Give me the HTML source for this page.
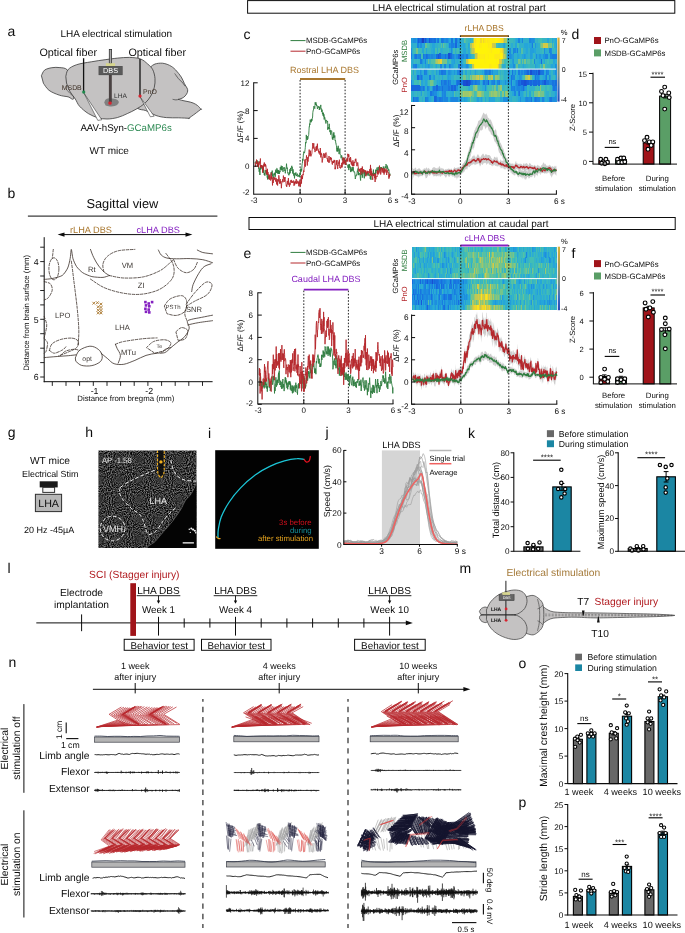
<!DOCTYPE html>
<html lang="en"><head><meta charset="utf-8"><title>LHA electrical stimulation figure</title>
<style>html,body{margin:0;padding:0;background:#fff}body{width:685px;height:933px;overflow:hidden;font-family:"Liberation Sans",sans-serif}svg{display:block;opacity:0.9999;will-change:transform}</style></head>
<body>
<svg width="685" height="933" viewBox="0 0 685 933" font-family="'Liberation Sans', sans-serif" fill="#0c0c0c" text-rendering="geometricPrecision"><defs><linearGradient id="cbar" x1="0" y1="0" x2="0" y2="1"><stop offset="0" stop-color="#d9b23a"/><stop offset="0.12" stop-color="#c9a640"/><stop offset="0.35" stop-color="#a59a5a"/><stop offset="0.6" stop-color="#6f8a90"/><stop offset="0.8" stop-color="#3a6cc0"/><stop offset="1" stop-color="#2748b8"/></linearGradient><clipPath id="hclip"><rect x="98.4" y="450.4" width="98.1" height="97.7"/></clipPath><filter id="speck" x="0" y="0" width="1" height="1" color-interpolation-filters="sRGB"><feTurbulence type="fractalNoise" baseFrequency="0.95" numOctaves="1" seed="3"/><feColorMatrix type="matrix" values="1.1 0 0 0 -0.33  1.1 0 0 0 -0.33  1.1 0 0 0 -0.33  0 0 0 0 1"/></filter></defs>
<rect x="247.6" y="0.6" width="427.2" height="12.6" fill="#fff" stroke="#0c0c0c" stroke-width="1"/>
<text x="459.2" y="10.6" font-size="10" text-anchor="middle">LHA electrical stimulation at rostral part</text>
<rect x="249" y="217.5" width="426.2" height="12" fill="#fff" stroke="#0c0c0c" stroke-width="1"/>
<text x="461" y="227.2" font-size="10" text-anchor="middle">LHA electrical stimulation at caudal part</text>
<text x="7.4" y="36" font-size="14">a</text>
<text x="116.3" y="37.2" font-size="10" text-anchor="middle">LHA electrical stimulation</text>
<text x="68.2" y="56.1" font-size="10.8" text-anchor="middle">Optical fiber</text>
<text x="157.2" y="56.1" font-size="10.8" text-anchor="middle">Optical fiber</text>
<path d="M148 70C148.4 69.5 149.5 67.9 150.7 66.9C151.9 65.9 153.1 64.6 155 64C156.9 63.4 159.9 63 162.3 63.2C164.7 63.4 167.4 64.3 169.6 65.4C171.8 66.5 173.6 67.8 175.5 69.8C177.4 71.8 179.8 74.8 181.3 77.1C182.8 79.4 183.5 81.8 184.4 83.6C185.3 85.4 186.4 86.8 187 88C187.6 89.2 187.8 90 187.7 91C187.6 92 187.2 93.1 186.5 94.2C185.8 95.3 184.8 96.5 183.5 97.4C182.2 98.3 179.4 99.1 178.6 99.4C177.8 99.7 177.9 99.2 178.6 99.4C179.3 99.6 181.4 100.2 183 100.6C184.6 101 186.3 101.2 188 101.6C189.7 102 191.5 102.3 193.1 103C194.7 103.7 196.2 104.5 197.5 105.5C198.8 106.5 200.4 108.6 201 109.2C201.6 109.8 202 108.4 201 109.2C200 110 197 112.3 195 113.8C193 115.3 189.8 117.5 188.8 118.3C187.8 119 190.5 118.4 188.8 118.3C187.1 118.2 182.2 117.9 178.5 117.8C174.8 117.7 170.1 118 166.3 117.6C162.6 117.2 159.4 116.7 156 115.5C152.6 114.3 148.9 111.8 145.8 110.6C142.8 109.4 140.3 110.2 137.7 108.4C135.1 106.6 130.4 104.7 130 100C129.6 95.3 134.2 83.3 135 80Z" fill="#c4c2c2" stroke="#3a3a3a" stroke-width="0.8"/>
<path d="M174.7 73.5C175.3 74.3 177.1 77 178.4 78.6C179.8 80.2 181.7 81.7 182.8 83C183.9 84.3 184.6 85.7 185 86.2" fill="none" stroke="#3a3a3a" stroke-width="0.7"/>
<path d="M172.6 99.3C173.2 99.4 175 99.9 176 99.9C177 99.9 178.2 99.5 178.6 99.4" fill="none" stroke="#3a3a3a" stroke-width="0.7"/>
<path d="M41.4 75.7C41.9 74.8 42.9 71.4 44.6 70.1C46.4 68.8 49.4 68.1 51.9 67.7C54.4 67.3 57.3 67.2 59.9 67.6C62.5 67.9 65.2 67.7 67.2 69.8C69.2 71.9 70.9 75.2 72 80C73.1 84.8 74.5 95.5 73.8 98.3C73.1 101.1 70.4 97.3 68 96.8C65.6 96.3 62.4 96.2 59.2 95.1C56 94 51.6 92.3 49 90.3C46.4 88.3 44.3 84.4 43.4 83.2Z" fill="#c4c2c2" stroke="#3a3a3a" stroke-width="0.8"/>
<path d="M65.8 76.4C66.2 75.2 66.4 71.5 68.2 69.5C70 67.5 72.9 66 76.7 64.7C80.5 63.4 86.4 62.6 91.3 61.8C96.2 60.9 101.5 60.2 105.9 59.6C110.3 59 113.7 58.5 117.6 58.1C121.5 57.7 125.5 57.3 129.3 57.4C133.1 57.5 137.3 57.8 140.4 58.9C143.5 60 145.6 62.2 147.7 64C149.8 65.8 151.6 67.4 152.8 69.8C154 72.2 154.8 75.7 155 78.6C155.2 81.5 155 84.4 154.3 87.3C153.6 90.2 152.3 93.4 150.7 96.1C149.1 98.8 147.2 101.2 144.8 103.4C142.4 105.6 139 107.5 136.1 109.2C133.2 110.9 130.4 112.2 127.3 113.6C124.2 115 121 116.6 117.6 117.5C114.2 118.4 110.3 119 107 119C103.7 119 101.1 118.7 98 117.8C94.9 116.9 91.5 115.5 88.4 113.6C85.3 111.7 81.8 108.7 79.6 106.3C77.4 103.9 76.9 101.4 75.3 99C73.7 96.6 71.6 94.4 70.1 91.7C68.6 89 67.1 84.5 66.5 83Z" fill="#c4c2c2" stroke="#3a3a3a" stroke-width="0.8"/>
<path d="M65.8 88.8C66.5 89.5 68.5 91.9 69.8 93.2C71.1 94.5 73.1 96.2 73.8 96.8" fill="none" stroke="#3a3a3a" stroke-width="0.6"/>
<path d="M84 93.2 97.8 120.4 101.8 119.8Z" fill="#fff" stroke="#3a3a3a" stroke-width="0.6"/>
<path d="M140.2 97 150.4 116.8 154.2 116.2Z" fill="#fff" stroke="#3a3a3a" stroke-width="0.6"/>
<line x1="83.6" y1="58.2" x2="83.6" y2="91.4" stroke="#111" stroke-width="1.3"/>
<circle cx="83.7" cy="92" r="1.5" fill="#1e8a4c" stroke="#1e8a4c" stroke-width="0.2"/>
<line x1="140" y1="59" x2="140" y2="95.4" stroke="#111" stroke-width="1.3"/>
<circle cx="140" cy="96.1" r="1.5" fill="#d9232e" stroke="#d9232e" stroke-width="0.2"/>
<path d="M104.2 102.6C104.5 102 104.9 99.9 106 99.2C107.1 98.5 109.2 98.2 111 98.3C112.8 98.4 115.3 98.9 116.6 99.6C117.9 100.3 118.9 101.4 118.8 102.4C118.7 103.4 117.5 104.7 116 105.4C114.5 106.1 111.7 106.4 110 106.4C108.3 106.4 106.3 105.6 105.6 105.4Z" fill="#808080" stroke="none" stroke-width="0"/>
<rect x="109.3" y="49.4" width="2.3" height="14" fill="#a8a8a8" stroke="#333" stroke-width="0.8"/>
<rect x="108.9" y="74.9" width="2.9" height="27.4" fill="#4a4242"/>
<rect x="105.9" y="63.2" width="9.2" height="3.1" fill="#d6d58e"/>
<rect x="98.9" y="66.2" width="23.4" height="8.7" fill="#5a5a5a" stroke="#333" stroke-width="0.4"/>
<text x="110.6" y="73.3" font-size="7.3" text-anchor="middle" fill="#fff">DBS</text>
<circle cx="110" cy="103.1" r="1.7" fill="#d9232e" stroke="#d9232e" stroke-width="0.2"/>
<text x="114" y="97.8" font-size="6.6" fill="#333">LHA</text>
<text x="61.8" y="89.8" font-size="6.9" fill="#3b2d22">MSDB</text>
<text x="143" y="93.5" font-size="6.9" fill="#3b2d22">PnO</text>
<text x="80.4" y="131" font-size="9.7">AAV-hSyn-<tspan fill="#2e8a54">GCaMP6s</tspan></text>
<text x="109.2" y="154.3" font-size="10" text-anchor="middle">WT mice</text>
<text x="7.4" y="198.4" font-size="14">b</text>
<text x="122.4" y="208.2" font-size="12.8" text-anchor="middle">Sagittal view</text>
<line x1="27.9" y1="216.1" x2="217.4" y2="216.1" stroke="#0c0c0c" stroke-width="1"/>
<text x="91" y="232.7" font-size="9.2" text-anchor="middle" fill="#a9772e">rLHA DBS</text>
<text x="158.2" y="232.7" font-size="9.2" text-anchor="middle" fill="#8420c0">cLHA DBS</text>
<line x1="62" y1="234.6" x2="188" y2="234.6" stroke="#0c0c0c" stroke-width="1"/>
<path d="M57.6 234.6 64.5 232.4 64.5 236.8Z" fill="#0c0c0c" stroke="none" stroke-width="0"/>
<path d="M192.4 234.6 185.5 232.4 185.5 236.8Z" fill="#0c0c0c" stroke="none" stroke-width="0"/>
<line x1="44.2" y1="237.2" x2="44.2" y2="382.2" stroke="#0c0c0c" stroke-width="1"/>
<line x1="43.7" y1="381.7" x2="212.6" y2="381.7" stroke="#0c0c0c" stroke-width="1"/>
<line x1="40.2" y1="247.2" x2="44.2" y2="247.2" stroke="#0c0c0c" stroke-width="0.9"/>
<line x1="40.2" y1="261.6" x2="44.2" y2="261.6" stroke="#0c0c0c" stroke-width="0.9"/>
<line x1="40.2" y1="276" x2="44.2" y2="276" stroke="#0c0c0c" stroke-width="0.9"/>
<line x1="40.2" y1="290.5" x2="44.2" y2="290.5" stroke="#0c0c0c" stroke-width="0.9"/>
<line x1="40.2" y1="304.9" x2="44.2" y2="304.9" stroke="#0c0c0c" stroke-width="0.9"/>
<line x1="40.2" y1="319.3" x2="44.2" y2="319.3" stroke="#0c0c0c" stroke-width="0.9"/>
<line x1="40.2" y1="333.7" x2="44.2" y2="333.7" stroke="#0c0c0c" stroke-width="0.9"/>
<line x1="40.2" y1="348.2" x2="44.2" y2="348.2" stroke="#0c0c0c" stroke-width="0.9"/>
<line x1="40.2" y1="362.6" x2="44.2" y2="362.6" stroke="#0c0c0c" stroke-width="0.9"/>
<line x1="40.2" y1="377" x2="44.2" y2="377" stroke="#0c0c0c" stroke-width="0.9"/>
<text x="36.2" y="264.8" font-size="8.8" text-anchor="middle">4</text>
<text x="36.2" y="322.5" font-size="8.8" text-anchor="middle">5</text>
<text x="36.2" y="380.2" font-size="8.8" text-anchor="middle">6</text>
<line x1="52.3" y1="381.7" x2="52.3" y2="385.9" stroke="#0c0c0c" stroke-width="0.9"/>
<line x1="66" y1="381.7" x2="66" y2="385.9" stroke="#0c0c0c" stroke-width="0.9"/>
<line x1="79.6" y1="381.7" x2="79.6" y2="385.9" stroke="#0c0c0c" stroke-width="0.9"/>
<line x1="93.3" y1="381.7" x2="93.3" y2="385.9" stroke="#0c0c0c" stroke-width="0.9"/>
<line x1="107" y1="381.7" x2="107" y2="385.9" stroke="#0c0c0c" stroke-width="0.9"/>
<line x1="120.6" y1="381.7" x2="120.6" y2="385.9" stroke="#0c0c0c" stroke-width="0.9"/>
<line x1="134.2" y1="381.7" x2="134.2" y2="385.9" stroke="#0c0c0c" stroke-width="0.9"/>
<line x1="147.9" y1="381.7" x2="147.9" y2="385.9" stroke="#0c0c0c" stroke-width="0.9"/>
<line x1="161.6" y1="381.7" x2="161.6" y2="385.9" stroke="#0c0c0c" stroke-width="0.9"/>
<line x1="175.2" y1="381.7" x2="175.2" y2="385.9" stroke="#0c0c0c" stroke-width="0.9"/>
<line x1="188.8" y1="381.7" x2="188.8" y2="385.9" stroke="#0c0c0c" stroke-width="0.9"/>
<line x1="202.5" y1="381.7" x2="202.5" y2="385.9" stroke="#0c0c0c" stroke-width="0.9"/>
<text x="94.6" y="393.8" font-size="8.8" text-anchor="middle">-1</text>
<text x="149.2" y="393.8" font-size="8.8" text-anchor="middle">-2</text>
<text x="125.8" y="401.2" font-size="7.8" text-anchor="middle">Distance from bregma (mm)</text>
<text x="29" y="312.8" font-size="7.8" text-anchor="middle" transform="rotate(-90 29 312.8)">Distance from brain surface (mm)</text>
<g stroke-linecap="round">
<path d="M44.2 357.6C46.3 357.4 53.2 356.8 57.2 356.5C61.2 356.2 65.1 355.9 68.3 355.7C71.4 355.4 74.8 355 76.1 354.8" fill="none" stroke="#3a2f28" stroke-width="0.8"/>
<path d="M75.5 357.6C76.1 356.4 77 352.3 79.4 350.4C81.8 348.5 86.8 346.4 89.9 346.2C93.1 346 96.2 347.7 98.2 349.3C100.3 350.8 101.8 353.3 102.1 355.4C102.5 357.4 102.2 359.8 100.5 361.5C98.8 363.2 95 365 91.9 365.6C88.7 366.3 84.2 366.1 81.6 365.4C79 364.7 77 362.1 76.1 361.5Z" fill="none" stroke="#3a2f28" stroke-width="0.8"/>
<path d="M101 353.2C102.1 354.1 105.5 356.9 107.7 358.7C109.8 360.5 111.4 362.8 114.1 363.7C116.7 364.6 120.3 364.8 123.8 364.3C127.2 363.7 131.2 361.8 134.9 360.4C138.6 358.9 142.3 356.6 146 355.4C149.7 354.2 153.9 353.6 157.1 353.2C160.2 352.7 162.5 353.5 164.8 352.6C167.1 351.7 168.9 349.3 170.9 347.6C173 345.9 174.7 344.5 177 342.6C179.3 340.8 182.8 338.9 184.8 336.5C186.8 334.1 188.8 330.7 189.2 328.2C189.6 325.7 186.9 323 187.3 321.5C187.7 320.1 189.4 320 191.7 319.3C194.1 318.6 198 318.1 201.4 317.4C204.9 316.7 210.7 315.5 212.5 315.2" fill="none" stroke="#3a2f28" stroke-width="0.8"/>
<path d="M187.8 324.9C189.6 324.5 194.5 323.3 198.7 322.6C202.8 321.9 210.2 321 212.5 320.7" fill="none" stroke="#3a2f28" stroke-width="0.8"/>
<path d="M118.2 363.1C118.6 361.8 120.6 357.8 120.4 355.4C120.3 352.9 117.9 350.3 117.1 348.4C116.3 346.6 115.7 345 115.4 344.3" fill="none" stroke="#3a2f28" stroke-width="0.8"/>
<path d="M161.2 353.2C161.9 352.5 163.8 350.2 165.4 349.3C167 348.3 170 347.9 170.9 347.6" fill="none" stroke="#3a2f28" stroke-width="0.8"/>
<path d="M44.2 279.4C45.1 279.3 50.1 279 52.2 278.5C54.3 278.1 60.4 276.7 62.2 275.5C64 274.3 66.8 270 67.7 268C68.7 266 69.8 260.5 70.2 258.3C70.6 256.1 71 249.3 71.3 249.4C71.7 249.5 72.4 256.8 73 258.8C73.6 260.8 75.5 265 76.6 266.6C77.7 268.2 80.9 271.5 82.7 272.7C84.5 273.9 89.5 276 91.9 276.6C94.2 277.1 100.9 277.6 103 277.4C105 277.3 108.6 275.7 109.3 275.5" fill="none" stroke="#3a2f28" stroke-width="0.8"/>
<path d="M90.5 249.4C91 250.8 92.4 255 93.8 257.7C95.2 260.5 97 263.7 98.8 266.1C100.6 268.5 102.6 270.6 104.3 272.2C106.1 273.7 108.5 274.9 109.3 275.5" fill="none" stroke="#3a2f28" stroke-width="0.8"/>
<path d="M197.3 250C198.2 250.4 200.3 251.8 202.8 252.5C205.4 253.1 210.9 253.6 212.5 253.8" fill="none" stroke="#3a2f28" stroke-width="0.8"/>
<path d="M158.4 250C158.9 250.8 159.8 253.6 161.2 255C162.6 256.3 164.2 257.4 166.8 258C169.3 258.7 172.5 258.7 176.5 258.8C180.4 258.9 185.9 258.4 190.3 258.6C194.7 258.7 199.1 259 202.8 259.7C206.5 260.4 210.9 262.2 212.5 262.7" fill="none" stroke="#3a2f28" stroke-width="0.8"/>
<path d="M211.1 263.8C210 264.3 206.3 265 204.2 266.6C202.1 268.2 200.5 270.5 198.7 273.5C196.8 276.5 194.3 281.6 193.1 284.6C192 287.6 192 290.4 191.7 291.6" fill="none" stroke="#3a2f28" stroke-width="0.8"/>
<path d="M103.8 271.6C103.7 270.3 102.3 266.4 103 263.8C103.6 261.2 105.1 258.2 107.7 256.1C110.2 253.9 113.7 251.9 118.2 250.8C122.7 249.7 132.1 249.6 134.9 249.4" fill="none" stroke="#3a2f28" stroke-width="0.8" stroke-dasharray="2.6 1.5"/>
<path d="M109.3 275.5C111.7 275.9 118.1 277.8 123.8 278C129.4 278.2 137.2 278.1 143.2 276.9C149.2 275.7 155.4 273 159.8 270.8C164.2 268.5 167.2 265.1 169.5 263.3C171.8 261.4 173 260.3 173.7 259.7" fill="none" stroke="#3a2f28" stroke-width="0.8" stroke-dasharray="2.6 1.5"/>
<path d="M90.5 279.1C92.8 280.5 99 285.4 104.3 287.7C109.7 290 116.4 291.9 122.4 293C128.4 294.1 134.6 294.8 140.4 294.3C146.2 293.9 152.4 292.3 157.1 290.5C161.7 288.6 165.4 285.8 168.1 283.3C170.9 280.7 172.9 278.2 173.7 274.9C174.5 271.7 174.3 267.5 172.9 263.8C171.5 260.1 166.6 254.6 165.4 252.7" fill="none" stroke="#3a2f28" stroke-width="0.8" stroke-dasharray="2.6 1.5"/>
<path d="M71.3 261.1C71.8 264.3 72.9 272.6 73.8 280.5C74.8 288.3 76.3 299.9 77.2 308.2C78 316.5 78.7 324.3 78.8 330.4C79 336.5 78.1 342.4 78 344.8" fill="none" stroke="#3a2f28" stroke-width="0.8" stroke-dasharray="2.6 1.5"/>
<ellipse cx="53.9" cy="268.8" rx="5" ry="11" fill="none" stroke="#3a2f28" stroke-width="0.8" stroke-dasharray="2.6 1.5"/>
<path d="M53.3 249.4C53.2 250.2 52.9 252.6 52.8 254.1C52.6 255.6 52.3 257.6 52.2 258.3" fill="none" stroke="#3a2f28" stroke-width="0.8" stroke-dasharray="2.6 1.5"/>
<path d="M44.2 281.6C45.2 282 48.9 282.4 50.3 283.8C51.6 285.2 52.5 287.9 52.2 290.2C51.9 292.5 49.7 296.1 48.3 297.7C47 299.3 44.8 299.5 44.2 299.9" fill="none" stroke="#3a2f28" stroke-width="0.8" stroke-dasharray="2.6 1.5"/>
<path d="M44.2 316.5C44.6 317.9 46.5 321.9 46.7 324.9C46.8 327.9 45.4 332.5 45 334.6C44.6 336.7 44.3 336.9 44.2 337.3" fill="none" stroke="#3a2f28" stroke-width="0.8" stroke-dasharray="2.6 1.5"/>
<path d="M44.2 338.7C44.7 339.4 47.2 340.8 47.5 342.9C47.8 345 46.7 349.5 46.1 351.2C45.5 352.9 44.5 352.8 44.2 353.2" fill="none" stroke="#3a2f28" stroke-width="0.8" stroke-dasharray="2.6 1.5"/>
<path d="M49.4 350.4C49.9 349.3 50.2 345.6 52.2 343.7C54.2 341.9 58 340.2 61.4 339.3C64.7 338.4 69.6 337.8 72.4 338.2C75.3 338.5 77.6 339.9 78.3 341.5C79 343.1 78.3 345.9 76.6 347.6C74.9 349.4 71.3 350.7 68.3 352C65.3 353.4 60.2 355.3 58.6 355.9" fill="none" stroke="#3a2f28" stroke-width="0.8" stroke-dasharray="2.6 1.5"/>
<path d="M49.4 350.4C50.3 350.8 52.2 353.2 54.4 353.2C56.6 353.1 60.8 350.9 62.7 349.8C64.7 348.7 65.5 347.1 66.1 346.5" fill="none" stroke="#3a2f28" stroke-width="0.8" stroke-dasharray="2.6 1.5"/>
<path d="M60.5 355.4C61.4 354.7 63.3 352.2 65.5 351.2C67.7 350.2 71.5 349.4 73.8 349.3C76.1 349.1 78.5 350.2 79.4 350.4" fill="none" stroke="#3a2f28" stroke-width="0.8" stroke-dasharray="2.6 1.5"/>
<path d="M115.4 344.3C116.8 343.8 119.1 342.4 123.8 341.5C128.4 340.6 137.6 339.3 143.2 338.7C148.7 338.1 154.7 338 157.1 337.9" fill="none" stroke="#3a2f28" stroke-width="0.8" stroke-dasharray="2.6 1.5"/>
<path d="M146.5 347.6C147.7 346.6 150.7 342.8 153.7 341.5C156.8 340.2 162 339.6 164.8 339.8C167.7 340.1 170.7 341.5 170.9 343.2C171.1 344.8 168.6 348.2 165.9 349.8C163.2 351.5 156.7 352.6 154.8 353.2Z" fill="none" stroke="#3a2f28" stroke-width="0.8" stroke-dasharray="2.6 1.5"/>
<path d="M164.3 306C165.3 304.8 167.4 300.5 170.4 298.8C173.3 297.1 179.3 295.3 182 295.7C184.7 296.2 186.2 298.7 186.7 301.3C187.2 303.8 186.8 308.6 185.1 311C183.4 313.3 179.5 315 176.5 315.4C173.5 315.9 168.6 314 167 313.8Z" fill="none" stroke="#3a2f28" stroke-width="0.8" stroke-dasharray="2.6 1.5"/>
<path d="M186.2 304.1C187.6 302.2 191.3 296.6 194.5 293C197.7 289.4 202.7 283.8 205.6 282.4C208.5 281 211.7 282.7 212 284.6C212.3 286.6 210.5 291.6 207.5 294.3C204.6 297.1 198 299.3 194.5 301.3C191 303.2 188 305.2 186.7 306" fill="none" stroke="#3a2f28" stroke-width="0.8" stroke-dasharray="2.6 1.5"/>
<path d="M173.7 259.7C174.4 261.1 175.8 265.8 177.9 268C179.9 270.2 183.5 272.5 186.2 272.7C188.8 272.9 191.8 271.1 193.7 269.4C195.5 267.7 196.7 263.6 197.3 262.4" fill="none" stroke="#3a2f28" stroke-width="0.8" stroke-dasharray="2.6 1.5"/>
<path d="M175.9 331.8C176.8 331.1 179.5 327.9 181.5 327.6C183.4 327.4 186.9 328.6 187.6 330.4C188.2 332.3 186.9 337.1 185.3 338.7C183.8 340.4 179.3 340.1 178.1 340.4Z" fill="none" stroke="#3a2f28" stroke-width="0.8" stroke-dasharray="2.6 1.5"/>
<path d="M186.7 306C186.4 307.3 184.7 311.3 184.8 313.8C184.8 316.2 186.6 319.5 187 320.7" fill="none" stroke="#3a2f28" stroke-width="0.8" stroke-dasharray="2.6 1.5"/>
</g>
<text x="91.9" y="271.6" font-size="7.6" text-anchor="middle" fill="#3b3531">Rt</text>
<text x="127.4" y="268.2" font-size="7.6" text-anchor="middle" fill="#3b3531">VM</text>
<text x="141.2" y="288.2" font-size="7.6" text-anchor="middle" fill="#3b3531">ZI</text>
<text x="62.7" y="317.6" font-size="7.6" text-anchor="middle" fill="#3b3531">LPO</text>
<text x="122.4" y="330.1" font-size="7.6" text-anchor="middle" fill="#3b3531">LHA</text>
<text x="173.1" y="309" font-size="6" text-anchor="middle" fill="#3b3531">PSTh</text>
<text x="193.9" y="311.5" font-size="7.6" text-anchor="middle" fill="#3b3531">SNR</text>
<text x="128.5" y="354.8" font-size="7.6" text-anchor="middle" fill="#3b3531">MTu</text>
<text x="87.1" y="360.6" font-size="6.8" text-anchor="middle" fill="#3b3531">opt</text>
<text x="159.3" y="347.8" font-size="5.2" text-anchor="middle" fill="#3b3531">Te</text>
<line x1="92.4" y1="301.8" x2="95.2" y2="304.6" stroke="#a9772e" stroke-width="0.9"/>
<line x1="92.4" y1="304.6" x2="95.2" y2="301.8" stroke="#a9772e" stroke-width="0.9"/>
<line x1="96" y1="301.3" x2="98.8" y2="304.1" stroke="#a9772e" stroke-width="0.9"/>
<line x1="96" y1="304.1" x2="98.8" y2="301.3" stroke="#a9772e" stroke-width="0.9"/>
<line x1="99.6" y1="302.7" x2="102.4" y2="305.5" stroke="#a9772e" stroke-width="0.9"/>
<line x1="99.6" y1="305.5" x2="102.4" y2="302.7" stroke="#a9772e" stroke-width="0.9"/>
<line x1="96.8" y1="305.4" x2="99.6" y2="308.2" stroke="#a9772e" stroke-width="0.9"/>
<line x1="96.8" y1="308.2" x2="99.6" y2="305.4" stroke="#a9772e" stroke-width="0.9"/>
<line x1="99.6" y1="306" x2="102.4" y2="308.8" stroke="#a9772e" stroke-width="0.9"/>
<line x1="99.6" y1="308.8" x2="102.4" y2="306" stroke="#a9772e" stroke-width="0.9"/>
<line x1="96.8" y1="308.8" x2="99.6" y2="311.6" stroke="#a9772e" stroke-width="0.9"/>
<line x1="96.8" y1="311.6" x2="99.6" y2="308.8" stroke="#a9772e" stroke-width="0.9"/>
<line x1="99.6" y1="309" x2="102.4" y2="311.8" stroke="#a9772e" stroke-width="0.9"/>
<line x1="99.6" y1="311.8" x2="102.4" y2="309" stroke="#a9772e" stroke-width="0.9"/>
<line x1="96.8" y1="311.5" x2="99.6" y2="314.3" stroke="#a9772e" stroke-width="0.9"/>
<line x1="96.8" y1="314.3" x2="99.6" y2="311.5" stroke="#a9772e" stroke-width="0.9"/>
<line x1="99.6" y1="311.5" x2="102.4" y2="314.3" stroke="#a9772e" stroke-width="0.9"/>
<line x1="99.6" y1="314.3" x2="102.4" y2="311.5" stroke="#a9772e" stroke-width="0.9"/>
<rect x="144.1" y="300.8" width="2.6" height="2.6" fill="#8420c0"/>
<rect x="147.4" y="302.2" width="2.6" height="2.6" fill="#8420c0"/>
<rect x="150.8" y="300.8" width="2.6" height="2.6" fill="#8420c0"/>
<rect x="144.7" y="304.1" width="2.6" height="2.6" fill="#8420c0"/>
<rect x="148" y="305" width="2.6" height="2.6" fill="#8420c0"/>
<rect x="144.1" y="307.5" width="2.6" height="2.6" fill="#8420c0"/>
<rect x="147.4" y="308.3" width="2.6" height="2.6" fill="#8420c0"/>
<rect x="144.7" y="310.5" width="2.6" height="2.6" fill="#8420c0"/>
<rect x="148" y="311.1" width="2.6" height="2.6" fill="#8420c0"/>
<text x="243.6" y="38.8" font-size="14">c</text>
<line x1="290.5" y1="40.6" x2="305.5" y2="40.6" stroke="#2f7d3f" stroke-width="1"/>
<text x="306" y="43.4" font-size="7.8">MSDB-GCaMP6s</text>
<line x1="290.5" y1="51.2" x2="305.5" y2="51.2" stroke="#b5282d" stroke-width="1"/>
<text x="306" y="54" font-size="7.8">PnO-GCaMP6s</text>
<text x="324.6" y="73" font-size="9" text-anchor="middle" fill="#a9772e">Rostral LHA DBS</text>
<line x1="300" y1="79" x2="345.2" y2="79" stroke="#a9772e" stroke-width="1.8"/>
<line x1="300.1" y1="80" x2="300.1" y2="194.2" stroke="#0c0c0c" stroke-width="0.9" stroke-dasharray="1.6 1.6"/>
<line x1="345.1" y1="80" x2="345.1" y2="194.2" stroke="#0c0c0c" stroke-width="0.9" stroke-dasharray="1.6 1.6"/>
<path d="M255.1 162.5 255.3 161.8 255.6 161.6 255.8 163.3 256.1 162.1 256.3 163.3 256.5 162 256.8 162.8 257 160.2 257.3 161.5 257.5 166 257.8 161.5 258 161 258.2 166.2 258.5 164.2 258.7 168.7 259 167.6 259.2 171.8 259.4 168.7 259.7 171.8 259.9 175 260.2 170.4 260.4 165.6 260.7 169.5 260.9 168.1 261.1 168.1 261.4 167.1 261.6 166.4 261.9 165.7 262.1 168.9 262.3 166.3 262.6 168.1 262.8 171.2 263.1 166.9 263.3 166.3 263.6 172.8 263.8 169.8 264 172.5 264.3 175 264.5 173.1 264.8 175.7 265 175.4 265.2 172.2 265.5 171.3 265.7 170.1 266 173.3 266.2 173.5 266.5 170.5 266.7 174.4 266.9 173.4 267.2 177.5 267.4 176.6 267.7 179.5 267.9 173.8 268.1 178.7 268.4 178.2 268.6 176.5 268.9 175.7 269.1 178.7 269.3 177.5 269.6 176.9 269.8 176.3 270.1 175.6 270.3 175.5 270.6 175.2 270.8 175.3 271 173.3 271.3 172 271.5 175.1 271.8 173.9 272 172.7 272.2 170.6 272.5 176.3 272.7 175.6 273 173.6 273.2 178.6 273.5 177.2 273.7 177.6 273.9 175.2 274.2 173.7 274.4 174.9 274.7 172.7 274.9 173.8 275.1 176.8 275.4 176.6 275.6 169.9 275.9 169.6 276.1 172.4 276.4 171.2 276.6 172.8 276.8 168.3 277.1 168.5 277.3 173.4 277.6 173.7 277.8 169.9 278 172.8 278.3 170.2 278.5 173.9 278.8 170.8 279 171 279.3 172.1 279.5 173.9 279.7 170.8 280 172.1 280.2 167.5 280.5 168.6 280.7 167.3 280.9 169.9 281.2 165.7 281.4 166.6 281.7 170.3 281.9 167.4 282.1 166 282.4 168 282.6 170.4 282.9 171.7 283.1 171.8 283.4 169.7 283.6 167.6 283.8 167.7 284.1 168.2 284.3 167.3 284.6 169.9 284.8 170.9 285 170.2 285.3 173.3 285.5 171.7 285.8 168.3 286 168.1 286.3 166.9 286.5 163.7 286.7 166.2 287 168.9 287.2 167.7 287.5 171.6 287.7 173 287.9 173.4 288.2 174.1 288.4 174.3 288.7 173.8 288.9 175.3 289.2 172.1 289.4 174.1 289.6 173 289.9 169.3 290.1 173.3 290.4 169.5 290.6 168 290.8 169.8 291.1 171 291.3 167.1 291.6 167.1 291.8 165.8 292 168.6 292.3 167.3 292.5 168.3 292.8 173.5 293 169.3 293.3 172.8 293.5 174.5 293.7 175.5 294 172.9 294.2 174.8 294.5 178.4 294.7 173.8 294.9 173.8 295.2 173 295.4 173.5 295.7 174.9 295.9 172.4 296.2 176.1 296.4 175.2 296.6 175.8 296.9 175.5 297.1 174.2 297.4 173.7 297.6 175.4 297.8 176.7 298.1 176.2 298.3 175.2 298.6 174.9 298.8 176 299.1 177 299.3 176.9 299.5 174.7 299.8 176.6 300 172.7 300.3 175 300.5 174.4 300.7 168.6 301 171.8 301.2 170.7 301.5 169 301.7 170.5 302 165.2 302.2 163.3 302.4 163.2 302.7 158.9 302.9 160.7 303.2 157.2 303.4 154 303.6 154.2 303.9 151.6 304.1 153.1 304.4 152.2 304.6 152.5 304.8 151.4 305.1 149.4 305.3 147.5 305.6 142.1 305.8 143.3 306.1 142.9 306.3 134.9 306.5 138.8 306.8 139.6 307 137.9 307.3 136.2 307.5 139.8 307.7 139.3 308 138.7 308.2 136 308.5 135.7 308.7 134.7 309 130.2 309.2 126.8 309.4 127.1 309.7 123.6 309.9 124.9 310.2 119.7 310.4 120.4 310.6 121 310.9 122.4 311.1 119.6 311.4 121.6 311.6 118.9 311.9 120.8 312.1 119.8 312.3 118.7 312.6 117 312.8 112.7 313.1 110.9 313.3 110 313.5 110.1 313.8 106.3 314 106.9 314.3 106.5 314.5 107.8 314.8 108.7 315 105.2 315.2 102.3 315.5 104.7 315.7 103.8 316 102.4 316.2 105 316.4 104.3 316.7 106.1 316.9 105.4 317.2 106.3 317.4 108.9 317.6 108 317.9 107.3 318.1 106.1 318.4 106.4 318.6 107 318.9 107.7 319.1 106.6 319.3 110 319.6 107.5 319.8 106.9 320.1 109.4 320.3 107.3 320.5 106.2 320.8 104.9 321 107.7 321.3 108 321.5 108.4 321.8 112 322 109.7 322.2 111.7 322.5 114 322.7 112.8 323 115.6 323.2 114.6 323.4 112.7 323.7 116.5 323.9 114.3 324.2 119.5 324.4 116.8 324.7 117 324.9 118 325.1 119 325.4 121.2 325.6 120.5 325.9 123.5 326.1 121.7 326.3 120.2 326.6 120.1 326.8 121 327.1 121.6 327.3 121.7 327.6 121 327.8 129.8 328 127.6 328.3 128.6 328.5 127 328.8 128.7 329 127.6 329.2 123.8 329.5 129 329.7 128.3 330 132.1 330.2 130 330.4 132 330.7 134.7 330.9 134 331.2 131.5 331.4 130.8 331.7 130.6 331.9 132.8 332.1 136.8 332.4 139.1 332.6 136.9 332.9 139.8 333.1 137.6 333.3 133.6 333.6 138 333.8 132.3 334.1 134.7 334.3 135.8 334.6 137.5 334.8 135.5 335 140.4 335.3 140.8 335.5 140.2 335.8 143.2 336 143.1 336.2 145.4 336.5 145.6 336.7 149.7 337 151.5 337.2 148.1 337.5 151.4 337.7 147.8 337.9 150.8 338.2 145.8 338.4 151.1 338.7 151.2 338.9 152 339.1 154.1 339.4 151.9 339.6 149.9 339.9 148.5 340.1 153.7 340.4 155.1 340.6 155.3 340.8 155.7 341.1 158.2 341.3 157.7 341.6 155.3 341.8 155.7 342 156.9 342.3 160.2 342.5 158.7 342.8 159.8 343 160.3 343.2 157.9 343.5 158.3 343.7 159.3 344 158 344.2 159.7 344.5 158.6 344.7 158.6 344.9 159.4 345.2 162.7 345.4 161.8 345.7 160.4 345.9 164.7 346.1 163.6 346.4 163.8 346.6 164.1 346.9 164.6 347.1 164.9 347.4 165.4 347.6 166.4 347.8 167.4 348.1 167.9 348.3 165.2 348.6 167 348.8 170.1 349 164 349.3 166.4 349.5 164.6 349.8 167.9 350 166.3 350.3 167.7 350.5 169.5 350.7 172.1 351 167.2 351.2 171.2 351.5 169.5 351.7 169.1 351.9 171.3 352.2 168.6 352.4 170.5 352.7 167.1 352.9 168.3 353.2 167.2 353.4 167.6 353.6 171.4 353.9 172.2 354.1 172.1 354.4 171.6 354.6 172.1 354.8 173 355.1 176.1 355.3 179 355.6 177.4 355.8 175.7 356 176.1 356.3 175.1 356.5 175.4 356.8 173.8 357 173.7 357.3 170.8 357.5 171.5 357.7 170.7 358 168.4 358.2 175.2 358.5 172.2 358.7 175 358.9 174.3 359.2 172.9 359.4 174.1 359.7 174.2 359.9 173.9 360.2 176.4 360.4 178.8 360.6 180.5 360.9 170.5 361.1 171.1 361.4 173.6 361.6 175.2 361.8 173.8 362.1 170.7 362.3 177.7 362.6 174.6 362.8 171.1 363.1 171.3 363.3 171.1 363.5 171.5 363.8 169.5 364 175.3 364.3 178.3 364.5 174.2 364.7 171.8 365 174.3 365.2 171.4 365.5 175.8 365.7 175.2 365.9 172.4 366.2 173.5 366.4 173.1 366.7 175.1 366.9 175.3 367.2 175.2 367.4 174.1 367.6 172.2 367.9 172.9 368.1 175.5 368.4 173.2 368.6 174.2 368.8 174.3 369.1 175.7 369.3 174.9 369.6 174.8 369.8 175.9 370.1 175.8 370.3 178.9 370.5 175.9 370.8 178.5 371 179.9 371.3 175 371.5 175.5 371.7 173.5 372 175.5 372.2 173.2 372.5 173.5 372.7 173.4 373 175.4 373.2 175.6 373.4 169.6 373.7 175.6 373.9 173.8 374.2 172.9 374.4 173 374.6 174.4 374.9 174.3 375.1 173 375.4 175 375.6 169.7 375.9 173.3 376.1 170.5 376.3 170.5 376.6 171 376.8 169.1 377.1 167.5 377.3 171 377.5 170.2 377.8 170 378 168.5 378.3 166.9 378.5 168.6 378.7 170.7 379 171.4 379.2 168.2 379.5 168.8 379.7 168.8 380 167.9 380.2 167.4 380.4 168.2 380.7 170.3 380.9 167.2 381.2 169 381.4 167.2 381.6 168.2 381.9 169.1 382.1 168.1 382.4 169.1 382.6 169.7 382.9 169.1 383.1 167.4 383.3 166.5 383.6 168.7 383.8 167.7 384.1 168.3 384.3 168.6 384.5 171.5 384.8 170.2 385 166.8 385.3 166.3 385.5 167.8 385.8 166.5 386 164.1 386.2 165 386.5 165.4 386.7 166.7 387 168.9 387.2 165.6 387.4 168.3 387.7 167.5 387.9 167.7 388.2 170.8 388.4 169.2 388.7 169.4 388.9 169.3 389.1 171.2 389.4 177.1 389.6 174.5 389.9 175.4 390.1 173.6" fill="none" stroke="#2f7d3f" stroke-width="0.9" stroke-linejoin="round"/>
<path d="M255.1 162.5 255.3 164.3 255.6 166.7 255.8 163.6 256.1 163.9 256.3 162.3 256.5 159.6 256.8 163.6 257 161.3 257.3 163.2 257.5 162.8 257.8 165.5 258 166.8 258.2 164.7 258.5 167.3 258.7 162.5 259 165.2 259.2 162.7 259.4 161.4 259.7 163.4 259.9 162 260.2 161.6 260.4 158.5 260.7 167.9 260.9 165.1 261.1 166.8 261.4 166.4 261.6 165 261.9 167.6 262.1 165.9 262.3 165.6 262.6 172.7 262.8 168.3 263.1 166.9 263.3 170.2 263.6 164.5 263.8 165.4 264 164.5 264.3 162.5 264.5 166.3 264.8 163.7 265 164.3 265.2 166.6 265.5 164.2 265.7 165.5 266 165.4 266.2 173.2 266.5 172.6 266.7 174.3 266.9 170.3 267.2 174.5 267.4 168.8 267.7 174.7 267.9 172 268.1 173.3 268.4 174.3 268.6 175.8 268.9 179.2 269.1 178.7 269.3 174.6 269.6 175.8 269.8 179.7 270.1 176.4 270.3 179.8 270.6 180.5 270.8 179.1 271 174.3 271.3 172.6 271.5 178.6 271.8 176.4 272 179.6 272.2 177.5 272.5 185.4 272.7 181.6 273 179.9 273.2 183 273.5 179.5 273.7 180.1 273.9 177.5 274.2 179.8 274.4 177.7 274.7 179 274.9 177.6 275.1 178.8 275.4 179.7 275.6 181.5 275.9 177.8 276.1 178 276.4 179.9 276.6 184.3 276.8 184.5 277.1 179 277.3 181.5 277.6 185.5 277.8 182.5 278 179.7 278.3 179.5 278.5 181.4 278.8 175.3 279 176.8 279.3 179.4 279.5 183.6 279.7 182.3 280 180.7 280.2 179.1 280.5 183.4 280.7 181.1 280.9 181.8 281.2 184.2 281.4 188.2 281.7 183.3 281.9 183.2 282.1 181 282.4 181.3 282.6 179.3 282.9 181.4 283.1 182.2 283.4 175.6 283.6 178.2 283.8 178.5 284.1 178.5 284.3 181.9 284.6 177.5 284.8 178.6 285 177 285.3 179.9 285.5 180.7 285.8 180.7 286 183.3 286.3 185.9 286.5 185.1 286.7 186.9 287 184.8 287.2 185 287.5 181 287.7 180.9 287.9 184 288.2 181 288.4 178.1 288.7 184.8 288.9 184.2 289.2 184.8 289.4 186.7 289.6 186.1 289.9 182.8 290.1 184.7 290.4 180.6 290.6 180.7 290.8 181.5 291.1 181.8 291.3 179.9 291.6 182.7 291.8 181.4 292 182.7 292.3 182.6 292.5 181.4 292.8 181.9 293 183 293.3 180.6 293.5 181.1 293.7 180.8 294 185.8 294.2 185.2 294.5 182.1 294.7 184.6 294.9 183.6 295.2 181 295.4 183.4 295.7 182.3 295.9 182.9 296.2 179.1 296.4 181.2 296.6 183.7 296.9 182.7 297.1 183.5 297.4 181.5 297.6 180.8 297.8 182.6 298.1 182.8 298.3 181.9 298.6 184.4 298.8 186.3 299.1 181.2 299.3 184.8 299.5 185.6 299.8 182 300 180.1 300.3 182.4 300.5 186.4 300.7 182.4 301 181.4 301.2 177.3 301.5 183.6 301.7 175.2 302 178.3 302.2 176.2 302.4 179.1 302.7 176.1 302.9 174.2 303.2 175.1 303.4 171.8 303.6 170.6 303.9 172 304.1 168.2 304.4 166.8 304.6 164.1 304.8 159.6 305.1 162.8 305.3 166.7 305.6 163.3 305.8 159.1 306.1 159.8 306.3 158.5 306.5 155.4 306.8 158.6 307 159.2 307.3 165.5 307.5 161.3 307.7 157.2 308 161.7 308.2 159.4 308.5 157 308.7 154.8 309 152.2 309.2 149.6 309.4 152.3 309.7 156.1 309.9 156.3 310.2 154.4 310.4 150.7 310.6 155.9 310.9 156.2 311.1 156.2 311.4 154.3 311.6 154.5 311.9 153.1 312.1 150.1 312.3 149.3 312.6 146.2 312.8 143 313.1 146.9 313.3 148.5 313.5 145.5 313.8 143.3 314 147.4 314.3 147.3 314.5 149.5 314.8 149 315 152.1 315.2 150.4 315.5 150.7 315.7 150 316 146.7 316.2 147.8 316.4 150.3 316.7 145.9 316.9 150.8 317.2 146.1 317.4 143.7 317.6 147.8 317.9 149.1 318.1 149.8 318.4 149.6 318.6 152.3 318.9 151 319.1 153.6 319.3 153.4 319.6 151.5 319.8 152.3 320.1 154.9 320.3 148 320.5 152.5 320.8 157.4 321 152.8 321.3 154.8 321.5 153.8 321.8 154.6 322 159.2 322.2 162.5 322.5 159.3 322.7 159.6 323 156.8 323.2 157.4 323.4 156.5 323.7 153.2 323.9 153.4 324.2 154.4 324.4 156.3 324.7 157.8 324.9 153.8 325.1 157.7 325.4 154.4 325.6 153.2 325.9 153.3 326.1 152.6 326.3 153.8 326.6 154.6 326.8 155.6 327.1 158.7 327.3 158.1 327.6 161.6 327.8 159.5 328 159.7 328.3 160.7 328.5 161.2 328.8 162.7 329 156 329.2 161.7 329.5 162.4 329.7 161.7 330 160 330.2 157.6 330.4 159.6 330.7 157 330.9 159.1 331.2 158.5 331.4 158 331.7 161 331.9 162.5 332.1 163.9 332.4 164.6 332.6 161.4 332.9 163.1 333.1 161.5 333.3 163 333.6 161.4 333.8 162.7 334.1 159.9 334.3 162 334.6 161.6 334.8 160.2 335 169.2 335.3 167.7 335.5 169.1 335.8 165.8 336 163.5 336.2 162.3 336.5 160.7 336.7 164.7 337 160 337.2 164.5 337.5 166.6 337.7 168.9 337.9 164.9 338.2 165.5 338.4 164.1 338.7 162.8 338.9 161.6 339.1 163.6 339.4 159.7 339.6 166 339.9 167.9 340.1 167.2 340.4 168.4 340.6 168.4 340.8 166.7 341.1 165 341.3 165.9 341.6 167.3 341.8 162.8 342 167.4 342.3 165.1 342.5 162.5 342.8 163 343 157.3 343.2 164.4 343.5 163.3 343.7 160.4 344 158.2 344.2 161 344.5 163 344.7 158.5 344.9 164.1 345.2 163.2 345.4 161.7 345.7 165 345.9 164.4 346.1 161 346.4 161.5 346.6 159.4 346.9 160.7 347.1 157.9 347.4 161.1 347.6 161.5 347.8 153.8 348.1 155.6 348.3 154.4 348.6 157 348.8 154.5 349 158 349.3 161.6 349.5 158.4 349.8 160.2 350 160.4 350.3 162.1 350.5 157 350.7 158.1 351 160.7 351.2 164.2 351.5 163.6 351.7 161.6 351.9 165.3 352.2 163.9 352.4 164 352.7 166.2 352.9 160.3 353.2 166.3 353.4 162.6 353.6 163.1 353.9 165.9 354.1 161.8 354.4 162 354.6 162 354.8 163.1 355.1 161.3 355.3 159.3 355.6 161.2 355.8 158.7 356 160.4 356.3 161.2 356.5 162.8 356.8 166 357 166.2 357.3 164.9 357.5 164.9 357.7 162.4 358 164.7 358.2 166.8 358.5 168.7 358.7 170 358.9 171.7 359.2 171.7 359.4 169.1 359.7 170.6 359.9 171.1 360.2 168.6 360.4 170 360.6 170.6 360.9 174.6 361.1 168.2 361.4 169.5 361.6 168 361.8 168.5 362.1 171.9 362.3 166.5 362.6 171 362.8 172.5 363.1 173.5 363.3 171.1 363.5 169.5 363.8 170.8 364 170.3 364.3 170.4 364.5 170.8 364.7 172.1 365 170.2 365.2 171.2 365.5 173 365.7 170.6 365.9 176.3 366.2 174 366.4 172.7 366.7 173.3 366.9 171.7 367.2 170.8 367.4 173.4 367.6 173.7 367.9 171.3 368.1 172 368.4 172.5 368.6 172.5 368.8 171.3 369.1 172.5 369.3 173.1 369.6 171.6 369.8 169.2 370.1 175.4 370.3 170 370.5 164.9 370.8 175 371 168.5 371.3 175.8 371.5 171.4 371.7 171.1 372 172.9 372.2 177 372.5 177.5 372.7 179.8 373 173.8 373.2 174.3 373.4 175.4 373.7 174.8 373.9 174.1 374.2 174.4 374.4 176.3 374.6 178.1 374.9 173.9 375.1 182 375.4 173.7 375.6 178 375.9 179.3 376.1 178.2 376.3 177.3 376.6 177 376.8 176 377.1 176.7 377.3 170.7 377.5 174 377.8 170.3 378 174.2 378.3 174.4 378.5 173.2 378.7 171.1 379 173.3 379.2 171 379.5 165.6 379.7 171 380 171.5 380.2 169.1 380.4 171.4 380.7 174.5 380.9 172.9 381.2 167.6 381.4 167.5 381.6 167.9 381.9 170.1 382.1 172.4 382.4 169.2 382.6 168.1 382.9 171.2 383.1 168.6 383.3 173 383.6 170.6 383.8 171.2 384.1 174.6 384.3 168.6 384.5 172.3 384.8 172.5 385 172.8 385.3 170.8 385.5 170.3 385.8 171.3 386 168.6 386.2 170.5 386.5 172.1 386.7 175 387 169.8 387.2 170 387.4 172.3 387.7 171.6 387.9 171.6 388.2 172.6 388.4 172.4 388.7 173 388.9 178.7 389.1 175.2 389.4 177.2 389.6 174 389.9 175.6 390.1 175.1" fill="none" stroke="#b5282d" stroke-width="0.9" stroke-linejoin="round"/>
<line x1="253.7" y1="82.3" x2="253.7" y2="194.7" stroke="#0c0c0c" stroke-width="1"/>
<line x1="253.7" y1="194.2" x2="390.6" y2="194.2" stroke="#0c0c0c" stroke-width="1"/>
<line x1="253.7" y1="82.8" x2="257.7" y2="82.8" stroke="#0c0c0c" stroke-width="1"/>
<text x="249.5" y="85.7" font-size="8" text-anchor="end">12</text>
<line x1="253.7" y1="110.6" x2="257.7" y2="110.6" stroke="#0c0c0c" stroke-width="1"/>
<text x="249.5" y="113.5" font-size="8" text-anchor="end">8</text>
<line x1="253.7" y1="138.4" x2="257.7" y2="138.4" stroke="#0c0c0c" stroke-width="1"/>
<text x="249.5" y="141.3" font-size="8" text-anchor="end">4</text>
<line x1="253.7" y1="166.2" x2="257.7" y2="166.2" stroke="#0c0c0c" stroke-width="1"/>
<text x="249.5" y="169.1" font-size="8" text-anchor="end">0</text>
<text x="254" y="203.3" font-size="8" text-anchor="middle">-3</text>
<line x1="300.1" y1="194.2" x2="300.1" y2="189.7" stroke="#0c0c0c" stroke-width="1"/>
<text x="300.1" y="203.3" font-size="8" text-anchor="middle">0</text>
<line x1="345.1" y1="194.2" x2="345.1" y2="189.7" stroke="#0c0c0c" stroke-width="1"/>
<text x="345.1" y="203.3" font-size="8" text-anchor="middle">3</text>
<line x1="390.1" y1="194.2" x2="390.1" y2="189.7" stroke="#0c0c0c" stroke-width="1"/>
<text x="387.8" y="203.3" font-size="8">6 s</text>
<text x="242.6" y="126.8" font-size="8" text-anchor="middle" transform="rotate(-90 242.6 126.8)">ΔF/F (%)</text>
<text x="249.5" y="195.4" font-size="8" text-anchor="end">-2</text>
<g shape-rendering="crispEdges">
<path fill="#2096dd" d="M411.2 37.6h1.3v5.5h-1.3zM415.2 37.6h1.3v5.5h-1.3zM435.2 37.6h1.3v5.5h-1.3zM447.2 37.6h2.3v5.5h-2.3zM457.2 37.6h1.3v5.5h-1.3zM533.2 37.6h2.3v5.5h-2.3zM552.2 37.6h1.3v5.5h-1.3zM554.2 37.6h1.3v5.5h-1.3zM418.2 42.9h1.3v5.5h-1.3zM423.2 42.9h1.3v5.5h-1.3zM433.2 42.9h1.3v5.5h-1.3zM449.2 42.9h1.3v5.5h-1.3zM454.2 42.9h1.3v5.5h-1.3zM457.2 42.9h2.3v5.5h-2.3zM461.2 42.9h1.3v5.5h-1.3zM498.2 42.9h1.3v5.5h-1.3zM531.2 42.9h1.3v5.5h-1.3zM534.2 42.9h2.3v5.5h-2.3zM440.2 48.1h1.3v5.5h-1.3zM467.2 48.1h1.3v5.5h-1.3zM508.2 48.1h1.3v5.5h-1.3zM510.2 48.1h1.3v5.5h-1.3zM516.2 48.1h1.3v5.5h-1.3zM530.2 48.1h1.3v5.5h-1.3zM543.2 48.1h1.3v5.5h-1.3zM546.2 48.1h1.3v5.5h-1.3zM416.2 53.3h1.3v5.5h-1.3zM420.2 53.3h1.3v5.5h-1.3zM425.2 53.3h1.3v5.5h-1.3zM429.2 53.3h1.3v5.5h-1.3zM434.2 53.3h2.3v5.5h-2.3zM453.2 53.3h2.3v5.5h-2.3zM463.2 53.3h3.3v5.5h-3.3zM468.2 53.3h1.3v5.5h-1.3zM508.2 53.3h1.3v5.5h-1.3zM510.2 53.3h2.3v5.5h-2.3zM523.2 53.3h2.3v5.5h-2.3zM530.2 53.3h1.3v5.5h-1.3zM538.2 53.3h3.3v5.5h-3.3zM542.2 53.3h3.3v5.5h-3.3zM421.2 58.6h2.3v5.5h-2.3zM451.2 58.6h1.3v5.5h-1.3zM454.2 58.6h1.3v5.5h-1.3zM456.2 58.6h1.3v5.5h-1.3zM460.2 58.6h2.3v5.5h-2.3zM512.2 58.6h2.3v5.5h-2.3zM536.2 58.6h1.3v5.5h-1.3zM538.2 58.6h1.3v5.5h-1.3zM412.2 63.8h1.3v5.5h-1.3zM416.2 63.8h1.3v5.5h-1.3zM427.2 63.8h2.3v5.5h-2.3zM445.2 63.8h1.3v5.5h-1.3zM452.2 63.8h1.3v5.5h-1.3zM455.2 63.8h1.3v5.5h-1.3zM461.2 63.8h2.3v5.5h-2.3zM464.2 63.8h1.3v5.5h-1.3zM509.2 63.8h1.3v5.5h-1.3zM552.2 63.8h1.3v5.5h-1.3zM555.2 63.8h1.3v5.5h-1.3zM415.2 69.1h1.3v5.7h-1.3zM421.2 69.1h1.3v5.7h-1.3zM433.2 69.1h1.3v5.7h-1.3zM436.2 69.1h1.3v5.7h-1.3zM440.2 69.1h1.3v5.7h-1.3zM449.2 69.1h2.3v5.7h-2.3zM453.2 69.1h2.3v5.7h-2.3zM460.2 69.1h2.3v5.7h-2.3zM474.2 69.1h1.3v5.7h-1.3zM483.2 69.1h1.3v5.7h-1.3zM486.2 69.1h1.3v5.7h-1.3zM490.2 69.1h1.3v5.7h-1.3zM494.2 69.1h1.3v5.7h-1.3zM496.2 69.1h1.3v5.7h-1.3zM505.2 69.1h1.3v5.7h-1.3zM512.2 69.1h1.3v5.7h-1.3zM514.2 69.1h1.3v5.7h-1.3zM519.2 69.1h2.3v5.7h-2.3zM522.2 69.1h2.3v5.7h-2.3zM555.2 69.1h1.3v5.7h-1.3zM430.2 74.5h1.3v5.7h-1.3zM433.2 74.5h2.3v5.7h-2.3zM437.2 74.5h1.3v5.7h-1.3zM510.2 74.5h1.3v5.7h-1.3zM518.2 74.5h3.3v5.7h-3.3zM536.2 74.5h1.3v5.7h-1.3zM538.2 74.5h2.3v5.7h-2.3zM544.2 74.5h1.3v5.7h-1.3zM555.2 74.5h1.3v5.7h-1.3zM438.2 79.9h1.3v5.7h-1.3zM453.2 79.9h1.3v5.7h-1.3zM455.2 79.9h1.3v5.7h-1.3zM481.2 79.9h1.3v5.7h-1.3zM493.2 79.9h1.3v5.7h-1.3zM496.2 79.9h1.3v5.7h-1.3zM510.2 79.9h1.3v5.7h-1.3zM514.2 79.9h2.3v5.7h-2.3zM428.2 85.3h1.3v5.7h-1.3zM431.2 85.3h2.3v5.7h-2.3zM442.2 85.3h1.3v5.7h-1.3zM456.2 85.3h1.3v5.7h-1.3zM510.2 85.3h1.3v5.7h-1.3zM514.2 85.3h2.3v5.7h-2.3zM519.2 85.3h1.3v5.7h-1.3zM525.2 85.3h1.3v5.7h-1.3zM551.2 85.3h2.3v5.7h-2.3zM554.2 85.3h1.3v5.7h-1.3zM420.2 90.8h1.3v5.7h-1.3zM429.2 90.8h1.3v5.7h-1.3zM433.2 90.8h1.3v5.7h-1.3zM435.2 90.8h1.3v5.7h-1.3zM445.2 90.8h1.3v5.7h-1.3zM513.2 90.8h1.3v5.7h-1.3zM412.2 96.2h1.3v5.7h-1.3zM427.2 96.2h2.3v5.7h-2.3zM431.2 96.2h1.3v5.7h-1.3zM442.2 96.2h1.3v5.7h-1.3zM458.2 96.2h1.3v5.7h-1.3zM461.2 96.2h1.3v5.7h-1.3zM464.2 96.2h1.3v5.7h-1.3zM476.2 96.2h1.3v5.7h-1.3zM478.2 96.2h1.3v5.7h-1.3zM480.2 96.2h1.3v5.7h-1.3zM488.2 96.2h1.3v5.7h-1.3zM502.2 96.2h1.3v5.7h-1.3zM507.2 96.2h1.3v5.7h-1.3zM520.2 96.2h1.3v5.7h-1.3zM522.2 96.2h1.3v5.7h-1.3zM525.2 96.2h1.3v5.7h-1.3zM530.2 96.2h1.3v5.7h-1.3zM539.2 96.2h1.3v5.7h-1.3zM541.2 96.2h1.3v5.7h-1.3zM543.2 96.2h1.3v5.7h-1.3zM546.2 96.2h1.3v5.7h-1.3zM551.2 96.2h1.3v5.7h-1.3zM555.2 96.2h1.3v5.7h-1.3z"/>
<path fill="#239edc" d="M412.2 37.6h1.3v5.5h-1.3zM416.2 37.6h1.3v5.5h-1.3zM436.2 37.6h1.3v5.5h-1.3zM444.2 37.6h1.3v5.5h-1.3zM458.2 37.6h1.3v5.5h-1.3zM515.2 37.6h1.3v5.5h-1.3zM517.2 37.6h1.3v5.5h-1.3zM519.2 37.6h1.3v5.5h-1.3zM528.2 37.6h1.3v5.5h-1.3zM539.2 37.6h1.3v5.5h-1.3zM414.2 42.9h1.3v5.5h-1.3zM419.2 42.9h1.3v5.5h-1.3zM421.2 42.9h1.3v5.5h-1.3zM424.2 42.9h1.3v5.5h-1.3zM431.2 42.9h1.3v5.5h-1.3zM456.2 42.9h1.3v5.5h-1.3zM459.2 42.9h1.3v5.5h-1.3zM464.2 42.9h1.3v5.5h-1.3zM468.2 42.9h1.3v5.5h-1.3zM503.2 42.9h2.3v5.5h-2.3zM514.2 42.9h1.3v5.5h-1.3zM530.2 42.9h1.3v5.5h-1.3zM537.2 42.9h1.3v5.5h-1.3zM555.2 42.9h1.3v5.5h-1.3zM430.2 48.1h1.3v5.5h-1.3zM437.2 48.1h1.3v5.5h-1.3zM448.2 48.1h1.3v5.5h-1.3zM450.2 48.1h1.3v5.5h-1.3zM454.2 48.1h1.3v5.5h-1.3zM458.2 48.1h1.3v5.5h-1.3zM507.2 48.1h1.3v5.5h-1.3zM512.2 48.1h1.3v5.5h-1.3zM515.2 48.1h1.3v5.5h-1.3zM529.2 48.1h1.3v5.5h-1.3zM531.2 48.1h3.3v5.5h-3.3zM537.2 48.1h1.3v5.5h-1.3zM541.2 48.1h1.3v5.5h-1.3zM548.2 48.1h1.3v5.5h-1.3zM550.2 48.1h1.3v5.5h-1.3zM422.2 53.3h1.3v5.5h-1.3zM455.2 53.3h1.3v5.5h-1.3zM467.2 53.3h1.3v5.5h-1.3zM506.2 53.3h2.3v5.5h-2.3zM512.2 53.3h2.3v5.5h-2.3zM525.2 53.3h1.3v5.5h-1.3zM527.2 53.3h1.3v5.5h-1.3zM529.2 53.3h1.3v5.5h-1.3zM531.2 53.3h1.3v5.5h-1.3zM536.2 53.3h1.3v5.5h-1.3zM547.2 53.3h1.3v5.5h-1.3zM453.2 58.6h1.3v5.5h-1.3zM511.2 58.6h1.3v5.5h-1.3zM533.2 58.6h1.3v5.5h-1.3zM540.2 58.6h1.3v5.5h-1.3zM554.2 58.6h1.3v5.5h-1.3zM418.2 63.8h1.3v5.5h-1.3zM424.2 63.8h2.3v5.5h-2.3zM429.2 63.8h1.3v5.5h-1.3zM431.2 63.8h1.3v5.5h-1.3zM435.2 63.8h1.3v5.5h-1.3zM439.2 63.8h1.3v5.5h-1.3zM441.2 63.8h1.3v5.5h-1.3zM450.2 63.8h2.3v5.5h-2.3zM459.2 63.8h1.3v5.5h-1.3zM465.2 63.8h1.3v5.5h-1.3zM467.2 63.8h2.3v5.5h-2.3zM503.2 63.8h1.3v5.5h-1.3zM534.2 63.8h2.3v5.5h-2.3zM550.2 63.8h1.3v5.5h-1.3zM412.2 69.1h1.3v5.7h-1.3zM420.2 69.1h1.3v5.7h-1.3zM435.2 69.1h1.3v5.7h-1.3zM451.2 69.1h1.3v5.7h-1.3zM475.2 69.1h1.3v5.7h-1.3zM491.2 69.1h1.3v5.7h-1.3zM497.2 69.1h1.3v5.7h-1.3zM513.2 69.1h1.3v5.7h-1.3zM552.2 69.1h1.3v5.7h-1.3zM418.2 74.5h1.3v5.7h-1.3zM422.2 74.5h1.3v5.7h-1.3zM432.2 74.5h1.3v5.7h-1.3zM447.2 74.5h2.3v5.7h-2.3zM450.2 74.5h1.3v5.7h-1.3zM521.2 74.5h1.3v5.7h-1.3zM541.2 74.5h1.3v5.7h-1.3zM549.2 74.5h2.3v5.7h-2.3zM452.2 79.9h1.3v5.7h-1.3zM475.2 79.9h1.3v5.7h-1.3zM482.2 79.9h1.3v5.7h-1.3zM485.2 79.9h1.3v5.7h-1.3zM498.2 79.9h1.3v5.7h-1.3zM508.2 79.9h2.3v5.7h-2.3zM429.2 85.3h1.3v5.7h-1.3zM485.2 85.3h1.3v5.7h-1.3zM524.2 85.3h1.3v5.7h-1.3zM526.2 85.3h1.3v5.7h-1.3zM530.2 85.3h1.3v5.7h-1.3zM546.2 85.3h1.3v5.7h-1.3zM421.2 90.8h1.3v5.7h-1.3zM426.2 90.8h1.3v5.7h-1.3zM438.2 90.8h1.3v5.7h-1.3zM442.2 90.8h1.3v5.7h-1.3zM554.2 90.8h2.3v5.7h-2.3zM417.2 96.2h1.3v5.7h-1.3zM422.2 96.2h1.3v5.7h-1.3zM433.2 96.2h1.3v5.7h-1.3zM446.2 96.2h1.3v5.7h-1.3zM450.2 96.2h1.3v5.7h-1.3zM457.2 96.2h1.3v5.7h-1.3zM459.2 96.2h1.3v5.7h-1.3zM463.2 96.2h1.3v5.7h-1.3zM477.2 96.2h1.3v5.7h-1.3zM481.2 96.2h1.3v5.7h-1.3zM489.2 96.2h1.3v5.7h-1.3zM499.2 96.2h1.3v5.7h-1.3zM504.2 96.2h1.3v5.7h-1.3zM511.2 96.2h1.3v5.7h-1.3zM527.2 96.2h1.3v5.7h-1.3zM544.2 96.2h1.3v5.7h-1.3zM549.2 96.2h1.3v5.7h-1.3z"/>
<path fill="#1d8edf" d="M413.2 37.6h2.3v5.5h-2.3zM443.2 37.6h1.3v5.5h-1.3zM445.2 37.6h1.3v5.5h-1.3zM456.2 37.6h1.3v5.5h-1.3zM526.2 37.6h1.3v5.5h-1.3zM530.2 37.6h3.3v5.5h-3.3zM416.2 42.9h1.3v5.5h-1.3zM420.2 42.9h1.3v5.5h-1.3zM450.2 42.9h1.3v5.5h-1.3zM453.2 42.9h1.3v5.5h-1.3zM511.2 42.9h1.3v5.5h-1.3zM411.2 48.1h1.3v5.5h-1.3zM451.2 48.1h1.3v5.5h-1.3zM509.2 48.1h1.3v5.5h-1.3zM544.2 48.1h1.3v5.5h-1.3zM551.2 48.1h1.3v5.5h-1.3zM414.2 53.3h1.3v5.5h-1.3zM417.2 53.3h1.3v5.5h-1.3zM430.2 53.3h1.3v5.5h-1.3zM432.2 53.3h2.3v5.5h-2.3zM456.2 53.3h2.3v5.5h-2.3zM509.2 53.3h1.3v5.5h-1.3zM535.2 53.3h1.3v5.5h-1.3zM551.2 53.3h1.3v5.5h-1.3zM554.2 53.3h1.3v5.5h-1.3zM412.2 58.6h1.3v5.5h-1.3zM419.2 58.6h1.3v5.5h-1.3zM425.2 58.6h1.3v5.5h-1.3zM414.2 63.8h1.3v5.5h-1.3zM443.2 63.8h1.3v5.5h-1.3zM449.2 63.8h1.3v5.5h-1.3zM460.2 63.8h1.3v5.5h-1.3zM466.2 63.8h1.3v5.5h-1.3zM512.2 63.8h3.3v5.5h-3.3zM554.2 63.8h1.3v5.5h-1.3zM419.2 69.1h1.3v5.7h-1.3zM439.2 69.1h1.3v5.7h-1.3zM442.2 69.1h1.3v5.7h-1.3zM445.2 69.1h1.3v5.7h-1.3zM447.2 69.1h2.3v5.7h-2.3zM458.2 69.1h1.3v5.7h-1.3zM462.2 69.1h1.3v5.7h-1.3zM484.2 69.1h1.3v5.7h-1.3zM492.2 69.1h1.3v5.7h-1.3zM503.2 69.1h1.3v5.7h-1.3zM509.2 69.1h1.3v5.7h-1.3zM515.2 69.1h1.3v5.7h-1.3zM517.2 69.1h1.3v5.7h-1.3zM546.2 69.1h1.3v5.7h-1.3zM550.2 69.1h1.3v5.7h-1.3zM554.2 69.1h1.3v5.7h-1.3zM416.2 74.5h1.3v5.7h-1.3zM421.2 74.5h1.3v5.7h-1.3zM428.2 74.5h1.3v5.7h-1.3zM453.2 74.5h1.3v5.7h-1.3zM508.2 74.5h1.3v5.7h-1.3zM514.2 74.5h1.3v5.7h-1.3zM516.2 74.5h1.3v5.7h-1.3zM535.2 74.5h1.3v5.7h-1.3zM545.2 74.5h1.3v5.7h-1.3zM548.2 74.5h1.3v5.7h-1.3zM443.2 79.9h1.3v5.7h-1.3zM446.2 79.9h2.3v5.7h-2.3zM458.2 79.9h1.3v5.7h-1.3zM478.2 79.9h1.3v5.7h-1.3zM484.2 79.9h1.3v5.7h-1.3zM490.2 79.9h2.3v5.7h-2.3zM504.2 79.9h2.3v5.7h-2.3zM427.2 85.3h1.3v5.7h-1.3zM434.2 85.3h1.3v5.7h-1.3zM438.2 85.3h1.3v5.7h-1.3zM455.2 85.3h1.3v5.7h-1.3zM457.2 85.3h1.3v5.7h-1.3zM484.2 85.3h1.3v5.7h-1.3zM516.2 85.3h1.3v5.7h-1.3zM520.2 85.3h1.3v5.7h-1.3zM523.2 85.3h1.3v5.7h-1.3zM412.2 90.8h1.3v5.7h-1.3zM434.2 90.8h1.3v5.7h-1.3zM436.2 90.8h1.3v5.7h-1.3zM443.2 90.8h1.3v5.7h-1.3zM450.2 90.8h1.3v5.7h-1.3zM518.2 90.8h1.3v5.7h-1.3zM526.2 90.8h1.3v5.7h-1.3zM418.2 96.2h1.3v5.7h-1.3zM424.2 96.2h1.3v5.7h-1.3zM435.2 96.2h1.3v5.7h-1.3zM440.2 96.2h1.3v5.7h-1.3zM443.2 96.2h1.3v5.7h-1.3zM449.2 96.2h1.3v5.7h-1.3zM454.2 96.2h1.3v5.7h-1.3zM460.2 96.2h1.3v5.7h-1.3zM467.2 96.2h1.3v5.7h-1.3zM494.2 96.2h1.3v5.7h-1.3zM503.2 96.2h1.3v5.7h-1.3zM505.2 96.2h2.3v5.7h-2.3zM519.2 96.2h1.3v5.7h-1.3zM524.2 96.2h1.3v5.7h-1.3zM528.2 96.2h2.3v5.7h-2.3zM535.2 96.2h1.3v5.7h-1.3zM552.2 96.2h3.3v5.7h-3.3z"/>
<path fill="#187de2" d="M417.2 37.6h1.3v5.5h-1.3zM431.2 37.6h1.3v5.5h-1.3zM437.2 37.6h1.3v5.5h-1.3zM442.2 37.6h1.3v5.5h-1.3zM450.2 37.6h1.3v5.5h-1.3zM454.2 37.6h1.3v5.5h-1.3zM522.2 37.6h1.3v5.5h-1.3zM451.2 42.9h2.3v5.5h-2.3zM532.2 42.9h1.3v5.5h-1.3zM517.2 48.1h1.3v5.5h-1.3zM411.2 53.3h1.3v5.5h-1.3zM419.2 53.3h1.3v5.5h-1.3zM444.2 53.3h1.3v5.5h-1.3zM451.2 53.3h1.3v5.5h-1.3zM466.2 53.3h1.3v5.5h-1.3zM552.2 53.3h2.3v5.5h-2.3zM555.2 53.3h1.3v5.5h-1.3zM420.2 58.6h1.3v5.5h-1.3zM415.2 63.8h1.3v5.5h-1.3zM448.2 63.8h1.3v5.5h-1.3zM457.2 63.8h2.3v5.5h-2.3zM423.2 69.1h2.3v5.7h-2.3zM443.2 69.1h2.3v5.7h-2.3zM485.2 69.1h1.3v5.7h-1.3zM489.2 69.1h1.3v5.7h-1.3zM518.2 69.1h1.3v5.7h-1.3zM524.2 69.1h2.3v5.7h-2.3zM535.2 69.1h1.3v5.7h-1.3zM539.2 69.1h1.3v5.7h-1.3zM543.2 69.1h1.3v5.7h-1.3zM545.2 69.1h1.3v5.7h-1.3zM548.2 69.1h1.3v5.7h-1.3zM429.2 74.5h1.3v5.7h-1.3zM507.2 74.5h1.3v5.7h-1.3zM546.2 74.5h1.3v5.7h-1.3zM441.2 79.9h1.3v5.7h-1.3zM445.2 79.9h1.3v5.7h-1.3zM456.2 79.9h1.3v5.7h-1.3zM470.2 79.9h1.3v5.7h-1.3zM476.2 79.9h1.3v5.7h-1.3zM487.2 79.9h1.3v5.7h-1.3zM494.2 79.9h1.3v5.7h-1.3zM499.2 79.9h1.3v5.7h-1.3zM517.2 79.9h1.3v5.7h-1.3zM526.2 79.9h1.3v5.7h-1.3zM539.2 79.9h3.3v5.7h-3.3zM551.2 79.9h1.3v5.7h-1.3zM553.2 79.9h2.3v5.7h-2.3zM417.2 85.3h1.3v5.7h-1.3zM422.2 85.3h1.3v5.7h-1.3zM435.2 85.3h1.3v5.7h-1.3zM437.2 85.3h1.3v5.7h-1.3zM439.2 85.3h1.3v5.7h-1.3zM445.2 85.3h1.3v5.7h-1.3zM511.2 85.3h1.3v5.7h-1.3zM513.2 85.3h1.3v5.7h-1.3zM555.2 85.3h1.3v5.7h-1.3zM515.2 90.8h1.3v5.7h-1.3zM415.2 96.2h2.3v5.7h-2.3zM425.2 96.2h1.3v5.7h-1.3zM441.2 96.2h1.3v5.7h-1.3zM452.2 96.2h1.3v5.7h-1.3zM536.2 96.2h1.3v5.7h-1.3z"/>
<path fill="#165edc" d="M418.2 37.6h1.3v5.5h-1.3zM420.2 37.6h2.3v5.5h-2.3zM459.2 53.3h1.3v5.5h-1.3zM536.2 69.1h1.3v5.7h-1.3zM462.2 79.9h1.3v5.7h-1.3zM465.2 79.9h1.3v5.7h-1.3zM469.2 79.9h1.3v5.7h-1.3zM488.2 79.9h1.3v5.7h-1.3zM527.2 79.9h2.3v5.7h-2.3zM534.2 79.9h1.3v5.7h-1.3zM536.2 79.9h1.3v5.7h-1.3zM543.2 79.9h1.3v5.7h-1.3zM412.2 85.3h1.3v5.7h-1.3zM438.2 96.2h1.3v5.7h-1.3z"/>
<path fill="#176edf" d="M419.2 37.6h1.3v5.5h-1.3zM423.2 37.6h2.3v5.5h-2.3zM429.2 37.6h2.3v5.5h-2.3zM433.2 37.6h2.3v5.5h-2.3zM440.2 37.6h1.3v5.5h-1.3zM455.2 37.6h1.3v5.5h-1.3zM426.2 53.3h1.3v5.5h-1.3zM436.2 53.3h2.3v5.5h-2.3zM445.2 53.3h1.3v5.5h-1.3zM450.2 53.3h1.3v5.5h-1.3zM458.2 53.3h1.3v5.5h-1.3zM541.2 58.6h1.3v5.5h-1.3zM426.2 69.1h1.3v5.7h-1.3zM459.2 69.1h1.3v5.7h-1.3zM529.2 69.1h1.3v5.7h-1.3zM534.2 69.1h1.3v5.7h-1.3zM540.2 69.1h1.3v5.7h-1.3zM457.2 79.9h1.3v5.7h-1.3zM459.2 79.9h2.3v5.7h-2.3zM519.2 79.9h2.3v5.7h-2.3zM529.2 79.9h1.3v5.7h-1.3zM532.2 79.9h1.3v5.7h-1.3zM537.2 79.9h1.3v5.7h-1.3zM542.2 79.9h1.3v5.7h-1.3zM545.2 79.9h1.3v5.7h-1.3zM555.2 79.9h1.3v5.7h-1.3zM419.2 85.3h1.3v5.7h-1.3zM441.2 85.3h1.3v5.7h-1.3zM447.2 85.3h1.3v5.7h-1.3zM453.2 85.3h1.3v5.7h-1.3zM522.2 85.3h1.3v5.7h-1.3zM413.2 96.2h1.3v5.7h-1.3zM436.2 96.2h1.3v5.7h-1.3z"/>
<path fill="#1c3fc1" d="M422.2 37.6h1.3v5.5h-1.3zM447.2 53.3h1.3v5.5h-1.3z"/>
<path fill="#1657da" d="M425.2 37.6h1.3v5.5h-1.3zM428.2 37.6h1.3v5.5h-1.3zM438.2 53.3h1.3v5.5h-1.3zM521.2 79.9h3.3v5.7h-3.3zM525.2 79.9h1.3v5.7h-1.3zM544.2 79.9h1.3v5.7h-1.3z"/>
<path fill="#1875e0" d="M426.2 37.6h1.3v5.5h-1.3zM432.2 37.6h1.3v5.5h-1.3zM438.2 37.6h1.3v5.5h-1.3zM441.2 37.6h1.3v5.5h-1.3zM451.2 37.6h2.3v5.5h-2.3zM415.2 53.3h1.3v5.5h-1.3zM423.2 53.3h1.3v5.5h-1.3zM427.2 53.3h1.3v5.5h-1.3zM460.2 53.3h1.3v5.5h-1.3zM549.2 53.3h1.3v5.5h-1.3zM441.2 69.1h1.3v5.7h-1.3zM488.2 69.1h1.3v5.7h-1.3zM511.2 69.1h1.3v5.7h-1.3zM526.2 69.1h1.3v5.7h-1.3zM532.2 69.1h1.3v5.7h-1.3zM537.2 69.1h1.3v5.7h-1.3zM541.2 69.1h2.3v5.7h-2.3zM420.2 74.5h1.3v5.7h-1.3zM511.2 74.5h1.3v5.7h-1.3zM534.2 74.5h1.3v5.7h-1.3zM440.2 79.9h1.3v5.7h-1.3zM444.2 79.9h1.3v5.7h-1.3zM448.2 79.9h1.3v5.7h-1.3zM461.2 79.9h1.3v5.7h-1.3zM471.2 79.9h2.3v5.7h-2.3zM474.2 79.9h1.3v5.7h-1.3zM483.2 79.9h1.3v5.7h-1.3zM507.2 79.9h1.3v5.7h-1.3zM511.2 79.9h1.3v5.7h-1.3zM531.2 79.9h1.3v5.7h-1.3zM546.2 79.9h3.3v5.7h-3.3zM552.2 79.9h1.3v5.7h-1.3zM420.2 85.3h1.3v5.7h-1.3zM423.2 85.3h1.3v5.7h-1.3zM433.2 85.3h1.3v5.7h-1.3zM448.2 85.3h2.3v5.7h-2.3zM452.2 85.3h1.3v5.7h-1.3zM553.2 85.3h1.3v5.7h-1.3zM430.2 90.8h2.3v5.7h-2.3zM519.2 90.8h1.3v5.7h-1.3zM439.2 96.2h1.3v5.7h-1.3zM531.2 96.2h1.3v5.7h-1.3zM534.2 96.2h1.3v5.7h-1.3zM550.2 96.2h1.3v5.7h-1.3z"/>
<path fill="#1b85e0" d="M427.2 37.6h1.3v5.5h-1.3zM446.2 37.6h1.3v5.5h-1.3zM459.2 37.6h1.3v5.5h-1.3zM518.2 37.6h1.3v5.5h-1.3zM521.2 37.6h1.3v5.5h-1.3zM529.2 37.6h1.3v5.5h-1.3zM417.2 42.9h1.3v5.5h-1.3zM448.2 42.9h1.3v5.5h-1.3zM516.2 42.9h1.3v5.5h-1.3zM528.2 42.9h1.3v5.5h-1.3zM513.2 48.1h2.3v5.5h-2.3zM549.2 48.1h1.3v5.5h-1.3zM413.2 53.3h1.3v5.5h-1.3zM418.2 53.3h1.3v5.5h-1.3zM424.2 53.3h1.3v5.5h-1.3zM428.2 53.3h1.3v5.5h-1.3zM431.2 53.3h1.3v5.5h-1.3zM440.2 53.3h4.3v5.5h-4.3zM446.2 53.3h1.3v5.5h-1.3zM452.2 53.3h1.3v5.5h-1.3zM461.2 53.3h2.3v5.5h-2.3zM545.2 53.3h2.3v5.5h-2.3zM550.2 53.3h1.3v5.5h-1.3zM424.2 58.6h1.3v5.5h-1.3zM534.2 58.6h1.3v5.5h-1.3zM413.2 63.8h1.3v5.5h-1.3zM440.2 63.8h1.3v5.5h-1.3zM444.2 63.8h1.3v5.5h-1.3zM522.2 63.8h1.3v5.5h-1.3zM425.2 69.1h1.3v5.7h-1.3zM438.2 69.1h1.3v5.7h-1.3zM456.2 69.1h2.3v5.7h-2.3zM487.2 69.1h1.3v5.7h-1.3zM507.2 69.1h2.3v5.7h-2.3zM521.2 69.1h1.3v5.7h-1.3zM528.2 69.1h1.3v5.7h-1.3zM547.2 69.1h1.3v5.7h-1.3zM419.2 74.5h1.3v5.7h-1.3zM425.2 74.5h1.3v5.7h-1.3zM512.2 74.5h2.3v5.7h-2.3zM537.2 74.5h1.3v5.7h-1.3zM411.2 79.9h1.3v5.7h-1.3zM442.2 79.9h1.3v5.7h-1.3zM449.2 79.9h2.3v5.7h-2.3zM473.2 79.9h1.3v5.7h-1.3zM477.2 79.9h1.3v5.7h-1.3zM479.2 79.9h1.3v5.7h-1.3zM486.2 79.9h1.3v5.7h-1.3zM492.2 79.9h1.3v5.7h-1.3zM497.2 79.9h1.3v5.7h-1.3zM501.2 79.9h1.3v5.7h-1.3zM516.2 79.9h1.3v5.7h-1.3zM549.2 79.9h2.3v5.7h-2.3zM421.2 85.3h1.3v5.7h-1.3zM424.2 85.3h1.3v5.7h-1.3zM426.2 85.3h1.3v5.7h-1.3zM440.2 85.3h1.3v5.7h-1.3zM443.2 85.3h2.3v5.7h-2.3zM446.2 85.3h1.3v5.7h-1.3zM450.2 85.3h1.3v5.7h-1.3zM512.2 85.3h1.3v5.7h-1.3zM517.2 85.3h2.3v5.7h-2.3zM521.2 85.3h1.3v5.7h-1.3zM432.2 90.8h1.3v5.7h-1.3zM441.2 90.8h1.3v5.7h-1.3zM444.2 90.8h1.3v5.7h-1.3zM514.2 90.8h1.3v5.7h-1.3zM517.2 90.8h1.3v5.7h-1.3zM521.2 90.8h1.3v5.7h-1.3zM414.2 96.2h1.3v5.7h-1.3zM426.2 96.2h1.3v5.7h-1.3zM437.2 96.2h1.3v5.7h-1.3zM444.2 96.2h2.3v5.7h-2.3zM447.2 96.2h1.3v5.7h-1.3zM451.2 96.2h1.3v5.7h-1.3zM453.2 96.2h1.3v5.7h-1.3zM455.2 96.2h2.3v5.7h-2.3zM526.2 96.2h1.3v5.7h-1.3zM533.2 96.2h1.3v5.7h-1.3zM537.2 96.2h2.3v5.7h-2.3zM542.2 96.2h1.3v5.7h-1.3zM548.2 96.2h1.3v5.7h-1.3z"/>
<path fill="#2bacd4" d="M439.2 37.6h1.3v5.5h-1.3zM462.2 37.6h1.3v5.5h-1.3zM469.2 37.6h2.3v5.5h-2.3zM514.2 37.6h1.3v5.5h-1.3zM536.2 37.6h1.3v5.5h-1.3zM546.2 37.6h1.3v5.5h-1.3zM411.2 42.9h2.3v5.5h-2.3zM429.2 42.9h1.3v5.5h-1.3zM441.2 42.9h1.3v5.5h-1.3zM447.2 42.9h1.3v5.5h-1.3zM462.2 42.9h1.3v5.5h-1.3zM469.2 42.9h1.3v5.5h-1.3zM510.2 42.9h1.3v5.5h-1.3zM512.2 42.9h1.3v5.5h-1.3zM519.2 42.9h1.3v5.5h-1.3zM527.2 42.9h1.3v5.5h-1.3zM536.2 42.9h1.3v5.5h-1.3zM553.2 42.9h2.3v5.5h-2.3zM421.2 48.1h1.3v5.5h-1.3zM423.2 48.1h1.3v5.5h-1.3zM425.2 48.1h1.3v5.5h-1.3zM431.2 48.1h2.3v5.5h-2.3zM436.2 48.1h1.3v5.5h-1.3zM441.2 48.1h1.3v5.5h-1.3zM449.2 48.1h1.3v5.5h-1.3zM464.2 48.1h1.3v5.5h-1.3zM468.2 48.1h2.3v5.5h-2.3zM520.2 48.1h1.3v5.5h-1.3zM524.2 48.1h2.3v5.5h-2.3zM535.2 48.1h1.3v5.5h-1.3zM545.2 48.1h1.3v5.5h-1.3zM518.2 53.3h2.3v5.5h-2.3zM526.2 53.3h1.3v5.5h-1.3zM534.2 53.3h1.3v5.5h-1.3zM548.2 53.3h1.3v5.5h-1.3zM411.2 58.6h1.3v5.5h-1.3zM417.2 58.6h1.3v5.5h-1.3zM450.2 58.6h1.3v5.5h-1.3zM457.2 58.6h1.3v5.5h-1.3zM462.2 58.6h1.3v5.5h-1.3zM509.2 58.6h1.3v5.5h-1.3zM526.2 58.6h1.3v5.5h-1.3zM537.2 58.6h1.3v5.5h-1.3zM555.2 58.6h1.3v5.5h-1.3zM411.2 63.8h1.3v5.5h-1.3zM419.2 63.8h1.3v5.5h-1.3zM446.2 63.8h2.3v5.5h-2.3zM502.2 63.8h1.3v5.5h-1.3zM504.2 63.8h1.3v5.5h-1.3zM508.2 63.8h1.3v5.5h-1.3zM525.2 63.8h1.3v5.5h-1.3zM536.2 63.8h2.3v5.5h-2.3zM546.2 63.8h1.3v5.5h-1.3zM553.2 63.8h1.3v5.5h-1.3zM416.2 69.1h1.3v5.7h-1.3zM418.2 69.1h1.3v5.7h-1.3zM422.2 69.1h1.3v5.7h-1.3zM431.2 69.1h2.3v5.7h-2.3zM437.2 69.1h1.3v5.7h-1.3zM464.2 69.1h1.3v5.7h-1.3zM470.2 69.1h1.3v5.7h-1.3zM477.2 69.1h1.3v5.7h-1.3zM482.2 69.1h1.3v5.7h-1.3zM504.2 69.1h1.3v5.7h-1.3zM510.2 69.1h1.3v5.7h-1.3zM516.2 69.1h1.3v5.7h-1.3zM549.2 69.1h1.3v5.7h-1.3zM411.2 74.5h1.3v5.7h-1.3zM415.2 74.5h1.3v5.7h-1.3zM423.2 74.5h1.3v5.7h-1.3zM427.2 74.5h1.3v5.7h-1.3zM431.2 74.5h1.3v5.7h-1.3zM442.2 74.5h1.3v5.7h-1.3zM460.2 74.5h1.3v5.7h-1.3zM462.2 74.5h1.3v5.7h-1.3zM542.2 74.5h1.3v5.7h-1.3zM554.2 74.5h1.3v5.7h-1.3zM412.2 79.9h2.3v5.7h-2.3zM420.2 79.9h1.3v5.7h-1.3zM422.2 79.9h1.3v5.7h-1.3zM437.2 79.9h1.3v5.7h-1.3zM480.2 79.9h1.3v5.7h-1.3zM502.2 79.9h1.3v5.7h-1.3zM512.2 79.9h1.3v5.7h-1.3zM425.2 85.3h1.3v5.7h-1.3zM458.2 85.3h2.3v5.7h-2.3zM468.2 85.3h2.3v5.7h-2.3zM481.2 85.3h3.3v5.7h-3.3zM486.2 85.3h1.3v5.7h-1.3zM492.2 85.3h1.3v5.7h-1.3zM503.2 85.3h1.3v5.7h-1.3zM509.2 85.3h1.3v5.7h-1.3zM528.2 85.3h1.3v5.7h-1.3zM533.2 85.3h1.3v5.7h-1.3zM549.2 85.3h1.3v5.7h-1.3zM413.2 90.8h1.3v5.7h-1.3zM417.2 90.8h1.3v5.7h-1.3zM424.2 90.8h1.3v5.7h-1.3zM446.2 90.8h2.3v5.7h-2.3zM449.2 90.8h1.3v5.7h-1.3zM451.2 90.8h1.3v5.7h-1.3zM456.2 90.8h1.3v5.7h-1.3zM499.2 90.8h1.3v5.7h-1.3zM516.2 90.8h1.3v5.7h-1.3zM530.2 90.8h1.3v5.7h-1.3zM551.2 90.8h1.3v5.7h-1.3zM553.2 90.8h1.3v5.7h-1.3zM411.2 96.2h1.3v5.7h-1.3zM421.2 96.2h1.3v5.7h-1.3zM430.2 96.2h1.3v5.7h-1.3zM462.2 96.2h1.3v5.7h-1.3zM466.2 96.2h1.3v5.7h-1.3zM475.2 96.2h1.3v5.7h-1.3zM479.2 96.2h1.3v5.7h-1.3zM485.2 96.2h1.3v5.7h-1.3zM492.2 96.2h1.3v5.7h-1.3zM501.2 96.2h1.3v5.7h-1.3zM510.2 96.2h1.3v5.7h-1.3zM517.2 96.2h1.3v5.7h-1.3zM545.2 96.2h1.3v5.7h-1.3z"/>
<path fill="#25a6da" d="M449.2 37.6h1.3v5.5h-1.3zM453.2 37.6h1.3v5.5h-1.3zM460.2 37.6h1.3v5.5h-1.3zM516.2 37.6h1.3v5.5h-1.3zM520.2 37.6h1.3v5.5h-1.3zM524.2 37.6h1.3v5.5h-1.3zM544.2 37.6h1.3v5.5h-1.3zM547.2 37.6h2.3v5.5h-2.3zM551.2 37.6h1.3v5.5h-1.3zM555.2 37.6h1.3v5.5h-1.3zM422.2 42.9h1.3v5.5h-1.3zM432.2 42.9h1.3v5.5h-1.3zM434.2 42.9h1.3v5.5h-1.3zM436.2 42.9h1.3v5.5h-1.3zM460.2 42.9h1.3v5.5h-1.3zM463.2 42.9h1.3v5.5h-1.3zM467.2 42.9h1.3v5.5h-1.3zM502.2 42.9h1.3v5.5h-1.3zM507.2 42.9h1.3v5.5h-1.3zM515.2 42.9h1.3v5.5h-1.3zM523.2 42.9h4.3v5.5h-4.3zM529.2 42.9h1.3v5.5h-1.3zM422.2 48.1h1.3v5.5h-1.3zM426.2 48.1h1.3v5.5h-1.3zM433.2 48.1h2.3v5.5h-2.3zM452.2 48.1h1.3v5.5h-1.3zM462.2 48.1h2.3v5.5h-2.3zM465.2 48.1h1.3v5.5h-1.3zM519.2 48.1h1.3v5.5h-1.3zM526.2 48.1h2.3v5.5h-2.3zM534.2 48.1h1.3v5.5h-1.3zM555.2 48.1h1.3v5.5h-1.3zM412.2 53.3h1.3v5.5h-1.3zM469.2 53.3h2.3v5.5h-2.3zM516.2 53.3h2.3v5.5h-2.3zM521.2 53.3h2.3v5.5h-2.3zM532.2 53.3h1.3v5.5h-1.3zM537.2 53.3h1.3v5.5h-1.3zM541.2 53.3h1.3v5.5h-1.3zM423.2 58.6h1.3v5.5h-1.3zM452.2 58.6h1.3v5.5h-1.3zM517.2 58.6h1.3v5.5h-1.3zM539.2 58.6h1.3v5.5h-1.3zM543.2 58.6h2.3v5.5h-2.3zM552.2 58.6h2.3v5.5h-2.3zM417.2 63.8h1.3v5.5h-1.3zM421.2 63.8h2.3v5.5h-2.3zM426.2 63.8h1.3v5.5h-1.3zM436.2 63.8h1.3v5.5h-1.3zM453.2 63.8h1.3v5.5h-1.3zM463.2 63.8h1.3v5.5h-1.3zM510.2 63.8h2.3v5.5h-2.3zM523.2 63.8h1.3v5.5h-1.3zM527.2 63.8h1.3v5.5h-1.3zM551.2 63.8h1.3v5.5h-1.3zM413.2 69.1h1.3v5.7h-1.3zM417.2 69.1h1.3v5.7h-1.3zM427.2 69.1h1.3v5.7h-1.3zM446.2 69.1h1.3v5.7h-1.3zM452.2 69.1h1.3v5.7h-1.3zM455.2 69.1h1.3v5.7h-1.3zM465.2 69.1h2.3v5.7h-2.3zM469.2 69.1h1.3v5.7h-1.3zM479.2 69.1h1.3v5.7h-1.3zM481.2 69.1h1.3v5.7h-1.3zM493.2 69.1h1.3v5.7h-1.3zM495.2 69.1h1.3v5.7h-1.3zM544.2 69.1h1.3v5.7h-1.3zM553.2 69.1h1.3v5.7h-1.3zM413.2 74.5h1.3v5.7h-1.3zM424.2 74.5h1.3v5.7h-1.3zM426.2 74.5h1.3v5.7h-1.3zM439.2 74.5h1.3v5.7h-1.3zM441.2 74.5h1.3v5.7h-1.3zM446.2 74.5h1.3v5.7h-1.3zM449.2 74.5h1.3v5.7h-1.3zM505.2 74.5h1.3v5.7h-1.3zM509.2 74.5h1.3v5.7h-1.3zM517.2 74.5h1.3v5.7h-1.3zM533.2 74.5h1.3v5.7h-1.3zM543.2 74.5h1.3v5.7h-1.3zM416.2 79.9h1.3v5.7h-1.3zM421.2 79.9h1.3v5.7h-1.3zM424.2 79.9h3.3v5.7h-3.3zM436.2 79.9h1.3v5.7h-1.3zM439.2 79.9h1.3v5.7h-1.3zM451.2 79.9h1.3v5.7h-1.3zM454.2 79.9h1.3v5.7h-1.3zM489.2 79.9h1.3v5.7h-1.3zM495.2 79.9h1.3v5.7h-1.3zM500.2 79.9h1.3v5.7h-1.3zM503.2 79.9h1.3v5.7h-1.3zM506.2 79.9h1.3v5.7h-1.3zM513.2 79.9h1.3v5.7h-1.3zM465.2 85.3h1.3v5.7h-1.3zM427.2 90.8h2.3v5.7h-2.3zM437.2 90.8h1.3v5.7h-1.3zM440.2 90.8h1.3v5.7h-1.3zM452.2 90.8h2.3v5.7h-2.3zM511.2 90.8h2.3v5.7h-2.3zM520.2 90.8h1.3v5.7h-1.3zM522.2 90.8h1.3v5.7h-1.3zM525.2 90.8h1.3v5.7h-1.3zM528.2 90.8h2.3v5.7h-2.3zM547.2 90.8h1.3v5.7h-1.3zM429.2 96.2h1.3v5.7h-1.3zM448.2 96.2h1.3v5.7h-1.3zM465.2 96.2h1.3v5.7h-1.3zM484.2 96.2h1.3v5.7h-1.3zM490.2 96.2h2.3v5.7h-2.3zM493.2 96.2h1.3v5.7h-1.3zM500.2 96.2h1.3v5.7h-1.3zM508.2 96.2h1.3v5.7h-1.3zM513.2 96.2h1.3v5.7h-1.3zM515.2 96.2h1.3v5.7h-1.3zM518.2 96.2h1.3v5.7h-1.3zM521.2 96.2h1.3v5.7h-1.3zM523.2 96.2h1.3v5.7h-1.3zM532.2 96.2h1.3v5.7h-1.3zM540.2 96.2h1.3v5.7h-1.3zM547.2 96.2h1.3v5.7h-1.3z"/>
<path fill="#30b0cc" d="M461.2 37.6h1.3v5.5h-1.3zM463.2 37.6h1.3v5.5h-1.3zM467.2 37.6h1.3v5.5h-1.3zM510.2 37.6h1.3v5.5h-1.3zM523.2 37.6h1.3v5.5h-1.3zM525.2 37.6h1.3v5.5h-1.3zM527.2 37.6h1.3v5.5h-1.3zM537.2 37.6h1.3v5.5h-1.3zM553.2 37.6h1.3v5.5h-1.3zM413.2 42.9h1.3v5.5h-1.3zM415.2 42.9h1.3v5.5h-1.3zM430.2 42.9h1.3v5.5h-1.3zM435.2 42.9h1.3v5.5h-1.3zM437.2 42.9h1.3v5.5h-1.3zM442.2 42.9h1.3v5.5h-1.3zM465.2 42.9h1.3v5.5h-1.3zM500.2 42.9h1.3v5.5h-1.3zM508.2 42.9h1.3v5.5h-1.3zM518.2 42.9h1.3v5.5h-1.3zM520.2 42.9h3.3v5.5h-3.3zM538.2 42.9h2.3v5.5h-2.3zM412.2 48.1h1.3v5.5h-1.3zM418.2 48.1h1.3v5.5h-1.3zM428.2 48.1h1.3v5.5h-1.3zM439.2 48.1h1.3v5.5h-1.3zM442.2 48.1h1.3v5.5h-1.3zM444.2 48.1h1.3v5.5h-1.3zM455.2 48.1h1.3v5.5h-1.3zM459.2 48.1h1.3v5.5h-1.3zM461.2 48.1h1.3v5.5h-1.3zM506.2 48.1h1.3v5.5h-1.3zM511.2 48.1h1.3v5.5h-1.3zM518.2 48.1h1.3v5.5h-1.3zM522.2 48.1h2.3v5.5h-2.3zM528.2 48.1h1.3v5.5h-1.3zM536.2 48.1h1.3v5.5h-1.3zM538.2 48.1h2.3v5.5h-2.3zM547.2 48.1h1.3v5.5h-1.3zM554.2 48.1h1.3v5.5h-1.3zM471.2 53.3h1.3v5.5h-1.3zM514.2 53.3h2.3v5.5h-2.3zM520.2 53.3h1.3v5.5h-1.3zM528.2 53.3h1.3v5.5h-1.3zM413.2 58.6h1.3v5.5h-1.3zM426.2 58.6h2.3v5.5h-2.3zM430.2 58.6h1.3v5.5h-1.3zM455.2 58.6h1.3v5.5h-1.3zM458.2 58.6h1.3v5.5h-1.3zM504.2 58.6h1.3v5.5h-1.3zM510.2 58.6h1.3v5.5h-1.3zM515.2 58.6h1.3v5.5h-1.3zM520.2 58.6h2.3v5.5h-2.3zM531.2 58.6h1.3v5.5h-1.3zM535.2 58.6h1.3v5.5h-1.3zM542.2 58.6h1.3v5.5h-1.3zM550.2 58.6h1.3v5.5h-1.3zM420.2 63.8h1.3v5.5h-1.3zM423.2 63.8h1.3v5.5h-1.3zM430.2 63.8h1.3v5.5h-1.3zM432.2 63.8h1.3v5.5h-1.3zM434.2 63.8h1.3v5.5h-1.3zM442.2 63.8h1.3v5.5h-1.3zM454.2 63.8h1.3v5.5h-1.3zM501.2 63.8h1.3v5.5h-1.3zM505.2 63.8h1.3v5.5h-1.3zM515.2 63.8h1.3v5.5h-1.3zM517.2 63.8h3.3v5.5h-3.3zM521.2 63.8h1.3v5.5h-1.3zM524.2 63.8h1.3v5.5h-1.3zM538.2 63.8h2.3v5.5h-2.3zM542.2 63.8h1.3v5.5h-1.3zM549.2 63.8h1.3v5.5h-1.3zM428.2 69.1h1.3v5.7h-1.3zM430.2 69.1h1.3v5.7h-1.3zM473.2 69.1h1.3v5.7h-1.3zM476.2 69.1h1.3v5.7h-1.3zM480.2 69.1h1.3v5.7h-1.3zM499.2 69.1h2.3v5.7h-2.3zM506.2 69.1h1.3v5.7h-1.3zM414.2 74.5h1.3v5.7h-1.3zM438.2 74.5h1.3v5.7h-1.3zM451.2 74.5h2.3v5.7h-2.3zM455.2 74.5h1.3v5.7h-1.3zM457.2 74.5h1.3v5.7h-1.3zM503.2 74.5h2.3v5.7h-2.3zM515.2 74.5h1.3v5.7h-1.3zM540.2 74.5h1.3v5.7h-1.3zM547.2 74.5h1.3v5.7h-1.3zM552.2 74.5h1.3v5.7h-1.3zM423.2 79.9h1.3v5.7h-1.3zM427.2 79.9h1.3v5.7h-1.3zM435.2 79.9h1.3v5.7h-1.3zM430.2 85.3h1.3v5.7h-1.3zM467.2 85.3h1.3v5.7h-1.3zM529.2 85.3h1.3v5.7h-1.3zM531.2 85.3h2.3v5.7h-2.3zM534.2 85.3h1.3v5.7h-1.3zM542.2 85.3h1.3v5.7h-1.3zM411.2 90.8h1.3v5.7h-1.3zM416.2 90.8h1.3v5.7h-1.3zM419.2 90.8h1.3v5.7h-1.3zM423.2 90.8h1.3v5.7h-1.3zM425.2 90.8h1.3v5.7h-1.3zM439.2 90.8h1.3v5.7h-1.3zM448.2 90.8h1.3v5.7h-1.3zM473.2 90.8h1.3v5.7h-1.3zM509.2 90.8h2.3v5.7h-2.3zM523.2 90.8h1.3v5.7h-1.3zM545.2 90.8h2.3v5.7h-2.3zM548.2 90.8h1.3v5.7h-1.3zM550.2 90.8h1.3v5.7h-1.3zM552.2 90.8h1.3v5.7h-1.3zM432.2 96.2h1.3v5.7h-1.3zM470.2 96.2h1.3v5.7h-1.3zM482.2 96.2h1.3v5.7h-1.3zM487.2 96.2h1.3v5.7h-1.3zM509.2 96.2h1.3v5.7h-1.3zM516.2 96.2h1.3v5.7h-1.3z"/>
<path fill="#65c298" d="M464.2 37.6h1.3v5.5h-1.3zM472.2 37.6h1.3v5.5h-1.3zM506.2 37.6h1.3v5.5h-1.3zM425.2 42.9h2.3v5.5h-2.3zM443.2 42.9h1.3v5.5h-1.3zM540.2 42.9h1.3v5.5h-1.3zM542.2 42.9h1.3v5.5h-1.3zM470.2 48.1h1.3v5.5h-1.3zM505.2 48.1h1.3v5.5h-1.3zM474.2 53.3h1.3v5.5h-1.3zM505.2 53.3h1.3v5.5h-1.3zM428.2 58.6h1.3v5.5h-1.3zM432.2 58.6h1.3v5.5h-1.3zM434.2 58.6h1.3v5.5h-1.3zM443.2 58.6h1.3v5.5h-1.3zM465.2 58.6h1.3v5.5h-1.3zM522.2 58.6h1.3v5.5h-1.3zM528.2 58.6h1.3v5.5h-1.3zM500.2 63.8h1.3v5.5h-1.3zM516.2 63.8h1.3v5.5h-1.3zM529.2 63.8h1.3v5.5h-1.3zM544.2 63.8h1.3v5.5h-1.3zM470.2 74.5h2.3v5.7h-2.3zM485.2 74.5h2.3v5.7h-2.3zM498.2 74.5h2.3v5.7h-2.3zM524.2 74.5h1.3v5.7h-1.3zM418.2 79.9h1.3v5.7h-1.3zM432.2 79.9h1.3v5.7h-1.3zM474.2 85.3h1.3v5.7h-1.3zM476.2 85.3h2.3v5.7h-2.3zM491.2 85.3h1.3v5.7h-1.3zM538.2 85.3h1.3v5.7h-1.3zM481.2 90.8h1.3v5.7h-1.3zM492.2 90.8h1.3v5.7h-1.3zM501.2 90.8h1.3v5.7h-1.3zM504.2 90.8h1.3v5.7h-1.3zM507.2 90.8h1.3v5.7h-1.3zM539.2 90.8h1.3v5.7h-1.3zM469.2 96.2h1.3v5.7h-1.3zM472.2 96.2h1.3v5.7h-1.3z"/>
<path fill="#54c0a6" d="M465.2 37.6h1.3v5.5h-1.3zM440.2 42.9h1.3v5.5h-1.3zM445.2 42.9h1.3v5.5h-1.3zM552.2 42.9h1.3v5.5h-1.3zM521.2 48.1h1.3v5.5h-1.3zM473.2 53.3h1.3v5.5h-1.3zM431.2 58.6h1.3v5.5h-1.3zM433.2 58.6h1.3v5.5h-1.3zM519.2 58.6h1.3v5.5h-1.3zM527.2 58.6h1.3v5.5h-1.3zM529.2 58.6h1.3v5.5h-1.3zM506.2 63.8h1.3v5.5h-1.3zM540.2 63.8h1.3v5.5h-1.3zM466.2 74.5h2.3v5.7h-2.3zM475.2 74.5h1.3v5.7h-1.3zM487.2 74.5h1.3v5.7h-1.3zM492.2 74.5h1.3v5.7h-1.3zM419.2 79.9h1.3v5.7h-1.3zM433.2 79.9h1.3v5.7h-1.3zM479.2 85.3h1.3v5.7h-1.3zM499.2 85.3h1.3v5.7h-1.3zM454.2 90.8h1.3v5.7h-1.3zM475.2 90.8h2.3v5.7h-2.3zM484.2 90.8h1.3v5.7h-1.3z"/>
<path fill="#3cb9bc" d="M466.2 37.6h1.3v5.5h-1.3zM507.2 37.6h3.3v5.5h-3.3zM511.2 37.6h2.3v5.5h-2.3zM538.2 37.6h1.3v5.5h-1.3zM550.2 37.6h1.3v5.5h-1.3zM428.2 42.9h1.3v5.5h-1.3zM466.2 42.9h1.3v5.5h-1.3zM413.2 48.1h1.3v5.5h-1.3zM415.2 48.1h1.3v5.5h-1.3zM417.2 48.1h1.3v5.5h-1.3zM419.2 48.1h2.3v5.5h-2.3zM424.2 48.1h1.3v5.5h-1.3zM447.2 48.1h1.3v5.5h-1.3zM456.2 48.1h1.3v5.5h-1.3zM542.2 48.1h1.3v5.5h-1.3zM553.2 48.1h1.3v5.5h-1.3zM414.2 58.6h1.3v5.5h-1.3zM416.2 58.6h1.3v5.5h-1.3zM429.2 58.6h1.3v5.5h-1.3zM446.2 58.6h1.3v5.5h-1.3zM448.2 58.6h1.3v5.5h-1.3zM505.2 58.6h1.3v5.5h-1.3zM523.2 58.6h1.3v5.5h-1.3zM525.2 58.6h1.3v5.5h-1.3zM545.2 58.6h1.3v5.5h-1.3zM549.2 58.6h1.3v5.5h-1.3zM551.2 58.6h1.3v5.5h-1.3zM433.2 63.8h1.3v5.5h-1.3zM438.2 63.8h1.3v5.5h-1.3zM469.2 63.8h1.3v5.5h-1.3zM507.2 63.8h1.3v5.5h-1.3zM528.2 63.8h1.3v5.5h-1.3zM533.2 63.8h1.3v5.5h-1.3zM545.2 63.8h1.3v5.5h-1.3zM411.2 69.1h1.3v5.7h-1.3zM414.2 69.1h1.3v5.7h-1.3zM463.2 69.1h1.3v5.7h-1.3zM467.2 69.1h1.3v5.7h-1.3zM498.2 69.1h1.3v5.7h-1.3zM501.2 69.1h1.3v5.7h-1.3zM444.2 74.5h1.3v5.7h-1.3zM454.2 74.5h1.3v5.7h-1.3zM484.2 74.5h1.3v5.7h-1.3zM493.2 74.5h2.3v5.7h-2.3zM500.2 74.5h1.3v5.7h-1.3zM553.2 74.5h1.3v5.7h-1.3zM417.2 79.9h1.3v5.7h-1.3zM466.2 85.3h1.3v5.7h-1.3zM471.2 85.3h1.3v5.7h-1.3zM478.2 85.3h1.3v5.7h-1.3zM487.2 85.3h1.3v5.7h-1.3zM489.2 85.3h1.3v5.7h-1.3zM495.2 85.3h1.3v5.7h-1.3zM497.2 85.3h1.3v5.7h-1.3zM501.2 85.3h1.3v5.7h-1.3zM504.2 85.3h1.3v5.7h-1.3zM507.2 85.3h1.3v5.7h-1.3zM536.2 85.3h1.3v5.7h-1.3zM548.2 85.3h1.3v5.7h-1.3zM415.2 90.8h1.3v5.7h-1.3zM422.2 90.8h1.3v5.7h-1.3zM457.2 90.8h1.3v5.7h-1.3zM471.2 90.8h1.3v5.7h-1.3zM496.2 90.8h1.3v5.7h-1.3zM503.2 90.8h1.3v5.7h-1.3zM508.2 90.8h1.3v5.7h-1.3zM524.2 90.8h1.3v5.7h-1.3zM527.2 90.8h1.3v5.7h-1.3zM549.2 90.8h1.3v5.7h-1.3zM473.2 96.2h1.3v5.7h-1.3zM483.2 96.2h1.3v5.7h-1.3zM496.2 96.2h2.3v5.7h-2.3z"/>
<path fill="#36b5c4" d="M468.2 37.6h1.3v5.5h-1.3zM471.2 37.6h1.3v5.5h-1.3zM513.2 37.6h1.3v5.5h-1.3zM535.2 37.6h1.3v5.5h-1.3zM541.2 37.6h3.3v5.5h-3.3zM545.2 37.6h1.3v5.5h-1.3zM549.2 37.6h1.3v5.5h-1.3zM438.2 42.9h2.3v5.5h-2.3zM446.2 42.9h1.3v5.5h-1.3zM497.2 42.9h1.3v5.5h-1.3zM499.2 42.9h1.3v5.5h-1.3zM501.2 42.9h1.3v5.5h-1.3zM505.2 42.9h1.3v5.5h-1.3zM509.2 42.9h1.3v5.5h-1.3zM513.2 42.9h1.3v5.5h-1.3zM533.2 42.9h1.3v5.5h-1.3zM551.2 42.9h1.3v5.5h-1.3zM427.2 48.1h1.3v5.5h-1.3zM429.2 48.1h1.3v5.5h-1.3zM443.2 48.1h1.3v5.5h-1.3zM445.2 48.1h2.3v5.5h-2.3zM460.2 48.1h1.3v5.5h-1.3zM466.2 48.1h1.3v5.5h-1.3zM540.2 48.1h1.3v5.5h-1.3zM552.2 48.1h1.3v5.5h-1.3zM472.2 53.3h1.3v5.5h-1.3zM533.2 53.3h1.3v5.5h-1.3zM415.2 58.6h1.3v5.5h-1.3zM418.2 58.6h1.3v5.5h-1.3zM447.2 58.6h1.3v5.5h-1.3zM459.2 58.6h1.3v5.5h-1.3zM463.2 58.6h1.3v5.5h-1.3zM514.2 58.6h1.3v5.5h-1.3zM516.2 58.6h1.3v5.5h-1.3zM530.2 58.6h1.3v5.5h-1.3zM546.2 58.6h1.3v5.5h-1.3zM548.2 58.6h1.3v5.5h-1.3zM437.2 63.8h1.3v5.5h-1.3zM456.2 63.8h1.3v5.5h-1.3zM520.2 63.8h1.3v5.5h-1.3zM526.2 63.8h1.3v5.5h-1.3zM530.2 63.8h3.3v5.5h-3.3zM541.2 63.8h1.3v5.5h-1.3zM547.2 63.8h2.3v5.5h-2.3zM429.2 69.1h1.3v5.7h-1.3zM434.2 69.1h1.3v5.7h-1.3zM468.2 69.1h1.3v5.7h-1.3zM471.2 69.1h2.3v5.7h-2.3zM478.2 69.1h1.3v5.7h-1.3zM502.2 69.1h1.3v5.7h-1.3zM551.2 69.1h1.3v5.7h-1.3zM412.2 74.5h1.3v5.7h-1.3zM435.2 74.5h2.3v5.7h-2.3zM440.2 74.5h1.3v5.7h-1.3zM443.2 74.5h1.3v5.7h-1.3zM445.2 74.5h1.3v5.7h-1.3zM456.2 74.5h1.3v5.7h-1.3zM458.2 74.5h2.3v5.7h-2.3zM502.2 74.5h1.3v5.7h-1.3zM506.2 74.5h1.3v5.7h-1.3zM522.2 74.5h1.3v5.7h-1.3zM531.2 74.5h2.3v5.7h-2.3zM551.2 74.5h1.3v5.7h-1.3zM434.2 79.9h1.3v5.7h-1.3zM460.2 85.3h1.3v5.7h-1.3zM470.2 85.3h1.3v5.7h-1.3zM472.2 85.3h1.3v5.7h-1.3zM480.2 85.3h1.3v5.7h-1.3zM496.2 85.3h1.3v5.7h-1.3zM502.2 85.3h1.3v5.7h-1.3zM506.2 85.3h1.3v5.7h-1.3zM508.2 85.3h1.3v5.7h-1.3zM527.2 85.3h1.3v5.7h-1.3zM539.2 85.3h1.3v5.7h-1.3zM544.2 85.3h2.3v5.7h-2.3zM550.2 85.3h1.3v5.7h-1.3zM414.2 90.8h1.3v5.7h-1.3zM418.2 90.8h1.3v5.7h-1.3zM455.2 90.8h1.3v5.7h-1.3zM458.2 90.8h2.3v5.7h-2.3zM532.2 90.8h2.3v5.7h-2.3zM544.2 90.8h1.3v5.7h-1.3zM419.2 96.2h2.3v5.7h-2.3zM423.2 96.2h1.3v5.7h-1.3zM468.2 96.2h1.3v5.7h-1.3zM474.2 96.2h1.3v5.7h-1.3zM486.2 96.2h1.3v5.7h-1.3zM495.2 96.2h1.3v5.7h-1.3zM498.2 96.2h1.3v5.7h-1.3zM512.2 96.2h1.3v5.7h-1.3zM514.2 96.2h1.3v5.7h-1.3z"/>
<path fill="#88c67b" d="M473.2 37.6h1.3v5.5h-1.3zM493.2 42.9h1.3v5.5h-1.3zM495.2 42.9h1.3v5.5h-1.3zM541.2 42.9h1.3v5.5h-1.3zM435.2 58.6h1.3v5.5h-1.3zM471.2 63.8h1.3v5.5h-1.3zM543.2 63.8h1.3v5.5h-1.3zM469.2 74.5h1.3v5.7h-1.3zM473.2 74.5h1.3v5.7h-1.3zM482.2 74.5h1.3v5.7h-1.3zM489.2 74.5h1.3v5.7h-1.3zM496.2 74.5h2.3v5.7h-2.3zM529.2 74.5h1.3v5.7h-1.3zM429.2 79.9h1.3v5.7h-1.3zM540.2 85.3h1.3v5.7h-1.3zM480.2 90.8h1.3v5.7h-1.3zM488.2 90.8h1.3v5.7h-1.3zM491.2 90.8h1.3v5.7h-1.3zM493.2 90.8h1.3v5.7h-1.3zM498.2 90.8h1.3v5.7h-1.3zM502.2 90.8h1.3v5.7h-1.3zM505.2 90.8h1.3v5.7h-1.3zM537.2 90.8h1.3v5.7h-1.3z"/>
<path fill="#fce619" d="M474.2 37.6h1.3v5.5h-1.3zM489.2 37.6h1.3v5.5h-1.3zM501.2 37.6h1.3v5.5h-1.3zM488.2 42.9h1.3v5.5h-1.3zM491.2 42.9h1.3v5.5h-1.3zM488.2 48.1h1.3v5.5h-1.3zM501.2 48.1h1.3v5.5h-1.3zM481.2 53.3h1.3v5.5h-1.3zM483.2 53.3h1.3v5.5h-1.3zM494.2 53.3h1.3v5.5h-1.3zM468.2 58.6h1.3v5.5h-1.3z"/>
<path fill="#f7df22" d="M475.2 37.6h1.3v5.5h-1.3zM500.2 37.6h1.3v5.5h-1.3zM502.2 37.6h1.3v5.5h-1.3zM473.2 42.9h1.3v5.5h-1.3zM478.2 53.3h1.3v5.5h-1.3zM496.2 53.3h1.3v5.5h-1.3zM502.2 53.3h1.3v5.5h-1.3zM463.2 90.8h1.3v5.7h-1.3z"/>
<path fill="#fdeb13" d="M476.2 37.6h1.3v5.5h-1.3zM478.2 37.6h1.3v5.5h-1.3zM481.2 37.6h1.3v5.5h-1.3zM486.2 37.6h1.3v5.5h-1.3zM492.2 37.6h2.3v5.5h-2.3zM475.2 42.9h1.3v5.5h-1.3zM479.2 42.9h1.3v5.5h-1.3zM499.2 48.1h1.3v5.5h-1.3zM488.2 53.3h1.3v5.5h-1.3zM493.2 53.3h1.3v5.5h-1.3zM486.2 58.6h1.3v5.5h-1.3zM490.2 63.8h1.3v5.5h-1.3z"/>
<path fill="#feef0e" d="M477.2 37.6h1.3v5.5h-1.3zM479.2 37.6h1.3v5.5h-1.3zM482.2 37.6h1.3v5.5h-1.3zM485.2 37.6h1.3v5.5h-1.3zM494.2 37.6h1.3v5.5h-1.3zM496.2 37.6h1.3v5.5h-1.3zM481.2 42.9h1.3v5.5h-1.3zM489.2 48.1h2.3v5.5h-2.3zM498.2 48.1h1.3v5.5h-1.3zM483.2 58.6h2.3v5.5h-2.3zM495.2 58.6h1.3v5.5h-1.3zM498.2 58.6h1.3v5.5h-1.3zM483.2 63.8h1.3v5.5h-1.3zM496.2 63.8h1.3v5.5h-1.3z"/>
<path fill="#f0d82a" d="M480.2 37.6h1.3v5.5h-1.3zM483.2 37.6h1.3v5.5h-1.3zM502.2 48.1h1.3v5.5h-1.3zM467.2 58.6h1.3v5.5h-1.3zM478.2 74.5h1.3v5.7h-1.3z"/>
<path fill="#fce41b" d="M484.2 37.6h1.3v5.5h-1.3zM487.2 37.6h1.3v5.5h-1.3zM499.2 37.6h1.3v5.5h-1.3zM500.2 48.1h1.3v5.5h-1.3zM479.2 53.3h1.3v5.5h-1.3zM498.2 53.3h1.3v5.5h-1.3zM474.2 63.8h1.3v5.5h-1.3z"/>
<path fill="#fde916" d="M488.2 37.6h1.3v5.5h-1.3zM498.2 37.6h1.3v5.5h-1.3zM474.2 42.9h1.3v5.5h-1.3zM478.2 42.9h1.3v5.5h-1.3zM487.2 42.9h1.3v5.5h-1.3zM490.2 42.9h1.3v5.5h-1.3zM474.2 48.1h1.3v5.5h-1.3zM491.2 48.1h1.3v5.5h-1.3zM477.2 53.3h1.3v5.5h-1.3zM484.2 53.3h1.3v5.5h-1.3zM495.2 53.3h1.3v5.5h-1.3zM497.2 53.3h1.3v5.5h-1.3zM499.2 53.3h1.3v5.5h-1.3zM501.2 53.3h1.3v5.5h-1.3zM469.2 58.6h1.3v5.5h-1.3zM473.2 63.8h1.3v5.5h-1.3zM488.2 63.8h2.3v5.5h-2.3zM497.2 63.8h1.3v5.5h-1.3z"/>
<path fill="#feed10" d="M490.2 37.6h2.3v5.5h-2.3zM497.2 37.6h1.3v5.5h-1.3zM480.2 42.9h1.3v5.5h-1.3zM489.2 42.9h1.3v5.5h-1.3zM486.2 48.1h1.3v5.5h-1.3zM480.2 53.3h1.3v5.5h-1.3zM482.2 53.3h1.3v5.5h-1.3zM487.2 53.3h1.3v5.5h-1.3zM496.2 58.6h1.3v5.5h-1.3zM491.2 63.8h1.3v5.5h-1.3z"/>
<path fill="#fff308" d="M495.2 37.6h1.3v5.5h-1.3zM477.2 42.9h1.3v5.5h-1.3zM482.2 42.9h3.3v5.5h-3.3zM475.2 48.1h11.3v5.5h-11.3zM493.2 48.1h3.3v5.5h-3.3zM497.2 48.1h1.3v5.5h-1.3zM489.2 53.3h1.3v5.5h-1.3zM492.2 53.3h1.3v5.5h-1.3zM470.2 58.6h1.3v5.5h-1.3zM472.2 58.6h11.3v5.5h-11.3zM487.2 58.6h8.3v5.5h-8.3zM497.2 58.6h1.3v5.5h-1.3zM476.2 63.8h2.3v5.5h-2.3zM479.2 63.8h1.3v5.5h-1.3zM482.2 63.8h1.3v5.5h-1.3zM484.2 63.8h4.3v5.5h-4.3zM493.2 63.8h1.3v5.5h-1.3zM495.2 63.8h1.3v5.5h-1.3z"/>
<path fill="#e3cb3a" d="M503.2 37.6h1.3v5.5h-1.3zM473.2 48.1h1.3v5.5h-1.3zM441.2 58.6h1.3v5.5h-1.3zM499.2 58.6h2.3v5.5h-2.3zM498.2 63.8h1.3v5.5h-1.3zM465.2 90.8h1.3v5.7h-1.3z"/>
<path fill="#9ac86d" d="M504.2 37.6h1.3v5.5h-1.3zM471.2 48.1h1.3v5.5h-1.3zM504.2 53.3h1.3v5.5h-1.3zM499.2 63.8h1.3v5.5h-1.3zM472.2 74.5h1.3v5.7h-1.3zM474.2 74.5h1.3v5.7h-1.3zM479.2 74.5h1.3v5.7h-1.3zM490.2 74.5h1.3v5.7h-1.3zM495.2 74.5h1.3v5.7h-1.3zM525.2 74.5h1.3v5.7h-1.3zM527.2 74.5h1.3v5.7h-1.3zM463.2 85.3h1.3v5.7h-1.3zM475.2 85.3h1.3v5.7h-1.3zM500.2 85.3h1.3v5.7h-1.3zM460.2 90.8h1.3v5.7h-1.3zM464.2 90.8h1.3v5.7h-1.3zM466.2 90.8h3.3v5.7h-3.3zM470.2 90.8h1.3v5.7h-1.3zM477.2 90.8h1.3v5.7h-1.3zM486.2 90.8h1.3v5.7h-1.3zM490.2 90.8h1.3v5.7h-1.3zM494.2 90.8h2.3v5.7h-2.3zM506.2 90.8h1.3v5.7h-1.3zM538.2 90.8h1.3v5.7h-1.3z"/>
<path fill="#adc960" d="M505.2 37.6h1.3v5.5h-1.3zM470.2 42.9h2.3v5.5h-2.3zM436.2 58.6h2.3v5.5h-2.3zM488.2 74.5h1.3v5.7h-1.3zM526.2 74.5h1.3v5.7h-1.3zM462.2 90.8h1.3v5.7h-1.3zM469.2 90.8h1.3v5.7h-1.3zM478.2 90.8h2.3v5.7h-2.3z"/>
<path fill="#42beb4" d="M540.2 37.6h1.3v5.5h-1.3zM427.2 42.9h1.3v5.5h-1.3zM444.2 42.9h1.3v5.5h-1.3zM496.2 42.9h1.3v5.5h-1.3zM506.2 42.9h1.3v5.5h-1.3zM517.2 42.9h1.3v5.5h-1.3zM414.2 48.1h1.3v5.5h-1.3zM435.2 48.1h1.3v5.5h-1.3zM438.2 48.1h1.3v5.5h-1.3zM453.2 48.1h1.3v5.5h-1.3zM457.2 48.1h1.3v5.5h-1.3zM421.2 53.3h1.3v5.5h-1.3zM449.2 58.6h1.3v5.5h-1.3zM464.2 58.6h1.3v5.5h-1.3zM503.2 58.6h1.3v5.5h-1.3zM506.2 58.6h3.3v5.5h-3.3zM532.2 58.6h1.3v5.5h-1.3zM547.2 58.6h1.3v5.5h-1.3zM470.2 63.8h1.3v5.5h-1.3zM461.2 74.5h1.3v5.7h-1.3zM465.2 74.5h1.3v5.7h-1.3zM468.2 74.5h1.3v5.7h-1.3zM501.2 74.5h1.3v5.7h-1.3zM523.2 74.5h1.3v5.7h-1.3zM414.2 79.9h2.3v5.7h-2.3zM428.2 79.9h1.3v5.7h-1.3zM461.2 85.3h2.3v5.7h-2.3zM464.2 85.3h1.3v5.7h-1.3zM488.2 85.3h1.3v5.7h-1.3zM490.2 85.3h1.3v5.7h-1.3zM493.2 85.3h1.3v5.7h-1.3zM505.2 85.3h1.3v5.7h-1.3zM535.2 85.3h1.3v5.7h-1.3zM537.2 85.3h1.3v5.7h-1.3zM541.2 85.3h1.3v5.7h-1.3zM543.2 85.3h1.3v5.7h-1.3zM547.2 85.3h1.3v5.7h-1.3zM474.2 90.8h1.3v5.7h-1.3zM483.2 90.8h1.3v5.7h-1.3zM485.2 90.8h1.3v5.7h-1.3zM487.2 90.8h1.3v5.7h-1.3zM500.2 90.8h1.3v5.7h-1.3zM531.2 90.8h1.3v5.7h-1.3zM543.2 90.8h1.3v5.7h-1.3zM471.2 96.2h1.3v5.7h-1.3z"/>
<path fill="#1766dd" d="M455.2 42.9h1.3v5.5h-1.3zM439.2 53.3h1.3v5.5h-1.3zM449.2 53.3h1.3v5.5h-1.3zM527.2 69.1h1.3v5.7h-1.3zM531.2 69.1h1.3v5.7h-1.3zM533.2 69.1h1.3v5.7h-1.3zM417.2 74.5h1.3v5.7h-1.3zM518.2 79.9h1.3v5.7h-1.3zM530.2 79.9h1.3v5.7h-1.3zM533.2 79.9h1.3v5.7h-1.3zM535.2 79.9h1.3v5.7h-1.3zM538.2 79.9h1.3v5.7h-1.3zM411.2 85.3h1.3v5.7h-1.3zM413.2 85.3h4.3v5.7h-4.3zM418.2 85.3h1.3v5.7h-1.3zM436.2 85.3h1.3v5.7h-1.3zM451.2 85.3h1.3v5.7h-1.3zM454.2 85.3h1.3v5.7h-1.3zM434.2 96.2h1.3v5.7h-1.3z"/>
<path fill="#ead232" d="M472.2 42.9h1.3v5.5h-1.3zM545.2 42.9h1.3v5.5h-1.3zM476.2 53.3h1.3v5.5h-1.3zM439.2 58.6h2.3v5.5h-2.3z"/>
<path fill="#fff10b" d="M476.2 42.9h1.3v5.5h-1.3zM485.2 42.9h2.3v5.5h-2.3zM487.2 48.1h1.3v5.5h-1.3zM492.2 48.1h1.3v5.5h-1.3zM496.2 48.1h1.3v5.5h-1.3zM485.2 53.3h2.3v5.5h-2.3zM490.2 53.3h2.3v5.5h-2.3zM500.2 53.3h1.3v5.5h-1.3zM471.2 58.6h1.3v5.5h-1.3zM485.2 58.6h1.3v5.5h-1.3zM475.2 63.8h1.3v5.5h-1.3zM478.2 63.8h1.3v5.5h-1.3zM480.2 63.8h2.3v5.5h-2.3zM492.2 63.8h1.3v5.5h-1.3zM494.2 63.8h1.3v5.5h-1.3z"/>
<path fill="#d3ca46" d="M492.2 42.9h1.3v5.5h-1.3zM543.2 42.9h2.3v5.5h-2.3zM546.2 42.9h2.3v5.5h-2.3zM438.2 58.6h1.3v5.5h-1.3zM501.2 58.6h1.3v5.5h-1.3zM477.2 74.5h1.3v5.7h-1.3zM480.2 74.5h2.3v5.7h-2.3zM528.2 74.5h1.3v5.7h-1.3z"/>
<path fill="#c0c953" d="M494.2 42.9h1.3v5.5h-1.3zM472.2 48.1h1.3v5.5h-1.3zM503.2 48.1h1.3v5.5h-1.3zM475.2 53.3h1.3v5.5h-1.3zM503.2 53.3h1.3v5.5h-1.3zM466.2 58.6h1.3v5.5h-1.3zM472.2 63.8h1.3v5.5h-1.3zM476.2 74.5h1.3v5.7h-1.3zM491.2 74.5h1.3v5.7h-1.3z"/>
<path fill="#76c48a" d="M548.2 42.9h3.3v5.5h-3.3zM416.2 48.1h1.3v5.5h-1.3zM504.2 48.1h1.3v5.5h-1.3zM442.2 58.6h1.3v5.5h-1.3zM444.2 58.6h2.3v5.5h-2.3zM502.2 58.6h1.3v5.5h-1.3zM518.2 58.6h1.3v5.5h-1.3zM524.2 58.6h1.3v5.5h-1.3zM463.2 74.5h2.3v5.7h-2.3zM483.2 74.5h1.3v5.7h-1.3zM530.2 74.5h1.3v5.7h-1.3zM430.2 79.9h2.3v5.7h-2.3zM473.2 85.3h1.3v5.7h-1.3zM494.2 85.3h1.3v5.7h-1.3zM498.2 85.3h1.3v5.7h-1.3zM461.2 90.8h1.3v5.7h-1.3zM472.2 90.8h1.3v5.7h-1.3zM482.2 90.8h1.3v5.7h-1.3zM489.2 90.8h1.3v5.7h-1.3zM497.2 90.8h1.3v5.7h-1.3zM534.2 90.8h3.3v5.7h-3.3zM540.2 90.8h3.3v5.7h-3.3z"/>
<path fill="#184fd3" d="M448.2 53.3h1.3v5.5h-1.3zM530.2 69.1h1.3v5.7h-1.3zM538.2 69.1h1.3v5.7h-1.3zM463.2 79.9h2.3v5.7h-2.3zM467.2 79.9h2.3v5.7h-2.3zM524.2 79.9h1.3v5.7h-1.3z"/>
<path fill="#1a47ca" d="M466.2 79.9h1.3v5.7h-1.3z"/>
</g>
<line x1="411.2" y1="69.1" x2="556.2" y2="69.1" stroke="#fff" stroke-width="1"/>
<rect x="557.4" y="37.6" width="2.2" height="64" fill="url(#cbar)"/>
<text x="560.7" y="34.9" font-size="7.6">%</text>
<text x="561.7" y="43.1" font-size="7">7</text>
<text x="561.7" y="71.6" font-size="7">0</text>
<text x="560.7" y="102.1" font-size="7">-4</text>
<text x="484.2" y="30.9" font-size="8.6" text-anchor="middle" fill="#a9772e">rLHA DBS</text>
<line x1="460.4" y1="36" x2="508.4" y2="36" stroke="#a9772e" stroke-width="2"/>
<text x="398.1" y="67.3" font-size="7.6" text-anchor="middle" transform="rotate(-90 398.1 67.3)">GCaMP6s</text>
<text x="406.9" y="51" font-size="7.6" text-anchor="middle" transform="rotate(-90 406.9 51)" fill="#2f7d3f">MSDB</text>
<text x="406.9" y="84.8" font-size="7.6" text-anchor="middle" transform="rotate(-90 406.9 84.8)" fill="#b5282d">PnO</text>
<path d="M412.4 171.1 412.8 171.3 413.2 170.6 413.5 169 413.9 169.1 414.3 170.3 414.7 171.3 415.1 171.1 415.4 171.4 415.8 170.6 416.2 170.8 416.6 170.8 417 169.3 417.3 169.6 417.7 169 418.1 170.1 418.5 170.4 418.9 170.9 419.2 169.2 419.6 170.2 420 168.7 420.4 169.8 420.8 169.8 421.1 170.5 421.5 170 421.9 170.6 422.3 171 422.7 170.3 423 170.6 423.4 170.4 423.8 169.8 424.2 170.8 424.6 169.1 424.9 169.9 425.3 171.1 425.7 169.9 426.1 170.9 426.5 171.3 426.8 170.6 427.2 170.4 427.6 169.5 428 169.1 428.4 168.8 428.7 170.1 429.1 169.7 429.5 171.5 429.9 171.1 430.3 169.9 430.6 170.5 431 170.7 431.4 169.9 431.8 169.4 432.2 169.5 432.5 170.3 432.9 170 433.3 169.8 433.7 170.3 434.1 169.3 434.4 169 434.8 170.6 435.2 169.6 435.6 169.5 436 169.7 436.3 169.9 436.7 169.9 437.1 169.9 437.5 170.1 437.9 169.3 438.2 169 438.6 169.2 439 168.6 439.4 168.6 439.8 168.6 440.1 169.3 440.5 168.8 440.9 170.2 441.3 171 441.7 171.1 442 171.1 442.4 171.5 442.8 170.4 443.2 169.8 443.6 169 443.9 168.9 444.3 170 444.7 170.3 445.1 169.9 445.5 170.3 445.8 170 446.2 170 446.6 169.5 447 168.6 447.4 169.3 447.7 169.1 448.1 168.7 448.5 168.6 448.9 168.4 449.3 169.8 449.6 168.2 450 169.3 450.4 169.3 450.8 168.7 451.2 169.1 451.5 168.1 451.9 169.7 452.3 170.3 452.7 169.8 453.1 169.3 453.4 168.9 453.8 168.3 454.2 167 454.6 167.4 455 167.7 455.3 168.1 455.7 168.1 456.1 168.8 456.5 168.3 456.9 168.6 457.2 167.6 457.6 167.5 458 167.4 458.4 167 458.8 167.7 459.1 167.2 459.5 167.5 459.9 168.2 460.3 167.6 460.7 167.7 461 167.2 461.4 166.6 461.8 165.7 462.2 163.8 462.6 165.3 462.9 163.5 463.3 163.5 463.7 163.7 464.1 162.6 464.5 162.4 464.8 162.3 465.2 162.9 465.6 161.5 466 161.4 466.4 160.4 466.7 159.7 467.1 160.4 467.5 160.6 467.9 159.1 468.3 158.8 468.6 158.6 469 158.9 469.4 158.6 469.8 158.4 470.2 158 470.5 159.4 470.9 159.2 471.3 157.9 471.7 158.2 472.1 156.1 472.4 156.8 472.8 156.2 473.2 156.2 473.6 155.7 474 154.6 474.3 155.3 474.7 156.5 475.1 156.3 475.5 156.9 475.9 158.4 476.2 156.8 476.6 157 477 155.2 477.4 153.9 477.8 154.9 478.1 156 478.5 154.3 478.9 155 479.3 156.5 479.7 157.1 480 158.2 480.4 156.6 480.8 157.1 481.2 155.2 481.6 155.8 481.9 154.8 482.3 154.4 482.7 153.8 483.1 153.7 483.5 153.7 483.8 154.6 484.2 155.6 484.6 155.8 485 155.7 485.3 154.5 485.7 154 486.1 154 486.5 154.6 486.9 155.1 487.2 154.8 487.6 155.5 488 154.9 488.4 155 488.8 155 489.1 155.3 489.5 155.1 489.9 155.6 490.3 156 490.7 156.5 491 157.2 491.4 158.6 491.8 158.1 492.2 158.7 492.6 160.2 492.9 159 493.3 158.9 493.7 158.5 494.1 156.9 494.5 156.7 494.8 156.8 495.2 157.2 495.6 157.8 496 157.4 496.4 157.9 496.7 156.6 497.1 156.7 497.5 157.5 497.9 159.1 498.3 160.2 498.6 161.3 499 161.8 499.4 161.6 499.8 161.2 500.2 160.7 500.5 159 500.9 160.3 501.3 160.2 501.7 161.6 502.1 160.7 502.4 160.4 502.8 161.2 503.2 160.9 503.6 160.4 504 162.4 504.3 162.6 504.7 162.4 505.1 162.6 505.5 162.7 505.9 162 506.2 161.4 506.6 161.8 507 163.9 507.4 162.5 507.8 162.8 508.1 162.6 508.5 163.1 508.9 163.5 509.3 163.7 509.7 164.3 510 163.8 510.4 164.1 510.8 164.4 511.2 164.1 511.6 163.8 511.9 163 512.3 164 512.7 163.2 513.1 163.8 513.5 163.5 513.8 165.6 514.2 164.9 514.6 164.3 515 163 515.4 162.2 515.7 161.2 516.1 161.1 516.5 162.9 516.9 163.1 517.3 162.8 517.6 164.3 518 163.7 518.4 163.9 518.8 163.7 519.2 164.5 519.5 163.2 519.9 163.9 520.3 164.2 520.7 163.3 521.1 163.8 521.4 164.3 521.8 163.8 522.2 165.4 522.6 164.8 523 164.8 523.3 163.5 523.7 163 524.1 164.5 524.5 164.6 524.9 163.1 525.2 163.8 525.6 163.5 526 164 526.4 162.9 526.8 163.1 527.1 163.6 527.5 164.1 527.9 164.8 528.3 165.3 528.7 165.2 529 163.6 529.4 163.2 529.8 163.2 530.2 163.2 530.6 164.1 530.9 163.9 531.3 165 531.7 165 532.1 165 532.5 165.4 532.8 164.8 533.2 165.4 533.6 166.1 534 165.4 534.4 165.2 534.7 164.5 535.1 165.8 535.5 165.6 535.9 166.3 536.3 166.8 536.6 166.1 537 165.4 537.4 164.6 537.8 165.2 538.2 166.7 538.5 167.4 538.9 167.9 539.3 168.3 539.7 167.9 540.1 167.1 540.4 167.1 540.8 166.5 541.2 167 541.6 168.7 542 169.3 542.3 169.8 542.7 168.8 543.1 167.6 543.5 167.5 543.9 167.1 544.2 167.5 544.6 167.1 545 167.9 545.4 166.7 545.8 166.3 546.1 166.3 546.5 165.6 546.9 165.4 547.3 165.5 547.7 166.1 548 166.6 548.4 166.2 548.8 165.1 549.2 164.7 549.6 165 549.9 165.7 550.3 165.4 550.7 165.7 551.1 166.9 551.5 166.9 551.8 168.9 552.2 168.5 552.6 168.5 553 168.2 553.4 167 553.7 167.9 554.1 167.2 554.5 167.4 554.9 168.3 555.3 167.7 555.6 167.9 556 168.6 556.4 167.7 556.4 171.2 556 172.4 555.6 173.1 555.3 172 554.9 173 554.5 172.3 554.1 172 553.7 172.8 553.4 172.6 553 173.5 552.6 174.4 552.2 174.5 551.8 174.4 551.5 172.5 551.1 171.9 550.7 170.4 550.3 171.9 549.9 171.8 549.6 170.6 549.2 170.7 548.8 170.8 548.4 170.7 548 171.9 547.7 171.9 547.3 171.5 546.9 172.4 546.5 172 546.1 172.8 545.8 172.9 545.4 173.3 545 173.8 544.6 173.2 544.2 173.1 543.9 172.1 543.5 172.2 543.1 172.2 542.7 172.7 542.3 173.3 542 172.8 541.6 172.6 541.2 170.7 540.8 170.1 540.4 171.2 540.1 170.7 539.7 170.4 539.3 171.1 538.9 171.5 538.5 172.4 538.2 172.4 537.8 172.4 537.4 172.2 537 173.2 536.6 172.9 536.3 173.3 535.9 172.7 535.5 171.9 535.1 171.6 534.7 169.6 534.4 171 534 170.2 533.6 171.4 533.2 171 532.8 170.6 532.5 171.3 532.1 170.6 531.7 170.6 531.3 171 530.9 170.5 530.6 171.2 530.2 171.2 529.8 171.3 529.4 171.4 529 171.2 528.7 171.9 528.3 171.9 527.9 171.6 527.5 170.3 527.1 170 526.8 169.9 526.4 170.1 526 170.8 525.6 170.8 525.2 171.2 524.9 171 524.5 171.4 524.1 171.3 523.7 169.7 523.3 169.9 523 169.8 522.6 170.2 522.2 170.3 521.8 168.7 521.4 169 521.1 169.8 520.7 169.3 520.3 170.9 519.9 171.4 519.5 171.6 519.2 171.5 518.8 171.6 518.4 171 518 169.8 517.6 169.9 517.3 168.8 516.9 169 516.5 169.5 516.1 168.9 515.7 168.8 515.4 169.6 515 170 514.6 170.8 514.2 171.1 513.8 171.4 513.5 170.1 513.1 170.1 512.7 170.4 512.3 171.2 511.9 170.2 511.6 169.7 511.2 170.1 510.8 169.1 510.4 168.9 510 170.1 509.7 171.4 509.3 170.8 508.9 171.3 508.5 170.6 508.1 169.5 507.8 169.6 507.4 169.2 507 169.7 506.6 168.3 506.2 167.7 505.9 168.6 505.5 169 505.1 169.9 504.7 168.9 504.3 169.2 504 169.4 503.6 168.1 503.2 168.5 502.8 168.6 502.4 167.7 502.1 167.1 501.7 168.5 501.3 167.7 500.9 169.1 500.5 166.6 500.2 167.7 499.8 167.1 499.4 165.8 499 164.8 498.6 166.3 498.3 166.6 497.9 165.8 497.5 167 497.1 166.1 496.7 165.5 496.4 166.5 496 166.3 495.6 165.7 495.2 165.8 494.8 165.4 494.5 165 494.1 164.6 493.7 165.5 493.3 165.5 492.9 165.4 492.6 166.7 492.2 165.6 491.8 165.2 491.4 166.3 491 164.7 490.7 164.7 490.3 165 489.9 164.8 489.5 164.4 489.1 164.5 488.8 164 488.4 162.4 488 163.3 487.6 163.4 487.2 163.7 486.9 164.5 486.5 165.1 486.1 163.2 485.7 163.2 485.3 162.6 485 162.9 484.6 162.7 484.2 163.2 483.8 163 483.5 163.4 483.1 164 482.7 164.7 482.3 165 481.9 164.5 481.6 164.3 481.2 162.9 480.8 165.7 480.4 165.4 480 166.9 479.7 165.6 479.3 164.8 478.9 162.8 478.5 163.2 478.1 164.3 477.8 163.7 477.4 163.5 477 164.4 476.6 164 476.2 164.3 475.9 165 475.5 164.5 475.1 164.8 474.7 165.2 474.3 164 474 163.9 473.6 164.4 473.2 163.4 472.8 164.7 472.4 165.1 472.1 164.1 471.7 164.9 471.3 165.1 470.9 165.9 470.5 166.1 470.2 165.5 469.8 167.2 469.4 167.1 469 166.7 468.6 166.5 468.3 166.8 467.9 166.6 467.5 168.5 467.1 169.9 466.7 168.6 466.4 169 466 170 465.6 169.2 465.2 169.1 464.8 169 464.5 169 464.1 168.7 463.7 170.2 463.3 171.1 462.9 171.2 462.6 173 462.2 171.6 461.8 173.5 461.4 173.4 461 173 460.7 173.4 460.3 173.4 459.9 174.2 459.5 173.2 459.1 172.7 458.8 173.2 458.4 172.7 458 172.4 457.6 172.9 457.2 173.9 456.9 174.8 456.5 174.3 456.1 175 455.7 174.6 455.3 173.9 455 172.7 454.6 173 454.2 173.3 453.8 173.8 453.4 174.4 453.1 175.1 452.7 173.9 452.3 173.2 451.9 172.8 451.5 172.5 451.2 173.4 450.8 173.3 450.4 174.4 450 173.6 449.6 172.4 449.3 174.1 448.9 173.1 448.5 173.8 448.1 175.3 447.7 174.9 447.4 175 447 173.6 446.6 174.4 446.2 173.3 445.8 172.6 445.5 172.7 445.1 173.5 444.7 173.6 444.3 174.5 443.9 174.3 443.6 174.7 443.2 174.8 442.8 175.4 442.4 175 442 174.1 441.7 174.4 441.3 174.8 440.9 173.6 440.5 174.3 440.1 176 439.8 175.2 439.4 175 439 175.1 438.6 175.5 438.2 174.7 437.9 175.1 437.5 175.7 437.1 175.7 436.7 176.2 436.3 176.3 436 175.2 435.6 175.1 435.2 176.4 434.8 175.7 434.4 173.4 434.1 174.7 433.7 175.8 433.3 174.7 432.9 174.9 432.5 175.4 432.2 173.2 431.8 173.5 431.4 172.9 431 173.9 430.6 173.5 430.3 173 429.9 174 429.5 174.8 429.1 173.9 428.7 174.7 428.4 174.1 428 174.4 427.6 174.8 427.2 175.5 426.8 174.3 426.5 174.7 426.1 174.9 425.7 173.1 425.3 173.3 424.9 173.2 424.6 172.8 424.2 173.6 423.8 173.6 423.4 174.4 423 175 422.7 174.7 422.3 176.4 421.9 175.5 421.5 176.2 421.1 176.1 420.8 176.2 420.4 176.2 420 175.3 419.6 175.9 419.2 175.1 418.9 176.2 418.5 176.1 418.1 176.3 417.7 175.9 417.3 176.9 417 176.3 416.6 176 416.2 176.3 415.8 175.5 415.4 175.6 415.1 175.4 414.7 176.5 414.3 174.8 413.9 174.2 413.5 174 413.2 175 412.8 174.7 412.4 174.3Z" fill="#c4c4c4" stroke="none" stroke-width="0" fill-opacity="0.85"/>
<path d="M412.4 168.2 412.8 168 413.2 169 413.5 168.5 413.9 169.2 414.3 168.8 414.7 168.3 415.1 167.2 415.4 167.7 415.8 167.9 416.2 168.6 416.6 170.1 417 170.7 417.3 169.4 417.7 170 418.1 168.1 418.5 169.1 418.9 168.3 419.2 168 419.6 168.4 420 168.9 420.4 170 420.8 170.2 421.1 171.5 421.5 170.2 421.9 172 422.3 171.5 422.7 169.2 423 169.5 423.4 169.6 423.8 168.4 424.2 168.5 424.6 168 424.9 168.8 425.3 168.6 425.7 168.7 426.1 167.7 426.5 167.7 426.8 167.3 427.2 168.1 427.6 170.1 428 168.1 428.4 167.7 428.7 168.6 429.1 168.2 429.5 169.2 429.9 169.5 430.3 169.6 430.6 170.1 431 170.6 431.4 169.9 431.8 170 432.2 168.1 432.5 168.4 432.9 167.4 433.3 167.1 433.7 167.6 434.1 167.6 434.4 166.7 434.8 167.4 435.2 167.8 435.6 168.2 436 167.6 436.3 168.8 436.7 168.1 437.1 168.3 437.5 167.3 437.9 168.9 438.2 168.1 438.6 167.6 439 166.6 439.4 166.3 439.8 166.3 440.1 167 440.5 168.5 440.9 168.6 441.3 167.7 441.7 168.4 442 168.3 442.4 168.1 442.8 169 443.2 168.6 443.6 168.8 443.9 169.5 444.3 169.7 444.7 170.3 445.1 169.8 445.5 169.1 445.8 169 446.2 169.4 446.6 169.7 447 169.9 447.4 170.6 447.7 170.4 448.1 170.5 448.5 169.5 448.9 170.5 449.3 170.6 449.6 170.6 450 170.8 450.4 171.3 450.8 171.3 451.2 171 451.5 170.3 451.9 171.1 452.3 170.4 452.7 171.2 453.1 170.6 453.4 171.6 453.8 171.3 454.2 171.1 454.6 171.7 455 171 455.3 168.6 455.7 168.6 456.1 167.4 456.5 168.1 456.9 168.4 457.2 168.6 457.6 168.1 458 168.8 458.4 167.9 458.8 168.2 459.1 168.6 459.5 169.8 459.9 169.3 460.3 170.5 460.7 169.6 461 169.4 461.4 168.9 461.8 167.4 462.2 166.9 462.6 166.4 462.9 163.7 463.3 163.6 463.7 163.1 464.1 161.8 464.5 161.8 464.8 161.1 465.2 160.5 465.6 159.7 466 160.4 466.4 158.1 466.7 157.6 467.1 156.7 467.5 154 467.9 152.7 468.3 151.2 468.6 151.3 469 149.1 469.4 147.2 469.8 146.4 470.2 145.7 470.5 143.1 470.9 143.2 471.3 141.2 471.7 140.7 472.1 139.1 472.4 137.2 472.8 136.4 473.2 136.1 473.6 132.8 474 132.6 474.3 130.4 474.7 130 475.1 129.6 475.5 128 475.9 127.3 476.2 126.7 476.6 126.5 477 125.3 477.4 124.2 477.8 123.2 478.1 121.5 478.5 120.5 478.9 121.1 479.3 120.6 479.7 119.7 480 120.2 480.4 119.5 480.8 118.3 481.2 117.8 481.6 117.3 481.9 115.7 482.3 115.5 482.7 114.3 483.1 113.2 483.5 113 483.8 112.4 484.2 113.3 484.6 114.1 485 114.4 485.3 114.4 485.7 114.3 486.1 114 486.5 112.9 486.9 115.6 487.2 115.1 487.6 116.6 488 118 488.4 117.8 488.8 117.9 489.1 119.7 489.5 120.2 489.9 117.9 490.3 119.9 490.7 119.6 491 119.7 491.4 121.5 491.8 121.8 492.2 122.9 492.6 124.6 492.9 125.4 493.3 125.8 493.7 127.8 494.1 130.5 494.5 130.8 494.8 130.3 495.2 129.9 495.6 128.4 496 129.7 496.4 131 496.7 133.9 497.1 134.7 497.5 136.3 497.9 135.2 498.3 137.2 498.6 136.4 499 139 499.4 139.9 499.8 140.8 500.2 142.4 500.5 143.1 500.9 143.2 501.3 144.4 501.7 145.3 502.1 146.3 502.4 147.6 502.8 149.1 503.2 148.3 503.6 149.6 504 151.5 504.3 152 504.7 152.9 505.1 153.5 505.5 154.5 505.9 156.9 506.2 157.7 506.6 158.1 507 158.4 507.4 158.1 507.8 159.9 508.1 161.3 508.5 162.6 508.9 163 509.3 162.6 509.7 163.1 510 162.8 510.4 163 510.8 164.8 511.2 166.3 511.6 165.4 511.9 165.6 512.3 165.7 512.7 166.4 513.1 166.7 513.5 166.7 513.8 167.5 514.2 168.9 514.6 168.8 515 168.9 515.4 169.4 515.7 169.3 516.1 169.2 516.5 170.9 516.9 170.2 517.3 171.4 517.6 170.9 518 171.5 518.4 171.3 518.8 171.3 519.2 169.8 519.5 169.5 519.9 169.9 520.3 170.8 520.7 169.1 521.1 169.3 521.4 170.3 521.8 170.4 522.2 170.5 522.6 170.6 523 170.4 523.3 170.8 523.7 171 524.1 169.8 524.5 170.1 524.9 168.1 525.2 168 525.6 170.9 526 170.2 526.4 170.2 526.8 171 527.1 170.8 527.5 171 527.9 171.9 528.3 171.4 528.7 171.6 529 172 529.4 170.4 529.8 171 530.2 171.1 530.6 171.4 530.9 171.3 531.3 170.7 531.7 171.9 532.1 171.5 532.5 171 532.8 169 533.2 168.6 533.6 167.7 534 165.5 534.4 167.9 534.7 168.2 535.1 168.4 535.5 167.3 535.9 166.3 536.3 166.4 536.6 167.8 537 168.1 537.4 167.5 537.8 167.1 538.2 166 538.5 165.4 538.9 165.1 539.3 166 539.7 166.2 540.1 167.2 540.4 167.2 540.8 166.5 541.2 165 541.6 165.2 542 165.5 542.3 164.4 542.7 164 543.1 162.6 543.5 162.8 543.9 162.5 544.2 163.7 544.6 163.5 545 165.1 545.4 163.6 545.8 163.9 546.1 165.2 546.5 166.5 546.9 165.5 547.3 167 547.7 167.4 548 166.5 548.4 166.5 548.8 165.9 549.2 167 549.6 167.2 549.9 166.1 550.3 165.8 550.7 166.4 551.1 166.2 551.5 167.1 551.8 166.7 552.2 166.2 552.6 165.9 553 166.6 553.4 166.8 553.7 166.8 554.1 167.8 554.5 165.4 554.9 166.3 555.3 166.8 555.6 166.2 556 165.6 556.4 166.4 556.4 175.4 556 175.5 555.6 174 555.3 174.8 554.9 174.7 554.5 172.8 554.1 173.8 553.7 173.9 553.4 174.8 553 174.2 552.6 175.2 552.2 176.4 551.8 176.4 551.5 178 551.1 176.2 550.7 175.7 550.3 174.5 549.9 174.2 549.6 172.7 549.2 172.3 548.8 172.6 548.4 172.7 548 171.7 547.7 172.9 547.3 173.8 546.9 171.8 546.5 173.4 546.1 173.9 545.8 172.8 545.4 172.7 545 172.5 544.6 172.6 544.2 174 543.9 173.3 543.5 172.9 543.1 172.9 542.7 172 542.3 172.4 542 173.6 541.6 173.1 541.2 172.9 540.8 175.3 540.4 174.6 540.1 173.1 539.7 173.5 539.3 173.3 538.9 173.4 538.5 173 538.2 173.6 537.8 175.1 537.4 176.5 537 175.3 536.6 174.9 536.3 175.2 535.9 174 535.5 175.5 535.1 177.2 534.7 178.1 534.4 177.8 534 175.9 533.6 175.8 533.2 174.7 532.8 175.7 532.5 176.3 532.1 177.2 531.7 176.8 531.3 177.4 530.9 177 530.6 177.3 530.2 176.7 529.8 178.6 529.4 177.6 529 178.7 528.7 178.6 528.3 177.5 527.9 176.9 527.5 177 527.1 177.3 526.8 178.2 526.4 178.4 526 180.1 525.6 179.8 525.2 178.6 524.9 179.4 524.5 178.9 524.1 177.1 523.7 178.7 523.3 177.1 523 175.9 522.6 177.5 522.2 178.9 521.8 177.3 521.4 177.8 521.1 176.4 520.7 177.3 520.3 176.4 519.9 177.3 519.5 175.4 519.2 175.9 518.8 176.5 518.4 177.5 518 177.1 517.6 176.3 517.3 176.2 516.9 173.8 516.5 175 516.1 173.5 515.7 174 515.4 174.9 515 175.4 514.6 175.2 514.2 175.5 513.8 174.6 513.5 174.2 513.1 175.5 512.7 174 512.3 173.7 511.9 174.3 511.6 172.6 511.2 172.4 510.8 172.9 510.4 171.2 510 169.7 509.7 170.3 509.3 169.3 508.9 169.5 508.5 168.3 508.1 168.1 507.8 167.9 507.4 167 507 166.7 506.6 167.2 506.2 166.7 505.9 165.7 505.5 163.6 505.1 163.5 504.7 162.8 504.3 162 504 162.8 503.6 161.5 503.2 159.1 502.8 159.1 502.4 158.1 502.1 156.5 501.7 155.4 501.3 156.3 500.9 155.4 500.5 155.3 500.2 154.2 499.8 153.2 499.4 152.8 499 152.4 498.6 150.8 498.3 149.9 497.9 146.7 497.5 146.3 497.1 146 496.7 144.1 496.4 143.7 496 143.5 495.6 142.1 495.2 142.4 494.8 142.1 494.5 140.9 494.1 140.2 493.7 138.4 493.3 137.2 492.9 135.7 492.6 135.5 492.2 135.3 491.8 134.1 491.4 135.1 491 134.7 490.7 133.3 490.3 132.1 489.9 131.5 489.5 131.8 489.1 130.5 488.8 130.8 488.4 129.4 488 127.9 487.6 126.8 487.2 126.6 486.9 127.9 486.5 126.6 486.1 128.1 485.7 128.4 485.3 129.4 485 127.8 484.6 126.5 484.2 126.1 483.8 125.4 483.5 126 483.1 127.3 482.7 129.9 482.3 129.6 481.9 130.2 481.6 130.5 481.2 130.5 480.8 130.1 480.4 130.3 480 130.9 479.7 131.6 479.3 132.8 478.9 133.4 478.5 135.7 478.1 136.4 477.8 137.8 477.4 138.3 477 138.1 476.6 138.4 476.2 138.1 475.9 139.6 475.5 139.8 475.1 142.8 474.7 144.5 474.3 146.7 474 148.2 473.6 147.5 473.2 150 472.8 149.2 472.4 147.7 472.1 149.6 471.7 151.6 471.3 153.2 470.9 154.8 470.5 156.2 470.2 157.1 469.8 158.4 469.4 157.6 469 158.8 468.6 159.5 468.3 160 467.9 162 467.5 163.6 467.1 165.3 466.7 166.4 466.4 167.4 466 168.1 465.6 168.2 465.2 169.8 464.8 170.6 464.5 171.5 464.1 172.1 463.7 171.5 463.3 173 462.9 172.2 462.6 172.8 462.2 173.6 461.8 174.3 461.4 174.9 461 173.8 460.7 175 460.3 175.3 459.9 175.7 459.5 175.8 459.1 177.2 458.8 176.7 458.4 177.8 458 177.6 457.6 177.5 457.2 178.4 456.9 179.9 456.5 177.8 456.1 177.6 455.7 178 455.3 177 455 177.3 454.6 178.3 454.2 176.5 453.8 176.1 453.4 176.7 453.1 176.7 452.7 177.2 452.3 175.4 451.9 176.4 451.5 175.2 451.2 175.5 450.8 175 450.4 175.6 450 176 449.6 176.8 449.3 176.7 448.9 177.2 448.5 176.2 448.1 176 447.7 174.6 447.4 175.3 447 175.7 446.6 176.6 446.2 177.5 445.8 177.7 445.5 177.2 445.1 176.8 444.7 176.1 444.3 175.8 443.9 175.3 443.6 174.7 443.2 174 442.8 175.2 442.4 175 442 175.2 441.7 174.9 441.3 176.3 440.9 175.8 440.5 177.2 440.1 176.6 439.8 176.6 439.4 174.1 439 177.1 438.6 176 438.2 175.2 437.9 175.3 437.5 176.4 437.1 175.2 436.7 175.2 436.3 176.6 436 176.2 435.6 174.9 435.2 175.9 434.8 176.3 434.4 176.1 434.1 176.2 433.7 176.7 433.3 175.6 432.9 174.8 432.5 173.4 432.2 173.1 431.8 174.3 431.4 174 431 173.4 430.6 175.5 430.3 174.9 429.9 175.4 429.5 175.9 429.1 175.3 428.7 174.1 428.4 175 428 175.8 427.6 176.6 427.2 177.3 426.8 178 426.5 178 426.1 178.3 425.7 178.4 425.3 176.4 424.9 176.1 424.6 174.6 424.2 173.2 423.8 174.6 423.4 174.9 423 175.6 422.7 175 422.3 176.5 421.9 174.9 421.5 174 421.1 173.6 420.8 172.8 420.4 174.9 420 175.8 419.6 176.6 419.2 176.8 418.9 177 418.5 177.9 418.1 176.1 417.7 174.6 417.3 174.1 417 174.5 416.6 174.1 416.2 174 415.8 176.2 415.4 174.5 415.1 175.4 414.7 174.8 414.3 174.6 413.9 174.5 413.5 177.2 413.2 177.4 412.8 179.6 412.4 179.7Z" fill="#c4c4c4" stroke="none" stroke-width="0" fill-opacity="0.85"/>
<path d="M412.4 172.7 412.8 173 413.2 172.8 413.5 171.5 413.9 171.6 414.3 172.6 414.7 173.9 415.1 173.2 415.4 173.5 415.8 173 416.2 173.6 416.6 173.4 417 172.8 417.3 173.2 417.7 172.5 418.1 173.2 418.5 173.3 418.9 173.5 419.2 172.1 419.6 173 420 172 420.4 173 420.8 173 421.1 173.3 421.5 173.1 421.9 173 422.3 173.7 422.7 172.5 423 172.8 423.4 172.4 423.8 171.7 424.2 172.2 424.6 171 424.9 171.5 425.3 172.2 425.7 171.5 426.1 172.9 426.5 173 426.8 172.5 427.2 172.9 427.6 172.2 428 171.8 428.4 171.4 428.7 172.4 429.1 171.8 429.5 173.2 429.9 172.6 430.3 171.4 430.6 172 431 172.3 431.4 171.4 431.8 171.5 432.2 171.3 432.5 172.9 432.9 172.4 433.3 172.2 433.7 173.1 434.1 172 434.4 171.2 434.8 173.1 435.2 173 435.6 172.3 436 172.5 436.3 173.1 436.7 173.1 437.1 172.8 437.5 172.9 437.9 172.2 438.2 171.9 438.6 172.4 439 171.8 439.4 171.8 439.8 171.9 440.1 172.7 440.5 171.5 440.9 171.9 441.3 172.9 441.7 172.8 442 172.6 442.4 173.3 442.8 172.9 443.2 172.3 443.6 171.9 443.9 171.6 444.3 172.2 444.7 172 445.1 171.7 445.5 171.5 445.8 171.3 446.2 171.7 446.6 172 447 171.1 447.4 172.2 447.7 172 448.1 172 448.5 171.2 448.9 170.8 449.3 171.9 449.6 170.3 450 171.4 450.4 171.8 450.8 171 451.2 171.3 451.5 170.3 451.9 171.3 452.3 171.7 452.7 171.8 453.1 172.2 453.4 171.6 453.8 171.1 454.2 170.2 454.6 170.2 455 170.2 455.3 171 455.7 171.3 456.1 171.9 456.5 171.3 456.9 171.7 457.2 170.7 457.6 170.2 458 169.9 458.4 169.8 458.8 170.4 459.1 169.9 459.5 170.3 459.9 171.2 460.3 170.5 460.7 170.5 461 170.1 461.4 170 461.8 169.6 462.2 167.7 462.6 169.1 462.9 167.4 463.3 167.3 463.7 167 464.1 165.7 464.5 165.7 464.8 165.6 465.2 166 465.6 165.4 466 165.7 466.4 164.7 466.7 164.2 467.1 165.1 467.5 164.5 467.9 162.8 468.3 162.8 468.6 162.5 469 162.8 469.4 162.9 469.8 162.8 470.2 161.7 470.5 162.7 470.9 162.6 471.3 161.5 471.7 161.6 472.1 160.1 472.4 160.9 472.8 160.5 473.2 159.8 473.6 160.1 474 159.3 474.3 159.6 474.7 160.9 475.1 160.6 475.5 160.7 475.9 161.7 476.2 160.5 476.6 160.5 477 159.8 477.4 158.7 477.8 159.3 478.1 160.1 478.5 158.7 478.9 158.9 479.3 160.7 479.7 161.4 480 162.6 480.4 161 480.8 161.4 481.2 159.1 481.6 160 481.9 159.6 482.3 159.7 482.7 159.3 483.1 158.9 483.5 158.5 483.8 158.8 484.2 159.4 484.6 159.2 485 159.3 485.3 158.5 485.7 158.6 486.1 158.6 486.5 159.9 486.9 159.8 487.2 159.3 487.6 159.5 488 159.1 488.4 158.7 488.8 159.5 489.1 159.9 489.5 159.8 489.9 160.2 490.3 160.5 490.7 160.6 491 160.9 491.4 162.5 491.8 161.6 492.2 162.1 492.6 163.4 492.9 162.2 493.3 162.2 493.7 162 494.1 160.7 494.5 160.8 494.8 161.1 495.2 161.5 495.6 161.7 496 161.8 496.4 162.2 496.7 161 497.1 161.4 497.5 162.3 497.9 162.4 498.3 163.4 498.6 163.8 499 163.3 499.4 163.7 499.8 164.2 500.2 164.2 500.5 162.8 500.9 164.7 501.3 164 501.7 165.1 502.1 163.9 502.4 164 502.8 164.9 503.2 164.7 503.6 164.3 504 165.9 504.3 165.9 504.7 165.6 505.1 166.3 505.5 165.9 505.9 165.3 506.2 164.6 506.6 165 507 166.8 507.4 165.9 507.8 166.2 508.1 166.1 508.5 166.8 508.9 167.4 509.3 167.2 509.7 167.8 510 167 510.4 166.5 510.8 166.7 511.2 167.1 511.6 166.8 511.9 166.6 512.3 167.6 512.7 166.8 513.1 167 513.5 166.8 513.8 168.5 514.2 168 514.6 167.6 515 166.5 515.4 165.9 515.7 165 516.1 165 516.5 166.2 516.9 166.1 517.3 165.8 517.6 167.1 518 166.8 518.4 167.5 518.8 167.7 519.2 168 519.5 167.4 519.9 167.7 520.3 167.6 520.7 166.3 521.1 166.8 521.4 166.7 521.8 166.3 522.2 167.9 522.6 167.5 523 167.3 523.3 166.7 523.7 166.4 524.1 167.9 524.5 168 524.9 167.1 525.2 167.5 525.6 167.2 526 167.4 526.4 166.5 526.8 166.5 527.1 166.8 527.5 167.2 527.9 168.2 528.3 168.6 528.7 168.5 529 167.4 529.4 167.3 529.8 167.2 530.2 167.2 530.6 167.7 530.9 167.2 531.3 168 531.7 167.8 532.1 167.8 532.5 168.4 532.8 167.7 533.2 168.2 533.6 168.7 534 167.8 534.4 168.1 534.7 167.1 535.1 168.7 535.5 168.7 535.9 169.5 536.3 170.1 536.6 169.5 537 169.3 537.4 168.4 537.8 168.8 538.2 169.5 538.5 169.9 538.9 169.7 539.3 169.7 539.7 169.2 540.1 168.9 540.4 169.2 540.8 168.3 541.2 168.9 541.6 170.7 542 171.1 542.3 171.6 542.7 170.7 543.1 169.9 543.5 169.9 543.9 169.6 544.2 170.3 544.6 170.2 545 170.9 545.4 170 545.8 169.6 546.1 169.5 546.5 168.8 546.9 168.9 547.3 168.5 547.7 169 548 169.2 548.4 168.4 548.8 167.9 549.2 167.7 549.6 167.8 549.9 168.7 550.3 168.7 550.7 168.1 551.1 169.4 551.5 169.7 551.8 171.7 552.2 171.5 552.6 171.5 553 170.8 553.4 169.8 553.7 170.3 554.1 169.6 554.5 169.8 554.9 170.7 555.3 169.9 555.6 170.5 556 170.5 556.4 169.5" fill="none" stroke="#b5282d" stroke-width="1.2" stroke-linejoin="round"/>
<path d="M412.4 173.9 412.8 173.8 413.2 173.2 413.5 172.8 413.9 171.9 414.3 171.7 414.7 171.5 415.1 171.3 415.4 171.1 415.8 172.1 416.2 171.3 416.6 172.1 417 172.6 417.3 171.8 417.7 172.3 418.1 172.1 418.5 173.5 418.9 172.6 419.2 172.4 419.6 172.5 420 172.4 420.4 172.4 420.8 171.5 421.1 172.6 421.5 172.1 421.9 173.5 422.3 174 422.7 172.1 423 172.5 423.4 172.2 423.8 171.5 424.2 170.9 424.6 171.3 424.9 172.5 425.3 172.5 425.7 173.6 426.1 173 426.5 172.9 426.8 172.7 427.2 172.7 427.6 173.3 428 172 428.4 171.4 428.7 171.4 429.1 171.8 429.5 172.6 429.9 172.5 430.3 172.2 430.6 172.8 431 172 431.4 171.9 431.8 172.2 432.2 170.6 432.5 170.9 432.9 171.1 433.3 171.3 433.7 172.1 434.1 171.9 434.4 171.4 434.8 171.9 435.2 171.8 435.6 171.6 436 171.9 436.3 172.7 436.7 171.6 437.1 171.8 437.5 171.9 437.9 172.1 438.2 171.7 438.6 171.8 439 171.9 439.4 170.2 439.8 171.4 440.1 171.8 440.5 172.8 440.9 172.2 441.3 172 441.7 171.7 442 171.7 442.4 171.6 442.8 172.1 443.2 171.3 443.6 171.8 443.9 172.4 444.3 172.7 444.7 173.2 445.1 173.3 445.5 173.1 445.8 173.4 446.2 173.5 446.6 173.1 447 172.8 447.4 172.9 447.7 172.5 448.1 173.3 448.5 172.8 448.9 173.8 449.3 173.7 449.6 173.7 450 173.4 450.4 173.4 450.8 173.1 451.2 173.3 451.5 172.7 451.9 173.8 452.3 172.9 452.7 174.2 453.1 173.7 453.4 174.1 453.8 173.7 454.2 173.8 454.6 175 455 174.2 455.3 172.8 455.7 173.3 456.1 172.5 456.5 173 456.9 174.2 457.2 173.5 457.6 172.8 458 173.2 458.4 172.8 458.8 172.5 459.1 172.9 459.5 172.8 459.9 172.5 460.3 172.9 460.7 172.3 461 171.6 461.4 171.9 461.8 170.8 462.2 170.2 462.6 169.6 462.9 168 463.3 168.3 463.7 167.3 464.1 167 464.5 166.6 464.8 165.8 465.2 165.2 465.6 163.9 466 164.3 466.4 162.8 466.7 162 467.1 161 467.5 158.8 467.9 157.4 468.3 155.6 468.6 155.4 469 153.9 469.4 152.4 469.8 152.4 470.2 151.4 470.5 149.7 470.9 149 471.3 147.2 471.7 146.1 472.1 144.3 472.4 142.5 472.8 142.8 473.2 143 473.6 140.2 474 140.4 474.3 138.5 474.7 137.3 475.1 136.2 475.5 133.9 475.9 133.5 476.2 132.4 476.6 132.5 477 131.7 477.4 131.2 477.8 130.5 478.1 129 478.5 128.1 478.9 127.3 479.3 126.7 479.7 125.6 480 125.5 480.4 124.9 480.8 124.2 481.2 124.1 481.6 123.9 481.9 122.9 482.3 122.5 482.7 122.1 483.1 120.2 483.5 119.5 483.8 118.9 484.2 119.7 484.6 120.3 485 121.1 485.3 121.9 485.7 121.3 486.1 121.1 486.5 119.8 486.9 121.7 487.2 120.9 487.6 121.7 488 122.9 488.4 123.6 488.8 124.3 489.1 125.1 489.5 126 489.9 124.7 490.3 126 490.7 126.5 491 127.2 491.4 128.3 491.8 127.9 492.2 129.1 492.6 130 492.9 130.5 493.3 131.5 493.7 133.1 494.1 135.3 494.5 135.8 494.8 136.2 495.2 136.2 495.6 135.3 496 136.6 496.4 137.3 496.7 139 497.1 140.4 497.5 141.3 497.9 140.9 498.3 143.6 498.6 143.6 499 145.7 499.4 146.3 499.8 147 500.2 148.3 500.5 149.2 500.9 149.3 501.3 150.4 501.7 150.3 502.1 151.4 502.4 152.8 502.8 154.1 503.2 153.7 503.6 155.6 504 157.2 504.3 157 504.7 157.8 505.1 158.5 505.5 159 505.9 161.3 506.2 162.2 506.6 162.6 507 162.6 507.4 162.6 507.8 163.9 508.1 164.7 508.5 165.4 508.9 166.2 509.3 166 509.7 166.7 510 166.2 510.4 167.1 510.8 168.8 511.2 169.4 511.6 169 511.9 169.9 512.3 169.7 512.7 170.2 513.1 171.1 513.5 170.4 513.8 171 514.2 172.2 514.6 172 515 172.1 515.4 172.2 515.7 171.6 516.1 171.3 516.5 172.9 516.9 172 517.3 173.8 517.6 173.6 518 174.3 518.4 174.4 518.8 173.9 519.2 172.9 519.5 172.5 519.9 173.6 520.3 173.6 520.7 173.2 521.1 172.8 521.4 174 521.8 173.9 522.2 174.7 522.6 174 523 173.1 523.3 173.9 523.7 174.8 524.1 173.5 524.5 174.5 524.9 173.8 525.2 173.3 525.6 175.3 526 175.1 526.4 174.3 526.8 174.6 527.1 174.1 527.5 174 527.9 174.4 528.3 174.5 528.7 175.1 529 175.3 529.4 174 529.8 174.8 530.2 173.9 530.6 174.3 530.9 174.1 531.3 174.1 531.7 174.3 532.1 174.4 532.5 173.6 532.8 172.3 533.2 171.7 533.6 171.7 534 170.7 534.4 172.8 534.7 173.1 535.1 172.8 535.5 171.4 535.9 170.2 536.3 170.8 536.6 171.3 537 171.7 537.4 172 537.8 171.1 538.2 169.8 538.5 169.2 538.9 169.3 539.3 169.7 539.7 169.9 540.1 170.1 540.4 170.9 540.8 170.9 541.2 169 541.6 169.2 542 169.5 542.3 168.4 542.7 168 543.1 167.8 543.5 167.9 543.9 167.9 544.2 168.8 544.6 168.1 545 168.8 545.4 168.1 545.8 168.3 546.1 169.5 546.5 170 546.9 168.6 547.3 170.4 547.7 170.1 548 169.1 548.4 169.6 548.8 169.3 549.2 169.6 549.6 169.9 549.9 170.2 550.3 170.1 550.7 171.1 551.1 171.2 551.5 172.5 551.8 171.6 552.2 171.3 552.6 170.5 553 170.4 553.4 170.8 553.7 170.4 554.1 170.8 554.5 169.1 554.9 170.5 555.3 170.8 555.6 170.1 556 170.6 556.4 170.9" fill="none" stroke="#2f7d3f" stroke-width="1.2" stroke-linejoin="round"/>
<line x1="460.4" y1="35.4" x2="460.4" y2="194.2" stroke="#0c0c0c" stroke-width="0.9" stroke-dasharray="1.6 1.6"/>
<line x1="508.4" y1="35.4" x2="508.4" y2="194.2" stroke="#0c0c0c" stroke-width="0.9" stroke-dasharray="1.6 1.6"/>
<line x1="411.6" y1="104.9" x2="411.6" y2="194.7" stroke="#0c0c0c" stroke-width="1"/>
<line x1="411.6" y1="194.2" x2="556.9" y2="194.2" stroke="#0c0c0c" stroke-width="1"/>
<line x1="411.6" y1="105.5" x2="415.1" y2="105.5" stroke="#0c0c0c" stroke-width="1"/>
<text x="408.6" y="114.8" font-size="8.2" text-anchor="end">12</text>
<line x1="411.6" y1="127.7" x2="415.1" y2="127.7" stroke="#0c0c0c" stroke-width="1"/>
<text x="408.6" y="134" font-size="8.2" text-anchor="end">8</text>
<line x1="411.6" y1="149.8" x2="415.1" y2="149.8" stroke="#0c0c0c" stroke-width="1"/>
<text x="408.6" y="156" font-size="8.2" text-anchor="end">4</text>
<line x1="411.6" y1="172" x2="415.1" y2="172" stroke="#0c0c0c" stroke-width="1"/>
<text x="408.6" y="177.8" font-size="8.2" text-anchor="end">0</text>
<line x1="411.6" y1="194.2" x2="415.1" y2="194.2" stroke="#0c0c0c" stroke-width="1"/>
<text x="408.6" y="199.4" font-size="8.2" text-anchor="end">-4</text>
<text x="411.8" y="203.9" font-size="8.2" text-anchor="middle">-3</text>
<line x1="460.4" y1="194.2" x2="460.4" y2="190.2" stroke="#0c0c0c" stroke-width="1"/>
<text x="460.4" y="203.9" font-size="8.2" text-anchor="middle">0</text>
<line x1="508.4" y1="194.2" x2="508.4" y2="190.2" stroke="#0c0c0c" stroke-width="1"/>
<text x="508.4" y="203.9" font-size="8.2" text-anchor="middle">3</text>
<line x1="556.4" y1="194.2" x2="556.4" y2="190.2" stroke="#0c0c0c" stroke-width="1"/>
<text x="554" y="203.9" font-size="8.2">6 s</text>
<text x="399.5" y="130.7" font-size="8.1" text-anchor="middle" transform="rotate(-90 399.5 130.7)">ΔF/F (%)</text>
<text x="571.6" y="39.4" font-size="14">d</text>
<rect x="594" y="37" width="7" height="7" fill="#a0141a"/>
<text x="604.4" y="43.4" font-size="7.8">PnO-GCaMP6s</text>
<rect x="594" y="49.4" width="7" height="7" fill="#5a9e66"/>
<text x="604.4" y="55.8" font-size="7.8">MSDB-GCaMP6s</text>
<rect x="598.8" y="160.7" width="10.2" height="3.4" fill="#a0141a" stroke="#000" stroke-width="1"/>
<rect x="615.6" y="159.6" width="10.8" height="4.5" fill="#5a9e66" stroke="#000" stroke-width="1"/>
<rect x="643.2" y="142.9" width="10.8" height="21.2" fill="#a0141a" stroke="#000" stroke-width="1"/>
<rect x="659.6" y="96.1" width="11" height="68" fill="#5a9e66" stroke="#000" stroke-width="1"/>
<line x1="648.6" y1="141.7" x2="648.6" y2="144.1" stroke="#000" stroke-width="1"/>
<line x1="646.4" y1="141.7" x2="650.8" y2="141.7" stroke="#000" stroke-width="1"/>
<line x1="646.4" y1="144.1" x2="650.8" y2="144.1" stroke="#000" stroke-width="1"/>
<line x1="665.1" y1="94.3" x2="665.1" y2="97.9" stroke="#000" stroke-width="1"/>
<line x1="662.9" y1="94.3" x2="667.3" y2="94.3" stroke="#000" stroke-width="1"/>
<line x1="662.9" y1="97.9" x2="667.3" y2="97.9" stroke="#000" stroke-width="1"/>
<circle cx="600.7" cy="159.3" r="1.9" fill="#fff" stroke="#000" stroke-width="1.15"/>
<circle cx="603.2" cy="161.8" r="1.9" fill="#fff" stroke="#000" stroke-width="1.15"/>
<circle cx="605.9" cy="159.3" r="1.9" fill="#fff" stroke="#000" stroke-width="1.15"/>
<circle cx="607.4" cy="162.4" r="1.9" fill="#fff" stroke="#000" stroke-width="1.15"/>
<circle cx="601.7" cy="163.2" r="1.9" fill="#fff" stroke="#000" stroke-width="1.15"/>
<circle cx="604.9" cy="163.7" r="1.9" fill="#fff" stroke="#000" stroke-width="1.15"/>
<circle cx="617.5" cy="159.3" r="1.9" fill="#fff" stroke="#000" stroke-width="1.15"/>
<circle cx="621" cy="158" r="1.9" fill="#fff" stroke="#000" stroke-width="1.15"/>
<circle cx="623.8" cy="158" r="1.9" fill="#fff" stroke="#000" stroke-width="1.15"/>
<circle cx="618.6" cy="162.4" r="1.9" fill="#fff" stroke="#000" stroke-width="1.15"/>
<circle cx="621.9" cy="162.4" r="1.9" fill="#fff" stroke="#000" stroke-width="1.15"/>
<circle cx="624.8" cy="161.8" r="1.9" fill="#fff" stroke="#000" stroke-width="1.15"/>
<circle cx="647" cy="137.3" r="1.9" fill="#fff" stroke="#000" stroke-width="1.15"/>
<circle cx="644.5" cy="140.6" r="1.9" fill="#fff" stroke="#000" stroke-width="1.15"/>
<circle cx="649.3" cy="141.9" r="1.9" fill="#fff" stroke="#000" stroke-width="1.15"/>
<circle cx="652.8" cy="141.9" r="1.9" fill="#fff" stroke="#000" stroke-width="1.15"/>
<circle cx="651.2" cy="145.4" r="1.9" fill="#fff" stroke="#000" stroke-width="1.15"/>
<circle cx="648" cy="149.3" r="1.9" fill="#fff" stroke="#000" stroke-width="1.15"/>
<circle cx="664.7" cy="87.1" r="1.9" fill="#fff" stroke="#000" stroke-width="1.15"/>
<circle cx="661.5" cy="91.4" r="1.9" fill="#fff" stroke="#000" stroke-width="1.15"/>
<circle cx="668.8" cy="92.9" r="1.9" fill="#fff" stroke="#000" stroke-width="1.15"/>
<circle cx="663" cy="95.6" r="1.9" fill="#fff" stroke="#000" stroke-width="1.15"/>
<circle cx="669.2" cy="97.6" r="1.9" fill="#fff" stroke="#000" stroke-width="1.15"/>
<circle cx="664.7" cy="109.1" r="1.9" fill="#fff" stroke="#000" stroke-width="1.15"/>
<line x1="593" y1="72.7" x2="593" y2="164.1" stroke="#0c0c0c" stroke-width="1"/>
<line x1="592.5" y1="164.1" x2="677" y2="164.1" stroke="#0c0c0c" stroke-width="1"/>
<line x1="589" y1="73.5" x2="593" y2="73.5" stroke="#0c0c0c" stroke-width="1"/>
<text x="587" y="76.7" font-size="7.6" text-anchor="end">15</text>
<line x1="589" y1="102.8" x2="593" y2="102.8" stroke="#0c0c0c" stroke-width="1"/>
<text x="587" y="106" font-size="7.6" text-anchor="end">10</text>
<line x1="589" y1="132.1" x2="593" y2="132.1" stroke="#0c0c0c" stroke-width="1"/>
<text x="587" y="135.3" font-size="7.6" text-anchor="end">5</text>
<line x1="589" y1="161.4" x2="593" y2="161.4" stroke="#0c0c0c" stroke-width="1"/>
<text x="587" y="164.6" font-size="7.6" text-anchor="end">0</text>
<text x="612.4" y="144.1" font-size="7.6" text-anchor="middle">ns</text>
<line x1="604.7" y1="147.4" x2="619.3" y2="147.4" stroke="#000" stroke-width="1.1"/>
<text x="657.5" y="77.2" font-size="7.6" text-anchor="middle">****</text>
<line x1="650.5" y1="77.2" x2="665" y2="77.2" stroke="#000" stroke-width="1.1"/>
<text x="575" y="117.5" font-size="7.6" text-anchor="middle" transform="rotate(-90 575 117.5)">Z-Score</text>
<text x="613.6" y="181.4" font-size="7.8" text-anchor="middle">Before</text>
<text x="613.6" y="190.6" font-size="7.8" text-anchor="middle">stimulation</text>
<text x="657.3" y="181.4" font-size="7.8" text-anchor="middle">During</text>
<text x="657.3" y="190.6" font-size="7.8" text-anchor="middle">stimulation</text>
<text x="243.6" y="257.6" font-size="14">e</text>
<line x1="290.5" y1="252.4" x2="305.5" y2="252.4" stroke="#2f7d3f" stroke-width="1"/>
<text x="306" y="255.2" font-size="7.8">MSDB-GCaMP6s</text>
<line x1="290.5" y1="263" x2="305.5" y2="263" stroke="#b5282d" stroke-width="1"/>
<text x="306" y="265.8" font-size="7.8">PnO-GCaMP6s</text>
<text x="325.9" y="282.2" font-size="9" text-anchor="middle" fill="#8420c0">Caudal LHA DBS</text>
<line x1="303.8" y1="289.6" x2="348.4" y2="289.6" stroke="#8420c0" stroke-width="1.8"/>
<line x1="303.8" y1="290.6" x2="303.8" y2="403.9" stroke="#0c0c0c" stroke-width="0.9" stroke-dasharray="1.6 1.6"/>
<line x1="348.4" y1="290.6" x2="348.4" y2="403.9" stroke="#0c0c0c" stroke-width="0.9" stroke-dasharray="1.6 1.6"/>
<path d="M259.2 383.4 259.4 386 259.7 379.6 259.9 379.3 260.1 377.4 260.4 381 260.6 376.6 260.9 383.1 261.1 386.3 261.3 382.2 261.6 381.7 261.8 387.5 262.1 388.2 262.3 383 262.5 382 262.8 383.1 263 384.6 263.3 386.8 263.5 382.2 263.7 382.7 264 387.6 264.2 388.4 264.5 379.3 264.7 380.3 264.9 387.3 265.2 387.4 265.4 380.7 265.7 385 265.9 382.1 266.1 384.7 266.4 383.9 266.6 388.4 266.9 388.4 267.1 386.7 267.3 391.7 267.6 386.4 267.8 387.3 268 382.1 268.3 377.5 268.5 378.9 268.8 380.7 269 381.7 269.2 387.6 269.5 387.9 269.7 385.4 270 382.5 270.2 390.9 270.4 390.2 270.7 387.9 270.9 387.6 271.2 382.7 271.4 380.4 271.6 381.7 271.9 376.4 272.1 378.1 272.4 383.1 272.6 384.7 272.8 382.4 273.1 380.6 273.3 375.9 273.6 380.1 273.8 378.9 274 382.5 274.3 384.9 274.5 393.4 274.8 387.2 275 391 275.2 390.7 275.5 383.7 275.7 383.1 275.9 377.3 276.2 386.5 276.4 386.8 276.7 384.8 276.9 380.3 277.1 385.2 277.4 379.7 277.6 381.6 277.9 380.8 278.1 383.1 278.3 375.4 278.6 372.7 278.8 380.5 279.1 372.5 279.3 370.5 279.5 380 279.8 384.8 280 383.7 280.3 385 280.5 382.9 280.7 380.7 281 387 281.2 385.7 281.5 388.7 281.7 387.4 281.9 382 282.2 388.6 282.4 381.9 282.7 380.8 282.9 379 283.1 384.4 283.4 387.4 283.6 384.1 283.8 387.7 284.1 391.1 284.3 389.8 284.6 389 284.8 380.1 285 379.7 285.3 377.1 285.5 381.7 285.8 378.2 286 383.3 286.2 380.4 286.5 384.8 286.7 381.9 287 388.1 287.2 382.8 287.4 385.8 287.7 389.3 287.9 386.1 288.2 386.7 288.4 386.2 288.6 381.9 288.9 381.4 289.1 384.4 289.4 381.4 289.6 384.1 289.8 384.6 290.1 381.5 290.3 389.6 290.6 383.6 290.8 386.9 291 390.1 291.3 390.9 291.5 390 291.7 387.5 292 385.4 292.2 392.3 292.5 393.3 292.7 386 292.9 385.7 293.2 392.6 293.4 386.8 293.7 386.8 293.9 389.2 294.1 390.7 294.4 386.8 294.6 386.6 294.9 385.4 295.1 387.4 295.3 392.1 295.6 385.1 295.8 382.7 296.1 385.9 296.3 388.1 296.5 385.3 296.8 386 297 392.5 297.3 392 297.5 394.6 297.7 389.6 298 389 298.2 384.3 298.5 388.3 298.7 383.4 298.9 386.2 299.2 383.2 299.4 385.7 299.7 381.8 299.9 382.6 300.1 381.7 300.4 381.2 300.6 380.8 300.8 381.1 301.1 381.3 301.3 382.7 301.6 379 301.8 382.3 302 383.5 302.3 378.8 302.5 380.5 302.8 381.6 303 388.5 303.2 384.5 303.5 375.9 303.7 379.4 304 375.9 304.2 379.8 304.4 380.5 304.7 378.1 304.9 382.6 305.2 383.6 305.4 388.3 305.6 385.4 305.9 386.3 306.1 380.5 306.4 380.1 306.6 377.3 306.8 377.5 307.1 377.2 307.3 376 307.6 380.7 307.8 379.1 308 377.5 308.3 376.6 308.5 371.2 308.7 374 309 371.7 309.2 372.7 309.5 377.2 309.7 377.1 309.9 378.4 310.2 368.4 310.4 373.2 310.7 373 310.9 363.8 311.1 370.7 311.4 371.2 311.6 370.4 311.9 372 312.1 373.6 312.3 369.2 312.6 367.3 312.8 365.6 313.1 365.9 313.3 367.1 313.5 366.6 313.8 363.1 314 365.2 314.3 369.7 314.5 369.5 314.7 373.1 315 368.4 315.2 372.9 315.5 369.3 315.7 368.8 315.9 374.2 316.2 362.5 316.4 361.1 316.6 363.2 316.9 360.6 317.1 358.7 317.4 357.5 317.6 355.6 317.8 354.8 318.1 354.6 318.3 355.8 318.6 362 318.8 363.6 319 359.9 319.3 358.8 319.5 360.7 319.8 366.7 320 365.9 320.2 366.9 320.5 363.6 320.7 366.8 321 365.9 321.2 365.2 321.4 359 321.7 354.8 321.9 360 322.2 354.9 322.4 355 322.6 355.4 322.9 356.8 323.1 350.5 323.4 353 323.6 351.7 323.8 357.7 324.1 352.3 324.3 355.6 324.5 355.1 324.8 356.6 325 346.4 325.3 346.9 325.5 348.5 325.7 350.9 326 352.9 326.2 354.4 326.5 351.5 326.7 353.4 326.9 352.2 327.2 346.5 327.4 352 327.7 353.9 327.9 352.9 328.1 355.8 328.4 346.6 328.6 350.5 328.9 353.8 329.1 348.6 329.3 351.4 329.6 350.2 329.8 355.4 330.1 350.4 330.3 356.7 330.5 352.6 330.8 348.8 331 347.7 331.3 350.3 331.5 349.8 331.7 349.3 332 352.5 332.2 353.4 332.4 354.2 332.7 360.8 332.9 369.3 333.2 367.9 333.4 365.2 333.6 361 333.9 361.1 334.1 360.4 334.4 358.4 334.6 359.9 334.8 365.1 335.1 360.4 335.3 365.4 335.6 365.8 335.8 363.8 336 368.3 336.3 356.5 336.5 355.6 336.8 360.2 337 362 337.2 367.6 337.5 360 337.7 363.9 338 369.4 338.2 369.3 338.4 368.2 338.7 370.3 338.9 370.3 339.2 370.8 339.4 375.6 339.6 363.5 339.9 365.7 340.1 369.9 340.3 372.2 340.6 371.6 340.8 369.1 341.1 371.9 341.3 374.1 341.5 372 341.8 375.7 342 369.7 342.3 372.2 342.5 373.7 342.7 371.7 343 372.2 343.2 375.1 343.5 366.6 343.7 375.2 343.9 370.4 344.2 370.3 344.4 375.5 344.7 377 344.9 374.3 345.1 380 345.4 379.5 345.6 375.5 345.9 372.7 346.1 372.5 346.3 374.2 346.6 379.7 346.8 374.4 347.1 375.7 347.3 374.3 347.5 380.9 347.8 379.1 348 378.5 348.3 374.8 348.5 373.9 348.7 379.3 349 380.1 349.2 376.1 349.4 386.2 349.7 382.8 349.9 376.9 350.2 376.6 350.4 377.7 350.6 374.7 350.9 379 351.1 382 351.4 383.7 351.6 383.9 351.8 385.3 352.1 381.4 352.3 378.3 352.6 379.9 352.8 376.7 353 382.8 353.3 386.2 353.5 381.3 353.8 384 354 379.5 354.2 385.9 354.5 384.7 354.7 384.1 355 382.7 355.2 383.5 355.4 381.9 355.7 387.1 355.9 386.5 356.2 384.7 356.4 387.7 356.6 384 356.9 381.2 357.1 383.1 357.3 382.1 357.6 381 357.8 379 358.1 379.8 358.3 379.2 358.5 379 358.8 380.4 359 385.8 359.3 383.7 359.5 385.3 359.7 381.2 360 382.3 360.2 383.1 360.5 385.3 360.7 382.6 360.9 379.7 361.2 391 361.4 385.6 361.7 386.3 361.9 383.4 362.1 382.1 362.4 380.6 362.6 379.4 362.9 377.7 363.1 377.5 363.3 381.1 363.6 383.9 363.8 387.7 364.1 387.4 364.3 388.7 364.5 390.6 364.8 384.4 365 380.4 365.2 387.4 365.5 385.7 365.7 385.3 366 389.5 366.2 380.3 366.4 381.2 366.7 381.7 366.9 383.9 367.2 390.3 367.4 395.2 367.6 388.4 367.9 389.6 368.1 391.7 368.4 390.7 368.6 383.8 368.8 383 369.1 383.6 369.3 384.4 369.6 377.7 369.8 381.8 370 385.6 370.3 390.1 370.5 392 370.8 397.9 371 390.9 371.2 391.2 371.5 392.7 371.7 390.6 372 387.6 372.2 389.4 372.4 393.9 372.7 391 372.9 384.9 373.1 387.4 373.4 385.6 373.6 392.4 373.9 385.6 374.1 389.9 374.3 391.5 374.6 392.8 374.8 387.1 375.1 387.4 375.3 386.7 375.5 379.1 375.8 380.7 376 384.1 376.3 385.6 376.5 387.4 376.7 385.3 377 393.2 377.2 384.9 377.5 386.1 377.7 379 377.9 383.6 378.2 383.6 378.4 383 378.7 388.3 378.9 385.9 379.1 385.2 379.4 392 379.6 387.4 379.9 389.7 380.1 389 380.3 388 380.6 384.6 380.8 381.3 381 381 381.3 385.8 381.5 386.1 381.8 383.7 382 382.4 382.2 379.1 382.5 378.9 382.7 378.5 383 375.2 383.2 378.1 383.4 375.9 383.7 382 383.9 380.8 384.2 380 384.4 381.9 384.6 383.3 384.9 378.3 385.1 383.4 385.4 374.9 385.6 371.7 385.8 376.4 386.1 380 386.3 383.2 386.6 383.1 386.8 387.4 387 386.7 387.3 386.7 387.5 381.8 387.8 389 388 384.2 388.2 381.6 388.5 382.3 388.7 382.5 389 377 389.2 379.6 389.4 376.8 389.7 374.1 389.9 375.3 390.1 383.6 390.4 379.2 390.6 379.1 390.9 376.3 391.1 378.3 391.3 380.8 391.6 383.1 391.8 384.1 392.1 385.5 392.3 386.1 392.5 387.9 392.8 393.4 393 387.4" fill="none" stroke="#2f7d3f" stroke-width="0.9" stroke-linejoin="round"/>
<path d="M259.2 375 259.4 368.1 259.7 375.6 259.9 369.2 260.1 393.5 260.4 373.2 260.6 382.9 260.9 381.6 261.1 391.3 261.3 391.3 261.6 386.7 261.8 386.5 262.1 399.4 262.3 389.4 262.5 385.9 262.8 385.5 263 379 263.3 378.5 263.5 380.6 263.7 385.1 264 384.4 264.2 374.8 264.5 364.1 264.7 372 264.9 366.7 265.2 381.4 265.4 370.8 265.7 381.3 265.9 382 266.1 380.9 266.4 378.6 266.6 381.3 266.9 374.3 267.1 370.7 267.3 369.3 267.6 365.1 267.8 362.7 268 361.2 268.3 378 268.5 379.2 268.8 373.4 269 375.4 269.2 381 269.5 386.8 269.7 380.7 270 378.6 270.2 379.4 270.4 383.2 270.7 381.4 270.9 386.8 271.2 391.6 271.4 377.3 271.6 377.9 271.9 378.4 272.1 378 272.4 364.3 272.6 374 272.8 367.9 273.1 363 273.3 354.7 273.6 369.1 273.8 366.4 274 362 274.3 378.8 274.5 380.2 274.8 359.4 275 365 275.2 370.4 275.5 360 275.7 359.2 275.9 362.4 276.2 346.5 276.4 368 276.7 353.9 276.9 360.2 277.1 361.8 277.4 362 277.6 365.5 277.9 361 278.1 361.9 278.3 364.5 278.6 353.4 278.8 367.1 279.1 368.2 279.3 353.1 279.5 369.6 279.8 357.9 280 356.7 280.3 359.5 280.5 349.2 280.7 361.1 281 361.7 281.2 359.8 281.5 359.8 281.7 354 281.9 345.1 282.2 360 282.4 354 282.7 353.4 282.9 356.3 283.1 359.6 283.4 353.6 283.6 364.3 283.8 367.9 284.1 351 284.3 349.3 284.6 354.4 284.8 361.2 285 359.6 285.3 358.4 285.5 358.8 285.8 360.5 286 374.2 286.2 367.9 286.5 366.4 286.7 364.6 287 370.2 287.2 367.3 287.4 367.9 287.7 367 287.9 377.2 288.2 368 288.4 364.5 288.6 365.5 288.9 370.3 289.1 371.9 289.4 370.2 289.6 364.9 289.8 370.5 290.1 373.3 290.3 360 290.6 367 290.8 377.2 291 361.8 291.3 363.6 291.5 372.3 291.7 360.2 292 363.3 292.2 359.2 292.5 362.4 292.7 353.4 292.9 369.9 293.2 370.8 293.4 369.2 293.7 366.4 293.9 363.4 294.1 351.1 294.4 365 294.6 349 294.9 371.3 295.1 361.5 295.3 352 295.6 348.7 295.8 361.5 296.1 368.7 296.3 366.7 296.5 369.4 296.8 364.8 297 372.8 297.3 364.4 297.5 375.3 297.7 365.9 298 354.5 298.2 366.8 298.5 364.5 298.7 370.8 298.9 376.3 299.2 374 299.4 375.1 299.7 388.3 299.9 381.2 300.1 366 300.4 371.6 300.6 373.1 300.8 384 301.1 378.9 301.3 371.7 301.6 391.3 301.8 362.2 302 369.8 302.3 378.9 302.5 371.1 302.8 379.1 303 373.8 303.2 383.7 303.5 375.8 303.7 391.5 304 378.8 304.2 391.6 304.4 381 304.7 380 304.9 388.4 305.2 373.9 305.4 375.3 305.6 373.5 305.9 367.4 306.1 374.3 306.4 372.5 306.6 383.5 306.8 383.1 307.1 368.9 307.3 378.1 307.6 366 307.8 369.9 308 363 308.3 356.1 308.5 360.3 308.7 361.9 309 367.3 309.2 354.6 309.5 368.6 309.7 369.2 309.9 361.8 310.2 361.6 310.4 365.3 310.7 360.5 310.9 363.5 311.1 372.2 311.4 378.3 311.6 369.9 311.9 375.2 312.1 378.6 312.3 369.8 312.6 362.5 312.8 354.5 313.1 365.8 313.3 357.5 313.5 362.7 313.8 354.8 314 360.9 314.3 362.5 314.5 359 314.7 357.1 315 350.8 315.2 334.7 315.5 349.2 315.7 341.5 315.9 337.8 316.2 325.5 316.4 322.4 316.6 321.2 316.9 332.5 317.1 332.6 317.4 337.1 317.6 329.9 317.8 329.8 318.1 323.1 318.3 321.7 318.6 322.7 318.8 312.6 319 312.2 319.3 309.8 319.5 317.9 319.8 316.7 320 308.2 320.2 315.7 320.5 325.1 320.7 325.6 321 330.2 321.2 324.1 321.4 334 321.7 318.9 321.9 319.7 322.2 324.3 322.4 327.9 322.6 329.8 322.9 333.6 323.1 320.9 323.4 331.6 323.6 311.9 323.8 326.1 324.1 317.2 324.3 330.3 324.5 329.7 324.8 330.3 325 344.2 325.3 337.4 325.5 337.8 325.7 334.7 326 330.7 326.2 337 326.5 332.6 326.7 327.5 326.9 320.8 327.2 325.2 327.4 328 327.7 319.1 327.9 326.7 328.1 320.5 328.4 317.2 328.6 320.2 328.9 335.5 329.1 329 329.3 339.8 329.6 338.7 329.8 333.4 330.1 331.9 330.3 320 330.5 325.6 330.8 332.7 331 324.9 331.3 332.7 331.5 329.3 331.7 346.1 332 330 332.2 333.5 332.4 330.7 332.7 329.5 332.9 322.4 333.2 332 333.4 339.9 333.6 335.2 333.9 355.5 334.1 332.4 334.4 353.4 334.6 343.2 334.8 335.4 335.1 356.5 335.3 354 335.6 359.6 335.8 358.5 336 349.2 336.3 349.1 336.5 353.6 336.8 352 337 358.1 337.2 358.7 337.5 358.4 337.7 365.6 338 373.9 338.2 362.3 338.4 359 338.7 355.3 338.9 355.8 339.2 361.6 339.4 366.9 339.6 362.7 339.9 358.6 340.1 363.9 340.3 367.4 340.6 360.3 340.8 376 341.1 362.2 341.3 355.8 341.5 374 341.8 363.8 342 373.3 342.3 374.7 342.5 367.4 342.7 367.7 343 372.4 343.2 363.1 343.5 370.6 343.7 384.9 343.9 363.7 344.2 372 344.4 358 344.7 368.3 344.9 366.9 345.1 363.6 345.4 355.6 345.6 353.3 345.9 362.7 346.1 339.7 346.3 364.7 346.6 366.5 346.8 352.8 347.1 354.6 347.3 355.2 347.5 365.5 347.8 362.9 348 349.7 348.3 367.3 348.5 363.3 348.7 353.6 349 354.5 349.2 353.6 349.4 361.4 349.7 362.4 349.9 360.6 350.2 369.4 350.4 364.6 350.6 373.8 350.9 372 351.1 368.7 351.4 366.1 351.6 359 351.8 360.8 352.1 358.6 352.3 355.9 352.6 368.4 352.8 368.2 353 364.1 353.3 353.1 353.5 366.6 353.8 358.9 354 362.7 354.2 366.3 354.5 361 354.7 358.4 355 362.9 355.2 349.1 355.4 358.9 355.7 363.2 355.9 369.7 356.2 362.4 356.4 367.6 356.6 365.8 356.9 359.8 357.1 363.4 357.3 369.5 357.6 365.6 357.8 366.7 358.1 364 358.3 370.5 358.5 359.7 358.8 379.4 359 356.7 359.3 367.3 359.5 371 359.7 367 360 363.4 360.2 363.2 360.5 366.1 360.7 355.3 360.9 366.3 361.2 361.2 361.4 350 361.7 362.6 361.9 358.4 362.1 352.4 362.4 350.8 362.6 353.7 362.9 353.7 363.1 357.8 363.3 355.3 363.6 357.6 363.8 357.2 364.1 345.8 364.3 350.4 364.5 343.6 364.8 344.5 365 338.2 365.2 359.2 365.5 335.1 365.7 355.1 366 358.7 366.2 365.3 366.4 352 366.7 370 366.9 363.9 367.2 361.3 367.4 348.5 367.6 354.5 367.9 370.1 368.1 369.9 368.4 367 368.6 367 368.8 354.7 369.1 361.2 369.3 368.6 369.6 361.7 369.8 361.1 370 365.9 370.3 359.4 370.5 356.4 370.8 360.6 371 362.8 371.2 357.9 371.5 371 371.7 356.5 372 369 372.2 362.7 372.4 361.7 372.7 359 372.9 366.1 373.1 360.6 373.4 373.2 373.6 359.4 373.9 362.6 374.1 362.6 374.3 370.4 374.6 365.9 374.8 367.4 375.1 364.8 375.3 366.9 375.5 361 375.8 371.7 376 352.1 376.3 368.1 376.5 357.1 376.7 352.8 377 355.5 377.2 360.7 377.5 349.4 377.7 344.4 377.9 342.2 378.2 348.3 378.4 351.2 378.7 353.2 378.9 355.3 379.1 354.8 379.4 354.1 379.6 362 379.9 363 380.1 360.2 380.3 366.1 380.6 358.7 380.8 360.6 381 356.2 381.3 367.4 381.5 370.9 381.8 368.6 382 364.6 382.2 362 382.5 355.4 382.7 369.6 383 358.6 383.2 373.4 383.4 373.4 383.7 371.8 383.9 368.1 384.2 360.1 384.4 363 384.6 350.4 384.9 354.3 385.1 361.7 385.4 357.6 385.6 370.4 385.8 365.9 386.1 355.4 386.3 362.6 386.6 362.9 386.8 362 387 361.4 387.3 364 387.5 350.7 387.8 357.9 388 362.4 388.2 363.2 388.5 352.7 388.7 366.3 389 366.7 389.2 358.2 389.4 357.8 389.7 372 389.9 360.8 390.1 358.9 390.4 356.3 390.6 357.4 390.9 358 391.1 353.3 391.3 358.9 391.6 373.8 391.8 367.4 392.1 375.9 392.3 370.7 392.5 359.7 392.8 362.4 393 367.1" fill="none" stroke="#b5282d" stroke-width="0.9" stroke-linejoin="round"/>
<line x1="257.8" y1="292.4" x2="257.8" y2="404.4" stroke="#0c0c0c" stroke-width="1"/>
<line x1="257.8" y1="403.9" x2="393.5" y2="403.9" stroke="#0c0c0c" stroke-width="1"/>
<line x1="257.8" y1="292.8" x2="261.8" y2="292.8" stroke="#0c0c0c" stroke-width="1"/>
<text x="253" y="295.7" font-size="8" text-anchor="end">8</text>
<line x1="257.8" y1="315.1" x2="261.8" y2="315.1" stroke="#0c0c0c" stroke-width="1"/>
<text x="253" y="318" font-size="8" text-anchor="end">6</text>
<line x1="257.8" y1="337.4" x2="261.8" y2="337.4" stroke="#0c0c0c" stroke-width="1"/>
<text x="253" y="340.3" font-size="8" text-anchor="end">4</text>
<line x1="257.8" y1="359.7" x2="261.8" y2="359.7" stroke="#0c0c0c" stroke-width="1"/>
<text x="253" y="362.6" font-size="8" text-anchor="end">2</text>
<line x1="257.8" y1="382" x2="261.8" y2="382" stroke="#0c0c0c" stroke-width="1"/>
<text x="253" y="384.9" font-size="8" text-anchor="end">0</text>
<line x1="257.8" y1="404.3" x2="261.8" y2="404.3" stroke="#0c0c0c" stroke-width="1"/>
<text x="253" y="405.5" font-size="8" text-anchor="end">-2</text>
<text x="258.1" y="413.1" font-size="8" text-anchor="middle">-3</text>
<line x1="303.8" y1="403.9" x2="303.8" y2="399.4" stroke="#0c0c0c" stroke-width="1"/>
<text x="303.8" y="413.1" font-size="8" text-anchor="middle">0</text>
<line x1="348.4" y1="403.9" x2="348.4" y2="399.4" stroke="#0c0c0c" stroke-width="1"/>
<text x="348.4" y="413.1" font-size="8" text-anchor="middle">3</text>
<line x1="393" y1="403.9" x2="393" y2="399.4" stroke="#0c0c0c" stroke-width="1"/>
<text x="390.7" y="413.1" font-size="8">6 s</text>
<text x="243.4" y="335.6" font-size="8" text-anchor="middle" transform="rotate(-90 243.4 335.6)">ΔF/F (%)</text>
<g shape-rendering="crispEdges">
<path fill="#2bacd4" d="M411.6 246.7h2.2v5.6h-2.2zM430.6 246.7h2.2v5.6h-2.2zM443.6 246.7h1.2v5.6h-1.2zM451.6 246.7h1.2v5.6h-1.2zM456.6 246.7h1.2v5.6h-1.2zM474.6 246.7h1.2v5.6h-1.2zM481.6 246.7h1.2v5.6h-1.2zM499.6 246.7h1.2v5.6h-1.2zM509.6 246.7h1.2v5.6h-1.2zM511.6 246.7h1.2v5.6h-1.2zM526.6 246.7h1.2v5.6h-1.2zM528.6 246.7h1.2v5.6h-1.2zM538.6 246.7h1.2v5.6h-1.2zM544.6 246.7h2.2v5.6h-2.2zM431.6 252h1.2v5.6h-1.2zM447.6 252h1.2v5.6h-1.2zM450.6 252h1.2v5.6h-1.2zM452.6 252h1.2v5.6h-1.2zM456.6 252h1.2v5.6h-1.2zM458.6 252h1.2v5.6h-1.2zM526.6 252h1.2v5.6h-1.2zM528.6 252h1.2v5.6h-1.2zM531.6 252h1.2v5.6h-1.2zM537.6 252h1.2v5.6h-1.2zM540.6 252h1.2v5.6h-1.2zM550.6 252h1.2v5.6h-1.2zM424.6 257.3h2.2v5.6h-2.2zM428.6 257.3h1.2v5.6h-1.2zM441.6 257.3h1.2v5.6h-1.2zM444.6 257.3h1.2v5.6h-1.2zM448.6 257.3h1.2v5.6h-1.2zM454.6 257.3h1.2v5.6h-1.2zM507.6 257.3h2.2v5.6h-2.2zM516.6 257.3h1.2v5.6h-1.2zM520.6 257.3h1.2v5.6h-1.2zM522.6 257.3h1.2v5.6h-1.2zM535.6 257.3h1.2v5.6h-1.2zM538.6 257.3h1.2v5.6h-1.2zM545.6 257.3h1.2v5.6h-1.2zM550.6 257.3h1.2v5.6h-1.2zM424.6 262.6h1.2v5.6h-1.2zM427.6 262.6h3.2v5.6h-3.2zM444.6 262.6h1.2v5.6h-1.2zM446.6 262.6h1.2v5.6h-1.2zM449.6 262.6h1.2v5.6h-1.2zM454.6 262.6h1.2v5.6h-1.2zM470.6 262.6h1.2v5.6h-1.2zM518.6 262.6h1.2v5.6h-1.2zM544.6 262.6h1.2v5.6h-1.2zM548.6 262.6h1.2v5.6h-1.2zM412.6 268h2.2v5.6h-2.2zM416.6 268h1.2v5.6h-1.2zM431.6 268h1.2v5.6h-1.2zM434.6 268h1.2v5.6h-1.2zM437.6 268h2.2v5.6h-2.2zM442.6 268h1.2v5.6h-1.2zM530.6 268h1.2v5.6h-1.2zM411.6 273.3h1.2v5.6h-1.2zM428.6 273.3h1.2v5.6h-1.2zM433.6 273.3h1.2v5.6h-1.2zM440.6 273.3h1.2v5.6h-1.2zM447.6 273.3h2.2v5.6h-2.2zM510.6 273.3h1.2v5.6h-1.2zM520.6 273.3h1.2v5.6h-1.2zM522.6 273.3h2.2v5.6h-2.2zM525.6 273.3h1.2v5.6h-1.2zM528.6 273.3h1.2v5.6h-1.2zM491.6 278.6h1.2v5.5h-1.2zM503.6 278.6h1.2v5.5h-1.2zM515.6 278.6h2.2v5.5h-2.2zM520.6 278.6h1.2v5.5h-1.2zM527.6 278.6h1.2v5.5h-1.2zM537.6 278.6h1.2v5.5h-1.2zM544.6 278.6h1.2v5.5h-1.2zM551.6 278.6h1.2v5.5h-1.2zM420.6 283.9h2.2v5.5h-2.2zM425.6 283.9h1.2v5.5h-1.2zM447.6 283.9h1.2v5.5h-1.2zM506.6 283.9h1.2v5.5h-1.2zM517.6 283.9h1.2v5.5h-1.2zM526.6 283.9h1.2v5.5h-1.2zM537.6 283.9h1.2v5.5h-1.2zM543.6 283.9h1.2v5.5h-1.2zM546.6 283.9h1.2v5.5h-1.2zM548.6 283.9h2.2v5.5h-2.2zM554.6 283.9h2.2v5.5h-2.2zM429.6 289.1h1.2v5.5h-1.2zM431.6 289.1h1.2v5.5h-1.2zM433.6 289.1h1.2v5.5h-1.2zM449.6 289.1h1.2v5.5h-1.2zM513.6 289.1h1.2v5.5h-1.2zM516.6 289.1h1.2v5.5h-1.2zM526.6 289.1h1.2v5.5h-1.2zM529.6 289.1h1.2v5.5h-1.2zM531.6 289.1h1.2v5.5h-1.2zM534.6 289.1h2.2v5.5h-2.2zM541.6 289.1h1.2v5.5h-1.2zM544.6 289.1h1.2v5.5h-1.2zM552.6 289.1h1.2v5.5h-1.2zM436.6 294.4h1.2v5.5h-1.2zM439.6 294.4h1.2v5.5h-1.2zM467.6 294.4h1.2v5.5h-1.2zM502.6 294.4h1.2v5.5h-1.2zM510.6 294.4h1.2v5.5h-1.2zM533.6 294.4h1.2v5.5h-1.2zM535.6 294.4h1.2v5.5h-1.2zM539.6 294.4h2.2v5.5h-2.2zM542.6 294.4h1.2v5.5h-1.2zM545.6 294.4h2.2v5.5h-2.2zM466.6 299.7h1.2v5.5h-1.2zM468.6 299.7h1.2v5.5h-1.2zM499.6 299.7h1.2v5.5h-1.2zM504.6 299.7h1.2v5.5h-1.2zM510.6 299.7h1.2v5.5h-1.2zM513.6 299.7h1.2v5.5h-1.2zM529.6 299.7h1.2v5.5h-1.2zM533.6 299.7h1.2v5.5h-1.2zM537.6 299.7h1.2v5.5h-1.2zM551.6 299.7h2.2v5.5h-2.2zM415.6 304.9h3.2v5.5h-3.2zM423.6 304.9h1.2v5.5h-1.2zM432.6 304.9h1.2v5.5h-1.2zM435.6 304.9h1.2v5.5h-1.2zM440.6 304.9h1.2v5.5h-1.2zM448.6 304.9h1.2v5.5h-1.2zM450.6 304.9h1.2v5.5h-1.2zM457.6 304.9h1.2v5.5h-1.2zM460.6 304.9h1.2v5.5h-1.2zM505.6 304.9h1.2v5.5h-1.2zM508.6 304.9h2.2v5.5h-2.2zM537.6 304.9h1.2v5.5h-1.2zM547.6 304.9h1.2v5.5h-1.2zM549.6 304.9h1.2v5.5h-1.2zM553.6 304.9h1.2v5.5h-1.2z"/>
<path fill="#3cb9bc" d="M413.6 246.7h2.2v5.6h-2.2zM422.6 246.7h1.2v5.6h-1.2zM434.6 246.7h1.2v5.6h-1.2zM441.6 246.7h1.2v5.6h-1.2zM445.6 246.7h1.2v5.6h-1.2zM448.6 246.7h1.2v5.6h-1.2zM450.6 246.7h1.2v5.6h-1.2zM455.6 246.7h1.2v5.6h-1.2zM461.6 246.7h2.2v5.6h-2.2zM470.6 246.7h1.2v5.6h-1.2zM473.6 246.7h1.2v5.6h-1.2zM476.6 246.7h1.2v5.6h-1.2zM478.6 246.7h1.2v5.6h-1.2zM484.6 246.7h1.2v5.6h-1.2zM486.6 246.7h2.2v5.6h-2.2zM492.6 246.7h4.2v5.6h-4.2zM521.6 246.7h1.2v5.6h-1.2zM530.6 246.7h1.2v5.6h-1.2zM537.6 246.7h1.2v5.6h-1.2zM546.6 246.7h1.2v5.6h-1.2zM414.6 252h1.2v5.6h-1.2zM425.6 252h1.2v5.6h-1.2zM428.6 252h1.2v5.6h-1.2zM434.6 252h1.2v5.6h-1.2zM446.6 252h1.2v5.6h-1.2zM449.6 252h1.2v5.6h-1.2zM454.6 252h1.2v5.6h-1.2zM463.6 252h1.2v5.6h-1.2zM480.6 252h1.2v5.6h-1.2zM485.6 252h1.2v5.6h-1.2zM489.6 252h1.2v5.6h-1.2zM514.6 252h2.2v5.6h-2.2zM518.6 252h1.2v5.6h-1.2zM520.6 252h2.2v5.6h-2.2zM530.6 252h1.2v5.6h-1.2zM533.6 252h1.2v5.6h-1.2zM535.6 252h1.2v5.6h-1.2zM541.6 252h1.2v5.6h-1.2zM554.6 252h1.2v5.6h-1.2zM423.6 257.3h1.2v5.6h-1.2zM450.6 257.3h1.2v5.6h-1.2zM455.6 257.3h1.2v5.6h-1.2zM471.6 257.3h1.2v5.6h-1.2zM475.6 257.3h2.2v5.6h-2.2zM519.6 257.3h1.2v5.6h-1.2zM521.6 257.3h1.2v5.6h-1.2zM528.6 257.3h1.2v5.6h-1.2zM554.6 257.3h2.2v5.6h-2.2zM413.6 262.6h1.2v5.6h-1.2zM415.6 262.6h1.2v5.6h-1.2zM420.6 262.6h2.2v5.6h-2.2zM431.6 262.6h1.2v5.6h-1.2zM438.6 262.6h1.2v5.6h-1.2zM447.6 262.6h1.2v5.6h-1.2zM457.6 262.6h2.2v5.6h-2.2zM461.6 262.6h2.2v5.6h-2.2zM517.6 262.6h1.2v5.6h-1.2zM520.6 262.6h2.2v5.6h-2.2zM526.6 262.6h2.2v5.6h-2.2zM531.6 262.6h1.2v5.6h-1.2zM534.6 262.6h1.2v5.6h-1.2zM415.6 268h1.2v5.6h-1.2zM418.6 268h2.2v5.6h-2.2zM422.6 268h1.2v5.6h-1.2zM424.6 268h1.2v5.6h-1.2zM427.6 268h2.2v5.6h-2.2zM436.6 268h1.2v5.6h-1.2zM452.6 268h1.2v5.6h-1.2zM454.6 268h2.2v5.6h-2.2zM458.6 268h1.2v5.6h-1.2zM464.6 268h1.2v5.6h-1.2zM466.6 268h1.2v5.6h-1.2zM495.6 268h1.2v5.6h-1.2zM518.6 268h1.2v5.6h-1.2zM520.6 268h2.2v5.6h-2.2zM528.6 268h1.2v5.6h-1.2zM536.6 268h1.2v5.6h-1.2zM540.6 268h1.2v5.6h-1.2zM546.6 268h1.2v5.6h-1.2zM550.6 268h1.2v5.6h-1.2zM553.6 268h1.2v5.6h-1.2zM414.6 273.3h1.2v5.6h-1.2zM418.6 273.3h1.2v5.6h-1.2zM420.6 273.3h1.2v5.6h-1.2zM429.6 273.3h1.2v5.6h-1.2zM431.6 273.3h1.2v5.6h-1.2zM436.6 273.3h1.2v5.6h-1.2zM449.6 273.3h1.2v5.6h-1.2zM458.6 273.3h1.2v5.6h-1.2zM475.6 273.3h1.2v5.6h-1.2zM479.6 273.3h1.2v5.6h-1.2zM495.6 273.3h1.2v5.6h-1.2zM511.6 273.3h1.2v5.6h-1.2zM517.6 273.3h1.2v5.6h-1.2zM521.6 273.3h1.2v5.6h-1.2zM529.6 273.3h2.2v5.6h-2.2zM540.6 273.3h1.2v5.6h-1.2zM543.6 273.3h3.2v5.6h-3.2zM550.6 273.3h1.2v5.6h-1.2zM554.6 273.3h1.2v5.6h-1.2zM472.6 278.6h1.2v5.5h-1.2zM475.6 278.6h2.2v5.5h-2.2zM480.6 278.6h1.2v5.5h-1.2zM483.6 278.6h1.2v5.5h-1.2zM492.6 278.6h2.2v5.5h-2.2zM495.6 278.6h1.2v5.5h-1.2zM499.6 278.6h1.2v5.5h-1.2zM522.6 278.6h1.2v5.5h-1.2zM524.6 278.6h1.2v5.5h-1.2zM533.6 278.6h2.2v5.5h-2.2zM541.6 278.6h1.2v5.5h-1.2zM546.6 278.6h1.2v5.5h-1.2zM554.6 278.6h1.2v5.5h-1.2zM469.6 283.9h1.2v5.5h-1.2zM498.6 283.9h1.2v5.5h-1.2zM505.6 283.9h1.2v5.5h-1.2zM521.6 283.9h1.2v5.5h-1.2zM525.6 283.9h1.2v5.5h-1.2zM544.6 283.9h1.2v5.5h-1.2zM550.6 283.9h1.2v5.5h-1.2zM467.6 289.1h1.2v5.5h-1.2zM470.6 289.1h1.2v5.5h-1.2zM473.6 289.1h1.2v5.5h-1.2zM494.6 289.1h1.2v5.5h-1.2zM508.6 289.1h1.2v5.5h-1.2zM512.6 289.1h1.2v5.5h-1.2zM514.6 289.1h1.2v5.5h-1.2zM519.6 289.1h1.2v5.5h-1.2zM540.6 289.1h1.2v5.5h-1.2zM547.6 289.1h1.2v5.5h-1.2zM504.6 294.4h1.2v5.5h-1.2zM519.6 294.4h2.2v5.5h-2.2zM523.6 294.4h2.2v5.5h-2.2zM526.6 294.4h2.2v5.5h-2.2zM529.6 294.4h1.2v5.5h-1.2zM531.6 294.4h1.2v5.5h-1.2zM547.6 294.4h1.2v5.5h-1.2zM553.6 294.4h1.2v5.5h-1.2zM429.6 299.7h1.2v5.5h-1.2zM470.6 299.7h1.2v5.5h-1.2zM490.6 299.7h1.2v5.5h-1.2zM514.6 299.7h1.2v5.5h-1.2zM518.6 299.7h1.2v5.5h-1.2zM520.6 299.7h1.2v5.5h-1.2zM535.6 299.7h1.2v5.5h-1.2zM412.6 304.9h1.2v5.5h-1.2zM464.6 304.9h1.2v5.5h-1.2zM506.6 304.9h1.2v5.5h-1.2zM511.6 304.9h1.2v5.5h-1.2zM514.6 304.9h1.2v5.5h-1.2zM518.6 304.9h1.2v5.5h-1.2zM525.6 304.9h3.2v5.5h-3.2zM529.6 304.9h1.2v5.5h-1.2zM531.6 304.9h2.2v5.5h-2.2zM538.6 304.9h1.2v5.5h-1.2zM543.6 304.9h1.2v5.5h-1.2zM545.6 304.9h2.2v5.5h-2.2zM550.6 304.9h1.2v5.5h-1.2zM552.6 304.9h1.2v5.5h-1.2zM555.6 304.9h1.2v5.5h-1.2z"/>
<path fill="#2096dd" d="M415.6 246.7h1.2v5.6h-1.2zM512.6 246.7h1.2v5.6h-1.2zM531.6 246.7h1.2v5.6h-1.2zM543.6 252h1.2v5.6h-1.2zM436.6 257.3h2.2v5.6h-2.2zM447.6 257.3h1.2v5.6h-1.2zM549.6 257.3h1.2v5.6h-1.2zM442.6 262.6h1.2v5.6h-1.2zM445.6 262.6h1.2v5.6h-1.2zM537.6 268h1.2v5.6h-1.2zM427.6 273.3h1.2v5.6h-1.2zM414.6 278.6h2.2v5.5h-2.2zM420.6 278.6h1.2v5.5h-1.2zM446.6 278.6h2.2v5.5h-2.2zM461.6 278.6h1.2v5.5h-1.2zM464.6 278.6h2.2v5.5h-2.2zM502.6 278.6h1.2v5.5h-1.2zM518.6 278.6h1.2v5.5h-1.2zM523.6 278.6h1.2v5.5h-1.2zM412.6 283.9h3.2v5.5h-3.2zM422.6 283.9h1.2v5.5h-1.2zM427.6 283.9h1.2v5.5h-1.2zM429.6 283.9h1.2v5.5h-1.2zM446.6 283.9h1.2v5.5h-1.2zM460.6 283.9h1.2v5.5h-1.2zM462.6 283.9h1.2v5.5h-1.2zM532.6 283.9h1.2v5.5h-1.2zM542.6 283.9h1.2v5.5h-1.2zM552.6 283.9h1.2v5.5h-1.2zM421.6 289.1h1.2v5.5h-1.2zM432.6 289.1h1.2v5.5h-1.2zM443.6 289.1h1.2v5.5h-1.2zM446.6 289.1h1.2v5.5h-1.2zM452.6 289.1h1.2v5.5h-1.2zM455.6 289.1h2.2v5.5h-2.2zM460.6 289.1h1.2v5.5h-1.2zM415.6 294.4h1.2v5.5h-1.2zM420.6 294.4h1.2v5.5h-1.2zM427.6 294.4h1.2v5.5h-1.2zM433.6 294.4h1.2v5.5h-1.2zM440.6 294.4h1.2v5.5h-1.2zM446.6 294.4h1.2v5.5h-1.2zM451.6 294.4h3.2v5.5h-3.2zM456.6 294.4h2.2v5.5h-2.2zM461.6 294.4h1.2v5.5h-1.2zM464.6 294.4h1.2v5.5h-1.2zM532.6 294.4h1.2v5.5h-1.2zM548.6 294.4h1.2v5.5h-1.2zM412.6 299.7h1.2v5.5h-1.2zM416.6 299.7h1.2v5.5h-1.2zM419.6 299.7h1.2v5.5h-1.2zM428.6 299.7h1.2v5.5h-1.2zM430.6 299.7h1.2v5.5h-1.2zM433.6 299.7h1.2v5.5h-1.2zM439.6 299.7h2.2v5.5h-2.2zM444.6 299.7h1.2v5.5h-1.2zM456.6 299.7h1.2v5.5h-1.2zM494.6 299.7h1.2v5.5h-1.2zM530.6 299.7h1.2v5.5h-1.2zM543.6 299.7h1.2v5.5h-1.2zM546.6 299.7h1.2v5.5h-1.2zM420.6 304.9h1.2v5.5h-1.2zM427.6 304.9h1.2v5.5h-1.2zM434.6 304.9h1.2v5.5h-1.2zM439.6 304.9h1.2v5.5h-1.2zM441.6 304.9h1.2v5.5h-1.2zM444.6 304.9h1.2v5.5h-1.2zM446.6 304.9h1.2v5.5h-1.2zM449.6 304.9h1.2v5.5h-1.2z"/>
<path fill="#30b0cc" d="M416.6 246.7h1.2v5.6h-1.2zM419.6 246.7h2.2v5.6h-2.2zM426.6 246.7h2.2v5.6h-2.2zM429.6 246.7h1.2v5.6h-1.2zM433.6 246.7h1.2v5.6h-1.2zM444.6 246.7h1.2v5.6h-1.2zM467.6 246.7h1.2v5.6h-1.2zM471.6 246.7h1.2v5.6h-1.2zM477.6 246.7h1.2v5.6h-1.2zM505.6 246.7h1.2v5.6h-1.2zM516.6 246.7h1.2v5.6h-1.2zM519.6 246.7h2.2v5.6h-2.2zM529.6 246.7h1.2v5.6h-1.2zM536.6 246.7h1.2v5.6h-1.2zM547.6 246.7h1.2v5.6h-1.2zM549.6 246.7h4.2v5.6h-4.2zM412.6 252h1.2v5.6h-1.2zM415.6 252h2.2v5.6h-2.2zM418.6 252h1.2v5.6h-1.2zM426.6 252h1.2v5.6h-1.2zM435.6 252h2.2v5.6h-2.2zM442.6 252h1.2v5.6h-1.2zM445.6 252h1.2v5.6h-1.2zM459.6 252h1.2v5.6h-1.2zM517.6 252h1.2v5.6h-1.2zM532.6 252h1.2v5.6h-1.2zM534.6 252h1.2v5.6h-1.2zM538.6 252h2.2v5.6h-2.2zM546.6 252h1.2v5.6h-1.2zM548.6 252h1.2v5.6h-1.2zM416.6 257.3h1.2v5.6h-1.2zM419.6 257.3h3.2v5.6h-3.2zM427.6 257.3h1.2v5.6h-1.2zM430.6 257.3h1.2v5.6h-1.2zM435.6 257.3h1.2v5.6h-1.2zM442.6 257.3h1.2v5.6h-1.2zM446.6 257.3h1.2v5.6h-1.2zM526.6 257.3h1.2v5.6h-1.2zM539.6 257.3h1.2v5.6h-1.2zM543.6 257.3h1.2v5.6h-1.2zM546.6 257.3h2.2v5.6h-2.2zM551.6 257.3h1.2v5.6h-1.2zM416.6 262.6h3.2v5.6h-3.2zM422.6 262.6h1.2v5.6h-1.2zM430.6 262.6h1.2v5.6h-1.2zM434.6 262.6h1.2v5.6h-1.2zM440.6 262.6h1.2v5.6h-1.2zM452.6 262.6h1.2v5.6h-1.2zM455.6 262.6h2.2v5.6h-2.2zM460.6 262.6h1.2v5.6h-1.2zM463.6 262.6h1.2v5.6h-1.2zM522.6 262.6h1.2v5.6h-1.2zM529.6 262.6h1.2v5.6h-1.2zM549.6 262.6h1.2v5.6h-1.2zM551.6 262.6h1.2v5.6h-1.2zM554.6 262.6h1.2v5.6h-1.2zM420.6 268h1.2v5.6h-1.2zM425.6 268h2.2v5.6h-2.2zM430.6 268h1.2v5.6h-1.2zM443.6 268h2.2v5.6h-2.2zM451.6 268h1.2v5.6h-1.2zM459.6 268h1.2v5.6h-1.2zM467.6 268h1.2v5.6h-1.2zM509.6 268h1.2v5.6h-1.2zM515.6 268h1.2v5.6h-1.2zM543.6 268h1.2v5.6h-1.2zM554.6 268h2.2v5.6h-2.2zM412.6 273.3h1.2v5.6h-1.2zM422.6 273.3h1.2v5.6h-1.2zM439.6 273.3h1.2v5.6h-1.2zM441.6 273.3h3.2v5.6h-3.2zM450.6 273.3h1.2v5.6h-1.2zM481.6 273.3h1.2v5.6h-1.2zM513.6 273.3h1.2v5.6h-1.2zM526.6 273.3h1.2v5.6h-1.2zM534.6 273.3h1.2v5.6h-1.2zM541.6 273.3h2.2v5.6h-2.2zM547.6 273.3h1.2v5.6h-1.2zM551.6 273.3h1.2v5.6h-1.2zM553.6 273.3h1.2v5.6h-1.2zM555.6 273.3h1.2v5.6h-1.2zM467.6 278.6h3.2v5.5h-3.2zM471.6 278.6h1.2v5.5h-1.2zM477.6 278.6h1.2v5.5h-1.2zM488.6 278.6h1.2v5.5h-1.2zM498.6 278.6h1.2v5.5h-1.2zM525.6 278.6h1.2v5.5h-1.2zM531.6 278.6h1.2v5.5h-1.2zM538.6 278.6h1.2v5.5h-1.2zM543.6 278.6h1.2v5.5h-1.2zM547.6 278.6h1.2v5.5h-1.2zM418.6 283.9h1.2v5.5h-1.2zM465.6 283.9h1.2v5.5h-1.2zM509.6 283.9h1.2v5.5h-1.2zM516.6 283.9h1.2v5.5h-1.2zM518.6 283.9h1.2v5.5h-1.2zM529.6 283.9h1.2v5.5h-1.2zM535.6 283.9h2.2v5.5h-2.2zM539.6 283.9h1.2v5.5h-1.2zM541.6 283.9h1.2v5.5h-1.2zM547.6 283.9h1.2v5.5h-1.2zM437.6 289.1h1.2v5.5h-1.2zM468.6 289.1h1.2v5.5h-1.2zM511.6 289.1h1.2v5.5h-1.2zM518.6 289.1h1.2v5.5h-1.2zM520.6 289.1h1.2v5.5h-1.2zM522.6 289.1h1.2v5.5h-1.2zM550.6 289.1h1.2v5.5h-1.2zM499.6 294.4h1.2v5.5h-1.2zM509.6 294.4h1.2v5.5h-1.2zM512.6 294.4h1.2v5.5h-1.2zM530.6 294.4h1.2v5.5h-1.2zM534.6 294.4h1.2v5.5h-1.2zM536.6 294.4h3.2v5.5h-3.2zM543.6 294.4h1.2v5.5h-1.2zM549.6 294.4h1.2v5.5h-1.2zM551.6 294.4h1.2v5.5h-1.2zM555.6 294.4h1.2v5.5h-1.2zM463.6 299.7h1.2v5.5h-1.2zM465.6 299.7h1.2v5.5h-1.2zM467.6 299.7h1.2v5.5h-1.2zM491.6 299.7h1.2v5.5h-1.2zM497.6 299.7h1.2v5.5h-1.2zM501.6 299.7h1.2v5.5h-1.2zM505.6 299.7h1.2v5.5h-1.2zM511.6 299.7h1.2v5.5h-1.2zM516.6 299.7h1.2v5.5h-1.2zM532.6 299.7h1.2v5.5h-1.2zM545.6 299.7h1.2v5.5h-1.2zM413.6 304.9h1.2v5.5h-1.2zM454.6 304.9h2.2v5.5h-2.2zM458.6 304.9h2.2v5.5h-2.2zM461.6 304.9h1.2v5.5h-1.2zM504.6 304.9h1.2v5.5h-1.2zM516.6 304.9h1.2v5.5h-1.2zM528.6 304.9h1.2v5.5h-1.2zM530.6 304.9h1.2v5.5h-1.2zM535.6 304.9h2.2v5.5h-2.2z"/>
<path fill="#25a6da" d="M417.6 246.7h1.2v5.6h-1.2zM428.6 246.7h1.2v5.6h-1.2zM432.6 246.7h1.2v5.6h-1.2zM440.6 246.7h1.2v5.6h-1.2zM454.6 246.7h1.2v5.6h-1.2zM459.6 246.7h1.2v5.6h-1.2zM480.6 246.7h1.2v5.6h-1.2zM504.6 246.7h1.2v5.6h-1.2zM510.6 246.7h1.2v5.6h-1.2zM515.6 246.7h1.2v5.6h-1.2zM518.6 246.7h1.2v5.6h-1.2zM522.6 246.7h1.2v5.6h-1.2zM533.6 246.7h2.2v5.6h-2.2zM543.6 246.7h1.2v5.6h-1.2zM554.6 246.7h1.2v5.6h-1.2zM430.6 252h1.2v5.6h-1.2zM433.6 252h1.2v5.6h-1.2zM516.6 252h1.2v5.6h-1.2zM529.6 252h1.2v5.6h-1.2zM542.6 252h1.2v5.6h-1.2zM551.6 252h1.2v5.6h-1.2zM553.6 252h1.2v5.6h-1.2zM555.6 252h1.2v5.6h-1.2zM433.6 257.3h2.2v5.6h-2.2zM523.6 257.3h1.2v5.6h-1.2zM541.6 257.3h2.2v5.6h-2.2zM553.6 257.3h1.2v5.6h-1.2zM414.6 262.6h1.2v5.6h-1.2zM425.6 262.6h1.2v5.6h-1.2zM439.6 262.6h1.2v5.6h-1.2zM443.6 262.6h1.2v5.6h-1.2zM448.6 262.6h1.2v5.6h-1.2zM450.6 262.6h1.2v5.6h-1.2zM552.6 262.6h2.2v5.6h-2.2zM423.6 268h1.2v5.6h-1.2zM450.6 268h1.2v5.6h-1.2zM434.6 273.3h1.2v5.6h-1.2zM438.6 273.3h1.2v5.6h-1.2zM445.6 273.3h1.2v5.6h-1.2zM527.6 273.3h1.2v5.6h-1.2zM466.6 278.6h1.2v5.5h-1.2zM501.6 278.6h1.2v5.5h-1.2zM517.6 278.6h1.2v5.5h-1.2zM539.6 278.6h2.2v5.5h-2.2zM549.6 278.6h1.2v5.5h-1.2zM552.6 278.6h2.2v5.5h-2.2zM419.6 283.9h1.2v5.5h-1.2zM432.6 283.9h1.2v5.5h-1.2zM439.6 283.9h1.2v5.5h-1.2zM444.6 283.9h1.2v5.5h-1.2zM451.6 283.9h1.2v5.5h-1.2zM453.6 283.9h1.2v5.5h-1.2zM463.6 283.9h2.2v5.5h-2.2zM466.6 283.9h1.2v5.5h-1.2zM512.6 283.9h2.2v5.5h-2.2zM520.6 283.9h1.2v5.5h-1.2zM528.6 283.9h1.2v5.5h-1.2zM531.6 283.9h1.2v5.5h-1.2zM533.6 283.9h1.2v5.5h-1.2zM538.6 283.9h1.2v5.5h-1.2zM411.6 289.1h1.2v5.5h-1.2zM434.6 289.1h1.2v5.5h-1.2zM436.6 289.1h1.2v5.5h-1.2zM442.6 289.1h1.2v5.5h-1.2zM444.6 289.1h2.2v5.5h-2.2zM448.6 289.1h1.2v5.5h-1.2zM450.6 289.1h1.2v5.5h-1.2zM464.6 289.1h2.2v5.5h-2.2zM525.6 289.1h1.2v5.5h-1.2zM527.6 289.1h1.2v5.5h-1.2zM530.6 289.1h1.2v5.5h-1.2zM538.6 289.1h2.2v5.5h-2.2zM549.6 289.1h1.2v5.5h-1.2zM432.6 294.4h1.2v5.5h-1.2zM454.6 294.4h1.2v5.5h-1.2zM458.6 294.4h1.2v5.5h-1.2zM468.6 294.4h1.2v5.5h-1.2zM421.6 299.7h1.2v5.5h-1.2zM432.6 299.7h1.2v5.5h-1.2zM436.6 299.7h1.2v5.5h-1.2zM442.6 299.7h1.2v5.5h-1.2zM492.6 299.7h2.2v5.5h-2.2zM495.6 299.7h2.2v5.5h-2.2zM498.6 299.7h1.2v5.5h-1.2zM502.6 299.7h2.2v5.5h-2.2zM506.6 299.7h1.2v5.5h-1.2zM512.6 299.7h1.2v5.5h-1.2zM515.6 299.7h1.2v5.5h-1.2zM523.6 299.7h1.2v5.5h-1.2zM536.6 299.7h1.2v5.5h-1.2zM538.6 299.7h1.2v5.5h-1.2zM540.6 299.7h3.2v5.5h-3.2zM544.6 299.7h1.2v5.5h-1.2zM411.6 304.9h1.2v5.5h-1.2zM419.6 304.9h1.2v5.5h-1.2zM421.6 304.9h1.2v5.5h-1.2zM431.6 304.9h1.2v5.5h-1.2zM433.6 304.9h1.2v5.5h-1.2zM436.6 304.9h1.2v5.5h-1.2zM451.6 304.9h3.2v5.5h-3.2zM463.6 304.9h1.2v5.5h-1.2zM533.6 304.9h1.2v5.5h-1.2z"/>
<path fill="#36b5c4" d="M418.6 246.7h1.2v5.6h-1.2zM421.6 246.7h1.2v5.6h-1.2zM425.6 246.7h1.2v5.6h-1.2zM435.6 246.7h1.2v5.6h-1.2zM438.6 246.7h1.2v5.6h-1.2zM447.6 246.7h1.2v5.6h-1.2zM452.6 246.7h2.2v5.6h-2.2zM457.6 246.7h1.2v5.6h-1.2zM469.6 246.7h1.2v5.6h-1.2zM479.6 246.7h1.2v5.6h-1.2zM485.6 246.7h1.2v5.6h-1.2zM489.6 246.7h2.2v5.6h-2.2zM498.6 246.7h1.2v5.6h-1.2zM507.6 246.7h2.2v5.6h-2.2zM523.6 246.7h3.2v5.6h-3.2zM527.6 246.7h1.2v5.6h-1.2zM540.6 246.7h1.2v5.6h-1.2zM542.6 246.7h1.2v5.6h-1.2zM548.6 246.7h1.2v5.6h-1.2zM411.6 252h1.2v5.6h-1.2zM422.6 252h1.2v5.6h-1.2zM424.6 252h1.2v5.6h-1.2zM439.6 252h1.2v5.6h-1.2zM441.6 252h1.2v5.6h-1.2zM448.6 252h1.2v5.6h-1.2zM453.6 252h1.2v5.6h-1.2zM457.6 252h1.2v5.6h-1.2zM462.6 252h1.2v5.6h-1.2zM519.6 252h1.2v5.6h-1.2zM524.6 252h1.2v5.6h-1.2zM527.6 252h1.2v5.6h-1.2zM536.6 252h1.2v5.6h-1.2zM549.6 252h1.2v5.6h-1.2zM552.6 252h1.2v5.6h-1.2zM411.6 257.3h2.2v5.6h-2.2zM438.6 257.3h2.2v5.6h-2.2zM443.6 257.3h1.2v5.6h-1.2zM451.6 257.3h2.2v5.6h-2.2zM458.6 257.3h2.2v5.6h-2.2zM462.6 257.3h1.2v5.6h-1.2zM470.6 257.3h1.2v5.6h-1.2zM509.6 257.3h1.2v5.6h-1.2zM513.6 257.3h1.2v5.6h-1.2zM517.6 257.3h2.2v5.6h-2.2zM525.6 257.3h1.2v5.6h-1.2zM527.6 257.3h1.2v5.6h-1.2zM533.6 257.3h2.2v5.6h-2.2zM536.6 257.3h2.2v5.6h-2.2zM544.6 257.3h1.2v5.6h-1.2zM411.6 262.6h1.2v5.6h-1.2zM426.6 262.6h1.2v5.6h-1.2zM436.6 262.6h1.2v5.6h-1.2zM453.6 262.6h1.2v5.6h-1.2zM466.6 262.6h1.2v5.6h-1.2zM515.6 262.6h1.2v5.6h-1.2zM530.6 262.6h1.2v5.6h-1.2zM533.6 262.6h1.2v5.6h-1.2zM536.6 262.6h1.2v5.6h-1.2zM542.6 262.6h1.2v5.6h-1.2zM546.6 262.6h1.2v5.6h-1.2zM550.6 262.6h1.2v5.6h-1.2zM417.6 268h1.2v5.6h-1.2zM432.6 268h2.2v5.6h-2.2zM435.6 268h1.2v5.6h-1.2zM439.6 268h1.2v5.6h-1.2zM441.6 268h1.2v5.6h-1.2zM447.6 268h2.2v5.6h-2.2zM453.6 268h1.2v5.6h-1.2zM456.6 268h1.2v5.6h-1.2zM490.6 268h1.2v5.6h-1.2zM501.6 268h1.2v5.6h-1.2zM503.6 268h2.2v5.6h-2.2zM511.6 268h2.2v5.6h-2.2zM514.6 268h1.2v5.6h-1.2zM533.6 268h1.2v5.6h-1.2zM538.6 268h2.2v5.6h-2.2zM541.6 268h1.2v5.6h-1.2zM548.6 268h1.2v5.6h-1.2zM551.6 268h1.2v5.6h-1.2zM413.6 273.3h1.2v5.6h-1.2zM415.6 273.3h1.2v5.6h-1.2zM421.6 273.3h1.2v5.6h-1.2zM423.6 273.3h1.2v5.6h-1.2zM425.6 273.3h2.2v5.6h-2.2zM432.6 273.3h1.2v5.6h-1.2zM435.6 273.3h1.2v5.6h-1.2zM446.6 273.3h1.2v5.6h-1.2zM477.6 273.3h2.2v5.6h-2.2zM519.6 273.3h1.2v5.6h-1.2zM533.6 273.3h1.2v5.6h-1.2zM537.6 273.3h1.2v5.6h-1.2zM539.6 273.3h1.2v5.6h-1.2zM546.6 273.3h1.2v5.6h-1.2zM552.6 273.3h1.2v5.6h-1.2zM479.6 278.6h1.2v5.5h-1.2zM481.6 278.6h1.2v5.5h-1.2zM486.6 278.6h1.2v5.5h-1.2zM490.6 278.6h1.2v5.5h-1.2zM494.6 278.6h1.2v5.5h-1.2zM497.6 278.6h1.2v5.5h-1.2zM504.6 278.6h4.2v5.5h-4.2zM509.6 278.6h1.2v5.5h-1.2zM521.6 278.6h1.2v5.5h-1.2zM532.6 278.6h1.2v5.5h-1.2zM542.6 278.6h1.2v5.5h-1.2zM545.6 278.6h1.2v5.5h-1.2zM548.6 278.6h1.2v5.5h-1.2zM470.6 283.9h1.2v5.5h-1.2zM510.6 283.9h1.2v5.5h-1.2zM514.6 283.9h2.2v5.5h-2.2zM540.6 283.9h1.2v5.5h-1.2zM553.6 283.9h1.2v5.5h-1.2zM441.6 289.1h1.2v5.5h-1.2zM476.6 289.1h1.2v5.5h-1.2zM504.6 289.1h1.2v5.5h-1.2zM515.6 289.1h1.2v5.5h-1.2zM524.6 289.1h1.2v5.5h-1.2zM532.6 289.1h2.2v5.5h-2.2zM537.6 289.1h1.2v5.5h-1.2zM542.6 289.1h2.2v5.5h-2.2zM545.6 289.1h1.2v5.5h-1.2zM548.6 289.1h1.2v5.5h-1.2zM553.6 289.1h1.2v5.5h-1.2zM503.6 294.4h1.2v5.5h-1.2zM505.6 294.4h2.2v5.5h-2.2zM511.6 294.4h1.2v5.5h-1.2zM517.6 294.4h1.2v5.5h-1.2zM525.6 294.4h1.2v5.5h-1.2zM541.6 294.4h1.2v5.5h-1.2zM544.6 294.4h1.2v5.5h-1.2zM550.6 294.4h1.2v5.5h-1.2zM507.6 299.7h2.2v5.5h-2.2zM517.6 299.7h1.2v5.5h-1.2zM522.6 299.7h1.2v5.5h-1.2zM525.6 299.7h2.2v5.5h-2.2zM528.6 299.7h1.2v5.5h-1.2zM534.6 299.7h1.2v5.5h-1.2zM554.6 299.7h1.2v5.5h-1.2zM507.6 304.9h1.2v5.5h-1.2zM510.6 304.9h1.2v5.5h-1.2zM521.6 304.9h2.2v5.5h-2.2zM534.6 304.9h1.2v5.5h-1.2zM540.6 304.9h1.2v5.5h-1.2zM542.6 304.9h1.2v5.5h-1.2zM551.6 304.9h1.2v5.5h-1.2zM554.6 304.9h1.2v5.5h-1.2z"/>
<path fill="#54c0a6" d="M423.6 246.7h1.2v5.6h-1.2zM436.6 246.7h1.2v5.6h-1.2zM439.6 246.7h1.2v5.6h-1.2zM463.6 246.7h1.2v5.6h-1.2zM465.6 246.7h1.2v5.6h-1.2zM468.6 246.7h1.2v5.6h-1.2zM472.6 246.7h1.2v5.6h-1.2zM491.6 246.7h1.2v5.6h-1.2zM500.6 246.7h2.2v5.6h-2.2zM506.6 246.7h1.2v5.6h-1.2zM539.6 246.7h1.2v5.6h-1.2zM555.6 246.7h1.2v5.6h-1.2zM419.6 252h1.2v5.6h-1.2zM423.6 252h1.2v5.6h-1.2zM440.6 252h1.2v5.6h-1.2zM466.6 252h1.2v5.6h-1.2zM470.6 252h1.2v5.6h-1.2zM475.6 252h1.2v5.6h-1.2zM478.6 252h1.2v5.6h-1.2zM482.6 252h3.2v5.6h-3.2zM487.6 252h1.2v5.6h-1.2zM493.6 252h1.2v5.6h-1.2zM496.6 252h1.2v5.6h-1.2zM499.6 252h1.2v5.6h-1.2zM502.6 252h1.2v5.6h-1.2zM522.6 252h1.2v5.6h-1.2zM414.6 257.3h2.2v5.6h-2.2zM457.6 257.3h1.2v5.6h-1.2zM461.6 257.3h1.2v5.6h-1.2zM467.6 257.3h2.2v5.6h-2.2zM477.6 257.3h1.2v5.6h-1.2zM483.6 257.3h1.2v5.6h-1.2zM485.6 257.3h1.2v5.6h-1.2zM487.6 257.3h1.2v5.6h-1.2zM489.6 257.3h1.2v5.6h-1.2zM502.6 257.3h1.2v5.6h-1.2zM506.6 257.3h1.2v5.6h-1.2zM515.6 257.3h1.2v5.6h-1.2zM433.6 262.6h1.2v5.6h-1.2zM437.6 262.6h1.2v5.6h-1.2zM451.6 262.6h1.2v5.6h-1.2zM464.6 262.6h1.2v5.6h-1.2zM469.6 262.6h1.2v5.6h-1.2zM478.6 262.6h1.2v5.6h-1.2zM503.6 262.6h1.2v5.6h-1.2zM523.6 262.6h1.2v5.6h-1.2zM537.6 262.6h1.2v5.6h-1.2zM445.6 268h1.2v5.6h-1.2zM457.6 268h1.2v5.6h-1.2zM469.6 268h4.2v5.6h-4.2zM478.6 268h3.2v5.6h-3.2zM483.6 268h1.2v5.6h-1.2zM487.6 268h1.2v5.6h-1.2zM498.6 268h1.2v5.6h-1.2zM507.6 268h1.2v5.6h-1.2zM510.6 268h1.2v5.6h-1.2zM523.6 268h1.2v5.6h-1.2zM532.6 268h1.2v5.6h-1.2zM547.6 268h1.2v5.6h-1.2zM552.6 268h1.2v5.6h-1.2zM416.6 273.3h2.2v5.6h-2.2zM437.6 273.3h1.2v5.6h-1.2zM444.6 273.3h1.2v5.6h-1.2zM451.6 273.3h2.2v5.6h-2.2zM461.6 273.3h1.2v5.6h-1.2zM464.6 273.3h3.2v5.6h-3.2zM489.6 273.3h1.2v5.6h-1.2zM492.6 273.3h3.2v5.6h-3.2zM506.6 273.3h1.2v5.6h-1.2zM509.6 273.3h1.2v5.6h-1.2zM524.6 273.3h1.2v5.6h-1.2zM548.6 273.3h1.2v5.6h-1.2zM473.6 278.6h1.2v5.5h-1.2zM478.6 278.6h1.2v5.5h-1.2zM510.6 278.6h2.2v5.5h-2.2zM530.6 278.6h1.2v5.5h-1.2zM473.6 283.9h1.2v5.5h-1.2zM475.6 283.9h1.2v5.5h-1.2zM479.6 283.9h1.2v5.5h-1.2zM484.6 283.9h1.2v5.5h-1.2zM488.6 283.9h1.2v5.5h-1.2zM497.6 283.9h1.2v5.5h-1.2zM500.6 283.9h1.2v5.5h-1.2zM507.6 283.9h1.2v5.5h-1.2zM511.6 283.9h1.2v5.5h-1.2zM469.6 289.1h1.2v5.5h-1.2zM471.6 289.1h1.2v5.5h-1.2zM482.6 289.1h1.2v5.5h-1.2zM491.6 289.1h1.2v5.5h-1.2zM496.6 289.1h1.2v5.5h-1.2zM505.6 289.1h2.2v5.5h-2.2zM521.6 289.1h1.2v5.5h-1.2zM507.6 294.4h1.2v5.5h-1.2zM427.6 299.7h1.2v5.5h-1.2zM488.6 299.7h1.2v5.5h-1.2zM524.6 299.7h1.2v5.5h-1.2zM531.6 299.7h1.2v5.5h-1.2zM503.6 304.9h1.2v5.5h-1.2zM512.6 304.9h1.2v5.5h-1.2zM517.6 304.9h1.2v5.5h-1.2z"/>
<path fill="#88c67b" d="M424.6 246.7h1.2v5.6h-1.2zM501.6 252h1.2v5.6h-1.2zM506.6 252h1.2v5.6h-1.2zM464.6 257.3h1.2v5.6h-1.2zM472.6 257.3h1.2v5.6h-1.2zM478.6 257.3h1.2v5.6h-1.2zM480.6 257.3h1.2v5.6h-1.2zM493.6 257.3h1.2v5.6h-1.2zM495.6 257.3h1.2v5.6h-1.2zM497.6 257.3h1.2v5.6h-1.2zM501.6 257.3h1.2v5.6h-1.2zM474.6 262.6h1.2v5.6h-1.2zM476.6 262.6h1.2v5.6h-1.2zM480.6 262.6h1.2v5.6h-1.2zM487.6 262.6h2.2v5.6h-2.2zM490.6 262.6h1.2v5.6h-1.2zM497.6 262.6h1.2v5.6h-1.2zM505.6 262.6h2.2v5.6h-2.2zM510.6 262.6h1.2v5.6h-1.2zM513.6 262.6h1.2v5.6h-1.2zM482.6 268h1.2v5.6h-1.2zM486.6 268h1.2v5.6h-1.2zM492.6 268h1.2v5.6h-1.2zM496.6 268h2.2v5.6h-2.2zM499.6 268h1.2v5.6h-1.2zM505.6 268h1.2v5.6h-1.2zM469.6 273.3h1.2v5.6h-1.2zM473.6 273.3h1.2v5.6h-1.2zM483.6 273.3h1.2v5.6h-1.2zM486.6 273.3h2.2v5.6h-2.2zM497.6 273.3h1.2v5.6h-1.2zM481.6 283.9h1.2v5.5h-1.2zM491.6 283.9h1.2v5.5h-1.2zM479.6 289.1h1.2v5.5h-1.2zM481.6 289.1h1.2v5.5h-1.2zM485.6 289.1h1.2v5.5h-1.2zM495.6 294.4h1.2v5.5h-1.2zM497.6 294.4h1.2v5.5h-1.2zM473.6 299.7h1.2v5.5h-1.2zM476.6 299.7h1.2v5.5h-1.2zM479.6 299.7h1.2v5.5h-1.2zM481.6 299.7h1.2v5.5h-1.2zM485.6 299.7h1.2v5.5h-1.2zM469.6 304.9h1.2v5.5h-1.2zM490.6 304.9h1.2v5.5h-1.2zM492.6 304.9h1.2v5.5h-1.2zM501.6 304.9h1.2v5.5h-1.2zM515.6 304.9h1.2v5.5h-1.2zM520.6 304.9h1.2v5.5h-1.2z"/>
<path fill="#42beb4" d="M437.6 246.7h1.2v5.6h-1.2zM442.6 246.7h1.2v5.6h-1.2zM446.6 246.7h1.2v5.6h-1.2zM449.6 246.7h1.2v5.6h-1.2zM475.6 246.7h1.2v5.6h-1.2zM482.6 246.7h2.2v5.6h-2.2zM488.6 246.7h1.2v5.6h-1.2zM502.6 246.7h2.2v5.6h-2.2zM517.6 246.7h1.2v5.6h-1.2zM535.6 246.7h1.2v5.6h-1.2zM541.6 246.7h1.2v5.6h-1.2zM420.6 252h2.2v5.6h-2.2zM437.6 252h1.2v5.6h-1.2zM455.6 252h1.2v5.6h-1.2zM460.6 252h2.2v5.6h-2.2zM464.6 252h2.2v5.6h-2.2zM476.6 252h1.2v5.6h-1.2zM479.6 252h1.2v5.6h-1.2zM507.6 252h1.2v5.6h-1.2zM513.6 252h1.2v5.6h-1.2zM523.6 252h1.2v5.6h-1.2zM413.6 257.3h1.2v5.6h-1.2zM417.6 257.3h1.2v5.6h-1.2zM440.6 257.3h1.2v5.6h-1.2zM449.6 257.3h1.2v5.6h-1.2zM463.6 257.3h1.2v5.6h-1.2zM466.6 257.3h1.2v5.6h-1.2zM469.6 257.3h1.2v5.6h-1.2zM511.6 257.3h2.2v5.6h-2.2zM514.6 257.3h1.2v5.6h-1.2zM529.6 257.3h4.2v5.6h-4.2zM432.6 262.6h1.2v5.6h-1.2zM435.6 262.6h1.2v5.6h-1.2zM468.6 262.6h1.2v5.6h-1.2zM519.6 262.6h1.2v5.6h-1.2zM524.6 262.6h2.2v5.6h-2.2zM532.6 262.6h1.2v5.6h-1.2zM535.6 262.6h1.2v5.6h-1.2zM539.6 262.6h1.2v5.6h-1.2zM541.6 262.6h1.2v5.6h-1.2zM543.6 262.6h1.2v5.6h-1.2zM411.6 268h1.2v5.6h-1.2zM421.6 268h1.2v5.6h-1.2zM429.6 268h1.2v5.6h-1.2zM440.6 268h1.2v5.6h-1.2zM460.6 268h4.2v5.6h-4.2zM465.6 268h1.2v5.6h-1.2zM481.6 268h1.2v5.6h-1.2zM508.6 268h1.2v5.6h-1.2zM517.6 268h1.2v5.6h-1.2zM522.6 268h1.2v5.6h-1.2zM526.6 268h1.2v5.6h-1.2zM529.6 268h1.2v5.6h-1.2zM534.6 268h2.2v5.6h-2.2zM542.6 268h1.2v5.6h-1.2zM545.6 268h1.2v5.6h-1.2zM549.6 268h1.2v5.6h-1.2zM419.6 273.3h1.2v5.6h-1.2zM424.6 273.3h1.2v5.6h-1.2zM430.6 273.3h1.2v5.6h-1.2zM454.6 273.3h1.2v5.6h-1.2zM457.6 273.3h1.2v5.6h-1.2zM459.6 273.3h1.2v5.6h-1.2zM480.6 273.3h1.2v5.6h-1.2zM482.6 273.3h1.2v5.6h-1.2zM496.6 273.3h1.2v5.6h-1.2zM499.6 273.3h1.2v5.6h-1.2zM507.6 273.3h1.2v5.6h-1.2zM516.6 273.3h1.2v5.6h-1.2zM531.6 273.3h2.2v5.6h-2.2zM536.6 273.3h1.2v5.6h-1.2zM549.6 273.3h1.2v5.6h-1.2zM474.6 278.6h1.2v5.5h-1.2zM484.6 278.6h1.2v5.5h-1.2zM487.6 278.6h1.2v5.5h-1.2zM489.6 278.6h1.2v5.5h-1.2zM496.6 278.6h1.2v5.5h-1.2zM500.6 278.6h1.2v5.5h-1.2zM508.6 278.6h1.2v5.5h-1.2zM512.6 278.6h1.2v5.5h-1.2zM526.6 278.6h1.2v5.5h-1.2zM528.6 278.6h2.2v5.5h-2.2zM467.6 283.9h1.2v5.5h-1.2zM482.6 283.9h1.2v5.5h-1.2zM495.6 283.9h1.2v5.5h-1.2zM499.6 283.9h1.2v5.5h-1.2zM501.6 283.9h1.2v5.5h-1.2zM504.6 283.9h1.2v5.5h-1.2zM508.6 283.9h1.2v5.5h-1.2zM522.6 283.9h2.2v5.5h-2.2zM534.6 283.9h1.2v5.5h-1.2zM551.6 283.9h1.2v5.5h-1.2zM466.6 289.1h1.2v5.5h-1.2zM493.6 289.1h1.2v5.5h-1.2zM498.6 289.1h1.2v5.5h-1.2zM502.6 289.1h2.2v5.5h-2.2zM507.6 289.1h1.2v5.5h-1.2zM509.6 289.1h2.2v5.5h-2.2zM517.6 289.1h1.2v5.5h-1.2zM523.6 289.1h1.2v5.5h-1.2zM546.6 289.1h1.2v5.5h-1.2zM551.6 289.1h1.2v5.5h-1.2zM554.6 289.1h1.2v5.5h-1.2zM469.6 294.4h1.2v5.5h-1.2zM513.6 294.4h2.2v5.5h-2.2zM521.6 294.4h1.2v5.5h-1.2zM489.6 299.7h1.2v5.5h-1.2zM521.6 299.7h1.2v5.5h-1.2zM527.6 299.7h1.2v5.5h-1.2zM465.6 304.9h1.2v5.5h-1.2zM502.6 304.9h1.2v5.5h-1.2zM513.6 304.9h1.2v5.5h-1.2zM519.6 304.9h1.2v5.5h-1.2zM523.6 304.9h1.2v5.5h-1.2z"/>
<path fill="#239edc" d="M458.6 246.7h1.2v5.6h-1.2zM460.6 246.7h1.2v5.6h-1.2zM513.6 246.7h2.2v5.6h-2.2zM532.6 246.7h1.2v5.6h-1.2zM553.6 246.7h1.2v5.6h-1.2zM413.6 252h1.2v5.6h-1.2zM417.6 252h1.2v5.6h-1.2zM427.6 252h1.2v5.6h-1.2zM429.6 252h1.2v5.6h-1.2zM432.6 252h1.2v5.6h-1.2zM444.6 252h1.2v5.6h-1.2zM451.6 252h1.2v5.6h-1.2zM545.6 252h1.2v5.6h-1.2zM547.6 252h1.2v5.6h-1.2zM418.6 257.3h1.2v5.6h-1.2zM422.6 257.3h1.2v5.6h-1.2zM426.6 257.3h1.2v5.6h-1.2zM429.6 257.3h1.2v5.6h-1.2zM432.6 257.3h1.2v5.6h-1.2zM445.6 257.3h1.2v5.6h-1.2zM453.6 257.3h1.2v5.6h-1.2zM540.6 257.3h1.2v5.6h-1.2zM552.6 257.3h1.2v5.6h-1.2zM419.6 262.6h1.2v5.6h-1.2zM423.6 262.6h1.2v5.6h-1.2zM555.6 262.6h1.2v5.6h-1.2zM414.6 268h1.2v5.6h-1.2zM446.6 268h1.2v5.6h-1.2zM535.6 273.3h1.2v5.6h-1.2zM451.6 278.6h1.2v5.5h-1.2zM463.6 278.6h1.2v5.5h-1.2zM519.6 278.6h1.2v5.5h-1.2zM536.6 278.6h1.2v5.5h-1.2zM550.6 278.6h1.2v5.5h-1.2zM416.6 283.9h1.2v5.5h-1.2zM426.6 283.9h1.2v5.5h-1.2zM457.6 283.9h1.2v5.5h-1.2zM461.6 283.9h1.2v5.5h-1.2zM468.6 283.9h1.2v5.5h-1.2zM527.6 283.9h1.2v5.5h-1.2zM545.6 283.9h1.2v5.5h-1.2zM416.6 289.1h1.2v5.5h-1.2zM418.6 289.1h1.2v5.5h-1.2zM447.6 289.1h1.2v5.5h-1.2zM457.6 289.1h1.2v5.5h-1.2zM459.6 289.1h1.2v5.5h-1.2zM461.6 289.1h1.2v5.5h-1.2zM463.6 289.1h1.2v5.5h-1.2zM528.6 289.1h1.2v5.5h-1.2zM536.6 289.1h1.2v5.5h-1.2zM412.6 294.4h1.2v5.5h-1.2zM414.6 294.4h1.2v5.5h-1.2zM434.6 294.4h2.2v5.5h-2.2zM462.6 294.4h1.2v5.5h-1.2zM466.6 294.4h1.2v5.5h-1.2zM501.6 294.4h1.2v5.5h-1.2zM508.6 294.4h1.2v5.5h-1.2zM516.6 294.4h1.2v5.5h-1.2zM552.6 294.4h1.2v5.5h-1.2zM423.6 299.7h1.2v5.5h-1.2zM445.6 299.7h2.2v5.5h-2.2zM450.6 299.7h1.2v5.5h-1.2zM452.6 299.7h1.2v5.5h-1.2zM454.6 299.7h1.2v5.5h-1.2zM459.6 299.7h1.2v5.5h-1.2zM461.6 299.7h2.2v5.5h-2.2zM464.6 299.7h1.2v5.5h-1.2zM500.6 299.7h1.2v5.5h-1.2zM509.6 299.7h1.2v5.5h-1.2zM519.6 299.7h1.2v5.5h-1.2zM539.6 299.7h1.2v5.5h-1.2zM547.6 299.7h1.2v5.5h-1.2zM549.6 299.7h2.2v5.5h-2.2zM553.6 299.7h1.2v5.5h-1.2zM555.6 299.7h1.2v5.5h-1.2zM418.6 304.9h1.2v5.5h-1.2zM422.6 304.9h1.2v5.5h-1.2zM424.6 304.9h1.2v5.5h-1.2zM429.6 304.9h2.2v5.5h-2.2zM438.6 304.9h1.2v5.5h-1.2zM445.6 304.9h1.2v5.5h-1.2zM456.6 304.9h1.2v5.5h-1.2zM462.6 304.9h1.2v5.5h-1.2z"/>
<path fill="#65c298" d="M464.6 246.7h1.2v5.6h-1.2zM466.6 246.7h1.2v5.6h-1.2zM497.6 246.7h1.2v5.6h-1.2zM468.6 252h2.2v5.6h-2.2zM473.6 252h2.2v5.6h-2.2zM481.6 252h1.2v5.6h-1.2zM490.6 252h1.2v5.6h-1.2zM494.6 252h2.2v5.6h-2.2zM497.6 252h2.2v5.6h-2.2zM500.6 252h1.2v5.6h-1.2zM503.6 252h1.2v5.6h-1.2zM508.6 252h1.2v5.6h-1.2zM510.6 252h2.2v5.6h-2.2zM456.6 257.3h1.2v5.6h-1.2zM460.6 257.3h1.2v5.6h-1.2zM474.6 257.3h1.2v5.6h-1.2zM482.6 257.3h1.2v5.6h-1.2zM486.6 257.3h1.2v5.6h-1.2zM491.6 257.3h1.2v5.6h-1.2zM499.6 257.3h1.2v5.6h-1.2zM504.6 257.3h2.2v5.6h-2.2zM412.6 262.6h1.2v5.6h-1.2zM459.6 262.6h1.2v5.6h-1.2zM471.6 262.6h3.2v5.6h-3.2zM475.6 262.6h1.2v5.6h-1.2zM477.6 262.6h1.2v5.6h-1.2zM483.6 262.6h1.2v5.6h-1.2zM486.6 262.6h1.2v5.6h-1.2zM489.6 262.6h1.2v5.6h-1.2zM493.6 262.6h1.2v5.6h-1.2zM498.6 262.6h1.2v5.6h-1.2zM501.6 262.6h2.2v5.6h-2.2zM511.6 262.6h1.2v5.6h-1.2zM528.6 262.6h1.2v5.6h-1.2zM538.6 262.6h1.2v5.6h-1.2zM540.6 262.6h1.2v5.6h-1.2zM545.6 262.6h1.2v5.6h-1.2zM547.6 262.6h1.2v5.6h-1.2zM468.6 268h1.2v5.6h-1.2zM474.6 268h1.2v5.6h-1.2zM488.6 268h1.2v5.6h-1.2zM493.6 268h1.2v5.6h-1.2zM500.6 268h1.2v5.6h-1.2zM502.6 268h1.2v5.6h-1.2zM516.6 268h1.2v5.6h-1.2zM519.6 268h1.2v5.6h-1.2zM524.6 268h1.2v5.6h-1.2zM455.6 273.3h2.2v5.6h-2.2zM460.6 273.3h1.2v5.6h-1.2zM463.6 273.3h1.2v5.6h-1.2zM467.6 273.3h2.2v5.6h-2.2zM474.6 273.3h1.2v5.6h-1.2zM488.6 273.3h1.2v5.6h-1.2zM490.6 273.3h2.2v5.6h-2.2zM498.6 273.3h1.2v5.6h-1.2zM500.6 273.3h1.2v5.6h-1.2zM505.6 273.3h1.2v5.6h-1.2zM508.6 273.3h1.2v5.6h-1.2zM512.6 273.3h1.2v5.6h-1.2zM514.6 273.3h2.2v5.6h-2.2zM518.6 273.3h1.2v5.6h-1.2zM470.6 278.6h1.2v5.5h-1.2zM482.6 278.6h1.2v5.5h-1.2zM513.6 278.6h1.2v5.5h-1.2zM535.6 278.6h1.2v5.5h-1.2zM555.6 278.6h1.2v5.5h-1.2zM472.6 283.9h1.2v5.5h-1.2zM480.6 283.9h1.2v5.5h-1.2zM483.6 283.9h1.2v5.5h-1.2zM487.6 283.9h1.2v5.5h-1.2zM492.6 283.9h1.2v5.5h-1.2zM494.6 283.9h1.2v5.5h-1.2zM519.6 283.9h1.2v5.5h-1.2zM475.6 289.1h1.2v5.5h-1.2zM478.6 289.1h1.2v5.5h-1.2zM492.6 289.1h1.2v5.5h-1.2zM495.6 289.1h1.2v5.5h-1.2zM497.6 289.1h1.2v5.5h-1.2zM493.6 294.4h1.2v5.5h-1.2zM498.6 294.4h1.2v5.5h-1.2zM500.6 294.4h1.2v5.5h-1.2zM515.6 294.4h1.2v5.5h-1.2zM518.6 294.4h1.2v5.5h-1.2zM522.6 294.4h1.2v5.5h-1.2zM528.6 294.4h1.2v5.5h-1.2zM469.6 299.7h1.2v5.5h-1.2zM475.6 299.7h1.2v5.5h-1.2zM487.6 299.7h1.2v5.5h-1.2zM467.6 304.9h2.2v5.5h-2.2zM491.6 304.9h1.2v5.5h-1.2zM499.6 304.9h1.2v5.5h-1.2zM539.6 304.9h1.2v5.5h-1.2zM541.6 304.9h1.2v5.5h-1.2zM544.6 304.9h1.2v5.5h-1.2zM548.6 304.9h1.2v5.5h-1.2z"/>
<path fill="#76c48a" d="M496.6 246.7h1.2v5.6h-1.2zM438.6 252h1.2v5.6h-1.2zM467.6 252h1.2v5.6h-1.2zM471.6 252h1.2v5.6h-1.2zM486.6 252h1.2v5.6h-1.2zM505.6 252h1.2v5.6h-1.2zM509.6 252h1.2v5.6h-1.2zM512.6 252h1.2v5.6h-1.2zM431.6 257.3h1.2v5.6h-1.2zM473.6 257.3h1.2v5.6h-1.2zM484.6 257.3h1.2v5.6h-1.2zM492.6 257.3h1.2v5.6h-1.2zM494.6 257.3h1.2v5.6h-1.2zM510.6 257.3h1.2v5.6h-1.2zM465.6 262.6h1.2v5.6h-1.2zM479.6 262.6h1.2v5.6h-1.2zM482.6 262.6h1.2v5.6h-1.2zM484.6 262.6h2.2v5.6h-2.2zM499.6 262.6h2.2v5.6h-2.2zM512.6 262.6h1.2v5.6h-1.2zM514.6 262.6h1.2v5.6h-1.2zM516.6 262.6h1.2v5.6h-1.2zM476.6 268h2.2v5.6h-2.2zM484.6 268h1.2v5.6h-1.2zM489.6 268h1.2v5.6h-1.2zM494.6 268h1.2v5.6h-1.2zM506.6 268h1.2v5.6h-1.2zM525.6 268h1.2v5.6h-1.2zM527.6 268h1.2v5.6h-1.2zM531.6 268h1.2v5.6h-1.2zM453.6 273.3h1.2v5.6h-1.2zM462.6 273.3h1.2v5.6h-1.2zM470.6 273.3h2.2v5.6h-2.2zM476.6 273.3h1.2v5.6h-1.2zM501.6 273.3h2.2v5.6h-2.2zM538.6 273.3h1.2v5.6h-1.2zM485.6 278.6h1.2v5.5h-1.2zM514.6 278.6h1.2v5.5h-1.2zM471.6 283.9h1.2v5.5h-1.2zM474.6 283.9h1.2v5.5h-1.2zM478.6 283.9h1.2v5.5h-1.2zM485.6 283.9h1.2v5.5h-1.2zM490.6 283.9h1.2v5.5h-1.2zM493.6 283.9h1.2v5.5h-1.2zM502.6 283.9h2.2v5.5h-2.2zM524.6 283.9h1.2v5.5h-1.2zM472.6 289.1h1.2v5.5h-1.2zM474.6 289.1h1.2v5.5h-1.2zM487.6 289.1h2.2v5.5h-2.2zM490.6 289.1h1.2v5.5h-1.2zM499.6 289.1h3.2v5.5h-3.2zM555.6 289.1h1.2v5.5h-1.2zM470.6 294.4h3.2v5.5h-3.2zM491.6 294.4h1.2v5.5h-1.2zM494.6 294.4h1.2v5.5h-1.2zM496.6 294.4h1.2v5.5h-1.2zM554.6 294.4h1.2v5.5h-1.2zM484.6 299.7h1.2v5.5h-1.2zM466.6 304.9h1.2v5.5h-1.2zM494.6 304.9h1.2v5.5h-1.2zM497.6 304.9h1.2v5.5h-1.2zM500.6 304.9h1.2v5.5h-1.2zM524.6 304.9h1.2v5.5h-1.2z"/>
<path fill="#1d8edf" d="M443.6 252h1.2v5.6h-1.2zM544.6 252h1.2v5.6h-1.2zM524.6 257.3h1.2v5.6h-1.2zM548.6 257.3h1.2v5.6h-1.2zM441.6 262.6h1.2v5.6h-1.2zM449.6 268h1.2v5.6h-1.2zM412.6 278.6h1.2v5.5h-1.2zM416.6 278.6h3.2v5.5h-3.2zM423.6 278.6h1.2v5.5h-1.2zM445.6 278.6h1.2v5.5h-1.2zM448.6 278.6h1.2v5.5h-1.2zM459.6 278.6h2.2v5.5h-2.2zM411.6 283.9h1.2v5.5h-1.2zM430.6 283.9h1.2v5.5h-1.2zM434.6 283.9h1.2v5.5h-1.2zM443.6 283.9h1.2v5.5h-1.2zM445.6 283.9h1.2v5.5h-1.2zM456.6 283.9h1.2v5.5h-1.2zM459.6 283.9h1.2v5.5h-1.2zM530.6 283.9h1.2v5.5h-1.2zM422.6 289.1h1.2v5.5h-1.2zM425.6 289.1h2.2v5.5h-2.2zM435.6 289.1h1.2v5.5h-1.2zM440.6 289.1h1.2v5.5h-1.2zM451.6 289.1h1.2v5.5h-1.2zM462.6 289.1h1.2v5.5h-1.2zM423.6 294.4h2.2v5.5h-2.2zM428.6 294.4h2.2v5.5h-2.2zM437.6 294.4h1.2v5.5h-1.2zM441.6 294.4h1.2v5.5h-1.2zM460.6 294.4h1.2v5.5h-1.2zM463.6 294.4h1.2v5.5h-1.2zM465.6 294.4h1.2v5.5h-1.2zM411.6 299.7h1.2v5.5h-1.2zM413.6 299.7h1.2v5.5h-1.2zM418.6 299.7h1.2v5.5h-1.2zM422.6 299.7h1.2v5.5h-1.2zM425.6 299.7h2.2v5.5h-2.2zM434.6 299.7h2.2v5.5h-2.2zM437.6 299.7h2.2v5.5h-2.2zM447.6 299.7h3.2v5.5h-3.2zM451.6 299.7h1.2v5.5h-1.2zM458.6 299.7h1.2v5.5h-1.2zM548.6 299.7h1.2v5.5h-1.2zM414.6 304.9h1.2v5.5h-1.2zM428.6 304.9h1.2v5.5h-1.2z"/>
<path fill="#9ac86d" d="M472.6 252h1.2v5.6h-1.2zM477.6 252h1.2v5.6h-1.2zM492.6 252h1.2v5.6h-1.2zM504.6 252h1.2v5.6h-1.2zM465.6 257.3h1.2v5.6h-1.2zM481.6 257.3h1.2v5.6h-1.2zM496.6 257.3h1.2v5.6h-1.2zM503.6 257.3h1.2v5.6h-1.2zM481.6 262.6h1.2v5.6h-1.2zM494.6 262.6h2.2v5.6h-2.2zM508.6 262.6h2.2v5.6h-2.2zM475.6 268h1.2v5.6h-1.2zM513.6 268h1.2v5.6h-1.2zM544.6 268h1.2v5.6h-1.2zM472.6 273.3h1.2v5.6h-1.2zM485.6 273.3h1.2v5.6h-1.2zM503.6 273.3h2.2v5.6h-2.2zM496.6 283.9h1.2v5.5h-1.2zM484.6 289.1h1.2v5.5h-1.2zM473.6 294.4h1.2v5.5h-1.2zM474.6 299.7h1.2v5.5h-1.2zM477.6 299.7h1.2v5.5h-1.2zM486.6 299.7h1.2v5.5h-1.2zM470.6 304.9h1.2v5.5h-1.2zM495.6 304.9h2.2v5.5h-2.2zM498.6 304.9h1.2v5.5h-1.2z"/>
<path fill="#e3cb3a" d="M488.6 252h1.2v5.6h-1.2zM480.6 289.1h1.2v5.5h-1.2zM488.6 294.4h1.2v5.5h-1.2zM472.6 304.9h1.2v5.5h-1.2zM478.6 304.9h1.2v5.5h-1.2zM480.6 304.9h1.2v5.5h-1.2zM486.6 304.9h1.2v5.5h-1.2z"/>
<path fill="#adc960" d="M491.6 252h1.2v5.6h-1.2zM488.6 257.3h1.2v5.6h-1.2zM490.6 257.3h1.2v5.6h-1.2zM500.6 257.3h1.2v5.6h-1.2zM467.6 262.6h1.2v5.6h-1.2zM491.6 262.6h1.2v5.6h-1.2zM496.6 262.6h1.2v5.6h-1.2zM507.6 262.6h1.2v5.6h-1.2zM485.6 268h1.2v5.6h-1.2zM491.6 268h1.2v5.6h-1.2zM486.6 283.9h1.2v5.5h-1.2zM477.6 289.1h1.2v5.5h-1.2zM483.6 289.1h1.2v5.5h-1.2zM489.6 294.4h2.2v5.5h-2.2zM492.6 294.4h1.2v5.5h-1.2zM472.6 299.7h1.2v5.5h-1.2zM480.6 299.7h1.2v5.5h-1.2zM482.6 299.7h1.2v5.5h-1.2zM489.6 304.9h1.2v5.5h-1.2z"/>
<path fill="#1b85e0" d="M525.6 252h1.2v5.6h-1.2zM413.6 278.6h1.2v5.5h-1.2zM422.6 278.6h1.2v5.5h-1.2zM438.6 278.6h1.2v5.5h-1.2zM442.6 278.6h1.2v5.5h-1.2zM444.6 278.6h1.2v5.5h-1.2zM450.6 278.6h1.2v5.5h-1.2zM458.6 278.6h1.2v5.5h-1.2zM415.6 283.9h1.2v5.5h-1.2zM423.6 283.9h1.2v5.5h-1.2zM454.6 283.9h2.2v5.5h-2.2zM458.6 283.9h1.2v5.5h-1.2zM413.6 289.1h1.2v5.5h-1.2zM415.6 289.1h1.2v5.5h-1.2zM420.6 289.1h1.2v5.5h-1.2zM423.6 289.1h2.2v5.5h-2.2zM427.6 289.1h1.2v5.5h-1.2zM430.6 289.1h1.2v5.5h-1.2zM439.6 289.1h1.2v5.5h-1.2zM454.6 289.1h1.2v5.5h-1.2zM458.6 289.1h1.2v5.5h-1.2zM417.6 294.4h2.2v5.5h-2.2zM422.6 294.4h1.2v5.5h-1.2zM425.6 294.4h2.2v5.5h-2.2zM431.6 294.4h1.2v5.5h-1.2zM455.6 294.4h1.2v5.5h-1.2zM459.6 294.4h1.2v5.5h-1.2zM414.6 299.7h1.2v5.5h-1.2zM424.6 299.7h1.2v5.5h-1.2zM431.6 299.7h1.2v5.5h-1.2zM443.6 299.7h1.2v5.5h-1.2zM453.6 299.7h1.2v5.5h-1.2zM455.6 299.7h1.2v5.5h-1.2zM425.6 304.9h1.2v5.5h-1.2zM437.6 304.9h1.2v5.5h-1.2z"/>
<path fill="#c0c953" d="M479.6 257.3h1.2v5.6h-1.2zM498.6 257.3h1.2v5.6h-1.2zM473.6 268h1.2v5.6h-1.2zM486.6 289.1h1.2v5.5h-1.2zM489.6 289.1h1.2v5.5h-1.2zM474.6 294.4h3.2v5.5h-3.2zM478.6 294.4h1.2v5.5h-1.2zM483.6 294.4h1.2v5.5h-1.2zM487.6 294.4h1.2v5.5h-1.2zM471.6 299.7h1.2v5.5h-1.2zM471.6 304.9h1.2v5.5h-1.2zM479.6 304.9h1.2v5.5h-1.2zM485.6 304.9h1.2v5.5h-1.2zM493.6 304.9h1.2v5.5h-1.2z"/>
<path fill="#d3ca46" d="M492.6 262.6h1.2v5.6h-1.2zM504.6 262.6h1.2v5.6h-1.2zM484.6 273.3h1.2v5.6h-1.2zM476.6 283.9h2.2v5.5h-2.2zM489.6 283.9h1.2v5.5h-1.2zM477.6 294.4h1.2v5.5h-1.2zM479.6 294.4h1.2v5.5h-1.2zM481.6 294.4h2.2v5.5h-2.2zM483.6 299.7h1.2v5.5h-1.2zM487.6 304.9h1.2v5.5h-1.2z"/>
<path fill="#176edf" d="M411.6 278.6h1.2v5.5h-1.2zM424.6 278.6h1.2v5.5h-1.2zM429.6 278.6h2.2v5.5h-2.2zM434.6 278.6h3.2v5.5h-3.2zM440.6 278.6h1.2v5.5h-1.2zM436.6 283.9h1.2v5.5h-1.2zM442.6 283.9h1.2v5.5h-1.2zM452.6 283.9h1.2v5.5h-1.2zM412.6 289.1h1.2v5.5h-1.2zM413.6 294.4h1.2v5.5h-1.2zM430.6 294.4h1.2v5.5h-1.2zM443.6 294.4h1.2v5.5h-1.2zM449.6 294.4h1.2v5.5h-1.2zM457.6 299.7h1.2v5.5h-1.2zM443.6 304.9h1.2v5.5h-1.2z"/>
<path fill="#1766dd" d="M419.6 278.6h1.2v5.5h-1.2zM433.6 278.6h1.2v5.5h-1.2zM449.6 278.6h1.2v5.5h-1.2zM435.6 283.9h1.2v5.5h-1.2zM440.6 283.9h1.2v5.5h-1.2zM417.6 299.7h1.2v5.5h-1.2zM426.6 304.9h1.2v5.5h-1.2z"/>
<path fill="#1875e0" d="M421.6 278.6h1.2v5.5h-1.2zM425.6 278.6h1.2v5.5h-1.2zM428.6 278.6h1.2v5.5h-1.2zM432.6 278.6h1.2v5.5h-1.2zM437.6 278.6h1.2v5.5h-1.2zM453.6 278.6h2.2v5.5h-2.2zM457.6 278.6h1.2v5.5h-1.2zM438.6 283.9h1.2v5.5h-1.2zM448.6 283.9h1.2v5.5h-1.2zM450.6 283.9h1.2v5.5h-1.2zM419.6 289.1h1.2v5.5h-1.2zM416.6 294.4h1.2v5.5h-1.2zM421.6 294.4h1.2v5.5h-1.2zM438.6 294.4h1.2v5.5h-1.2zM447.6 294.4h2.2v5.5h-2.2zM450.6 294.4h1.2v5.5h-1.2zM442.6 304.9h1.2v5.5h-1.2zM447.6 304.9h1.2v5.5h-1.2z"/>
<path fill="#165edc" d="M426.6 278.6h1.2v5.5h-1.2z"/>
<path fill="#187de2" d="M427.6 278.6h1.2v5.5h-1.2zM439.6 278.6h1.2v5.5h-1.2zM441.6 278.6h1.2v5.5h-1.2zM443.6 278.6h1.2v5.5h-1.2zM452.6 278.6h1.2v5.5h-1.2zM455.6 278.6h2.2v5.5h-2.2zM462.6 278.6h1.2v5.5h-1.2zM417.6 283.9h1.2v5.5h-1.2zM424.6 283.9h1.2v5.5h-1.2zM428.6 283.9h1.2v5.5h-1.2zM431.6 283.9h1.2v5.5h-1.2zM433.6 283.9h1.2v5.5h-1.2zM437.6 283.9h1.2v5.5h-1.2zM441.6 283.9h1.2v5.5h-1.2zM449.6 283.9h1.2v5.5h-1.2zM414.6 289.1h1.2v5.5h-1.2zM417.6 289.1h1.2v5.5h-1.2zM428.6 289.1h1.2v5.5h-1.2zM438.6 289.1h1.2v5.5h-1.2zM453.6 289.1h1.2v5.5h-1.2zM411.6 294.4h1.2v5.5h-1.2zM419.6 294.4h1.2v5.5h-1.2zM442.6 294.4h1.2v5.5h-1.2zM444.6 294.4h2.2v5.5h-2.2zM415.6 299.7h1.2v5.5h-1.2zM441.6 299.7h1.2v5.5h-1.2zM460.6 299.7h1.2v5.5h-1.2z"/>
<path fill="#184fd3" d="M431.6 278.6h1.2v5.5h-1.2z"/>
<path fill="#fce619" d="M480.6 294.4h1.2v5.5h-1.2z"/>
<path fill="#f7df22" d="M484.6 294.4h1.2v5.5h-1.2z"/>
<path fill="#fce41b" d="M485.6 294.4h1.2v5.5h-1.2zM476.6 304.9h2.2v5.5h-2.2zM484.6 304.9h1.2v5.5h-1.2z"/>
<path fill="#f0d82a" d="M486.6 294.4h1.2v5.5h-1.2zM474.6 304.9h1.2v5.5h-1.2zM481.6 304.9h2.2v5.5h-2.2z"/>
<path fill="#1657da" d="M420.6 299.7h1.2v5.5h-1.2z"/>
<path fill="#ead232" d="M478.6 299.7h1.2v5.5h-1.2zM473.6 304.9h1.2v5.5h-1.2zM475.6 304.9h1.2v5.5h-1.2zM483.6 304.9h1.2v5.5h-1.2zM488.6 304.9h1.2v5.5h-1.2z"/>
</g>
<line x1="411.6" y1="278.6" x2="556.6" y2="278.6" stroke="#fff" stroke-width="1"/>
<rect x="557.8" y="246.7" width="2.2" height="63.5" fill="url(#cbar)"/>
<text x="561.1" y="244" font-size="7.6">%</text>
<text x="562.1" y="252.1" font-size="7">7</text>
<text x="562.1" y="280.7" font-size="7">0</text>
<text x="561.1" y="310.9" font-size="7">-4</text>
<text x="484.8" y="241.2" font-size="8.6" text-anchor="middle" fill="#8420c0">cLHA DBS</text>
<line x1="460.4" y1="245.4" x2="508.4" y2="245.4" stroke="#8420c0" stroke-width="2"/>
<text x="398.1" y="276.1" font-size="7.6" text-anchor="middle" transform="rotate(-90 398.1 276.1)">GCaMP6s</text>
<text x="406.9" y="260.3" font-size="7.6" text-anchor="middle" transform="rotate(-90 406.9 260.3)" fill="#2f7d3f">MSDB</text>
<text x="406.9" y="293.9" font-size="7.6" text-anchor="middle" transform="rotate(-90 406.9 293.9)" fill="#b5282d">PnO</text>
<path d="M412.8 376.9 413.2 372.8 413.6 373.1 413.9 371.5 414.3 374 414.7 374 415.1 376.5 415.5 372 415.8 373.3 416.2 373.9 416.6 377.1 417 378.3 417.4 372.3 417.7 378.1 418.1 372.9 418.5 377.2 418.9 373.8 419.3 378 419.6 372.4 420 377 420.4 375.6 420.8 373.5 421.2 375.8 421.5 379.6 421.9 377.5 422.3 376.7 422.7 374.7 423.1 376.5 423.4 376.8 423.8 381.2 424.2 374.5 424.6 374 425 373.6 425.3 376.6 425.7 379.5 426.1 378.7 426.5 380.8 426.9 371.7 427.2 376.4 427.6 376.5 428 373.6 428.4 375.5 428.8 375.7 429.1 375.4 429.5 375.9 429.9 373.9 430.3 372.3 430.7 372.5 431 375.1 431.4 377.3 431.8 377.3 432.2 372.9 432.6 376.6 432.9 376 433.3 370.3 433.7 371.7 434.1 375.5 434.5 373.8 434.8 372.8 435.2 373 435.6 373.8 436 368.1 436.4 375.8 436.7 372 437.1 375 437.5 372.5 437.9 373 438.3 377.2 438.6 373.4 439 380 439.4 372.3 439.8 371.8 440.2 368.7 440.5 372.7 440.9 372.4 441.3 368.2 441.7 365.8 442.1 374.9 442.4 375.4 442.8 372.9 443.2 375.8 443.6 375.5 444 372.9 444.3 376.6 444.7 376 445.1 377.2 445.5 371.3 445.9 373.8 446.2 372.1 446.6 380.2 447 377 447.4 376.7 447.8 378.2 448.1 380.1 448.5 382.4 448.9 380.9 449.3 377.9 449.7 379.7 450 377.5 450.4 376.7 450.8 371.7 451.2 369.5 451.6 368.3 451.9 371.4 452.3 370.1 452.7 374.7 453.1 371.9 453.5 369.7 453.8 369.6 454.2 372.5 454.6 375.8 455 370.8 455.4 373.2 455.7 363.8 456.1 371.7 456.5 368.3 456.9 369.6 457.3 367.9 457.6 373.4 458 370.7 458.4 367.6 458.8 370.4 459.2 366.2 459.5 370 459.9 373.5 460.3 365 460.7 366.8 461.1 367.3 461.4 365.9 461.8 367.1 462.2 368.5 462.6 362.8 463 361.2 463.3 364.3 463.7 358.1 464.1 355.2 464.5 349.7 464.9 347.3 465.2 357 465.6 351.5 466 348.1 466.4 350.7 466.8 345.3 467.1 351.5 467.5 346.2 467.9 339.6 468.3 343.3 468.7 340.5 469 336 469.4 334.6 469.8 333.8 470.2 330.9 470.6 331.2 470.9 329 471.3 324.2 471.7 326.1 472.1 322.6 472.5 321.1 472.8 326.4 473.2 326.4 473.6 323.4 474 324.7 474.4 317.2 474.7 316.8 475.1 319.1 475.5 320.7 475.9 314.1 476.3 314.4 476.6 315.2 477 311.4 477.4 315.7 477.8 320.3 478.2 317.9 478.5 318.2 478.9 327.6 479.3 321.5 479.7 318.8 480.1 319.4 480.4 322.4 480.8 323.3 481.2 326.9 481.6 319.8 482 321.2 482.3 312.5 482.7 312.5 483.1 316.8 483.5 318.4 483.9 318.4 484.2 319.8 484.6 320.8 485 316.4 485.4 318.8 485.7 318.9 486.1 320.2 486.5 312.8 486.9 312.7 487.3 321.4 487.6 323.6 488 320.6 488.4 317.7 488.8 319.8 489.2 319.7 489.5 321.8 489.9 320.7 490.3 322.2 490.7 318.1 491.1 319.9 491.4 327 491.8 320.6 492.2 322.4 492.6 329.8 493 329.1 493.3 325.8 493.7 322.2 494.1 326.1 494.5 330.2 494.9 331.5 495.2 330.6 495.6 329.2 496 331.7 496.4 331.3 496.8 334.3 497.1 326.8 497.5 329.6 497.9 329 498.3 330.7 498.7 332.5 499 340.5 499.4 336.2 499.8 340 500.2 338 500.6 338.9 500.9 336.2 501.3 340.7 501.7 336.3 502.1 339 502.5 341.9 502.8 344.5 503.2 347.8 503.6 342.5 504 346.2 504.4 348 504.7 346.3 505.1 342.9 505.5 343.5 505.9 338.7 506.3 343 506.6 344.3 507 344 507.4 347.6 507.8 348.4 508.2 342.7 508.5 343.3 508.9 343.8 509.3 348.7 509.7 354.1 510.1 348.8 510.4 351.4 510.8 351.8 511.2 350.9 511.6 351.9 512 350.4 512.3 355.4 512.7 350.6 513.1 350.7 513.5 349.8 513.9 353.7 514.2 351.8 514.6 352.5 515 353.2 515.4 354.5 515.8 349.7 516.1 355 516.5 353.8 516.9 349.4 517.3 343.4 517.7 355 518 350.7 518.4 352.5 518.8 357.5 519.2 353.2 519.6 352.9 519.9 354.6 520.3 357.7 520.7 355.2 521.1 363.7 521.5 349.7 521.8 359.5 522.2 354.3 522.6 362 523 359.3 523.4 363.8 523.7 357.6 524.1 356.5 524.5 357.4 524.9 354.6 525.3 358.7 525.6 361.7 526 364.8 526.4 359.8 526.8 359.2 527.2 359.7 527.5 363.8 527.9 360.3 528.3 358.6 528.7 362.2 529.1 363.8 529.4 366 529.8 362.4 530.2 357.1 530.6 360.1 531 356.6 531.3 366.6 531.7 365.7 532.1 366.6 532.5 363.5 532.9 363.8 533.2 369 533.6 366.4 534 366.4 534.4 366.2 534.8 368.5 535.1 366.7 535.5 369.1 535.9 359.4 536.3 362.2 536.7 367.9 537 364.1 537.4 363 537.8 357.7 538.2 358.8 538.6 365 538.9 363.5 539.3 364 539.7 368.6 540.1 369.5 540.5 373.7 540.8 370.2 541.2 364.1 541.6 368 542 371 542.4 366.6 542.7 368.6 543.1 364.7 543.5 371.4 543.9 365.2 544.3 367.4 544.6 366.5 545 367.2 545.4 367.1 545.8 364.7 546.2 371 546.5 367.9 546.9 366.7 547.3 366.5 547.7 376 548.1 371 548.4 376.3 548.8 369.5 549.2 371.1 549.6 373.2 550 371.5 550.3 363.9 550.7 365 551.1 370.5 551.5 375.3 551.9 370.5 552.2 371.5 552.6 365.7 553 366.7 553.4 369 553.8 370.7 554.1 373.8 554.5 372.4 554.9 373.8 555.3 371.6 555.7 366.9 556 368.5 556.4 366.2 556.8 368 556.8 378.5 556.4 377.4 556 380.9 555.7 379.2 555.3 384.1 554.9 385.7 554.5 383.4 554.1 383.9 553.8 382 553.4 380.7 553 379.3 552.6 377 552.2 382.4 551.9 379.9 551.5 384.1 551.1 378.2 550.7 373 550.3 373.4 550 380.7 549.6 382.3 549.2 381.1 548.8 379.5 548.4 385.1 548.1 380.8 547.7 385.6 547.3 375.7 546.9 376.3 546.5 377.9 546.2 380.6 545.8 376.1 545.4 377.1 545 378 544.6 376.4 544.3 377.8 543.9 373.5 543.5 383.6 543.1 377.9 542.7 383.3 542.4 380.9 542 384.6 541.6 378.3 541.2 374.2 540.8 379 540.5 382.6 540.1 379.4 539.7 380.3 539.3 374.7 538.9 374.1 538.6 373.9 538.2 366.9 537.8 365.3 537.4 369.5 537 371.8 536.7 375.7 536.3 370.6 535.9 367.4 535.5 377.3 535.1 375.1 534.8 375.7 534.4 371.7 534 372.1 533.6 374.4 533.2 376 532.9 372 532.5 373.4 532.1 376.8 531.7 375.1 531.3 376.2 531 365.9 530.6 370.9 530.2 368.6 529.8 373.9 529.4 377.3 529.1 375.6 528.7 373.9 528.3 369.1 527.9 370.7 527.5 374 527.2 369.6 526.8 368.3 526.4 367.1 526 370.5 525.6 368.9 525.3 368.1 524.9 364 524.5 368.4 524.1 368.3 523.7 369.8 523.4 375.3 523 371.7 522.6 375.6 522.2 368.7 521.8 373 521.5 361.6 521.1 375 520.7 365.2 520.3 367.8 519.9 365.2 519.6 366.3 519.2 365.7 518.8 370.6 518.4 366.2 518 363.8 517.7 366.5 517.3 356.5 516.9 362 516.5 364.2 516.1 363.9 515.8 359.3 515.4 362.6 515 362.1 514.6 363 514.2 362.7 513.9 364.5 513.5 361 513.1 361.9 512.7 360.7 512.3 368.4 512 362.7 511.6 363.9 511.2 362.6 510.8 365.2 510.4 362.5 510.1 361.7 509.7 366.5 509.3 360.6 508.9 354.8 508.5 355.8 508.2 353.6 507.8 358.5 507.4 359 507 354.2 506.6 354.2 506.3 353.7 505.9 349.7 505.5 354.2 505.1 355 504.7 356.9 504.4 356.8 504 356.3 503.6 351.6 503.2 355.1 502.8 353 502.5 352 502.1 349.2 501.7 346.9 501.3 353.5 500.9 349.3 500.6 350.9 500.2 350.6 499.8 352.2 499.4 347.4 499 352.8 498.7 346 498.3 342 497.9 341.2 497.5 342.9 497.1 339.3 496.8 345.6 496.4 345.2 496 346.5 495.6 343 495.2 345.7 494.9 348 494.5 343.9 494.1 340.6 493.7 339 493.3 341.7 493 344.3 492.6 347.2 492.2 338.9 491.8 336.4 491.4 343.5 491.1 336.5 490.7 333.7 490.3 337.6 489.9 335 489.5 336.6 489.2 335.1 488.8 336 488.4 333.5 488 335.7 487.6 338 487.3 335.7 486.9 326.4 486.5 328.1 486.1 336.2 485.7 335.3 485.4 335.5 485 332.4 484.6 336.9 484.2 336.9 483.9 334.5 483.5 333.7 483.1 333.6 482.7 328.2 482.3 328.8 482 337.9 481.6 336.6 481.2 342.8 480.8 337.5 480.4 334.2 480.1 330.6 479.7 330.2 479.3 332.2 478.9 340 478.5 331.3 478.2 332.9 477.8 335.3 477.4 331.3 477 328 476.6 331.6 476.3 328.4 475.9 329 475.5 336 475.1 332.7 474.7 331.6 474.4 333.3 474 340.7 473.6 339.4 473.2 342.3 472.8 341.7 472.5 336.1 472.1 336.1 471.7 340.4 471.3 340 470.9 344.5 470.6 346.9 470.2 347 469.8 348.4 469.4 348.5 469 348.9 468.7 352.5 468.3 356 467.9 352.5 467.5 358.1 467.1 362.7 466.8 358 466.4 362.8 466 359.6 465.6 363 465.2 368.1 464.9 355.8 464.5 356.8 464.1 363.6 463.7 365.6 463.3 373.2 463 371.6 462.6 372.8 462.2 377.3 461.8 379.2 461.4 377.2 461.1 376.9 460.7 376.7 460.3 375.2 459.9 380.1 459.5 377.9 459.2 374.5 458.8 380.3 458.4 375.9 458 380.3 457.6 382 457.3 378.7 456.9 380.2 456.5 381.1 456.1 384.5 455.7 377.4 455.4 384.7 455 381.5 454.6 386.8 454.2 384.1 453.8 381.1 453.5 380.1 453.1 381.5 452.7 383.4 452.3 377.3 451.9 379.9 451.6 377.2 451.2 378 450.8 379.1 450.4 384.1 450 383.1 449.7 384.2 449.3 382.6 448.9 386.5 448.5 388.5 448.1 385.5 447.8 385.4 447.4 383.6 447 383 446.6 383.9 446.2 375.7 445.9 377.4 445.5 377 445.1 382.9 444.7 384 444.3 386.5 444 382.5 443.6 383.9 443.2 384.6 442.8 381.8 442.4 383 442.1 382.4 441.7 373.8 441.3 376.4 440.9 380.9 440.5 382.2 440.2 379.6 439.8 381.9 439.4 382.5 439 388.3 438.6 380 438.3 384 437.9 379.2 437.5 377.8 437.1 382.9 436.7 381.4 436.4 384.5 436 378.5 435.6 386.8 435.2 386.3 434.8 385.5 434.5 385.7 434.1 387.2 433.7 381.1 433.3 377.5 432.9 382.9 432.6 382.2 432.2 378 431.8 384.3 431.4 385.4 431 383.9 430.7 382.8 430.3 382.6 429.9 383.2 429.5 384.7 429.1 383.5 428.8 383.6 428.4 384 428 381.9 427.6 384.6 427.2 384.7 426.9 380.7 426.5 387.8 426.1 387.2 425.7 388.3 425.3 384.7 425 381.7 424.6 383.4 424.2 383.3 423.8 388.4 423.4 385.6 423.1 385.5 422.7 384.2 422.3 385.3 421.9 387.8 421.5 390.5 421.2 387 420.8 385.5 420.4 386.6 420 387.1 419.6 380.9 419.3 386 418.9 380.1 418.5 385.4 418.1 381.2 417.7 386.1 417.4 381.7 417 387.4 416.6 384.7 416.2 383.6 415.8 382.8 415.5 378.9 415.1 384 414.7 382.4 414.3 380.8 413.9 380 413.6 380.9 413.2 380.4 412.8 384Z" fill="#c4c4c4" stroke="none" stroke-width="0" fill-opacity="0.85"/>
<path d="M412.8 378.2 413.2 377.1 413.6 377.4 413.9 379.2 414.3 378.6 414.7 378.8 415.1 379.5 415.5 378.7 415.8 380.1 416.2 376.9 416.6 378.2 417 377.3 417.4 379.2 417.7 378.4 418.1 377 418.5 377.4 418.9 378.1 419.3 377.2 419.6 378.4 420 379.4 420.4 377.4 420.8 378.4 421.2 379.3 421.5 378.9 421.9 377.5 422.3 377 422.7 377.5 423.1 379.5 423.4 379.9 423.8 381.2 424.2 380.4 424.6 379.1 425 379.2 425.3 376.7 425.7 378.7 426.1 378.1 426.5 378.8 426.9 378.2 427.2 378.6 427.6 377 428 379 428.4 378.4 428.8 377.6 429.1 376.1 429.5 377.3 429.9 379.9 430.3 379.4 430.7 378.7 431 378.9 431.4 378.9 431.8 379.2 432.2 378.1 432.6 377.8 432.9 378.2 433.3 378.7 433.7 378.3 434.1 378.9 434.5 377.2 434.8 378.3 435.2 377.1 435.6 376.7 436 376.8 436.4 377.7 436.7 379.5 437.1 379.7 437.5 376.6 437.9 377.6 438.3 378.9 438.6 376.8 439 379 439.4 377.5 439.8 376.9 440.2 376.9 440.5 377.5 440.9 378.2 441.3 377 441.7 377 442.1 376.7 442.4 378 442.8 378.6 443.2 377.2 443.6 376.3 444 377 444.3 376.1 444.7 378 445.1 376 445.5 377.1 445.9 376.1 446.2 377.1 446.6 375.4 447 374.9 447.4 376.1 447.8 378 448.1 378.2 448.5 377.4 448.9 376.2 449.3 379 449.7 376.9 450 377.7 450.4 377.6 450.8 377.1 451.2 376.7 451.6 376.2 451.9 377.8 452.3 378 452.7 377.9 453.1 379.5 453.5 377.6 453.8 377.2 454.2 376.7 454.6 377.9 455 379.1 455.4 377.8 455.7 377.9 456.1 379 456.5 378.1 456.9 378.7 457.3 380.3 457.6 379.3 458 380.2 458.4 379.4 458.8 380.2 459.2 378.9 459.5 376.2 459.9 377.5 460.3 377.2 460.7 375.8 461.1 378.4 461.4 376.6 461.8 376.6 462.2 375.8 462.6 375.4 463 374.2 463.3 373.4 463.7 373.5 464.1 373.8 464.5 372.2 464.9 372 465.2 372.1 465.6 369.5 466 369.2 466.4 369.4 466.8 368.1 467.1 366.6 467.5 365.2 467.9 365.7 468.3 365 468.7 364.2 469 366 469.4 363 469.8 363.3 470.2 361 470.6 362.9 470.9 361.9 471.3 361.3 471.7 361.5 472.1 361.1 472.5 362.3 472.8 360.6 473.2 361 473.6 359.8 474 358.2 474.4 357.9 474.7 357.7 475.1 356.6 475.5 356.7 475.9 357.7 476.3 356.2 476.6 356.4 477 357 477.4 357 477.8 355.5 478.2 355.7 478.5 355.2 478.9 354.4 479.3 354.9 479.7 356.5 480.1 357 480.4 354.5 480.8 352.7 481.2 351.6 481.6 352.8 482 352 482.3 351.4 482.7 351.7 483.1 353.1 483.5 353.5 483.9 353.8 484.2 353.5 484.6 351.2 485 351.3 485.4 351.5 485.7 350.9 486.1 351.7 486.5 353 486.9 352.1 487.3 354.3 487.6 353.6 488 353.9 488.4 353.4 488.8 353.2 489.2 354.2 489.5 355.3 489.9 354.9 490.3 353.7 490.7 353.9 491.1 353.6 491.4 354.9 491.8 355.7 492.2 355.6 492.6 356.5 493 356.4 493.3 357.1 493.7 356.4 494.1 355.5 494.5 356.4 494.9 356.9 495.2 357.5 495.6 357.8 496 356.4 496.4 356.7 496.8 359.8 497.1 359.6 497.5 360.7 497.9 360.7 498.3 359.6 498.7 360.5 499 361.2 499.4 362.4 499.8 362.9 500.2 361.2 500.6 362.3 500.9 362.4 501.3 362.8 501.7 364 502.1 363.9 502.5 361.7 502.8 364.1 503.2 363.7 503.6 363.3 504 363.4 504.4 365.4 504.7 365.5 505.1 366.4 505.5 364.4 505.9 366.3 506.3 366.3 506.6 367.3 507 367.7 507.4 367.9 507.8 370.3 508.2 369.2 508.5 368.6 508.9 367.8 509.3 367.2 509.7 367.4 510.1 367.7 510.4 366.7 510.8 366.7 511.2 366.4 511.6 368.1 512 367.2 512.3 367.9 512.7 367.2 513.1 369.2 513.5 367.3 513.9 368.6 514.2 368.3 514.6 368.6 515 369.5 515.4 368.6 515.8 370 516.1 368.8 516.5 371.4 516.9 370.8 517.3 371.6 517.7 372.5 518 370.9 518.4 371.2 518.8 372.2 519.2 371.5 519.6 369.6 519.9 371.3 520.3 370.4 520.7 370.3 521.1 370.9 521.5 370.4 521.8 371.3 522.2 372.4 522.6 373.7 523 372.6 523.4 372.2 523.7 371.4 524.1 370.8 524.5 372 524.9 372.4 525.3 371.9 525.6 371.9 526 372.3 526.4 372.8 526.8 371.6 527.2 372.9 527.5 370.8 527.9 373 528.3 370.5 528.7 373.2 529.1 372.5 529.4 372.4 529.8 373.5 530.2 373.9 530.6 374 531 372.2 531.3 372.8 531.7 373.1 532.1 371.1 532.5 372.3 532.9 371.5 533.2 369.9 533.6 370.1 534 369 534.4 370.6 534.8 370.3 535.1 371.9 535.5 372.7 535.9 372.3 536.3 372.2 536.7 372.5 537 372.6 537.4 373.4 537.8 372.8 538.2 373.4 538.6 373.1 538.9 372.9 539.3 373.3 539.7 373.6 540.1 373.1 540.5 374.2 540.8 371.2 541.2 374.5 541.6 373.9 542 372.4 542.4 372.4 542.7 372.1 543.1 372.4 543.5 372 543.9 372.5 544.3 373.7 544.6 373.9 545 373.3 545.4 370.8 545.8 371.6 546.2 374 546.5 374.4 546.9 374 547.3 374.2 547.7 373.1 548.1 372.9 548.4 373 548.8 372 549.2 373.7 549.6 373.1 550 372.4 550.3 372.1 550.7 372.3 551.1 371.3 551.5 370.6 551.9 373.4 552.2 373 552.6 373.3 553 373.3 553.4 373.1 553.8 373 554.1 372.2 554.5 372 554.9 372.2 555.3 371.7 555.7 371.6 556 371.8 556.4 371.3 556.8 373.7 556.8 378.4 556.4 376.2 556 377 555.7 377.3 555.3 377.5 554.9 377.4 554.5 378 554.1 378.1 553.8 378.6 553.4 377.7 553 378.1 552.6 378.6 552.2 378.8 551.9 379.3 551.5 377.9 551.1 379.3 550.7 379.2 550.3 379.1 550 379 549.6 377.8 549.2 378.1 548.8 376.4 548.4 377.3 548.1 378 547.7 378.2 547.3 378.7 546.9 379.3 546.5 379.4 546.2 378.5 545.8 377.5 545.4 377.1 545 378.7 544.6 379.4 544.3 378.8 543.9 377.1 543.5 376.6 543.1 377.8 542.7 377.7 542.4 377.9 542 378.3 541.6 379.4 541.2 379.9 540.8 377.6 540.5 380.2 540.1 378.6 539.7 378.9 539.3 378.1 538.9 376.5 538.6 376.4 538.2 376.7 537.8 376.3 537.4 377.1 537 376.6 536.7 377.5 536.3 377.4 535.9 378 535.5 378.3 535.1 377.8 534.8 376.3 534.4 376.4 534 373.9 533.6 374.6 533.2 374.5 532.9 375.6 532.5 376.9 532.1 376.2 531.7 378.6 531.3 377.2 531 377.3 530.6 378.9 530.2 378.8 529.8 379.4 529.4 379.3 529.1 379.1 528.7 379.9 528.3 377.3 527.9 378.2 527.5 376.3 527.2 378.4 526.8 376.8 526.4 378.4 526 378.6 525.6 377.3 525.3 377.2 524.9 377.6 524.5 377 524.1 375.5 523.7 375.8 523.4 376.2 523 377.3 522.6 378.8 522.2 377.7 521.8 377.4 521.5 377.4 521.1 378 520.7 377.2 520.3 377.1 519.9 377.7 519.6 376.6 519.2 377.7 518.8 377.2 518.4 376.1 518 376.3 517.7 377.1 517.3 376.7 516.9 376.7 516.5 377.2 516.1 373.5 515.8 375.3 515.4 374.1 515 375.4 514.6 374.5 514.2 374.8 513.9 374.1 513.5 372.1 513.1 373.4 512.7 372.1 512.3 373.2 512 373.1 511.6 374.8 511.2 372.9 510.8 372.7 510.4 372.7 510.1 373.8 509.7 372.9 509.3 372.1 508.9 374.2 508.5 374 508.2 374.6 507.8 375.4 507.4 373.7 507 373 506.6 372.8 506.3 370.3 505.9 370.3 505.5 369 505.1 370.9 504.7 370.5 504.4 371.4 504 370.5 503.6 370.6 503.2 370.6 502.8 371.9 502.5 370.4 502.1 371.2 501.7 371.3 501.3 370 500.9 369.1 500.6 369.2 500.2 367.8 499.8 368.7 499.4 368.4 499 367.9 498.7 365.9 498.3 366.1 497.9 366.8 497.5 367.1 497.1 365.1 496.8 366.1 496.4 364 496 365.3 495.6 365.9 495.2 366.5 494.9 366.1 494.5 365.6 494.1 364 493.7 365.4 493.3 365.1 493 364.4 492.6 363.2 492.2 361.8 491.8 362.9 491.4 362.9 491.1 362.1 490.7 362.6 490.3 362.8 489.9 363 489.5 363.1 489.2 360.9 488.8 360.4 488.4 360.7 488 361.5 487.6 360.8 487.3 360.9 486.9 358.6 486.5 360.2 486.1 358.9 485.7 358.6 485.4 360.1 485 359.4 484.6 358.3 484.2 360.8 483.9 360.6 483.5 361.2 483.1 360.6 482.7 360.2 482.3 360 482 361.1 481.6 362.6 481.2 361.2 480.8 361.8 480.4 363.2 480.1 365.2 479.7 363.1 479.3 362 478.9 361.1 478.5 362.1 478.2 361.8 477.8 361.9 477.4 362.4 477 362.3 476.6 362 476.3 363 475.9 364.4 475.5 364.9 475.1 365 474.7 364.7 474.4 364.2 474 364.5 473.6 364.5 473.2 365.9 472.8 366.4 472.5 368 472.1 366.3 471.7 367.5 471.3 367.2 470.9 367.4 470.6 367.6 470.2 367.3 469.8 369.6 469.4 369.9 469 373.6 468.7 372.8 468.3 373.3 467.9 374 467.5 372.9 467.1 374.7 466.8 375.8 466.4 376.2 466 375.9 465.6 376.1 465.2 377.5 464.9 377.4 464.5 377.9 464.1 379.5 463.7 377.9 463.3 378.1 463 378.7 462.6 379.4 462.2 379.4 461.8 380.8 461.4 381.1 461.1 383.3 460.7 381.2 460.3 382.3 459.9 383.3 459.5 382 459.2 384.9 458.8 385.3 458.4 384.7 458 384.7 457.6 383.4 457.3 383.8 456.9 382.5 456.5 382 456.1 383.3 455.7 382.7 455.4 382.9 455 384.6 454.6 383.2 454.2 382.3 453.8 382.7 453.5 382.9 453.1 384.5 452.7 383.1 452.3 382.2 451.9 382.5 451.6 381 451.2 382.4 450.8 382.5 450.4 383.2 450 382.2 449.7 381.4 449.3 382.1 448.9 380.3 448.5 382 448.1 382.3 447.8 382.6 447.4 381.5 447 379.9 446.6 380 446.2 382.6 445.9 381.7 445.5 382.8 445.1 381.1 444.7 383.7 444.3 382.8 444 382.9 443.6 381.5 443.2 382.9 442.8 383.2 442.4 381.6 442.1 381 441.7 381.8 441.3 382.1 440.9 383.6 440.5 382.8 440.2 381.9 439.8 381.7 439.4 382.4 439 384.1 438.6 381.5 438.3 383.1 437.9 381.2 437.5 380 437.1 383.3 436.7 383.3 436.4 382 436 381.4 435.6 381.6 435.2 381.9 434.8 382.6 434.5 381.3 434.1 383.3 433.7 382.6 433.3 383.1 432.9 383.5 432.6 382.6 432.2 382.6 431.8 383 431.4 382.2 431 381.6 430.7 382 430.3 382.9 429.9 383 429.5 380.7 429.1 380.5 428.8 382.3 428.4 383.3 428 383.8 427.6 381.4 427.2 382.5 426.9 381.7 426.5 382.6 426.1 382.2 425.7 383 425.3 380.8 425 382.1 424.6 381.3 424.2 382.5 423.8 383.5 423.4 382.8 423.1 383.1 422.7 381.6 422.3 381.1 421.9 381.5 421.5 381.9 421.2 382.4 420.8 381.6 420.4 380.5 420 382.7 419.6 382.6 419.3 382.3 418.9 382.9 418.5 382.1 418.1 381.7 417.7 382.6 417.4 382.7 417 381.2 416.6 382.3 416.2 380.5 415.8 383.7 415.5 382.6 415.1 383.4 414.7 383 414.3 382.4 413.9 383.5 413.6 380.9 413.2 380.8 412.8 381.8Z" fill="#c4c4c4" stroke="none" stroke-width="0" fill-opacity="0.85"/>
<path d="M412.8 380.4 413.2 376.6 413.6 377 413.9 375.7 414.3 377.4 414.7 378.2 415.1 380.2 415.5 375.4 415.8 378 416.2 378.8 416.6 380.9 417 382.8 417.4 377 417.7 382.1 418.1 377.1 418.5 381.3 418.9 376.9 419.3 382 419.6 376.7 420 382.1 420.4 381.1 420.8 379.5 421.2 381.4 421.5 385.1 421.9 382.6 422.3 381 422.7 379.5 423.1 381 423.4 381.2 423.8 384.8 424.2 378.9 424.6 378.7 425 377.7 425.3 380.6 425.7 383.9 426.1 382.9 426.5 384.3 426.9 376.2 427.2 380.5 427.6 380.5 428 377.7 428.4 379.8 428.8 379.6 429.1 379.5 429.5 380.3 429.9 378.6 430.3 377.4 430.7 377.6 431 379.5 431.4 381.4 431.8 380.8 432.2 375.4 432.6 379.4 432.9 379.4 433.3 373.9 433.7 376.4 434.1 381.4 434.5 379.7 434.8 379.1 435.2 379.7 435.6 380.3 436 373.3 436.4 380.1 436.7 376.7 437.1 378.9 437.5 375.1 437.9 376.1 438.3 380.6 438.6 376.7 439 384.1 439.4 377.4 439.8 376.8 440.2 374.2 440.5 377.5 440.9 376.7 441.3 372.3 441.7 369.8 442.1 378.6 442.4 379.2 442.8 377.4 443.2 380.2 443.6 379.7 444 377.7 444.3 381.6 444.7 380 445.1 380.1 445.5 374.1 445.9 375.6 446.2 373.9 446.6 382.1 447 380 447.4 380.2 447.8 381.8 448.1 382.8 448.5 385.4 448.9 383.7 449.3 380.3 449.7 381.9 450 380.3 450.4 380.4 450.8 375.4 451.2 373.7 451.6 372.8 451.9 375.6 452.3 373.7 452.7 379.1 453.1 376.7 453.5 374.9 453.8 375.3 454.2 378.3 454.6 381.3 455 376.1 455.4 379 455.7 370.6 456.1 378.1 456.5 374.7 456.9 374.9 457.3 373.3 457.6 377.7 458 375.5 458.4 371.8 458.8 375.4 459.2 370.3 459.5 374 459.9 376.8 460.3 370.1 460.7 371.8 461.1 372.1 461.4 371.6 461.8 373.2 462.2 372.9 462.6 367.8 463 366.4 463.3 368.7 463.7 361.8 464.1 359.4 464.5 353.3 464.9 351.6 465.2 362.6 465.6 357.2 466 353.9 466.4 356.8 466.8 351.6 467.1 357.1 467.5 352.2 467.9 346.1 468.3 349.7 468.7 346.5 469 342.5 469.4 341.6 469.8 341.1 470.2 339 470.6 339 470.9 336.8 471.3 332.1 471.7 333.2 472.1 329.4 472.5 328.6 472.8 334.1 473.2 334.3 473.6 331.4 474 332.7 474.4 325.3 474.7 324.2 475.1 325.9 475.5 328.4 475.9 321.5 476.3 321.4 476.6 323.4 477 319.7 477.4 323.5 477.8 327.8 478.2 325.4 478.5 324.7 478.9 333.8 479.3 326.9 479.7 324.5 480.1 325 480.4 328.3 480.8 330.4 481.2 334.8 481.6 328.2 482 329.6 482.3 320.6 482.7 320.3 483.1 325.2 483.5 326.1 483.9 326.4 484.2 328.4 484.6 328.9 485 324.4 485.4 327.1 485.7 327.1 486.1 328.2 486.5 320.4 486.9 319.6 487.3 328.6 487.6 330.8 488 328.1 488.4 325.6 488.8 327.9 489.2 327.4 489.5 329.2 489.9 327.8 490.3 329.9 490.7 325.9 491.1 328.2 491.4 335.2 491.8 328.5 492.2 330.7 492.6 338.5 493 336.7 493.3 333.7 493.7 330.6 494.1 333.4 494.5 337.1 494.9 339.8 495.2 338.2 495.6 336.1 496 339.1 496.4 338.2 496.8 339.9 497.1 333 497.5 336.3 497.9 335.1 498.3 336.3 498.7 339.2 499 346.6 499.4 341.8 499.8 346.1 500.2 344.3 500.6 344.9 500.9 342.8 501.3 347.1 501.7 341.6 502.1 344.1 502.5 347 502.8 348.7 503.2 351.5 503.6 347 504 351.2 504.4 352.4 504.7 351.6 505.1 348.9 505.5 348.8 505.9 344.2 506.3 348.3 506.6 349.3 507 349.1 507.4 353.3 507.8 353.4 508.2 348.2 508.5 349.5 508.9 349.3 509.3 354.7 509.7 360.3 510.1 355.2 510.4 357 510.8 358.5 511.2 356.8 511.6 357.9 512 356.6 512.3 361.9 512.7 355.6 513.1 356.3 513.5 355.4 513.9 359.1 514.2 357.3 514.6 357.8 515 357.7 515.4 358.6 515.8 354.5 516.1 359.5 516.5 359 516.9 355.7 517.3 349.9 517.7 360.7 518 357.2 518.4 359.3 518.8 364 519.2 359.5 519.6 359.6 519.9 359.9 520.3 362.8 520.7 360.2 521.1 369.3 521.5 355.7 521.8 366.2 522.2 361.5 522.6 368.8 523 365.5 523.4 369.6 523.7 363.7 524.1 362.4 524.5 362.9 524.9 359.3 525.3 363.4 525.6 365.3 526 367.6 526.4 363.5 526.8 363.8 527.2 364.7 527.5 368.9 527.9 365.5 528.3 363.8 528.7 368.1 529.1 369.7 529.4 371.7 529.8 368.1 530.2 362.9 530.6 365.5 531 361.2 531.3 371.4 531.7 370.4 532.1 371.7 532.5 368.4 532.9 367.9 533.2 372.5 533.6 370.4 534 369.3 534.4 369 534.8 372.1 535.1 370.9 535.5 373.2 535.9 363.4 536.3 366.4 536.7 371.8 537 368 537.4 366.3 537.8 361.5 538.2 362.8 538.6 369.4 538.9 368.8 539.3 369.4 539.7 374.4 540.1 374.4 540.5 378.2 540.8 374.6 541.2 369.2 541.6 373.2 542 377.8 542.4 373.7 542.7 376 543.1 371.3 543.5 377.5 543.9 369.4 544.3 372.6 544.6 371.4 545 372.6 545.4 372.1 545.8 370.4 546.2 375.8 546.5 372.9 546.9 371.5 547.3 371.1 547.7 380.8 548.1 375.9 548.4 380.7 548.8 374.5 549.2 376.1 549.6 377.8 550 376.1 550.3 368.6 550.7 369 551.1 374.3 551.5 379.7 551.9 375.2 552.2 377 552.6 371.4 553 373 553.4 374.9 553.8 376.4 554.1 378.9 554.5 377.9 554.9 379.7 555.3 377.9 555.7 373 556 374.7 556.4 371.8 556.8 373.2" fill="none" stroke="#b5282d" stroke-width="1.2" stroke-linejoin="round"/>
<path d="M412.8 380 413.2 379 413.6 379.1 413.9 381.4 414.3 380.5 414.7 380.9 415.1 381.4 415.5 380.7 415.8 381.9 416.2 378.7 416.6 380.3 417 379.3 417.4 381 417.7 380.5 418.1 379.4 418.5 379.7 418.9 380.5 419.3 379.7 419.6 380.5 420 381.1 420.4 378.9 420.8 380 421.2 380.8 421.5 380.4 421.9 379.5 422.3 379 422.7 379.5 423.1 381.3 423.4 381.4 423.8 382.4 424.2 381.4 424.6 380.2 425 380.7 425.3 378.8 425.7 380.8 426.1 380.2 426.5 380.7 426.9 380 427.2 380.6 427.6 379.2 428 381.4 428.4 380.8 428.8 379.9 429.1 378.3 429.5 379 429.9 381.5 430.3 381.2 430.7 380.4 431 380.2 431.4 380.6 431.8 381.1 432.2 380.4 432.6 380.2 432.9 380.8 433.3 380.9 433.7 380.5 434.1 381.1 434.5 379.3 434.8 380.5 435.2 379.5 435.6 379.1 436 379.1 436.4 379.9 436.7 381.4 437.1 381.5 437.5 378.3 437.9 379.4 438.3 381 438.6 379.2 439 381.6 439.4 379.9 439.8 379.3 440.2 379.4 440.5 380.2 440.9 380.9 441.3 379.6 441.7 379.4 442.1 378.8 442.4 379.8 442.8 380.9 443.2 380 443.6 378.9 444 379.9 444.3 379.5 444.7 380.9 445.1 378.6 445.5 380 445.9 378.9 446.2 379.8 446.6 377.7 447 377.4 447.4 378.8 447.8 380.3 448.1 380.3 448.5 379.7 448.9 378.2 449.3 380.6 449.7 379.2 450 380 450.4 380.4 450.8 379.8 451.2 379.5 451.6 378.6 451.9 380.2 452.3 380.1 452.7 380.5 453.1 382 453.5 380.3 453.8 379.9 454.2 379.5 454.6 380.6 455 381.9 455.4 380.4 455.7 380.3 456.1 381.2 456.5 380 456.9 380.6 457.3 382.1 457.6 381.4 458 382.5 458.4 382 458.8 382.7 459.2 381.9 459.5 379.1 459.9 380.4 460.3 379.8 460.7 378.5 461.1 380.8 461.4 378.8 461.8 378.7 462.2 377.6 462.6 377.4 463 376.5 463.3 375.8 463.7 375.7 464.1 376.6 464.5 375.1 464.9 374.7 465.2 374.8 465.6 372.8 466 372.5 466.4 372.8 466.8 371.9 467.1 370.7 467.5 369.1 467.9 369.8 468.3 369.1 468.7 368.5 469 369.8 469.4 366.5 469.8 366.4 470.2 364.2 470.6 365.2 470.9 364.6 471.3 364.2 471.7 364.5 472.1 363.7 472.5 365.2 472.8 363.5 473.2 363.5 473.6 362.2 474 361.4 474.4 361.1 474.7 361.2 475.1 360.8 475.5 360.8 475.9 361.1 476.3 359.6 476.6 359.2 477 359.7 477.4 359.7 477.8 358.7 478.2 358.8 478.5 358.6 478.9 357.8 479.3 358.5 479.7 359.8 480.1 361.1 480.4 358.9 480.8 357.3 481.2 356.4 481.6 357.7 482 356.6 482.3 355.7 482.7 356 483.1 356.9 483.5 357.4 483.9 357.2 484.2 357.2 484.6 354.7 485 355.3 485.4 355.8 485.7 354.7 486.1 355.3 486.5 356.6 486.9 355.4 487.3 357.6 487.6 357.2 488 357.7 488.4 357.1 488.8 356.8 489.2 357.6 489.5 359.2 489.9 358.9 490.3 358.2 490.7 358.3 491.1 357.8 491.4 358.9 491.8 359.3 492.2 358.7 492.6 359.9 493 360.4 493.3 361.1 493.7 360.9 494.1 359.7 494.5 361 494.9 361.5 495.2 362 495.6 361.8 496 360.8 496.4 360.4 496.8 363 497.1 362.3 497.5 363.9 497.9 363.8 498.3 362.8 498.7 363.2 499 364.6 499.4 365.4 499.8 365.8 500.2 364.5 500.6 365.8 500.9 365.8 501.3 366.4 501.7 367.6 502.1 367.6 502.5 366 502.8 368 503.2 367.2 503.6 366.9 504 367 504.4 368.4 504.7 368 505.1 368.6 505.5 366.7 505.9 368.3 506.3 368.3 506.6 370.1 507 370.3 507.4 370.8 507.8 372.8 508.2 371.9 508.5 371.3 508.9 371 509.3 369.7 509.7 370.2 510.1 370.7 510.4 369.7 510.8 369.7 511.2 369.7 511.6 371.5 512 370.2 512.3 370.6 512.7 369.7 513.1 371.3 513.5 369.7 513.9 371.3 514.2 371.5 514.6 371.6 515 372.4 515.4 371.3 515.8 372.7 516.1 371.1 516.5 374.3 516.9 373.7 517.3 374.2 517.7 374.8 518 373.6 518.4 373.7 518.8 374.7 519.2 374.6 519.6 373.1 519.9 374.5 520.3 373.8 520.7 373.7 521.1 374.5 521.5 373.9 521.8 374.4 522.2 375 522.6 376.2 523 375 523.4 374.2 523.7 373.6 524.1 373.2 524.5 374.5 524.9 375 525.3 374.5 525.6 374.6 526 375.4 526.4 375.6 526.8 374.2 527.2 375.7 527.5 373.5 527.9 375.6 528.3 373.9 528.7 376.5 529.1 375.8 529.4 375.9 529.8 376.4 530.2 376.3 530.6 376.4 531 374.8 531.3 375 531.7 375.8 532.1 373.7 532.5 374.6 532.9 373.6 533.2 372.2 533.6 372.4 534 371.5 534.4 373.5 534.8 373.3 535.1 374.8 535.5 375.5 535.9 375.1 536.3 374.8 536.7 375 537 374.6 537.4 375.3 537.8 374.6 538.2 375 538.6 374.8 538.9 374.7 539.3 375.7 539.7 376.3 540.1 375.8 540.5 377.2 540.8 374.4 541.2 377.2 541.6 376.7 542 375.4 542.4 375.1 542.7 374.9 543.1 375.1 543.5 374.3 543.9 374.8 544.3 376.2 544.6 376.7 545 376 545.4 374 545.8 374.5 546.2 376.3 546.5 376.9 546.9 376.6 547.3 376.5 547.7 375.6 548.1 375.5 548.4 375.2 548.8 374.2 549.2 375.9 549.6 375.5 550 375.7 550.3 375.6 550.7 375.7 551.1 375.3 551.5 374.2 551.9 376.4 552.2 375.9 552.6 375.9 553 375.7 553.4 375.4 553.8 375.8 554.1 375.1 554.5 375 554.9 374.8 555.3 374.6 555.7 374.5 556 374.4 556.4 373.8 556.8 376.1" fill="none" stroke="#2f7d3f" stroke-width="1.2" stroke-linejoin="round"/>
<line x1="460.8" y1="245" x2="460.8" y2="404.2" stroke="#0c0c0c" stroke-width="0.9" stroke-dasharray="1.6 1.6"/>
<line x1="508.8" y1="245" x2="508.8" y2="404.2" stroke="#0c0c0c" stroke-width="0.9" stroke-dasharray="1.6 1.6"/>
<line x1="411.6" y1="314.5" x2="411.6" y2="404.7" stroke="#0c0c0c" stroke-width="1"/>
<line x1="411.6" y1="404.2" x2="557.3" y2="404.2" stroke="#0c0c0c" stroke-width="1"/>
<line x1="411.6" y1="315.4" x2="415.1" y2="315.4" stroke="#0c0c0c" stroke-width="1"/>
<text x="408.6" y="319.5" font-size="8.2" text-anchor="end">6</text>
<line x1="411.6" y1="337.6" x2="415.1" y2="337.6" stroke="#0c0c0c" stroke-width="1"/>
<text x="408.6" y="340.6" font-size="8.2" text-anchor="end">4</text>
<line x1="411.6" y1="359.8" x2="415.1" y2="359.8" stroke="#0c0c0c" stroke-width="1"/>
<text x="408.6" y="363" font-size="8.2" text-anchor="end">2</text>
<line x1="411.6" y1="382" x2="415.1" y2="382" stroke="#0c0c0c" stroke-width="1"/>
<text x="408.6" y="385.2" font-size="8.2" text-anchor="end">0</text>
<line x1="411.6" y1="404.2" x2="415.1" y2="404.2" stroke="#0c0c0c" stroke-width="1"/>
<text x="408.6" y="408.6" font-size="8.2" text-anchor="end">-2</text>
<text x="411.8" y="413.5" font-size="8.2" text-anchor="middle">-3</text>
<line x1="460.8" y1="404.2" x2="460.8" y2="400.2" stroke="#0c0c0c" stroke-width="1"/>
<text x="460.8" y="413.5" font-size="8.2" text-anchor="middle">0</text>
<line x1="508.8" y1="404.2" x2="508.8" y2="400.2" stroke="#0c0c0c" stroke-width="1"/>
<text x="508.8" y="413.5" font-size="8.2" text-anchor="middle">3</text>
<line x1="556.8" y1="404.2" x2="556.8" y2="400.2" stroke="#0c0c0c" stroke-width="1"/>
<text x="554.4" y="413.5" font-size="8.2">6 s</text>
<text x="399.5" y="345.6" font-size="8.1" text-anchor="middle" transform="rotate(-90 399.5 345.6)">ΔF/F (%)</text>
<text x="571.6" y="257.6" font-size="14">f</text>
<rect x="594" y="260.1" width="7" height="7" fill="#a0141a"/>
<text x="604.4" y="266.5" font-size="7.8">PnO-GCaMP6s</text>
<rect x="594" y="272.5" width="7" height="7" fill="#5a9e66"/>
<text x="604.4" y="278.9" font-size="7.8">MSDB-GCaMP6s</text>
<rect x="599.2" y="376.5" width="10.2" height="7.4" fill="#a0141a" stroke="#000" stroke-width="1"/>
<rect x="615.6" y="377.9" width="10.8" height="6" fill="#5a9e66" stroke="#000" stroke-width="1"/>
<rect x="643.2" y="307.9" width="11" height="76" fill="#a0141a" stroke="#000" stroke-width="1"/>
<rect x="659.8" y="330.8" width="11" height="53.1" fill="#5a9e66" stroke="#000" stroke-width="1"/>
<line x1="648.7" y1="306.3" x2="648.7" y2="309.5" stroke="#000" stroke-width="1"/>
<line x1="646.5" y1="306.3" x2="650.9" y2="306.3" stroke="#000" stroke-width="1"/>
<line x1="646.5" y1="309.5" x2="650.9" y2="309.5" stroke="#000" stroke-width="1"/>
<line x1="665.3" y1="327.8" x2="665.3" y2="333.8" stroke="#000" stroke-width="1"/>
<line x1="663.1" y1="327.8" x2="667.5" y2="327.8" stroke="#000" stroke-width="1"/>
<line x1="663.1" y1="333.8" x2="667.5" y2="333.8" stroke="#000" stroke-width="1"/>
<line x1="604.3" y1="374.9" x2="604.3" y2="378.1" stroke="#000" stroke-width="1"/>
<line x1="602.1" y1="374.9" x2="606.5" y2="374.9" stroke="#000" stroke-width="1"/>
<line x1="602.1" y1="378.1" x2="606.5" y2="378.1" stroke="#000" stroke-width="1"/>
<line x1="621" y1="376.3" x2="621" y2="379.5" stroke="#000" stroke-width="1"/>
<line x1="618.8" y1="376.3" x2="623.2" y2="376.3" stroke="#000" stroke-width="1"/>
<line x1="618.8" y1="379.5" x2="623.2" y2="379.5" stroke="#000" stroke-width="1"/>
<circle cx="604.6" cy="369.1" r="1.9" fill="#fff" stroke="#000" stroke-width="1.15"/>
<circle cx="600.9" cy="377.4" r="1.9" fill="#fff" stroke="#000" stroke-width="1.15"/>
<circle cx="608.4" cy="377.4" r="1.9" fill="#fff" stroke="#000" stroke-width="1.15"/>
<circle cx="604.6" cy="379.3" r="1.9" fill="#fff" stroke="#000" stroke-width="1.15"/>
<circle cx="600.9" cy="382.6" r="1.9" fill="#fff" stroke="#000" stroke-width="1.15"/>
<circle cx="607.8" cy="381.6" r="1.9" fill="#fff" stroke="#000" stroke-width="1.15"/>
<circle cx="621" cy="370.6" r="1.9" fill="#fff" stroke="#000" stroke-width="1.15"/>
<circle cx="617.5" cy="378.7" r="1.9" fill="#fff" stroke="#000" stroke-width="1.15"/>
<circle cx="624.8" cy="378.7" r="1.9" fill="#fff" stroke="#000" stroke-width="1.15"/>
<circle cx="621" cy="379.7" r="1.9" fill="#fff" stroke="#000" stroke-width="1.15"/>
<circle cx="617.5" cy="382.6" r="1.9" fill="#fff" stroke="#000" stroke-width="1.15"/>
<circle cx="623.8" cy="382" r="1.9" fill="#fff" stroke="#000" stroke-width="1.15"/>
<circle cx="645.1" cy="302.9" r="1.9" fill="#fff" stroke="#000" stroke-width="1.15"/>
<circle cx="652.8" cy="301.6" r="1.9" fill="#fff" stroke="#000" stroke-width="1.15"/>
<circle cx="649.9" cy="307.9" r="1.9" fill="#fff" stroke="#000" stroke-width="1.15"/>
<circle cx="653.4" cy="312.2" r="1.9" fill="#fff" stroke="#000" stroke-width="1.15"/>
<circle cx="648.3" cy="317" r="1.9" fill="#fff" stroke="#000" stroke-width="1.15"/>
<circle cx="646" cy="309.3" r="1.9" fill="#fff" stroke="#000" stroke-width="1.15"/>
<circle cx="665.3" cy="318" r="1.9" fill="#fff" stroke="#000" stroke-width="1.15"/>
<circle cx="665.3" cy="323.8" r="1.9" fill="#fff" stroke="#000" stroke-width="1.15"/>
<circle cx="661.5" cy="329.5" r="1.9" fill="#fff" stroke="#000" stroke-width="1.15"/>
<circle cx="669.2" cy="329" r="1.9" fill="#fff" stroke="#000" stroke-width="1.15"/>
<circle cx="664.9" cy="334.7" r="1.9" fill="#fff" stroke="#000" stroke-width="1.15"/>
<circle cx="665.3" cy="348.8" r="1.9" fill="#fff" stroke="#000" stroke-width="1.15"/>
<line x1="593.4" y1="292.1" x2="593.4" y2="383.9" stroke="#0c0c0c" stroke-width="1"/>
<line x1="592.9" y1="383.9" x2="677" y2="383.9" stroke="#0c0c0c" stroke-width="1"/>
<line x1="589.4" y1="292.9" x2="593.4" y2="292.9" stroke="#0c0c0c" stroke-width="1"/>
<text x="583.8" y="296.1" font-size="7.6" text-anchor="end">6</text>
<line x1="589.4" y1="321" x2="593.4" y2="321" stroke="#0c0c0c" stroke-width="1"/>
<text x="583.8" y="324.2" font-size="7.6" text-anchor="end">4</text>
<line x1="589.4" y1="349.1" x2="593.4" y2="349.1" stroke="#0c0c0c" stroke-width="1"/>
<text x="583.8" y="352.3" font-size="7.6" text-anchor="end">2</text>
<line x1="589.4" y1="377.2" x2="593.4" y2="377.2" stroke="#0c0c0c" stroke-width="1"/>
<text x="583.8" y="380.4" font-size="7.6" text-anchor="end">0</text>
<text x="612.4" y="353.1" font-size="7.6" text-anchor="middle">ns</text>
<line x1="604.7" y1="356.4" x2="619.3" y2="356.4" stroke="#000" stroke-width="1.1"/>
<text x="657.5" y="294.2" font-size="7.6" text-anchor="middle">****</text>
<line x1="650.5" y1="295" x2="665" y2="295" stroke="#000" stroke-width="1.1"/>
<text x="575" y="329.5" font-size="7.6" text-anchor="middle" transform="rotate(-90 575 329.5)">Z-Score</text>
<text x="613.6" y="398.3" font-size="7.8" text-anchor="middle">Before</text>
<text x="613.6" y="407.5" font-size="7.8" text-anchor="middle">stimulation</text>
<text x="657.3" y="398.3" font-size="7.8" text-anchor="middle">During</text>
<text x="657.3" y="407.5" font-size="7.8" text-anchor="middle">stimulation</text>
<text x="7.8" y="437.4" font-size="14">g</text>
<text x="50" y="464.3" font-size="10.2" text-anchor="middle">WT mice</text>
<text x="50.2" y="477" font-size="8.9" text-anchor="middle">Electrical Stim</text>
<rect x="39.7" y="481.3" width="18" height="6.1" fill="#1a1a1a"/>
<rect x="42.8" y="487.4" width="11.8" height="5" fill="#f4f4f4" stroke="#333" stroke-width="1.0"/>
<rect x="35.4" y="494.3" width="26.2" height="17.3" fill="#b7b7b7" stroke="#2e2e2e" stroke-width="1.0"/>
<text x="48.6" y="506.8" font-size="10.7" text-anchor="middle">LHA</text>
<text x="49.2" y="532.6" font-size="9" text-anchor="middle">20 Hz -45µA</text>
<text x="85.2" y="437.4" font-size="14">h</text>
<g clip-path="url(#hclip)">
<rect x="98.4" y="450.4" width="98.1" height="97.7" fill="#444" filter="url(#speck)"/>
<path d="M197.4 478C197.1 478.9 196.2 483.1 195.4 485.2C194.6 487.3 192.6 491.7 191.3 493.7C189.9 495.8 186.8 498.4 185.4 500.5C184 502.6 182.6 506.6 180.8 509.4C179.1 512.2 174.8 518.3 172.4 521.3C170.1 524.4 165.5 529.4 163.2 532.1C160.9 534.8 157 539.4 155.1 541.6C153.2 543.8 143.3 547.7 149 548.6C154.6 549.6 190.9 548.6 197.4 548.6Z" fill="#040404" stroke="#8a8a8a" stroke-width="0.5"/>
<rect x="158.3" y="449.6" width="5.2" height="26.1" fill="#0c0c0c" opacity="0.9"/>
<line x1="162" y1="478" x2="162" y2="491" stroke="#777" stroke-width="0.5"/>
<circle cx="189.3" cy="529.3" r="0.8" fill="#f0f0f0" stroke="none" stroke-width="0"/>
<circle cx="191.3" cy="528.5" r="1" fill="#f0f0f0" stroke="none" stroke-width="0"/>
<circle cx="193.1" cy="529.6" r="1.1" fill="#f0f0f0" stroke="none" stroke-width="0"/>
<circle cx="194.9" cy="530.8" r="1" fill="#f0f0f0" stroke="none" stroke-width="0"/>
<circle cx="195.9" cy="532.7" r="0.9" fill="#f0f0f0" stroke="none" stroke-width="0"/>
<circle cx="190.3" cy="532.4" r="0.6" fill="#f0f0f0" stroke="none" stroke-width="0"/>
<path d="M120.3 487.3 128 482.1 139.5 476.6 148.6 472.7 156.6 469.5" fill="none" stroke="#f0f0f0" stroke-width="1.0" stroke-dasharray="3.6 2.2" stroke-linecap="butt"/>
<path d="M120.3 487.3C120.2 488 119.1 491.1 119.5 492.8C120 494.6 121.9 498.4 123.5 500.5C125.1 502.6 129.7 506.9 131.8 508.8C133.9 510.6 137.9 512.6 139.5 514.3C141 516 142.9 519.7 143.7 521.6C144.6 523.6 144.9 527.3 145.6 529C146.3 530.7 147.5 534.3 149 534.5C150.4 534.8 154.5 532.5 156.3 530.8C158.1 529.2 160.8 524.2 162.4 521.9C164.1 519.7 167 516 168.9 514C170.8 512 175.5 507.9 176.5 506.9" fill="none" stroke="#f0f0f0" stroke-width="1.0" stroke-dasharray="3.6 2.2" stroke-linecap="butt"/>
<path d="M170.9 460C171.3 461.6 172 466.8 173.2 469.5C174.3 472.3 175.7 474.6 177.8 476.4C179.8 478.2 182.3 479.5 185.4 480.3C188.6 481 194.6 481 196.5 481.2" fill="none" stroke="#f0f0f0" stroke-width="1.0" stroke-dasharray="3.6 2.2" stroke-linecap="butt"/>
<circle cx="112.6" cy="528.5" r="12.3" fill="none" stroke="#f0f0f0" stroke-width="1" stroke-dasharray="3.6 2.2" stroke-linecap="butt"/>
<path d="M157.5 450.4C157.5 452.1 157.5 465.6 157.5 468C157.6 470.4 157.8 473.1 158.2 474.1C158.5 475.1 160.4 477.8 160.9 477.8C161.5 477.8 163.3 475.1 163.7 474.1C164 473.1 164.2 470.4 164.3 468C164.3 465.6 164.3 452.1 164.3 450.4" fill="none" stroke="#f2b01e" stroke-width="1.1" stroke-dasharray="2.6 1.5"/>
<circle cx="160.9" cy="461.9" r="1.7" fill="#f2b01e" stroke="none" stroke-width="0"/>
<text x="101.9" y="462.5" font-size="7.7" fill="#e6e6e6">AP -1.58</text>
<text x="158.2" y="504.3" font-size="9" text-anchor="middle" fill="#ececec">LHA</text>
<text x="113.1" y="532.4" font-size="9" text-anchor="middle" fill="#e6e6e6">VMH</text>
<line x1="182.7" y1="542.8" x2="193.9" y2="542.8" stroke="#fff" stroke-width="1.3"/>
</g>
<text x="208" y="438.4" font-size="14">i</text>
<rect x="215.2" y="450.2" width="103.6" height="98.6" fill="#020202"/>
<path d="M218 537.5C218 536.2 217.8 532.9 218.3 529.5C218.9 526.1 219.5 521.6 221.2 517.1C223 512.6 225.7 507.3 228.9 502.5C232.1 497.6 236.2 492.4 240.6 487.9C245 483.3 250.3 478.7 255.2 475.1C260 471.5 264.9 468.7 269.8 466.4C274.6 464 279.8 462.2 284.4 460.9C288.9 459.6 293.9 458.9 297.2 458.7C300.4 458.4 302.9 459.3 304.1 459.4" fill="none" stroke="#1cc5d6" stroke-width="1.3" stroke-linecap="round"/>
<path d="M304.1 459.4C304.5 459.8 305.4 461.7 306.3 462C307.1 462.2 308.5 461.8 309.2 460.9C309.9 460 310.1 457.2 310.3 456.5" fill="none" stroke="#e3111f" stroke-width="1.3" stroke-linecap="round"/>
<path d="M216.5 536.8C216.7 537 217.3 537.9 218 538.2C218.6 538.6 219.8 538.6 220.1 538.6" fill="none" stroke="#e9a11c" stroke-width="1.2" stroke-linecap="round"/>
<text x="311.6" y="524.8" font-size="7.8" text-anchor="end" fill="#d0101c">3s before</text>
<text x="311.6" y="532.7" font-size="7.8" text-anchor="end" fill="#17909a">during</text>
<text x="313" y="540.6" font-size="7.8" text-anchor="end" fill="#e3a21e">after stimulation</text>
<text x="325.6" y="436.6" font-size="14">j</text>
<rect x="381.9" y="450.4" width="38.1" height="94.1" fill="#d5d5d5"/>
<text x="401.4" y="447.7" font-size="9.1" text-anchor="middle">LHA DBS</text>
<path d="M343.8 541.2 344.6 541.8 345.4 540.6 346.2 541.3 347.1 541.1 347.9 541.7 348.7 542.1 349.5 542.5 350.3 542.2 351.1 542.8 352 542.3 352.8 542.2 353.6 542.7 354.4 542.5 355.2 542.6 356 542.2 356.9 542.9 357.7 543 358.5 543.4 359.3 543.3 360.1 543 360.9 542.6 361.8 542.6 362.6 541.6 363.4 541.8 364.2 542.1 365 541.8 365.8 541.8 366.7 541.6 367.5 542.1 368.3 542.6 369.1 542.5 369.9 542.5 370.7 542.5 371.6 542.7 372.4 542.3 373.2 542.3 374 542.2 374.8 541.8 375.6 541.9 376.5 541.9 377.3 541.9 378.1 542.2 378.9 542.4 379.7 541.8 380.5 541.9 381.4 541.4 382.2 540.9 383 540.5 383.8 540.3 384.6 539.3 385.4 539.1 386.3 538.3 387.1 538.1 387.9 537.1 388.7 536 389.5 535.4 390.3 533 391.2 531.4 392 530.2 392.8 526.4 393.6 525.1 394.4 521.7 395.2 519.1 396.1 518.5 396.9 517.6 397.7 516.1 398.5 516.4 399.3 514.2 400.1 512.5 401 507.9 401.8 507.1 402.6 502.8 403.4 499.8 404.2 497.3 405 497.2 405.9 498.1 406.7 500.3 407.5 499.4 408.3 499.6 409.1 498.7 409.9 495.9 410.8 492.8 411.6 489.6 412.4 486 413.2 482.7 414 481.9 414.8 480.2 415.7 481.2 416.5 479.1 417.3 477.3 418.1 477.4 418.9 475.5 419.7 474.8 420.6 472.7 421.4 475.7 422.2 476.4 423 479 423.8 482.6 424.6 486.3 425.5 489 426.3 493.4 427.1 494 427.9 499.3 428.7 504.2 429.5 507.9 430.4 513.7 431.2 516.1 432 519.1 432.8 522.4 433.6 523.6 434.4 524.4 435.3 527.4 436.1 529 436.9 530.7 437.7 531.2 438.5 532.6 439.3 534.7 440.2 536.3 441 537.5 441.8 537.8 442.6 538.3 443.4 539.6 444.2 540.1 445.1 541.4 445.9 542.2 446.7 542.1 447.5 542.9 448.3 542.8 449.1 542.2 450 542 450.8 541.2 451.6 541.2 452.4 541.9 453.2 541.7 454 542.2 454.9 542.3 455.7 542.1 456.5 542.4 457.3 542.2" fill="none" stroke="#9a9a9a" stroke-width="0.6" stroke-linejoin="round"/>
<path d="M343.8 543.1 344.6 542.7 345.4 541.4 346.2 541.1 347.1 541.5 347.9 541.1 348.7 540.7 349.5 540.9 350.3 541.1 351.1 541.4 352 541.7 352.8 541.6 353.6 542.1 354.4 543.4 355.2 542.5 356 542.4 356.9 542.5 357.7 542.6 358.5 542.8 359.3 543.2 360.1 542.1 360.9 542.7 361.8 543.2 362.6 543.4 363.4 543.5 364.2 543.2 365 542.4 365.8 542.3 366.7 542.3 367.5 542.4 368.3 541.9 369.1 541.1 369.9 542 370.7 542 371.6 542.9 372.4 543 373.2 542.6 374 543.2 374.8 544.3 375.6 543.7 376.5 543.7 377.3 543.2 378.1 542.6 378.9 542.9 379.7 541.7 380.5 540.9 381.4 540.8 382.2 540.7 383 540.2 383.8 539.5 384.6 537.8 385.4 537.5 386.3 536.9 387.1 536.7 387.9 535.5 388.7 533.8 389.5 532.9 390.3 532.4 391.2 530.8 392 528 392.8 525.8 393.6 523.6 394.4 520.4 395.2 517.3 396.1 515.4 396.9 511.9 397.7 510.7 398.5 507.2 399.3 505.7 400.1 504 401 503.2 401.8 499.6 402.6 498.5 403.4 495.8 404.2 493.4 405 487.7 405.9 487.1 406.7 485.9 407.5 485.9 408.3 484.5 409.1 482 409.9 478.1 410.8 478.6 411.6 475 412.4 474.5 413.2 472.6 414 472.7 414.8 470.3 415.7 471.4 416.5 471 417.3 471.1 418.1 467.8 418.9 467.7 419.7 466.7 420.6 472.6 421.4 470.4 422.2 473.7 423 478.3 423.8 485.7 424.6 491.9 425.5 497.4 426.3 502.2 427.1 510 427.9 516.5 428.7 520.7 429.5 522.4 430.4 526.1 431.2 529.4 432 532.4 432.8 534.4 433.6 535.5 434.4 536.7 435.3 539 436.1 539.1 436.9 539.6 437.7 540.1 438.5 540.8 439.3 541.7 440.2 542.8 441 542.4 441.8 542.3 442.6 541.9 443.4 541.1 444.2 540.8 445.1 540.6 445.9 540.6 446.7 540.9 447.5 541.9 448.3 542.2 449.1 542.9 450 543.7 450.8 543.8 451.6 543.5 452.4 543.1 453.2 542.6 454 543 454.9 542.8 455.7 542.8 456.5 542.6 457.3 542.8" fill="none" stroke="#9a9a9a" stroke-width="0.6" stroke-linejoin="round"/>
<path d="M343.8 542 344.6 542.3 345.4 542.1 346.2 542 347.1 542.2 347.9 542.3 348.7 542.7 349.5 542.7 350.3 542.5 351.1 542.6 352 543 352.8 543 353.6 542.4 354.4 542.3 355.2 542.2 356 541.8 356.9 542 357.7 541.5 358.5 541.4 359.3 541.3 360.1 541 360.9 541.4 361.8 541.6 362.6 542 363.4 541.9 364.2 541.7 365 542.2 365.8 542.6 366.7 542.9 367.5 542.8 368.3 542.6 369.1 542.9 369.9 542.9 370.7 543 371.6 543.1 372.4 542.8 373.2 543.3 374 542.6 374.8 542.6 375.6 542.9 376.5 542.4 377.3 543.1 378.1 542.9 378.9 542.4 379.7 543.2 380.5 542.9 381.4 543.3 382.2 543.4 383 542.1 383.8 542.2 384.6 542.2 385.4 541.4 386.3 541.1 387.1 539.8 387.9 538.3 388.7 537.1 389.5 535.3 390.3 533.3 391.2 532 392 531 392.8 530 393.6 527.8 394.4 526.1 395.2 522.1 396.1 521.1 396.9 518.6 397.7 514.8 398.5 511 399.3 509.3 400.1 507.5 401 508.2 401.8 507.4 402.6 506.5 403.4 503.7 404.2 501.2 405 498.8 405.9 498 406.7 496.5 407.5 493.8 408.3 491.1 409.1 491.8 409.9 491 410.8 489.4 411.6 488.6 412.4 486.5 413.2 486.2 414 484.5 414.8 484.3 415.7 484.1 416.5 485.4 417.3 481.2 418.1 480.8 418.9 478.2 419.7 480.2 420.6 480.4 421.4 482.5 422.2 486 423 491.6 423.8 494.4 424.6 498.2 425.5 500.1 426.3 502.8 427.1 507.7 427.9 510.4 428.7 513.2 429.5 518.1 430.4 520.2 431.2 524.4 432 528.1 432.8 530.4 433.6 533.4 434.4 535.9 435.3 537.2 436.1 538.8 436.9 539.8 437.7 541.2 438.5 541.5 439.3 542.2 440.2 542.3 441 542.3 441.8 543.2 442.6 543.3 443.4 543.5 444.2 543.8 445.1 544 445.9 544.2 446.7 544.3 447.5 544 448.3 544.3 449.1 544 450 544 450.8 543.5 451.6 543 452.4 543.2 453.2 543 454 542.1 454.9 542.5 455.7 542.2 456.5 542.4 457.3 542.6" fill="none" stroke="#9a9a9a" stroke-width="0.6" stroke-linejoin="round"/>
<path d="M343.8 541.2 344.6 541.3 345.4 540.9 346.2 541.4 347.1 541.8 347.9 541.7 348.7 542.2 349.5 542.8 350.3 542.4 351.1 542.6 352 542.6 352.8 542.4 353.6 542.5 354.4 542.5 355.2 542.4 356 542.5 356.9 542.6 357.7 542.1 358.5 542.3 359.3 541.9 360.1 541.3 360.9 541.2 361.8 540.8 362.6 540.8 363.4 541.1 364.2 541.6 365 542 365.8 542.3 366.7 542.1 367.5 541.8 368.3 541 369.1 540.7 369.9 540.4 370.7 540.1 371.6 539.9 372.4 540.2 373.2 540.9 374 541.7 374.8 542.2 375.6 541.7 376.5 542.2 377.3 542.4 378.1 542 378.9 542.2 379.7 542.4 380.5 542.5 381.4 542.7 382.2 542.2 383 541.8 383.8 542 384.6 541.9 385.4 541 386.3 540.8 387.1 540.4 387.9 540.4 388.7 540 389.5 539.2 390.3 536.6 391.2 536.6 392 533.3 392.8 531.9 393.6 528.9 394.4 525.4 395.2 523.2 396.1 521.5 396.9 516.1 397.7 514.7 398.5 511.9 399.3 509.4 400.1 507.5 401 505.7 401.8 501.5 402.6 499.5 403.4 500.3 404.2 498.6 405 494.7 405.9 490.7 406.7 486.3 407.5 488.6 408.3 487.3 409.1 480.5 409.9 477.2 410.8 478.9 411.6 481.1 412.4 478.8 413.2 475 414 472.7 414.8 472.2 415.7 469 416.5 467 417.3 464.2 418.1 467.7 418.9 464.3 419.7 462.2 420.6 461.4 421.4 467 422.2 466.7 423 467.5 423.8 461.5 424.6 464.6 425.5 469.5 426.3 473 427.1 472.2 427.9 478.3 428.7 485.4 429.5 495.3 430.4 501.7 431.2 508.3 432 514.1 432.8 519.7 433.6 522 434.4 525.3 435.3 526.5 436.1 530.3 436.9 530.5 437.7 531.4 438.5 533.2 439.3 534.6 440.2 535.8 441 537.9 441.8 537.9 442.6 539.4 443.4 540.4 444.2 540.7 445.1 541.5 445.9 542 446.7 541.6 447.5 542.1 448.3 542.2 449.1 542.7 450 542.4 450.8 543.3 451.6 543 452.4 543 453.2 542.7 454 542.4 454.9 542.6 455.7 542 456.5 541.6 457.3 541.9" fill="none" stroke="#9a9a9a" stroke-width="0.6" stroke-linejoin="round"/>
<path d="M343.8 543.8 344.6 543.5 345.4 543.7 346.2 544.1 347.1 543.7 347.9 543.4 348.7 542.7 349.5 542.7 350.3 543.1 351.1 543.2 352 542.8 352.8 542.5 353.6 542.6 354.4 542.5 355.2 542.6 356 542.4 356.9 541.5 357.7 542 358.5 542.3 359.3 542.3 360.1 542.7 360.9 542 361.8 542.2 362.6 542.8 363.4 543.1 364.2 543.6 365 543.8 365.8 544 366.7 544.3 367.5 544.2 368.3 544.3 369.1 544.3 369.9 543.9 370.7 543.6 371.6 543.8 372.4 544 373.2 543.6 374 543 374.8 542.1 375.6 541.9 376.5 542 377.3 541.8 378.1 541.4 378.9 542 379.7 542.3 380.5 542.5 381.4 542.6 382.2 542.3 383 542.3 383.8 541.6 384.6 541.4 385.4 540.9 386.3 540.1 387.1 539.9 387.9 539.7 388.7 538 389.5 539 390.3 537.6 391.2 536.6 392 535.7 392.8 533.4 393.6 531.2 394.4 528.7 395.2 524.2 396.1 521.5 396.9 519 397.7 516.2 398.5 515.4 399.3 514.1 400.1 512.3 401 511.3 401.8 512 402.6 511.2 403.4 510 404.2 507.2 405 504.8 405.9 506.5 406.7 507.3 407.5 505.2 408.3 504.7 409.1 504.8 409.9 504.6 410.8 504.5 411.6 501.8 412.4 498.9 413.2 496.9 414 494.9 414.8 495.6 415.7 493.4 416.5 492.9 417.3 491.5 418.1 491.2 418.9 492.9 419.7 491.2 420.6 489.7 421.4 493.9 422.2 493.6 423 497.8 423.8 501.2 424.6 502 425.5 504.8 426.3 510 427.1 513.7 427.9 518.3 428.7 522.6 429.5 527.7 430.4 530.7 431.2 533.9 432 535.1 432.8 536.6 433.6 538.2 434.4 539 435.3 539 436.1 540.4 436.9 540.7 437.7 541.2 438.5 542 439.3 541.8 440.2 542 441 542 441.8 542.8 442.6 542.9 443.4 543.1 444.2 543.1 445.1 543.3 445.9 544.1 446.7 544 447.5 543.1 448.3 543.3 449.1 543 450 542.5 450.8 542.6 451.6 542.6 452.4 542.8 453.2 542.5 454 542.1 454.9 542.9 455.7 542.6 456.5 542.3 457.3 541.6" fill="none" stroke="#9a9a9a" stroke-width="0.6" stroke-linejoin="round"/>
<path d="M343.8 542.4 344.6 542.6 345.4 542.5 346.2 542.9 347.1 543 347.9 543.1 348.7 543.1 349.5 542.8 350.3 542.9 351.1 543.3 352 542.5 352.8 543 353.6 542.3 354.4 541.8 355.2 542 356 542.6 356.9 542.6 357.7 543 358.5 542.5 359.3 542.9 360.1 542.5 360.9 542.4 361.8 541.5 362.6 541.6 363.4 541.6 364.2 541.3 365 541.6 365.8 542.3 366.7 542.3 367.5 542.5 368.3 542.1 369.1 542 369.9 542.9 370.7 542.7 371.6 542.9 372.4 542.9 373.2 542.9 374 543 374.8 543.8 375.6 542.8 376.5 542.6 377.3 541.7 378.1 540.6 378.9 540.9 379.7 541 380.5 539.9 381.4 540 382.2 540.3 383 540.9 383.8 540.8 384.6 540.1 385.4 539.2 386.3 538.2 387.1 537.5 387.9 535.1 388.7 533.2 389.5 532.8 390.3 530.9 391.2 528.8 392 527.3 392.8 524.8 393.6 522.7 394.4 520 395.2 516.2 396.1 513.8 396.9 511.4 397.7 509.1 398.5 507.4 399.3 504 400.1 504.8 401 503 401.8 502.8 402.6 501.7 403.4 498.5 404.2 496.4 405 494.7 405.9 491.9 406.7 491.4 407.5 488.8 408.3 486.7 409.1 487.2 409.9 486.2 410.8 487.1 411.6 482.7 412.4 480.9 413.2 479 414 478.6 414.8 478.4 415.7 479.4 416.5 480.5 417.3 481.3 418.1 483.6 418.9 481.2 419.7 481 420.6 482.9 421.4 484.2 422.2 486.5 423 491.2 423.8 493.6 424.6 498.4 425.5 501.7 426.3 508.7 427.1 513.5 427.9 519.1 428.7 524.8 429.5 529.5 430.4 533.1 431.2 536.3 432 537.7 432.8 539.2 433.6 539.8 434.4 539.8 435.3 539.5 436.1 540.2 436.9 540.9 437.7 541.5 438.5 542.2 439.3 542.3 440.2 542.1 441 542.5 441.8 542.7 442.6 542.9 443.4 542.3 444.2 542.2 445.1 542.7 445.9 543.4 446.7 543.7 447.5 543.6 448.3 543 449.1 543.7 450 543.2 450.8 543.4 451.6 543 452.4 542.7 453.2 542.5 454 543 454.9 542.4 455.7 542.7 456.5 541.8 457.3 542.2" fill="none" stroke="#9a9a9a" stroke-width="0.6" stroke-linejoin="round"/>
<path d="M343.8 542 344.6 542.3 345.4 542.2 346.2 542.4 347.1 543.2 347.9 543 348.7 543.4 349.5 544.3 350.3 544.3 351.1 543.6 352 543.2 352.8 542.4 353.6 542.7 354.4 543.2 355.2 542.9 356 543.2 356.9 543.9 357.7 544.1 358.5 544.1 359.3 543.6 360.1 543.2 360.9 542.6 361.8 542.5 362.6 542.9 363.4 542.2 364.2 542.2 365 542.3 365.8 542.6 366.7 543.3 367.5 542.8 368.3 543.1 369.1 543.8 369.9 544.2 370.7 544.3 371.6 544.1 372.4 543.3 373.2 544.3 374 543.4 374.8 543.9 375.6 543.5 376.5 543.7 377.3 544.2 378.1 544.3 378.9 544.3 379.7 544.3 380.5 543.7 381.4 543.5 382.2 543.2 383 542.4 383.8 541.9 384.6 540.7 385.4 540 386.3 539.9 387.1 539.6 387.9 539.3 388.7 539.2 389.5 537.7 390.3 536.7 391.2 535 392 533.1 392.8 530.8 393.6 528.5 394.4 526.4 395.2 525.6 396.1 524.4 396.9 523.2 397.7 519.3 398.5 518.6 399.3 515.9 400.1 513.7 401 510.8 401.8 508 402.6 505.9 403.4 508.3 404.2 507.8 405 506.4 405.9 506.2 406.7 502.2 407.5 501.3 408.3 499.5 409.1 497.1 409.9 491.2 410.8 489.1 411.6 484.1 412.4 483.5 413.2 483.2 414 484.6 414.8 484 415.7 484.8 416.5 485.8 417.3 483.6 418.1 483 418.9 480.1 419.7 476.4 420.6 476 421.4 473.3 422.2 472.6 423 476.5 423.8 482.4 424.6 488 425.5 493.2 426.3 495.9 427.1 504.3 427.9 510 428.7 515.3 429.5 519.6 430.4 524 431.2 527 432 531.4 432.8 532.9 433.6 534.7 434.4 536.5 435.3 538.3 436.1 539.8 436.9 540.5 437.7 541.3 438.5 542 439.3 542.8 440.2 543 441 543.1 441.8 542.3 442.6 542.2 443.4 542.2 444.2 542.3 445.1 542.3 445.9 543.1 446.7 542.7 447.5 543.3 448.3 544.1 449.1 544.2 450 544.3 450.8 544.3 451.6 544.2 452.4 544.3 453.2 544.3 454 544.3 454.9 543.8 455.7 544.1 456.5 544.3 457.3 544.3" fill="none" stroke="#9a9a9a" stroke-width="0.6" stroke-linejoin="round"/>
<path d="M343.8 541.7 344.6 541.6 345.4 541.8 346.2 542.1 347.1 541.6 347.9 542.1 348.7 542.3 349.5 542.5 350.3 542.3 351.1 542.3 352 542.1 352.8 542.4 353.6 542 354.4 542.1 355.2 543.1 356 542.9 356.9 543.3 357.7 542.9 358.5 543 359.3 542.2 360.1 541.8 360.9 541.1 361.8 541.3 362.6 541.4 363.4 541.8 364.2 542 365 542.9 365.8 543.8 366.7 544.3 367.5 544.3 368.3 544.2 369.1 544.3 369.9 544.3 370.7 544.3 371.6 544.1 372.4 543.3 373.2 543.5 374 543.3 374.8 543.4 375.6 543.9 376.5 543.9 377.3 543.8 378.1 544.3 378.9 544.3 379.7 544.3 380.5 544.2 381.4 543.3 382.2 542.6 383 542.6 383.8 542 384.6 541.3 385.4 540.9 386.3 540.7 387.1 540.5 387.9 539.8 388.7 538.7 389.5 537.7 390.3 536.4 391.2 533.5 392 531.3 392.8 529.4 393.6 527.4 394.4 524.3 395.2 521.2 396.1 518.4 396.9 517.3 397.7 514.7 398.5 511.3 399.3 510.6 400.1 507.7 401 505.1 401.8 502.7 402.6 500.8 403.4 498.6 404.2 497.1 405 491.7 405.9 491.2 406.7 490 407.5 488.6 408.3 487.1 409.1 487.4 409.9 486.9 410.8 486 411.6 482.6 412.4 481.9 413.2 478.4 414 478.2 414.8 472.7 415.7 471.4 416.5 468.9 417.3 465.4 418.1 464.4 418.9 462.7 419.7 457 420.6 459.2 421.4 457.1 422.2 458.6 423 462.9 423.8 463.3 424.6 467.2 425.5 471.8 426.3 476 427.1 481.9 427.9 486.9 428.7 493.3 429.5 501.9 430.4 507.1 431.2 514.8 432 518.9 432.8 521.7 433.6 526.3 434.4 529.9 435.3 532 436.1 534.1 436.9 535.6 437.7 537.3 438.5 539.6 439.3 539.8 440.2 540 441 540.5 441.8 541 442.6 541.3 443.4 541.3 444.2 541.6 445.1 541.8 445.9 541.9 446.7 542.4 447.5 542.8 448.3 543 449.1 543.5 450 542.9 450.8 543 451.6 543.3 452.4 542.5 453.2 542.1 454 542.6 454.9 542.9 455.7 543.5 456.5 543.5 457.3 544" fill="none" stroke="#9a9a9a" stroke-width="0.6" stroke-linejoin="round"/>
<path d="M343.8 540 344.6 541.3 345.4 542.3 346.2 541.7 347.1 540.3 347.9 540.1 348.7 540.5 349.5 540.7 350.3 540.3 351.1 540.4 352 541.1 352.8 541.7 353.6 541.9 354.4 541.5 355.2 542.7 356 542.4 356.9 541.7 357.7 542.2 358.5 542.3 359.3 542.6 360.1 542.9 360.9 542.5 361.8 542.9 362.6 543.5 363.4 542.9 364.2 542.9 365 543.2 365.8 543.1 366.7 542.8 367.5 543.1 368.3 542.2 369.1 542 369.9 541.6 370.7 541.8 371.6 541.6 372.4 541.8 373.2 542 374 542.5 374.8 542.2 375.6 542.5 376.5 541.9 377.3 541.7 378.1 541.4 378.9 540.6 379.7 540.4 380.5 540.7 381.4 540.6 382.2 540.6 383 540.6 383.8 540.3 384.6 539.2 385.4 538.4 386.3 538.2 387.1 536.8 387.9 535.2 388.7 534 389.5 532.2 390.3 531.6 391.2 529.8 392 526.8 392.8 523.9 393.6 522.4 394.4 519.5 395.2 516.5 396.1 514.2 396.9 511.5 397.7 510.2 398.5 509.1 399.3 505.7 400.1 505 401 506.9 401.8 503.9 402.6 504.5 403.4 502.8 404.2 499.8 405 498.9 405.9 497.9 406.7 493.3 407.5 491.7 408.3 490.1 409.1 489.8 409.9 488.9 410.8 484.8 411.6 482.8 412.4 480.6 413.2 481.8 414 479.5 414.8 477.4 415.7 479.6 416.5 481.7 417.3 480.9 418.1 485.7 418.9 483.2 419.7 482.3 420.6 483 421.4 481 422.2 485.1 423 489.2 423.8 488.5 424.6 493 425.5 497.4 426.3 499.5 427.1 504.8 427.9 507.4 428.7 508.2 429.5 512 430.4 516 431.2 518.3 432 521.8 432.8 523.5 433.6 527.1 434.4 530.6 435.3 532.8 436.1 532.4 436.9 533.3 437.7 534.9 438.5 535.9 439.3 536 440.2 537.5 441 538.1 441.8 538.7 442.6 539.1 443.4 539.1 444.2 539.9 445.1 540.3 445.9 541.3 446.7 541.1 447.5 541.9 448.3 541.9 449.1 541.6 450 541.7 450.8 541.4 451.6 540.7 452.4 540.8 453.2 540.8 454 541.3 454.9 541.4 455.7 540.9 456.5 541.4 457.3 541.9" fill="none" stroke="#9a9a9a" stroke-width="0.6" stroke-linejoin="round"/>
<path d="M343.8 543 344.6 542.2 345.4 542.2 346.2 541.8 347.1 541.6 347.9 541.3 348.7 541.8 349.5 542.6 350.3 543.3 351.1 543.9 352 544.2 352.8 544.1 353.6 544.3 354.4 544.2 355.2 544.3 356 543.9 356.9 543.3 357.7 542.7 358.5 543.6 359.3 543.2 360.1 543.6 360.9 543.1 361.8 543.2 362.6 543.3 363.4 543.6 364.2 543.1 365 543.2 365.8 543.1 366.7 543.5 367.5 543.9 368.3 544.3 369.1 543.9 369.9 544.3 370.7 544 371.6 543.6 372.4 544 373.2 544.3 374 544 374.8 544.3 375.6 544.2 376.5 544.3 377.3 544.3 378.1 543.9 378.9 543.4 379.7 542.8 380.5 542.4 381.4 541.7 382.2 541.2 383 541.3 383.8 540.9 384.6 539.8 385.4 539.8 386.3 538.8 387.1 538.3 387.9 538.8 388.7 536.7 389.5 534.9 390.3 534.1 391.2 531.1 392 529.3 392.8 525.9 393.6 522.1 394.4 520.1 395.2 517.3 396.1 514.8 396.9 512.8 397.7 509.5 398.5 510.1 399.3 508.7 400.1 505.1 401 503.1 401.8 501.5 402.6 499.4 403.4 496.7 404.2 495.2 405 491 405.9 492.3 406.7 490.7 407.5 488.9 408.3 489.8 409.1 490.2 409.9 488.5 410.8 489.5 411.6 483 412.4 480.9 413.2 476.4 414 473.3 414.8 475 415.7 469.5 416.5 467 417.3 467.6 418.1 467.9 418.9 469.5 419.7 470.9 420.6 466.8 421.4 470.4 422.2 473.5 423 477.7 423.8 484.6 424.6 489.4 425.5 493.5 426.3 497.8 427.1 503.6 427.9 509 428.7 513.8 429.5 517.7 430.4 520.8 431.2 523.1 432 527 432.8 530.8 433.6 533.2 434.4 534.5 435.3 535.7 436.1 537.8 436.9 539.5 437.7 540.2 438.5 540.3 439.3 541 440.2 541.6 441 542.1 441.8 541.7 442.6 542.1 443.4 542.3 444.2 542.2 445.1 542.3 445.9 542.2 446.7 542.4 447.5 542.7 448.3 543 449.1 542.8 450 542.9 450.8 543.2 451.6 543.6 452.4 543.7 453.2 544.3 454 544.3 454.9 544.3 455.7 544.3 456.5 544.1 457.3 544.3" fill="none" stroke="#9a9a9a" stroke-width="0.6" stroke-linejoin="round"/>
<path d="M343.8 540.9 344.6 541 345.4 541.2 346.2 540.7 347.1 541.2 347.9 540.1 348.7 540.3 349.5 540.7 350.3 541 351.1 541.2 352 541.8 352.8 541.9 353.6 542.1 354.4 542 355.2 541.8 356 541.6 356.9 541.1 357.7 540.3 358.5 540.6 359.3 541.1 360.1 541 360.9 541.2 361.8 541.6 362.6 542.1 363.4 542.6 364.2 543 365 542.5 365.8 542.4 366.7 542.2 367.5 541.9 368.3 541.7 369.1 540.6 369.9 540.4 370.7 540.5 371.6 540.1 372.4 539.7 373.2 539.5 374 539.6 374.8 540.6 375.6 540.4 376.5 540.4 377.3 541 378.1 541.5 378.9 541.5 379.7 541.6 380.5 541.5 381.4 541.6 382.2 541.3 383 540.5 383.8 541.2 384.6 540.8 385.4 540.5 386.3 539.6 387.1 538.1 387.9 537.3 388.7 537.7 389.5 536.4 390.3 535.9 391.2 533.8 392 532.3 392.8 531.8 393.6 530.3 394.4 527.7 395.2 524.1 396.1 521.3 396.9 517.6 397.7 516.2 398.5 513.2 399.3 511.1 400.1 508.2 401 507.6 401.8 506.3 402.6 502.7 403.4 498.8 404.2 497.9 405 495.3 405.9 489.4 406.7 485 407.5 483.1 408.3 483.9 409.1 481.5 409.9 477.8 410.8 479 411.6 483.1 412.4 483.2 413.2 483.3 414 481.9 414.8 480.4 415.7 477.7 416.5 471.2 417.3 468.7 418.1 466.9 418.9 461.1 419.7 457.6 420.6 456.5 421.4 457.6 422.2 456.7 423 453.6 423.8 454.3 424.6 456.4 425.5 460.5 426.3 467.8 427.1 473.9 427.9 482.9 428.7 490.4 429.5 496.1 430.4 504.1 431.2 510.5 432 515 432.8 518.7 433.6 522.5 434.4 526.5 435.3 530.1 436.1 531 436.9 534.2 437.7 536.6 438.5 538.2 439.3 538.7 440.2 539.2 441 539.7 441.8 540.9 442.6 540.6 443.4 540.2 444.2 540.3 445.1 540.7 445.9 541.9 446.7 541.7 447.5 541.4 448.3 542.3 449.1 542.9 450 542.6 450.8 542.5 451.6 542 452.4 542 453.2 542.5 454 542.5 454.9 541.8 455.7 542.6 456.5 543 457.3 543.1" fill="none" stroke="#9a9a9a" stroke-width="0.6" stroke-linejoin="round"/>
<path d="M343.8 542.7 344.6 542 345.4 541.2 346.2 541 347.1 540.8 347.9 541.2 348.7 541 349.5 541.3 350.3 541.4 351.1 541.5 352 541.5 352.8 541.9 353.6 541.6 354.4 542.1 355.2 541.3 356 541.8 356.9 541.8 357.7 542.3 358.5 542.5 359.3 542.3 360.1 542.4 360.9 542.8 361.8 542.3 362.6 542.5 363.4 542 364.2 542.3 365 542.4 365.8 542.6 366.7 542.7 367.5 542.6 368.3 542.4 369.1 542.6 369.9 542.4 370.7 542.8 371.6 542.2 372.4 542.3 373.2 543 374 542.9 374.8 543.1 375.6 543.3 376.5 542.9 377.3 543 378.1 542.2 378.9 542.5 379.7 542.9 380.5 542.3 381.4 542.1 382.2 542.1 383 542.2 383.8 542.7 384.6 541.7 385.4 540.6 386.3 540.1 387.1 538.7 387.9 537.9 388.7 537.4 389.5 535.1 390.3 534.5 391.2 533.4 392 531.9 392.8 531.3 393.6 529.3 394.4 526.3 395.2 524.4 396.1 520.9 396.9 518 397.7 516.1 398.5 512.2 399.3 509.7 400.1 506.5 401 504.1 401.8 502.3 402.6 499.9 403.4 497 404.2 498.6 405 498.3 405.9 494.7 406.7 493.5 407.5 487.4 408.3 487 409.1 485.8 409.9 482 410.8 479.2 411.6 480.1 412.4 477 413.2 479.7 414 479.3 414.8 480.6 415.7 479.7 416.5 479.1 417.3 478.7 418.1 480.5 418.9 481.5 419.7 480.6 420.6 481.7 421.4 482.1 422.2 484.1 423 484.6 423.8 488.4 424.6 492.8 425.5 495.7 426.3 497.3 427.1 499.2 427.9 504.1 428.7 510.7 429.5 515.9 430.4 517.7 431.2 520.9 432 524.7 432.8 528.8 433.6 532.2 434.4 533 435.3 534.5 436.1 537 436.9 539.1 437.7 539.6 438.5 540.6 439.3 540.7 440.2 542.1 441 542.1 441.8 542.7 442.6 542.8 443.4 542.7 444.2 542.2 445.1 541.8 445.9 541.7 446.7 542.4 447.5 542.2 448.3 542.9 449.1 543 450 544 450.8 544.3 451.6 544.1 452.4 543.7 453.2 543.9 454 543 454.9 543 455.7 543.1 456.5 543.1 457.3 543.2" fill="none" stroke="#9a9a9a" stroke-width="0.6" stroke-linejoin="round"/>
<path d="M343.8 543.2 344.6 543.2 345.4 543.4 346.2 542.6 347.1 542.5 347.9 541.4 348.7 540.9 349.5 540.6 350.3 541.2 351.1 541.3 352 542 352.8 542.4 353.6 543.3 354.4 543.8 355.2 544 356 543.2 356.9 543.2 357.7 543.3 358.5 544 359.3 543.8 360.1 543.8 360.9 543.7 361.8 543.9 362.6 543.7 363.4 543.2 364.2 542.9 365 543 365.8 542.3 366.7 542.2 367.5 542 368.3 542.2 369.1 542.3 369.9 541.6 370.7 541.4 371.6 541.5 372.4 541.3 373.2 541.5 374 541.7 374.8 541.9 375.6 542 376.5 541.6 377.3 542.1 378.1 542 378.9 542.3 379.7 542 380.5 541 381.4 541.6 382.2 541.5 383 540.7 383.8 540.2 384.6 539.3 385.4 538.6 386.3 538.8 387.1 536.7 387.9 535.3 388.7 533.4 389.5 530.7 390.3 528.3 391.2 526.4 392 523.3 392.8 520.4 393.6 517.7 394.4 516.1 395.2 514.7 396.1 511.1 396.9 506.8 397.7 502.4 398.5 500.4 399.3 499.3 400.1 498.5 401 498.3 401.8 495.5 402.6 495.6 403.4 495.7 404.2 493.8 405 490.5 405.9 483.1 406.7 482.2 407.5 482.8 408.3 482.7 409.1 481.2 409.9 479 410.8 478.9 411.6 483.9 412.4 479.7 413.2 475.8 414 472 414.8 471.4 415.7 473.4 416.5 469.9 417.3 467.6 418.1 468.9 418.9 474.1 419.7 473.7 420.6 475.1 421.4 478.3 422.2 485.7 423 489.6 423.8 494.9 424.6 497 425.5 504.9 426.3 507.9 427.1 514 427.9 517.4 428.7 519.7 429.5 523.2 430.4 527.3 431.2 530.7 432 534.1 432.8 535.3 433.6 537.7 434.4 539.7 435.3 541.2 436.1 541.6 436.9 541.3 437.7 540.9 438.5 541.5 439.3 541.4 440.2 541.1 441 540.6 441.8 540.6 442.6 541.8 443.4 542.4 444.2 541.6 445.1 541.5 445.9 542.3 446.7 542.7 447.5 542.3 448.3 541.4 449.1 541.7 450 542.7 450.8 542.9 451.6 542.4 452.4 542.6 453.2 543.5 454 544.3 454.9 544.3 455.7 544 456.5 543.8 457.3 544.3" fill="none" stroke="#9a9a9a" stroke-width="0.6" stroke-linejoin="round"/>
<path d="M343.8 543.2C345.9 543.3 352.2 543.6 356.4 543.7C360.6 543.8 365.2 543.7 369 543.7C372.8 543.7 376.6 543.7 379.1 543.6C381.6 543.4 382.7 543.2 384.2 542.6C385.6 542 386.7 541.6 387.9 539.8C389.2 538 390.5 535.1 391.7 532C393 528.8 394 525.2 395.5 521C397 516.8 398.7 511.4 400.6 506.9C402.4 502.3 404.8 497.3 406.9 493.5C409 489.8 411.3 486.6 413.2 484.1C415.1 481.6 416.9 480.3 418.2 478.6C419.5 476.9 420 474.2 420.7 473.9C421.5 473.7 421.8 473.7 422.6 477.1C423.5 480.5 424.6 487.5 425.8 494.3C426.9 501.1 428.3 511.3 429.6 517.8C430.8 524.4 432.1 529.7 433.3 533.5C434.6 537.3 435.7 539 437.1 540.6C438.6 542.2 439.9 542.7 442.2 543.2C444.5 543.8 448.5 543.9 451 544C453.5 544.2 456.2 544.2 457.3 544.2" fill="none" stroke="#f0605f" stroke-width="1.5"/>
<line x1="343.8" y1="449.9" x2="343.8" y2="545" stroke="#0c0c0c" stroke-width="1.1"/>
<line x1="343.8" y1="544.5" x2="457.8" y2="544.5" stroke="#0c0c0c" stroke-width="1.1"/>
<line x1="343.8" y1="544.5" x2="346.4" y2="544.5" stroke="#0c0c0c" stroke-width="1"/>
<text x="341.6" y="547.5" font-size="8.4" text-anchor="end">0</text>
<line x1="343.8" y1="513.1" x2="346.4" y2="513.1" stroke="#0c0c0c" stroke-width="1"/>
<text x="341.6" y="516.2" font-size="8.4" text-anchor="end">20</text>
<line x1="343.8" y1="481.8" x2="346.4" y2="481.8" stroke="#0c0c0c" stroke-width="1"/>
<text x="341.6" y="484.8" font-size="8.4" text-anchor="end">40</text>
<line x1="343.8" y1="450.4" x2="346.4" y2="450.4" stroke="#0c0c0c" stroke-width="1"/>
<text x="341.6" y="453.4" font-size="8.4" text-anchor="end">60</text>
<line x1="381.6" y1="544.5" x2="381.6" y2="546.7" stroke="#0c0c0c" stroke-width="1"/>
<text x="381.6" y="554.4" font-size="8.4" text-anchor="middle">3</text>
<line x1="419.5" y1="544.5" x2="419.5" y2="546.7" stroke="#0c0c0c" stroke-width="1"/>
<text x="419.5" y="554.4" font-size="8.4" text-anchor="middle">6</text>
<line x1="457.3" y1="544.5" x2="457.3" y2="546.7" stroke="#0c0c0c" stroke-width="1"/>
<text x="454.8" y="554.4" font-size="8.4">9 s</text>
<text x="330.2" y="491.2" font-size="8.8" text-anchor="middle" transform="rotate(-90 330.2 491.2)">Speed (cm/s)</text>
<line x1="429.4" y1="450.5" x2="451.4" y2="450.5" stroke="#b8b8b8" stroke-width="1.5"/>
<text x="429.4" y="460.6" font-size="7.6">Single trial</text>
<line x1="429.4" y1="463.7" x2="451.4" y2="463.7" stroke="#f0605f" stroke-width="1.5"/>
<text x="429.4" y="474.5" font-size="7.6">Average</text>
<text x="468" y="437.8" font-size="14">k</text>
<rect x="546.9" y="430.2" width="7.1" height="6.9" fill="#686868"/>
<text x="558.8" y="436.9" font-size="8.7">Before stimulation</text>
<rect x="546.9" y="440.3" width="7.1" height="6.9" fill="#1b86a3"/>
<text x="558.8" y="446.9" font-size="8.7">During stimulation</text>
<rect x="523.9" y="546.9" width="19.1" height="4.4" fill="#686868" stroke="#000" stroke-width="1.1"/>
<rect x="552.8" y="486.9" width="18.4" height="64.4" fill="#1b86a3" stroke="#000" stroke-width="1.1"/>
<line x1="533.4" y1="545.7" x2="533.4" y2="548.1" stroke="#000" stroke-width="1"/>
<line x1="531" y1="545.7" x2="535.8" y2="545.7" stroke="#000" stroke-width="1"/>
<line x1="531" y1="548.1" x2="535.8" y2="548.1" stroke="#000" stroke-width="1"/>
<line x1="562" y1="483.5" x2="562" y2="490.3" stroke="#000" stroke-width="1"/>
<line x1="559.6" y1="483.5" x2="564.4" y2="483.5" stroke="#000" stroke-width="1"/>
<line x1="559.6" y1="490.3" x2="564.4" y2="490.3" stroke="#000" stroke-width="1"/>
<circle cx="527.6" cy="543" r="1.7" fill="#fff" stroke="#000" stroke-width="1.15"/>
<circle cx="533.4" cy="544.9" r="1.7" fill="#fff" stroke="#000" stroke-width="1.15"/>
<circle cx="539.5" cy="542.4" r="1.7" fill="#fff" stroke="#000" stroke-width="1.15"/>
<circle cx="527.9" cy="548.8" r="1.7" fill="#fff" stroke="#000" stroke-width="1.15"/>
<circle cx="533.1" cy="549.4" r="1.7" fill="#fff" stroke="#000" stroke-width="1.15"/>
<circle cx="538.2" cy="548.8" r="1.7" fill="#fff" stroke="#000" stroke-width="1.15"/>
<circle cx="561.3" cy="469.8" r="1.7" fill="#fff" stroke="#000" stroke-width="1.15"/>
<circle cx="561.3" cy="482.9" r="1.7" fill="#fff" stroke="#000" stroke-width="1.15"/>
<circle cx="558.1" cy="489" r="1.7" fill="#fff" stroke="#000" stroke-width="1.15"/>
<circle cx="565.2" cy="489" r="1.7" fill="#fff" stroke="#000" stroke-width="1.15"/>
<circle cx="564.6" cy="493.5" r="1.7" fill="#fff" stroke="#000" stroke-width="1.15"/>
<circle cx="561.3" cy="497.4" r="1.7" fill="#fff" stroke="#000" stroke-width="1.15"/>
<line x1="513.8" y1="452.3" x2="513.8" y2="551.8" stroke="#0c0c0c" stroke-width="1.1"/>
<line x1="513.8" y1="551.3" x2="580.4" y2="551.3" stroke="#0c0c0c" stroke-width="1.1"/>
<line x1="510.6" y1="551.3" x2="513.8" y2="551.3" stroke="#0c0c0c" stroke-width="1"/>
<text x="509.6" y="554.3" font-size="8.2" text-anchor="end">0</text>
<line x1="510.6" y1="526.7" x2="513.8" y2="526.7" stroke="#0c0c0c" stroke-width="1"/>
<text x="509.6" y="529.6" font-size="8.2" text-anchor="end">20</text>
<line x1="510.6" y1="502" x2="513.8" y2="502" stroke="#0c0c0c" stroke-width="1"/>
<text x="509.6" y="505" font-size="8.2" text-anchor="end">40</text>
<line x1="510.6" y1="477.4" x2="513.8" y2="477.4" stroke="#0c0c0c" stroke-width="1"/>
<text x="509.6" y="480.4" font-size="8.2" text-anchor="end">60</text>
<line x1="510.6" y1="452.8" x2="513.8" y2="452.8" stroke="#0c0c0c" stroke-width="1"/>
<text x="509.6" y="455.7" font-size="8.2" text-anchor="end">80</text>
<text x="546.9" y="459.7" font-size="8" text-anchor="middle">****</text>
<line x1="533.1" y1="460.2" x2="560.7" y2="460.2" stroke="#000" stroke-width="1.1"/>
<text x="498.8" y="500" font-size="9.1" text-anchor="middle" transform="rotate(-90 498.8 500)">Total distance (cm)</text>
<rect x="628.2" y="548.5" width="19" height="2.8" fill="#686868" stroke="#000" stroke-width="1.1"/>
<rect x="656.8" y="476.8" width="18.6" height="74.5" fill="#1b86a3" stroke="#000" stroke-width="1.1"/>
<line x1="637.7" y1="547.6" x2="637.7" y2="549.4" stroke="#000" stroke-width="1"/>
<line x1="635.3" y1="547.6" x2="640.1" y2="547.6" stroke="#000" stroke-width="1"/>
<line x1="635.3" y1="549.4" x2="640.1" y2="549.4" stroke="#000" stroke-width="1"/>
<line x1="666.1" y1="471.6" x2="666.1" y2="482" stroke="#000" stroke-width="1"/>
<line x1="663.7" y1="471.6" x2="668.5" y2="471.6" stroke="#000" stroke-width="1"/>
<line x1="663.7" y1="482" x2="668.5" y2="482" stroke="#000" stroke-width="1"/>
<circle cx="630.4" cy="548.5" r="1.7" fill="#fff" stroke="#000" stroke-width="1.15"/>
<circle cx="636.8" cy="546.2" r="1.7" fill="#fff" stroke="#000" stroke-width="1.15"/>
<circle cx="643.2" cy="546.2" r="1.7" fill="#fff" stroke="#000" stroke-width="1.15"/>
<circle cx="632" cy="550.4" r="1.7" fill="#fff" stroke="#000" stroke-width="1.15"/>
<circle cx="638.4" cy="550.4" r="1.7" fill="#fff" stroke="#000" stroke-width="1.15"/>
<circle cx="643.5" cy="549.4" r="1.7" fill="#fff" stroke="#000" stroke-width="1.15"/>
<circle cx="659.9" cy="465" r="1.7" fill="#fff" stroke="#000" stroke-width="1.15"/>
<circle cx="665.7" cy="466.9" r="1.7" fill="#fff" stroke="#000" stroke-width="1.15"/>
<circle cx="671.5" cy="465" r="1.7" fill="#fff" stroke="#000" stroke-width="1.15"/>
<circle cx="667.3" cy="478.4" r="1.7" fill="#fff" stroke="#000" stroke-width="1.15"/>
<circle cx="665.7" cy="487.4" r="1.7" fill="#fff" stroke="#000" stroke-width="1.15"/>
<circle cx="665.7" cy="492.6" r="1.7" fill="#fff" stroke="#000" stroke-width="1.15"/>
<line x1="618.2" y1="452.3" x2="618.2" y2="551.8" stroke="#0c0c0c" stroke-width="1.1"/>
<line x1="618.2" y1="551.3" x2="685" y2="551.3" stroke="#0c0c0c" stroke-width="1.1"/>
<line x1="615" y1="551.3" x2="618.2" y2="551.3" stroke="#0c0c0c" stroke-width="1"/>
<text x="614" y="554.3" font-size="8.2" text-anchor="end">0</text>
<line x1="615" y1="518.5" x2="618.2" y2="518.5" stroke="#0c0c0c" stroke-width="1"/>
<text x="614" y="521.4" font-size="8.2" text-anchor="end">20</text>
<line x1="615" y1="485.6" x2="618.2" y2="485.6" stroke="#0c0c0c" stroke-width="1"/>
<text x="614" y="488.6" font-size="8.2" text-anchor="end">40</text>
<line x1="615" y1="452.8" x2="618.2" y2="452.8" stroke="#0c0c0c" stroke-width="1"/>
<text x="614" y="455.7" font-size="8.2" text-anchor="end">60</text>
<text x="651.3" y="457.4" font-size="8" text-anchor="middle">****</text>
<line x1="637.4" y1="457.7" x2="665.1" y2="457.7" stroke="#000" stroke-width="1.1"/>
<text x="603.8" y="501.9" font-size="9.1" text-anchor="middle" transform="rotate(-90 603.8 501.9)">Maximum speed (cm/s)</text>
<text x="7.6" y="573.2" font-size="14">l</text>
<text x="134.3" y="577.9" font-size="10.3" text-anchor="middle" fill="#b0191e">SCI (Stagger injury)</text>
<text x="81.5" y="596.1" font-size="10.2" text-anchor="middle">Electrode</text>
<text x="81.5" y="608.1" font-size="10.2" text-anchor="middle">implantation</text>
<line x1="36.3" y1="622.9" x2="407" y2="622.9" stroke="#0c0c0c" stroke-width="1"/>
<path d="M412.8 622.9 405.8 620.6 405.8 625.2Z" fill="#0c0c0c" stroke="none" stroke-width="0"/>
<line x1="81.6" y1="614.4" x2="81.6" y2="631.2" stroke="#0c0c0c" stroke-width="1"/>
<rect x="130.3" y="583.2" width="5.7" height="52.7" fill="#a01419"/>
<line x1="158.5" y1="616.8" x2="158.5" y2="635.6" stroke="#0c0c0c" stroke-width="1"/>
<text x="158.5" y="594.3" font-size="10.1" text-anchor="middle">LHA DBS</text>
<line x1="136.7" y1="595.7" x2="180.3" y2="595.7" stroke="#0c0c0c" stroke-width="0.9"/>
<line x1="158.5" y1="595.7" x2="158.5" y2="601.8" stroke="#0c0c0c" stroke-width="0.9"/>
<path d="M158.5 603.8 156.8 600.4 160.2 600.4Z" fill="#0c0c0c" stroke="none" stroke-width="0"/>
<text x="158.5" y="613" font-size="9.8" text-anchor="middle">Week 1</text>
<line x1="184.2" y1="618.4" x2="184.2" y2="627.6" stroke="#0c0c0c" stroke-width="1"/>
<line x1="209.9" y1="618.4" x2="209.9" y2="627.6" stroke="#0c0c0c" stroke-width="1"/>
<line x1="235.5" y1="616.8" x2="235.5" y2="635.6" stroke="#0c0c0c" stroke-width="1"/>
<text x="235.5" y="594.3" font-size="10.1" text-anchor="middle">LHA DBS</text>
<line x1="213.7" y1="595.7" x2="257.3" y2="595.7" stroke="#0c0c0c" stroke-width="0.9"/>
<line x1="235.5" y1="595.7" x2="235.5" y2="601.8" stroke="#0c0c0c" stroke-width="0.9"/>
<path d="M235.5 603.8 233.8 600.4 237.2 600.4Z" fill="#0c0c0c" stroke="none" stroke-width="0"/>
<text x="235.5" y="613" font-size="9.8" text-anchor="middle">Week 4</text>
<line x1="261.2" y1="618.4" x2="261.2" y2="627.6" stroke="#0c0c0c" stroke-width="1"/>
<line x1="286.9" y1="618.4" x2="286.9" y2="627.6" stroke="#0c0c0c" stroke-width="1"/>
<line x1="312.6" y1="618.4" x2="312.6" y2="627.6" stroke="#0c0c0c" stroke-width="1"/>
<line x1="338.3" y1="618.4" x2="338.3" y2="627.6" stroke="#0c0c0c" stroke-width="1"/>
<line x1="363.9" y1="618.4" x2="363.9" y2="627.6" stroke="#0c0c0c" stroke-width="1"/>
<line x1="389.6" y1="616.8" x2="389.6" y2="635.6" stroke="#0c0c0c" stroke-width="1"/>
<text x="389.6" y="594.3" font-size="10.1" text-anchor="middle">LHA DBS</text>
<line x1="367.8" y1="595.7" x2="411.4" y2="595.7" stroke="#0c0c0c" stroke-width="0.9"/>
<line x1="389.6" y1="595.7" x2="389.6" y2="601.8" stroke="#0c0c0c" stroke-width="0.9"/>
<path d="M389.6 603.8 387.9 600.4 391.3 600.4Z" fill="#0c0c0c" stroke="none" stroke-width="0"/>
<text x="389.6" y="613" font-size="9.8" text-anchor="middle">Week 10</text>
<rect x="124.2" y="639.3" width="69.9" height="11" fill="#fff" stroke="#0c0c0c" stroke-width="1"/>
<text x="159.2" y="648.5" font-size="9.9" text-anchor="middle">Behavior test</text>
<rect x="201.5" y="639.3" width="69.5" height="11" fill="#fff" stroke="#0c0c0c" stroke-width="1"/>
<text x="236.2" y="648.5" font-size="9.9" text-anchor="middle">Behavior test</text>
<rect x="354.6" y="639.3" width="70.6" height="11" fill="#fff" stroke="#0c0c0c" stroke-width="1"/>
<text x="389.9" y="648.5" font-size="9.9" text-anchor="middle">Behavior test</text>
<text x="459.6" y="573" font-size="14">m</text>
<text x="553.4" y="576.1" font-size="10.3" text-anchor="middle" fill="#a57b3b">Electrical stimulation</text>
<path d="M541.4 604.9C541.8 605.3 543.5 606.7 544.3 607.4C545.2 608.1 546.8 609.5 548 610C549.2 610.6 551.2 611.5 553.1 611.8C555 612.1 559.7 612.4 562.6 612.5C565.5 612.7 570.5 612.8 575 612.8C579.5 612.9 588.8 612.8 596 612.9C603.3 613 621.6 613.4 629.6 613.6C637.7 613.7 650.4 614 656.5 614.2C662.5 614.5 674.9 615.1 674.9 615.4C674.9 615.7 662.5 616.3 656.5 616.6C650.4 616.8 637.7 617.1 629.6 617.3C621.6 617.4 603.3 617.9 596 617.9C588.8 617.9 579.5 617.2 575 617.2C570.5 617.1 565.5 617.3 562.6 617.5C559.7 617.6 555 617.9 553.1 618.2C551.2 618.5 549.2 619.4 548 620C546.8 620.5 545.2 621.9 544.3 622.6C543.5 623.3 541.8 624.7 541.4 625.1Z" fill="#c4c2c2" stroke="#3a3a3a" stroke-width="0.7"/>
<path d="M525.4 596.9C526.7 596.7 530.8 595.1 533.1 595.4C535.4 595.8 537.6 597.5 539.2 598.9C540.9 600.4 542.1 601.6 542.9 604.2C543.6 606.8 543.8 611.2 543.8 614.7C543.8 618.3 543.6 622.8 542.9 625.5C542.1 628.2 540.9 629.5 539.2 631.1C537.6 632.6 535.4 634.5 533.1 634.9C530.8 635.2 526.7 633.4 525.4 633.1Z" fill="#c4c2c2" stroke="#3a3a3a" stroke-width="0.7"/>
<path d="M537.5 599.1C537.8 600.3 538.9 603.8 539.2 606.4C539.6 609 539.7 611.9 539.7 614.7C539.7 617.5 539.6 620.5 539.2 623.2C538.9 625.9 537.8 629.5 537.5 630.8" fill="none" stroke="#3a3a3a" stroke-width="0.6"/>
<path d="M543 604.9C542.5 605.4 540.9 607.2 540 607.8C539 608.5 537.9 608.7 537.5 608.9" fill="none" stroke="#3a3a3a" stroke-width="0.6"/>
<path d="M543 624.9C542.5 624.4 540.9 622.7 540 622C539 621.3 537.9 621 537.5 620.8" fill="none" stroke="#3a3a3a" stroke-width="0.6"/>
<path d="M511.5 604.2 530.5 604.2 530.5 625.5 511.5 625.5Z" fill="#c4c2c2" stroke="none" stroke-width="0"/>
<path d="M479.4 611.5C479.7 611 480.5 609 481.6 608.3C482.7 607.6 484.7 606.8 485.9 607.1C487.2 607.4 488.5 608.8 488.9 610C489.3 611.3 489.8 613.7 488.4 614.4C487.1 615.1 482.1 614.4 480.8 614.4Z" fill="#c4c2c2" stroke="#3a3a3a" stroke-width="0.7"/>
<path d="M479.4 618.2C479.6 617.7 479.3 615.8 480.8 615.3C482.3 614.8 487.1 614.6 488.4 615.3C489.8 616 489.3 618.2 488.9 619.4C488.5 620.6 487.2 622.3 485.9 622.6C484.7 622.9 482.3 621.6 481.6 621.4Z" fill="#c4c2c2" stroke="#3a3a3a" stroke-width="0.7"/>
<path d="M486.4 610C487.1 608.6 488.6 604.2 490.8 601.6C493 598.9 496.1 596.1 499.5 594.3C502.9 592.4 507.7 590.9 511.2 590.3C514.7 589.7 517.9 590 520.3 590.8C522.6 591.5 524.2 593.1 525.4 594.9C526.5 596.7 527.1 599.3 527 601.6C526.8 603.9 525.9 606.6 524.6 608.6C523.3 610.5 520.7 612.2 519.1 613.2C517.4 614.3 515.4 614.5 514.7 614.7C514 615 517.2 614.7 514.7 614.7C512.2 614.7 504.5 614.9 499.8 614.9C495.1 614.9 488.9 614.7 486.7 614.7Z" fill="#c4c2c2" stroke="#3a3a3a" stroke-width="0.7"/>
<path d="M486.4 619.4C487.1 620.8 488.6 625.5 490.8 628.1C493 630.8 496.1 633.3 499.5 635.1C502.9 637 507.7 638.6 511.2 639.2C514.7 639.8 517.9 639.4 520.3 638.6C522.6 637.9 524.2 636.6 525.4 634.9C526.5 633.1 527.1 630.4 527 628.1C526.8 625.9 525.9 623.4 524.6 621.4C523.3 619.5 520.7 617.5 519.1 616.5C517.4 615.4 515.4 615.2 514.7 615C514 614.8 517.2 615 514.7 615C512.2 615 504.5 614.9 499.8 614.9C495.1 614.8 488.9 614.9 486.7 614.9Z" fill="#c4c2c2" stroke="#3a3a3a" stroke-width="0.7"/>
<line x1="480.8" y1="614.9" x2="515.1" y2="614.9" stroke="#3a3a3a" stroke-width="0.8"/>
<line x1="545.1" y1="614.1" x2="673.3" y2="615.2" stroke="#444" stroke-width="0.45" stroke-dasharray="2 1.3"/>
<line x1="545.1" y1="615.8" x2="673.3" y2="615.7" stroke="#444" stroke-width="0.45" stroke-dasharray="2 1.3"/>
<line x1="505.9" y1="580.8" x2="505.9" y2="620.3" stroke="#222" stroke-width="1.0"/>
<rect x="499.1" y="594.7" width="15" height="5.9" fill="#666" stroke="#333" stroke-width="0.5"/>
<rect x="502.4" y="592.2" width="7.6" height="2.7" fill="#d6d58e"/>
<text x="506.6" y="599.1" font-size="3.8" text-anchor="middle" fill="#fff">DBS</text>
<circle cx="506.1" cy="608.9" r="1.4" fill="#d9232e" stroke="none" stroke-width="0"/>
<text x="496.1" y="610.9" font-size="5" text-anchor="middle" font-weight="bold">LHA</text>
<circle cx="506.1" cy="620.3" r="1.4" fill="#d9232e" stroke="none" stroke-width="0"/>
<text x="496.1" y="622.3" font-size="5" text-anchor="middle" font-weight="bold">LHA</text>
<text x="583.3" y="604.6" font-size="10.2" text-anchor="middle">T7</text>
<text x="626.3" y="604.7" font-size="10.3" text-anchor="middle" fill="#b0191e">Stagger injury</text>
<text x="600.1" y="636.5" font-size="10.2" text-anchor="middle">T10</text>
<path d="M581.9 610.4 584.6 610.4 583.6 615.7 582.9 615.7Z" fill="#111" stroke="none" stroke-width="0"/>
<path d="M597 622.5 599.7 622.5 598.7 616.4 598 616.4Z" fill="#111" stroke="none" stroke-width="0"/>
<text x="8.6" y="667.4" font-size="14">n</text>
<text x="135.2" y="668.8" font-size="9" text-anchor="middle">1 week</text>
<text x="135.2" y="679.6" font-size="9" text-anchor="middle">after injury</text>
<line x1="135.2" y1="683" x2="135.2" y2="693.4" stroke="#0c0c0c" stroke-width="1"/>
<text x="279.2" y="668.8" font-size="9" text-anchor="middle">4 weeks</text>
<text x="279.2" y="679.6" font-size="9" text-anchor="middle">after injury</text>
<line x1="279.2" y1="683" x2="279.2" y2="693.4" stroke="#0c0c0c" stroke-width="1"/>
<text x="418.3" y="668.8" font-size="9" text-anchor="middle">10 weeks</text>
<text x="418.3" y="679.6" font-size="9" text-anchor="middle">after injury</text>
<line x1="418.3" y1="683" x2="418.3" y2="693.4" stroke="#0c0c0c" stroke-width="1"/>
<line x1="92.9" y1="689.3" x2="464" y2="689.3" stroke="#0c0c0c" stroke-width="1"/>
<path d="M470.4 689.3 463.4 687 463.4 691.6Z" fill="#0c0c0c" stroke="none" stroke-width="0"/>
<line x1="202.9" y1="699" x2="202.9" y2="928" stroke="#2a2a2a" stroke-width="1.2" stroke-dasharray="5.4 4.95" stroke-dashoffset="2.6"/>
<line x1="348" y1="699" x2="348" y2="928" stroke="#2a2a2a" stroke-width="1.2" stroke-dasharray="5.4 4.95" stroke-dashoffset="2.6"/>
<text x="7.7" y="748.6" font-size="10.3" text-anchor="middle" transform="rotate(-90 7.7 748.6)">Electrical</text>
<text x="19.9" y="748.1" font-size="10.3" text-anchor="middle" transform="rotate(-90 19.9 748.1)">stimulation off</text>
<line x1="23.9" y1="704.1" x2="23.9" y2="792.8" stroke="#0c0c0c" stroke-width="1"/>
<text x="7.7" y="864.5" font-size="10.3" text-anchor="middle" transform="rotate(-90 7.7 864.5)">Electrical</text>
<text x="19.9" y="864.2" font-size="10.3" text-anchor="middle" transform="rotate(-90 19.9 864.2)">stimulation on</text>
<line x1="23.9" y1="810.3" x2="23.9" y2="917.5" stroke="#0c0c0c" stroke-width="1"/>
<line x1="66.2" y1="722.6" x2="66.2" y2="733.2" stroke="#0c0c0c" stroke-width="1.1"/>
<text x="61.9" y="729.8" font-size="8.4" text-anchor="middle" transform="rotate(-90 61.9 729.8)">1 cm</text>
<line x1="66.2" y1="738.6" x2="78.4" y2="738.6" stroke="#0c0c0c" stroke-width="1.1"/>
<text x="70.3" y="747.9" font-size="8.7" text-anchor="middle">1 cm</text>
<text x="89.6" y="759.3" font-size="10.3" text-anchor="end">Limb angle</text>
<text x="89.6" y="775.4" font-size="10.3" text-anchor="end">Flexor</text>
<text x="89.6" y="792.2" font-size="10.3" text-anchor="end">Extensor</text>
<text x="89.6" y="880.8" font-size="10.3" text-anchor="end">Limb angle</text>
<text x="89.6" y="897.3" font-size="10.3" text-anchor="end">Flexor</text>
<text x="89.6" y="914.3" font-size="10.3" text-anchor="end">Extensor</text>
<path d="M121.4 707L109.1 714.3L125.2 724.8M123.9 707.2L111.5 714.5L128.1 724.8M126.1 707.5L113.9 714.8L130.9 724.7M128.1 707.6L116 714.9L133.3 724.7M129.9 707.8L117.9 715.1L135.4 724.4M131.5 707.8L119.4 715.1L137.1 724.4M132.6 707.8L120.7 715.1L138.2 724.5M134 707.7L121.5 715L138.9 724.7M133.6 707.5L122.1 714.8L139.2 724.3M134.6 707.3L122.5 714.6L139.1 724.4M134.4 707.1L122.7 714.4L138.9 724.2M135.1 706.8L122.9 714.1L138.7 724.4M134.7 706.6L123.2 713.9L138.5 724.3M135.3 706.4L123.7 713.7L138.7 724M136.1 706.3L124.4 713.6L139.1 724.1M137.5 706.2L125.4 713.5L140 724M139.1 706.2L126.8 713.5L141.4 724.2M140.8 706.3L128.5 713.6L143.3 723.9M142.2 706.4L130.5 713.7L145.6 724.2M144.4 706.6L132.8 713.9L148.2 723.9M147.3 706.9L135.2 714.2L151.1 723.7M149.7 707.1L137.6 714.4L154 724.6M152.3 707.4L140 714.7L156.8 724.2M154.7 707.6L142.3 714.9L159.5 724.5M156.6 707.7L144.3 715L161.7 724.6M158 707.8L146 715.1L163.6 724.2M159.3 707.8L147.4 715.1L165 724.7M160 707.7L148.4 715L165.9 724.1M161.4 707.6L149.1 714.9L166.4 724.2M161.8 707.4L149.6 714.7L166.5 724.5M162 707.2L149.9 714.5L166.4 724.3M162.5 706.9L150.1 714.2L166.1 723.7M162.4 706.7L150.3 714L165.9 723.9M162.5 706.5L150.7 713.8L165.9 724.4M163.5 706.3L151.3 713.6L166.1 724.5M163.9 706.2L152.1 713.5L166.8 723.8M165.4 706.2L153.4 713.5L168 723.9M166.9 706.2L154.9 713.5L169.6 724.3M168.8 706.4L156.8 713.7L171.7 723.8M170.6 706.5L158.9 713.8L174.2 724.1M172.8 706.8L161.3 714.1L176.9 723.3M176.5 707L163.7 714.3L179.8 724.4M96.2 727.2L118 720M96.3 727.2L119.7 720.6M96.5 727.1L121.4 721.2M96.6 727.1L123.1 721.8M96.7 727.1L124.9 722.4M96.8 727L126.6 722.9M97 727L128.3 723.5M97.1 726.9L130 724.1M97.2 726.9L131.8 724.7M98.2 726.8L125.2 724.6M99.8 726.6L136.1 724.6M101.4 726.5L147.1 724.6M103 726.3L158 724.6M104.6 726.2L168.9 724.6M106.2 726L179.8 724.6" stroke="#b8282e" stroke-width="0.72" fill="none" stroke-linejoin="round"/>
<rect x="94.6" y="737" width="85" height="5.2" fill="#b4b4b4" stroke="#3c3f48" stroke-width="0.7"/>
<path d="M94.6 736.1C95.7 736.1 99 736.1 101.1 736.1C103.3 736.2 105.5 736.4 107.7 736.5C109.9 736.5 112 736.3 114.2 736.3C116.4 736.3 118.6 736.2 120.8 736.3C122.9 736.3 125.1 736.6 127.3 736.6C129.5 736.7 131.7 736.4 133.8 736.4C136 736.4 138.2 736.5 140.4 736.5C142.5 736.4 144.7 736.1 146.9 736C149.1 735.9 151.3 736 153.4 735.9C155.6 735.9 157.8 735.5 160 735.5C162.2 735.5 164.3 736 166.5 736.1C168.7 736.2 170.9 736.1 173.1 736.2C175.2 736.2 178.5 736.2 179.6 736.3" fill="none" stroke="#2d3345" stroke-width="0.8"/>
<path d="M94.6 754.6 95.7 754.6 96.8 754.8 98 754.7 99.1 754.7 100.2 754.9 101.3 754.8 102.4 754.9 103.5 754.7 104.7 754.7 105.8 754.5 106.9 754.7 108 754.8 109.1 754.8 110.3 754.6 111.4 754.5 112.5 754.6 113.6 754.6 114.7 754.8 115.8 754.9 117 754.4 118.1 753.7 119.2 753.4 120.3 753.8 121.4 754.1 122.6 754.1 123.7 754.5 124.8 754.2 125.9 754.1 127 754 128.2 754.3 129.3 754.5 130.4 754 131.5 753.6 132.6 753.4 133.7 753.5 134.9 753.6 136 753.4 137.1 753.3 138.2 753.4 139.3 753.6 140.5 753.6 141.6 753.8 142.7 753.8 143.8 753.9 144.9 754.1 146 754.3 147.2 754.1 148.3 754.2 149.4 754.1 150.5 754.6 151.6 754.4 152.8 754.8 153.9 754.7 155 754.7 156.1 754.4 157.2 754.3 158.3 754.5 159.5 754.3 160.6 754 161.7 753.9 162.8 753.9 163.9 754.2 165.1 754.3 166.2 754.1 167.3 754.1 168.4 754.2 169.5 754.4 170.7 754.2 171.8 754.1 172.9 754.2 174 754.6 175.1 754.4 176.2 754 177.4 753.8 178.5 753.8 179.6 754.2" fill="none" stroke="#111" stroke-width="0.9" stroke-linejoin="round"/>
<path d="M94.6 772.08v0.60M95.3 772.11v0.60M96 771.81v1.18M96.7 772.07v0.60M97.4 771.97v0.60M98.1 771.63v1.84M98.8 772.13v0.60M99.5 772.18v0.60M100.2 771.91v1.23M100.9 772.06v0.60M101.6 772.00v0.73M102.3 771.78v1.11M103 772.12v0.60M103.7 771.98v0.60M104.4 772.11v0.60M105.1 771.80v1.35M105.8 771.90v0.88M106.5 771.66v1.74M107.2 771.81v2.05M107.9 771.97v0.92M108.6 772.00v0.90M109.3 772.11v0.60M110 772.01v0.60M110.7 772.06v0.60M111.4 772.07v0.60M112.1 772.06v0.81M112.8 772.12v0.60M113.5 772.07v0.60M114.2 772.07v0.60M114.9 772.10v0.60M115.6 771.95v0.71M116.3 771.96v0.77M117 772.09v0.60M117.7 771.92v1.01M118.4 771.96v0.72M119.1 772.15v0.69M119.8 772.03v0.60M120.5 772.01v0.60M121.2 770.67v2.65M121.9 772.13v0.62M122.6 771.92v1.02M123.3 771.95v0.99M124 772.16v0.60M124.7 772.12v0.60M125.4 772.08v0.73M126.1 771.76v1.51M126.8 771.95v0.73M127.5 772.20v0.60M128.2 771.95v0.82M128.9 771.67v1.35M129.6 772.11v0.60M130.3 771.21v2.48M131 772.02v0.66M131.7 771.87v0.82M132.4 771.85v1.31M133.1 771.58v1.63M133.8 771.93v0.90M134.5 771.73v1.39M135.2 772.07v0.60M135.9 772.13v0.60M136.6 772.01v0.60M137.3 772.08v0.61M138 772.16v0.60M138.7 771.85v1.01M139.4 772.01v0.97M140.1 772.16v0.60M140.8 772.14v0.60M141.5 771.61v1.89M142.2 771.96v1.01M142.9 772.08v0.69M143.6 772.08v0.92M144.3 771.98v0.92M145 772.03v0.60M145.7 771.96v0.95M146.4 771.71v1.56M147.1 771.44v1.39M147.8 771.70v1.48M148.5 771.59v1.67M149.2 772.13v0.60M149.9 772.17v0.60M150.6 772.12v0.60M151.3 771.79v1.01M152 772.01v1.13M152.7 772.08v0.60M153.4 772.07v0.60M154.1 772.06v0.60M154.8 772.00v0.61M155.5 772.00v0.73M156.2 771.95v0.87M156.9 772.11v0.60M157.6 772.00v0.86M158.3 770.05v3.75M159 772.05v0.66M159.7 771.99v0.60M160.4 771.82v1.28M161.1 772.20v0.60M161.8 771.91v1.01M162.5 770.52v3.27M163.2 772.07v0.65M163.9 772.15v0.60M164.6 772.05v0.60M165.3 772.26v0.60M166 771.22v1.51M166.7 772.05v0.60M167.4 771.92v0.92M168.1 772.00v0.97M168.8 772.01v0.82M169.5 772.12v0.60M170.2 771.61v1.77M170.9 772.18v0.60M171.6 772.10v0.60M172.3 771.98v0.75M173 771.93v0.60M173.7 771.79v1.37M174.4 772.16v0.60M175.1 772.12v0.60M175.8 771.33v2.05M176.5 772.20v0.60M177.2 771.77v1.76M177.9 771.79v0.85M178.6 772.10v0.60M179.3 772.07v0.64" stroke="#0a0a0a" stroke-width="0.9" fill="none"/>
<line x1="94.6" y1="772.4" x2="179.8" y2="772.4" stroke="#0a0a0a" stroke-width="0.5"/>
<path d="M94.6 789.82v0.90M95.3 789.73v1.29M96 788.90v2.66M96.7 789.92v0.95M97.4 788.79v2.73M98.1 789.16v2.42M98.8 789.28v1.78M99.5 790.01v0.89M100.2 789.81v1.10M100.9 789.95v0.98M101.6 790.14v0.60M102.3 789.14v2.00M103 790.09v0.60M103.7 790.01v0.83M104.4 789.99v0.90M105.1 790.15v0.60M105.8 790.03v0.60M106.5 790.18v0.60M107.2 790.01v0.79M107.9 790.05v0.60M108.6 789.88v1.07M109.3 790.08v0.68M110 789.52v1.66M110.7 790.13v0.67M111.4 790.15v0.60M112.1 789.83v1.37M112.8 789.95v0.91M113.5 789.67v0.98M114.2 790.04v1.24M114.9 789.86v0.74M115.6 790.11v0.83M116.3 790.12v0.60M117 790.10v0.60M117.7 790.06v0.80M118.4 790.15v0.60M119.1 789.78v1.20M119.8 790.12v0.60M120.5 790.02v0.99M121.2 790.06v0.60M121.9 789.48v1.47M122.6 789.68v1.16M123.3 790.08v0.60M124 790.14v0.60M124.7 789.89v0.97M125.4 790.11v0.60M126.1 790.08v0.60M126.8 790.13v0.74M127.5 789.97v0.75M128.2 790.10v0.60M128.9 790.21v0.61M129.6 790.10v0.60M130.3 790.04v0.68M131 790.20v0.60M131.7 790.03v0.67M132.4 789.06v2.12M133.1 790.08v0.81M133.8 789.97v0.82M134.5 790.08v0.60M135.2 789.59v1.10M135.9 790.11v0.60M136.6 789.80v0.89M137.3 790.05v0.60M138 790.13v0.76M138.7 789.98v0.60M139.4 790.04v0.60M140.1 790.18v0.68M140.8 790.22v0.60M141.5 789.65v1.75M142.2 789.86v1.14M142.9 790.06v0.87M143.6 790.19v0.60M144.3 789.54v1.26M145 789.47v2.36M145.7 787.51v4.95M146.4 789.74v1.37M147.1 788.97v2.29M147.8 790.01v1.70M148.5 790.05v0.60M149.2 790.11v0.60M149.9 789.93v1.19M150.6 790.02v0.78M151.3 789.95v0.81M152 789.96v1.55M152.7 790.03v0.95M153.4 790.10v0.60M154.1 790.00v0.64M154.8 790.13v0.60M155.5 789.75v1.47M156.2 789.77v1.37M156.9 789.99v0.60M157.6 790.20v0.60M158.3 790.14v0.62M159 790.06v0.60M159.7 789.62v1.72M160.4 790.02v0.86M161.1 789.97v0.60M161.8 790.01v0.60M162.5 789.58v2.23M163.2 790.07v0.77M163.9 790.10v0.60M164.6 790.02v0.80M165.3 790.15v0.60M166 789.49v2.25M166.7 790.16v0.60M167.4 789.97v0.74M168.1 790.15v0.60M168.8 790.07v0.60M169.5 789.97v0.60M170.2 790.08v0.68M170.9 789.90v0.76M171.6 790.19v0.60M172.3 789.70v1.36M173 789.91v0.99M173.7 790.06v0.60M174.4 790.14v0.60M175.1 789.75v0.87M175.8 789.88v1.07M176.5 790.01v0.79M177.2 790.17v0.69M177.9 789.86v1.58M178.6 789.99v0.60M179.3 789.11v2.76" stroke="#0a0a0a" stroke-width="0.9" fill="none"/>
<line x1="94.6" y1="790.4" x2="179.8" y2="790.4" stroke="#0a0a0a" stroke-width="0.5"/>
<path d="M253.6 706.6L243.5 712.8L261.5 724.3M245.6 716.9L267.1 724.8M256.1 706.8L245.2 713.3L264.1 724.4M258.5 706.5L246.6 713.6L266 724.2M252 717.6L266.5 724.3M260 706.2L247.6 713.6L267 724M260.3 705.8L248.1 713.3L267.1 724.3M254.2 717.4L269.7 724.5M261.3 705.1L248.3 712.8L266.4 724.5M261.1 704.4L248.5 712.4L265.7 723.6M255.6 716.4L268 724M261.7 704.4L249 712.1L265.6 723.9M261.7 705L249.8 712L266.4 723.5M255 716.1L268.8 724.2M262 705.5L251.2 712.3L268.2 723.6M263.1 706.4L252.9 712.7L270.7 723.9M255.9 716.8L274.9 724.4M265.3 706.7L254.6 713.2L273.3 724.6M267.6 706.7L256.1 713.5L275.4 724.9M262.3 717.6L276.9 724.5M268.6 706.7L257.2 713.6L276.6 724.1M269.6 706.3L257.8 713.4L276.8 723.8M261.3 717.4L274 724.3M271.6 705L258 712.9L276.3 724M271.4 704.6L258.2 712.5L275.6 723.9M262.1 716.5L275.8 724.6M271 704.6L258.6 712.1L275.2 723.8M271.8 704.6L259.3 712L275.8 723.8M264 716.1L277.6 723.4M271.7 705.6L260.6 712.2L277.4 724M273.1 706.3L262.2 712.6L279.9 723.5M268.3 716.7L280.2 723.4M274.3 706.8L264 713.1L282.5 724.2M276.5 706.7L265.6 713.5L284.8 723.9M271 717.5L287.6 724.2M278.7 706.8L266.7 713.6L286.2 724.3M280.8 705.6L267.4 713.4L286.6 723.9M274.7 717.5L286.7 724M281.8 704.7L267.7 713L286.2 724M282.4 704L267.9 712.6L285.4 724.2M273.7 716.6L285.9 724.1M280.7 704.7L268.2 712.2L285 724.1M280.5 704.8L268.9 712L285.3 723.7M272.6 716.1L286.2 723.6M281.7 705.3L270 712.1L286.8 723.5M282.1 706.1L271.6 712.5L289.1 724.2M277.3 716.6L292.1 723.8M283.8 706.7L273.4 713L291.7 724.3M285.8 706.6L275 713.4L294.1 724.5M279.4 717.5L299.6 724.3M287.3 706.6L276.3 713.6L295.7 724.3M289.1 706.1L277 713.5L296.3 724.1M282.4 717.6L298.8 724.4M289.5 705.8L277.4 713.1L296 723.7M291.7 704.1L277.6 712.7L295.3 723.4M284.5 716.7L296.8 723.3M290.4 704.7L277.8 712.2L294.7 724M291 704.4L278.4 712L294.9 723.9M282.9 716.1L299 724.1M291 705.1L279.5 712.1L296.1 723.4M291.8 706L281 712.4L298.3 723.4M285.5 716.5L300.5 723.3M293.3 706.6L282.7 712.9L300.9 724.3M294.9 706.6L284.4 713.3L303.4 724.4M291.5 717.4L305 724.1M297.7 706.7L285.8 713.6L305.2 724.3M298.8 706.4L286.6 713.5L306 723.7M293.2 717.6L306.8 724.1M300.8 705.1L287.1 713.2L305.8 724.1M301 704L287.3 712.8L305.1 723.9M295 716.8L307.4 723.9M301.1 704.2L287.5 712.3L304.5 724M299.2 705.1L288 712L304.5 724.1M295.8 716.1L303.9 725.1M300 705.3L289 712L305.5 723.3M301.2 705.9L290.4 712.3L307.5 723.5M293.5 716.4L311.7 723.3M303.2 706.6L292.1 712.8L310.1 724.9M231.4 727.2L253.4 719.2M231.5 727.2L255.1 719.8M231.7 727.1L256.9 720.5M231.8 727.1L258.6 721.1M231.9 727.1L260.4 721.8M232 727L262.1 722.4M232.2 727L263.8 723.1M232.3 726.9L265.6 723.7M232.4 726.9L267.3 724.4M233.4 726.8L261.5 724.3M235 726.6L271.2 724.3M236.6 726.5L280.9 724.3M238.2 726.3L290.6 724.3M239.8 726.2L300.4 724.3M241.4 726L310.1 724.3" stroke="#b8282e" stroke-width="0.72" fill="none" stroke-linejoin="round"/>
<rect x="233.8" y="736.6" width="85.2" height="5.2" fill="#b4b4b4" stroke="#3c3f48" stroke-width="0.7"/>
<path d="M233.8 735.4C234.9 735.5 238.2 735.7 240.4 735.8C242.5 736 244.7 736.3 246.9 736.4C249.1 736.4 251.3 736.2 253.5 736.1C255.6 736 257.8 735.9 260 735.9C262.2 735.8 264.4 735.8 266.6 735.8C268.8 735.8 270.9 735.9 273.1 735.9C275.3 735.9 277.5 735.7 279.7 735.7C281.9 735.7 284 735.9 286.2 735.8C288.4 735.7 290.6 735.4 292.8 735.3C295 735.3 297.2 735.5 299.3 735.5C301.5 735.6 303.7 735.5 305.9 735.6C308.1 735.7 310.3 735.9 312.4 735.9C314.6 736 317.9 735.7 319 735.7" fill="none" stroke="#2d3345" stroke-width="0.8"/>
<path d="M233.8 754.8 234.9 755.1 236 755.4 237.2 755.2 238.3 755 239.4 755 240.5 755 241.6 754.9 242.8 754.9 243.9 754.6 245 754.7 246.1 754.7 247.3 754.9 248.4 754.7 249.5 754.7 250.6 754.5 251.7 754.7 252.9 754.7 254 754.8 255.1 754.7 256.2 754.7 257.3 754.8 258.5 755.2 259.6 755.2 260.7 754.9 261.8 754.4 262.9 754.9 264.1 755.3 265.2 755.8 266.3 755.9 267.4 756 268.6 755.9 269.7 755.8 270.8 755.9 271.9 755.7 273 755.7 274.2 755.6 275.3 756.1 276.4 756.1 277.5 755.8 278.6 755.4 279.8 755.6 280.9 755.7 282 755.9 283.1 755.4 284.2 755.6 285.4 755.5 286.5 755.5 287.6 755.2 288.7 755.2 289.9 755.4 291 755.5 292.1 755.7 293.2 755.7 294.3 755.5 295.5 755 296.6 755 297.7 755 298.8 755.1 299.9 755 301.1 755.1 302.2 754.9 303.3 754.7 304.4 754.2 305.5 754.5 306.7 754.7 307.8 755.3 308.9 755.1 310 755 311.2 754.8 312.3 754.8 313.4 754.7 314.5 754.4 315.6 754.7 316.8 754.9 317.9 755.1 319 754.8" fill="none" stroke="#111" stroke-width="0.9" stroke-linejoin="round"/>
<path d="M234.2 772.31v0.60M234.9 772.37v0.60M235.6 772.15v0.79M236.3 772.38v0.60M237 772.24v0.60M237.7 772.45v0.60M238.4 772.35v0.60M239.1 772.30v0.60M239.8 772.23v0.69M240.5 772.17v0.60M241.2 772.15v1.10M241.9 772.29v0.60M242.6 772.36v0.60M243.3 772.33v0.60M244 772.11v1.05M244.7 772.07v1.00M245.4 772.30v0.60M246.1 772.36v0.60M246.8 772.27v0.60M247.5 772.30v0.60M248.2 772.33v0.60M248.9 772.17v0.73M249.6 772.46v0.67M250.3 771.91v1.40M251 769.97v4.82M251.7 767.97v6.70M252.4 771.66v1.98M253.1 770.63v2.75M253.8 770.29v3.70M254.5 772.30v0.66M255.2 772.21v0.78M255.9 772.23v0.60M256.6 772.34v0.64M257.3 772.39v0.86M258 772.25v0.83M258.7 772.31v0.60M259.4 771.90v0.97M260.1 772.31v0.65M260.8 772.28v0.60M261.5 772.41v0.60M262.2 772.23v0.60M262.9 772.38v0.60M263.6 771.97v0.83M264.3 771.84v1.20M265 772.31v0.60M265.7 772.22v0.60M266.4 772.29v0.60M267.1 772.29v0.60M267.8 772.41v0.60M268.5 771.75v1.74M269.2 772.21v0.91M269.9 772.32v0.60M270.6 772.31v0.60M271.3 772.22v0.60M272 772.27v0.64M272.7 772.39v0.60M273.4 772.42v0.60M274.1 771.84v1.27M274.8 772.23v0.60M275.5 772.40v0.60M276.2 772.24v0.60M276.9 772.34v0.60M277.6 772.29v0.60M278.3 772.21v0.60M279 772.24v0.60M279.7 772.33v0.60M280.4 772.32v0.65M281.1 772.30v0.60M281.8 772.25v0.66M282.5 772.30v0.60M283.2 772.37v0.60M283.9 771.83v1.45M284.6 772.03v1.02M285.3 772.30v0.60M286 772.32v0.60M286.7 772.08v0.84M287.4 772.33v0.76M288.1 772.20v0.60M288.8 771.54v1.49M289.5 772.29v0.60M290.2 772.23v0.60M290.9 772.36v0.60M291.6 772.21v0.60M292.3 772.30v0.60M293 772.25v0.60M293.7 772.29v0.60M294.4 772.23v0.77M295.1 772.30v0.60M295.8 772.08v0.89M296.5 772.35v0.60M297.2 772.31v0.60M297.9 772.36v0.60M298.6 772.18v0.92M299.3 772.33v0.60M300 771.89v1.42M300.7 772.30v0.60M301.4 772.30v0.60M302.1 772.15v0.84M302.8 772.30v0.60M303.5 772.24v0.60M304.2 772.38v0.60M304.9 772.34v0.60M305.6 772.17v0.78M306.3 772.19v0.60M307 772.25v0.60M307.7 772.35v0.64M308.4 772.31v0.60M309.1 771.78v1.96M309.8 772.38v0.60M310.5 772.00v1.30M311.2 772.14v0.60M311.9 772.29v0.60M312.6 772.22v0.78M313.3 772.33v0.60M314 772.26v0.60M314.7 772.31v0.60M315.4 772.41v0.60M316.1 772.40v0.60M316.8 772.37v0.60M317.5 772.12v0.82M318.2 772.35v0.60M318.9 772.35v0.60" stroke="#0a0a0a" stroke-width="0.8" fill="none"/>
<line x1="234.2" y1="772.6" x2="319.2" y2="772.6" stroke="#0a0a0a" stroke-width="0.4"/>
<path d="M234.2 789.78v1.26M234.9 789.72v1.25M235.6 790.10v0.60M236.3 789.75v1.22M237 790.10v0.63M237.7 789.79v1.13M238.4 789.70v1.36M239.1 789.95v0.81M239.8 789.99v0.60M240.5 790.11v0.60M241.2 790.01v0.83M241.9 790.04v0.60M242.6 789.87v0.80M243.3 790.09v0.80M244 789.89v0.75M244.7 790.04v0.66M245.4 790.11v0.60M246.1 790.18v0.60M246.8 789.47v1.71M247.5 789.99v0.60M248.2 790.08v1.00M248.9 789.98v0.92M249.6 790.12v0.60M250.3 790.12v0.66M251 789.97v1.18M251.7 790.25v0.60M252.4 789.93v0.92M253.1 789.64v1.47M253.8 790.04v0.60M254.5 789.93v0.69M255.2 790.18v0.60M255.9 789.77v1.26M256.6 789.71v1.28M257.3 789.39v1.54M258 789.70v1.33M258.7 790.08v0.60M259.4 789.90v1.39M260.1 790.08v0.60M260.8 790.05v0.96M261.5 789.62v1.48M262.2 789.54v1.74M262.9 789.43v1.38M263.6 790.11v0.63M264.3 789.27v2.44M265 788.58v3.59M265.7 789.82v1.74M266.4 789.61v1.42M267.1 789.95v1.02M267.8 789.09v2.41M268.5 789.44v2.05M269.2 790.03v0.69M269.9 790.10v0.65M270.6 790.00v0.68M271.3 790.09v0.62M272 790.18v0.60M272.7 789.92v0.95M273.4 789.54v1.91M274.1 790.05v0.84M274.8 790.06v0.67M275.5 790.03v0.60M276.2 790.13v0.66M276.9 789.97v0.72M277.6 788.13v3.76M278.3 789.81v1.38M279 789.72v1.15M279.7 790.07v0.64M280.4 789.84v1.22M281.1 789.87v1.18M281.8 789.08v3.05M282.5 789.79v1.03M283.2 789.91v0.79M283.9 789.32v2.25M284.6 789.90v0.81M285.3 790.11v0.60M286 789.59v1.55M286.7 789.90v0.92M287.4 790.09v0.67M288.1 789.58v1.92M288.8 790.05v1.08M289.5 789.49v1.76M290.2 789.87v0.98M290.9 789.93v0.84M291.6 789.56v1.76M292.3 790.01v0.81M293 790.13v0.60M293.7 790.02v1.31M294.4 789.98v1.27M295.1 789.56v1.28M295.8 790.01v1.20M296.5 789.86v1.18M297.2 789.99v0.60M297.9 790.12v0.60M298.6 789.88v1.12M299.3 790.24v0.60M300 789.91v0.86M300.7 789.77v1.18M301.4 790.11v0.60M302.1 790.13v0.66M302.8 790.18v0.60M303.5 790.00v0.60M304.2 790.04v0.60M304.9 790.07v0.60M305.6 790.10v0.60M306.3 789.99v0.76M307 789.70v1.26M307.7 790.11v0.60M308.4 790.08v0.60M309.1 790.08v0.60M309.8 790.09v0.60M310.5 789.97v0.68M311.2 789.88v1.44M311.9 790.16v0.60M312.6 790.14v0.64M313.3 789.95v0.71M314 789.84v1.07M314.7 790.16v0.71M315.4 790.08v0.60M316.1 789.96v1.49M316.8 790.13v0.60M317.5 790.08v0.60M318.2 790.08v0.61M318.9 790.01v0.60" stroke="#0a0a0a" stroke-width="0.9" fill="none"/>
<line x1="234.2" y1="790.4" x2="319.2" y2="790.4" stroke="#0a0a0a" stroke-width="0.55"/>
<path d="M392.1 704.6L381.3 711.6L401.1 724.5M386.8 716.1L402.2 724.4M395.6 704.4L382.9 712.2L403.8 724.1M397.4 704.4L384.1 712.4L405.4 724.1M390 716.9L406.1 723.7M401.5 702L384.7 712.1L405.5 724M402 701.2L384.9 711.6L404.6 724M393.6 716L407.7 723.8M401.5 701.1L385.1 711L403.8 724.4M400.1 702.1L385.8 710.8L404.1 724M390.8 715.3L405.5 724.4M399.4 703.6L387 711.1L405.9 723.9M400.7 704.6L388.6 711.7L408.6 724.1M392.5 716.2L411.2 724.4M403.2 704.2L390.2 712.2L411.2 724.3M406.7 703.3L391.3 712.4L412.6 724.4M398 716.9L416.8 724.3M408.1 702.3L391.8 712.1L412.6 724.2M407.1 702.2L392 711.5L411.6 724M394.7 716L415 724.2M408 701.5L392.3 711L410.9 723.6M406.9 702L393 710.8L411.4 723.5M400.5 715.3L415.7 722.7M407.1 703.4L394.3 711.1L413.3 723.5M407.4 704.6L395.9 711.8L416.1 724.5M400.8 716.2L420.9 724.5M409.8 704.5L397.5 712.3L418.6 724.7M414.2 703L398.5 712.4L419.8 724.5M405.4 716.9L420.5 724.1M415.6 702.2L399 712L419.6 723.7M415.7 701.3L399.1 711.4L418.6 724M406.4 715.9L418.1 723.3M413.6 702.5L399.4 710.9L418 724.1M414.2 702.3L400.2 710.8L418.6 723.8M406.3 715.3L422.3 723.5M413.8 703.8L401.6 711.2L420.7 723.8M416 704.6L403.3 711.8L423.5 724.7M411.9 716.3L421.5 724.6M418.8 703.9L404.7 712.3L425.9 723.7M421.6 702.9L405.7 712.4L427 723.8M410.6 716.8L427.4 723.9M422.4 702.4L406.1 711.9L426.6 724M422.5 701.5L406.3 711.3L425.6 724.4M413.8 715.8L430.3 724M420.8 702.2L406.6 710.9L425.1 724.2M420.3 703L407.5 710.9L425.9 723.6M414.6 715.3L426.5 723.3M422.1 703.8L408.9 711.3L428.2 723.6M422.3 704.6L410.6 711.9L431 724M417.8 716.4L434.7 724M425.3 704.3L412 712.3L433.2 724.3M428.8 702.7L412.9 712.3L434.1 724M419.5 716.8L434.5 723.8M427.9 702.9L413.2 711.9L433.6 724.3M429.2 701.6L413.4 711.3L432.6 724.1M420.8 715.7L438 723.3M428.6 701.8L413.8 710.8L432.2 723.9M428.6 702.7L414.8 710.9L433.3 724M421.4 715.4L438.5 723.9M428.5 704.1L416.2 711.4L435.6 723.5M430.8 704.4L417.9 712L438.4 724.9M424.2 716.5L439.7 724.9M433 704L419.3 712.4L440.5 724.3M436.4 702.7L420.1 712.3L441.2 724M428 716.8L441.9 723.6M436.7 701.7L420.4 711.8L440.6 724.1M436.1 701.8L420.5 711.2L439.6 724.1M429.4 715.7L442.1 724.2M434.6 702.3L421 710.8L439.4 724M434.8 703.3L422 710.9L440.6 723.7M430.1 715.4L442.5 723.4M435.4 704.2L423.6 711.4L443.1 723.6M437.5 704.5L425.2 712.1L445.9 724.3M430.3 716.5L447.5 723.4M439 704.6L426.5 712.4L447.8 724.5M441.5 703.3L427.2 712.2L448.3 724.2M433.5 716.7L448.2 724.4M441.9 702.7L427.5 711.7L447.6 724M444.4 701L427.7 711.1L446.6 723.6M435 715.6L450.1 723.2M442.3 702.3L428.2 710.8L446.6 723.7M442.2 703.2L429.3 711L448 723.5M434.5 715.5L449.9 724.4M442.6 704.4L430.9 711.5L450.6 723.7M444.9 704.6L432.5 712.1L453.3 724.9M438.1 716.6L456.8 724.9M446.7 704.3L433.7 712.4L455.1 724.7M450.8 702.5L434.4 712.2L455.4 724.1M439.4 716.7L455.9 724.3M452.9 700.7L434.6 711.6L454.6 724.3M449.2 702.4L434.8 711.1L453.7 724.1M442.1 715.5L455.5 724.4M449.2 702.5L435.4 710.8L453.8 723.7M450.3 703.1L436.6 711L455.4 723.6M442.9 715.5L457.1 724.1M449.9 704.6L438.2 711.6L458 724.7M371 727.2L392.2 718.6M371.1 727.2L394.2 719.4M371.2 727.1L396.2 720.1M371.4 727.1L398.1 720.8M371.5 727.1L400.1 721.5M371.6 727L402.1 722.2M371.8 727L404 723M371.9 726.9L406 723.7M372 726.9L408 724.4M373 726.8L401.1 724.3M374.6 726.6L412.5 724.3M376.2 726.5L423.9 724.3M377.8 726.3L435.3 724.3M379.4 726.2L446.7 724.3M381 726L458 724.3" stroke="#b8282e" stroke-width="0.72" fill="none" stroke-linejoin="round"/>
<rect x="370.2" y="736.6" width="88" height="5.2" fill="#b4b4b4" stroke="#3c3f48" stroke-width="0.7"/>
<path d="M370.2 735.6C371.3 735.6 374.7 735.6 377 735.5C379.2 735.5 381.5 735.4 383.7 735.3C386 735.3 388.3 735.4 390.5 735.4C392.8 735.3 395 735.2 397.3 735.3C399.5 735.4 401.8 735.9 404 736C406.3 736.1 408.6 736.1 410.8 736.1C413.1 736.1 415.3 736.2 417.6 736.1C419.8 736.1 422.1 735.7 424.4 735.6C426.6 735.5 428.9 735.6 431.1 735.5C433.4 735.5 435.6 735.4 437.9 735.4C440.1 735.4 442.4 735.4 444.7 735.4C446.9 735.4 449.2 735.5 451.4 735.6C453.7 735.6 457.1 735.7 458.2 735.7" fill="none" stroke="#2d3345" stroke-width="0.8"/>
<path d="M370.8 753.8 371.9 753.7 373 753.4 374.2 753.4 375.3 753.2 376.4 754 377.5 754 378.6 754 379.8 753.4 380.9 753.2 382 753.1 383.1 753 384.2 753.2 385.4 753.4 386.5 753.6 387.6 753.6 388.7 753.7 389.8 753.9 391 754.1 392.1 754 393.2 753.8 394.3 753.9 395.5 754.4 396.6 754.4 397.7 754.3 398.8 754.2 399.9 754.1 401.1 754 402.2 754 403.3 754.2 404.4 754.3 405.5 754.2 406.7 753.7 407.8 753.8 408.9 753.6 410 753.7 411.1 753.6 412.3 753.8 413.4 753.9 414.5 753.7 415.6 753.5 416.7 753.5 417.9 753.9 419 753.9 420.1 753.9 421.2 753.8 422.3 753.6 423.5 753.4 424.6 753.4 425.7 753.6 426.8 753.8 427.9 753.6 429.1 753.6 430.2 753.3 431.3 753.6 432.4 753.7 433.5 753.9 434.7 753.9 435.8 753.7 436.9 754.2 438 753.9 439.2 754 440.3 754 441.4 754.5 442.5 754.2 443.6 754 444.8 753.8 445.9 753.9 447 754.2 448.1 753.9 449.2 753.9 450.4 753.4 451.5 753.8 452.6 753.6 453.7 753.6 454.8 753 456 753.2 457.1 753.3 458.2 753.6" fill="none" stroke="#111" stroke-width="0.9" stroke-linejoin="round"/>
<path d="M371.2 770.11v0.60M371.9 770.11v0.69M372.6 770.07v0.60M373.3 770.17v0.60M374 770.08v0.68M374.7 770.03v0.60M375.4 769.48v1.85M376.1 770.09v0.97M376.8 768.84v2.72M377.5 769.53v2.01M378.2 768.76v3.24M378.9 769.11v2.32M379.6 769.72v1.43M380.3 769.05v3.11M381 769.70v1.21M381.7 769.76v1.01M382.4 769.59v1.27M383.1 770.11v0.60M383.8 770.01v1.07M384.5 769.92v0.93M385.2 770.10v0.60M385.9 770.13v1.02M386.6 770.09v0.60M387.3 770.06v0.60M388 770.05v0.75M388.7 769.83v0.95M389.4 770.15v0.60M390.1 769.98v0.70M390.8 770.03v0.60M391.5 770.15v0.60M392.2 770.10v0.60M392.9 769.85v1.01M393.6 769.99v0.60M394.3 770.14v0.60M395 770.21v0.60M395.7 770.15v0.60M396.4 770.12v0.60M397.1 769.98v0.60M397.8 770.08v0.60M398.5 770.02v0.84M399.2 769.94v1.08M399.9 770.08v0.60M400.6 769.85v0.94M401.3 770.10v0.60M402 770.20v0.60M402.7 770.11v0.76M403.4 770.09v0.60M404.1 769.85v1.18M404.8 769.92v0.60M405.5 769.68v1.17M406.2 769.94v0.82M406.9 770.14v0.77M407.6 770.04v0.71M408.3 770.20v0.70M409 770.02v0.60M409.7 770.19v0.60M410.4 769.97v0.86M411.1 770.08v0.84M411.8 770.12v0.60M412.5 770.07v0.60M413.2 770.06v0.83M413.9 770.06v0.60M414.6 770.11v0.73M415.3 770.00v0.60M416 770.15v0.60M416.7 770.15v0.60M417.4 770.10v0.60M418.1 770.06v0.60M418.8 769.99v0.83M419.5 770.08v0.60M420.2 770.12v0.73M420.9 770.10v0.60M421.6 770.04v0.60M422.3 770.12v0.60M423 770.08v0.60M423.7 770.04v0.76M424.4 770.19v0.60M425.1 770.02v0.60M425.8 769.82v1.03M426.5 770.11v0.60M427.2 769.82v1.03M427.9 769.98v0.84M428.6 770.08v0.60M429.3 769.83v0.89M430 770.17v0.60M430.7 770.05v0.68M431.4 770.12v0.60M432.1 770.06v0.60M432.8 770.16v0.60M433.5 769.83v1.12M434.2 770.12v0.60M434.9 770.13v0.60M435.6 770.10v0.83M436.3 770.23v0.60M437 770.09v0.60M437.7 770.05v0.60M438.4 769.96v0.69M439.1 769.97v0.75M439.8 770.15v0.79M440.5 770.11v0.60M441.2 770.06v0.73M441.9 770.11v0.60M442.6 770.09v0.60M443.3 770.04v0.60M444 770.05v0.60M444.7 770.14v0.60M445.4 769.94v0.66M446.1 769.79v1.17M446.8 770.10v0.60M447.5 770.17v0.60M448.2 770.12v0.60M448.9 770.14v0.71M449.6 769.88v0.83M450.3 769.50v1.30M451 770.10v0.60M451.7 770.12v0.60M452.4 770.17v0.60M453.1 769.78v1.06M453.8 770.02v0.96M454.5 770.04v0.76M455.2 770.00v0.60M455.9 770.00v0.60M456.6 770.04v0.60M457.3 770.15v0.60M458 770.05v0.60M458.7 770.14v0.60M459.4 770.02v0.65M460.1 770.09v0.60M460.8 770.16v0.63" stroke="#0a0a0a" stroke-width="0.8" fill="none"/>
<line x1="371.2" y1="770.4" x2="461.2" y2="770.4" stroke="#0a0a0a" stroke-width="0.45"/>
<path d="M371.2 788.94v1.43M371.9 789.51v0.60M372.6 789.61v0.68M373.3 789.38v0.60M374 788.82v1.39M374.7 789.47v0.60M375.4 788.82v1.50M376.1 789.48v0.60M376.8 789.47v0.60M377.5 788.68v2.16M378.2 789.54v0.60M378.9 789.61v0.60M379.6 789.39v0.78M380.3 789.41v0.77M381 789.06v1.32M381.7 788.58v2.48M382.4 789.25v1.25M383.1 789.63v0.60M383.8 789.41v0.67M384.5 789.56v0.60M385.2 789.50v0.60M385.9 789.48v0.60M386.6 789.34v1.21M387.3 789.37v0.66M388 789.35v0.91M388.7 789.51v0.60M389.4 788.43v1.90M390.1 789.53v0.60M390.8 789.37v0.65M391.5 788.91v1.86M392.2 788.97v1.20M392.9 789.19v1.30M393.6 789.42v0.86M394.3 788.85v2.27M395 789.04v1.44M395.7 788.59v2.43M396.4 788.62v3.01M397.1 788.24v4.37M397.8 788.79v2.57M398.5 789.11v1.36M399.2 789.34v1.10M399.9 789.36v0.76M400.6 788.63v1.92M401.3 788.32v2.93M402 788.97v1.66M402.7 789.49v0.60M403.4 789.24v1.14M404.1 789.04v1.21M404.8 789.49v0.60M405.5 789.30v1.18M406.2 788.26v2.44M406.9 789.56v0.61M407.6 788.81v1.51M408.3 789.20v1.11M409 789.45v0.83M409.7 789.31v1.04M410.4 789.29v0.92M411.1 789.44v1.28M411.8 789.53v0.74M412.5 789.51v0.60M413.2 789.51v0.60M413.9 789.44v0.60M414.6 789.56v0.60M415.3 789.20v0.84M416 789.43v0.64M416.7 789.37v0.80M417.4 789.49v0.60M418.1 789.52v0.60M418.8 788.90v1.42M419.5 789.43v0.96M420.2 789.44v0.60M420.9 789.58v0.60M421.6 789.42v0.70M422.3 789.36v1.02M423 789.42v0.65M423.7 789.35v0.60M424.4 789.38v0.75M425.1 789.57v0.60M425.8 789.49v0.60M426.5 789.56v0.73M427.2 789.42v0.89M427.9 789.40v0.60M428.6 789.44v0.77M429.3 789.47v0.60M430 789.48v0.60M430.7 789.44v0.60M431.4 789.24v0.76M432.1 789.45v0.60M432.8 789.29v0.82M433.5 789.31v1.08M434.2 789.00v1.17M434.9 789.52v0.60M435.6 789.38v0.95M436.3 789.35v1.11M437 789.15v1.19M437.7 789.50v0.60M438.4 788.57v2.17M439.1 789.63v0.60M439.8 789.30v1.05M440.5 789.32v1.03M441.2 789.42v0.60M441.9 789.42v0.60M442.6 789.30v0.60M443.3 789.26v0.97M444 789.33v0.83M444.7 788.99v1.56M445.4 789.28v1.09M446.1 789.49v0.60M446.8 789.47v0.60M447.5 789.49v0.62M448.2 789.46v0.60M448.9 789.43v0.60M449.6 788.67v1.62M450.3 789.40v0.69M451 789.45v0.60M451.7 789.51v0.60M452.4 788.90v1.57M453.1 789.49v0.99M453.8 789.51v0.60M454.5 789.37v0.70M455.2 789.40v1.05M455.9 789.53v0.60M456.6 789.47v0.85M457.3 789.46v0.60M458 789.14v1.13M458.7 789.18v1.28M459.4 789.44v0.60M460.1 789.38v0.88M460.8 789.43v0.84" stroke="#0a0a0a" stroke-width="0.85" fill="none"/>
<line x1="371.2" y1="789.8" x2="461.2" y2="789.8" stroke="#0a0a0a" stroke-width="0.4"/>
<path d="M109.4 829.5L101.1 839.9L109.7 846.2L93.7 853.5M109.1 846.3L94.2 851.5M110.4 829.7L102.5 840L111.4 846L94.9 853.9M109.9 847.4L98.8 851.9M111.4 830.2L103.6 839.7L112.7 845.5L96.5 852.7M113.1 845.4L98.8 850.9M113.5 828.7L104.3 839.1L113.7 845L98.1 852.6M113.4 845.1L101.9 849.7M112.6 830.1L104.6 838.5L114.4 844.6L99.3 853.5M113.6 844.5L102.8 850.5M113.8 830L104.9 838.2L114.9 844.7L99.8 852.6M114.7 844.6L100.7 850.8M114.8 829.3L105.3 838.4L115.7 845.1L101.2 853.1M115.7 845.6L101.2 851M114.2 830.3L106.2 838.9L116.8 845.7L102.7 852.9M117.8 845.8L105 851.7M115.9 829.8L107.3 839.5L118.2 846.1L104.3 853.4M120.3 846L104.1 850.2M116.9 830.5L108.7 839.9L117.4 846.2L100.3 853.3M115.7 845L103.2 850.9M118.3 829.6L110.1 839.9L119 845.9L103.1 853.9M118.4 845.8L104.5 851.9M119.1 828.9L111.1 839.5L120.3 845.4L103.9 852M121.6 845.4L107.3 850.5M120.3 830.2L111.7 838.9L121.2 844.8L106 852.6M122.3 845.3L108.1 850.9M120.7 830L112 838.4L121.8 844.6L106.4 852.8M121.9 844.7L106.7 852M121.1 829.6L112.3 838.2L122.4 844.8L107.6 853.1M122.8 843.7L109.5 850.2M122 829.5L112.8 838.5L123.2 845.2L109.1 853.6M123.8 845.9L113.4 851M123 829.5L113.7 839L124.4 845.8L110.8 853M125 845.1L111.8 851.4M123.2 828.3L115 839.7L125.9 846.2L112.6 853M126.9 846.1L111.3 851.8M125 829.6L116.4 840L125.1 846.1L107.8 852.1M125.9 845.7L112 851.2M126.5 829.2L117.6 839.9L126.7 845.8L110.2 852.4M126.9 845.4L113.6 850.6M126.9 829.5L118.5 839.4L127.8 845.2L112.6 852.1M124.9 844.9L117.7 850.8M128.3 829.6L119 838.8L128.6 844.7L113 851.7M129.3 845L117.6 851.4M128.5 830L119.3 838.3L129.2 844.6L113.5 852.5M130 844.6L116.4 850.5M127 830.4L119.6 838.2L129.8 844.9L116 852M128.5 845L116.2 850.7M128.8 829.4L120.2 838.6L130.7 845.4L116.1 851.6M131.2 845.4L119.4 851.6M129.5 830L121.3 839.2L132 845.9L119.4 851.1M131.7 846.1L120.8 848.7M130.6 828.8L122.6 839.8L133.6 846.2L120.6 852.3M132.9 847.2L119.9 851.5M132.6 829.7L124 840L132.8 846.1L116.5 852M133.4 846L122.6 852.1M133.3 829.2L125.2 839.8L134.3 845.6L118.1 851.7M134.8 844.8L121.2 850.3M134.1 830.2L125.9 839.2L135.3 845.1L120.1 851.5M135.1 844L124.3 849.7M135.3 829.6L126.4 838.6L136.1 844.7L121.4 852M137.3 844.6L123.2 850.4M135.2 829.6L126.6 838.2L136.6 844.6L122.3 852.1M137.9 844.3L126.5 850.1M135.9 829.7L127 838.3L137.3 845L124 851.9M137.7 844.8L123.7 850.6M136.2 829.2L127.7 838.7L138.3 845.5L126.1 851.6M137.2 845.5L126.8 849.2M137.4 830L128.9 839.4L139.7 846L125.7 851.8M140.6 845.5L129 849.4M139 829.8L130.2 839.9L138.8 846.2L122.9 851.1M137.7 846.2L126.2 850.9M139.9 829.3L131.6 840L140.5 846L124.4 851.8M141.8 845.9L131.4 851.1M141.2 829.7L132.7 839.7L141.9 845.5L124.5 852.2M141.4 846L127.9 849.1M142.5 829.4L133.3 839.1L142.8 844.9L127.5 851.3M142.9 844L128.4 850.1M142.8 828.8L133.7 838.5L143.5 844.6L128.5 850.7M144.2 843.9L129.3 849.3M142.5 830.4L134 838.2L144 844.7L128.9 851.2M144.5 844.3L132 849.4M143.3 829.6L134.4 838.4L144.8 845.1L130 851.8M143.8 844.8L131.6 849.6M143.8 829.7L135.3 838.9L145.9 845.7L132.8 850.4M146.1 845.9L132.4 850.7M145.7 829.8L136.5 839.5L147.4 846.1L134.3 851M146.7 846.4L137 850.5M146 830.1L137.9 839.9L146.6 846.2L130.1 850.9M147.3 846.1L133 848.2M147.6 830L139.2 839.9L148.1 845.9L131.3 850.6M150.6 845.8L134.1 848.5M148.6 830L140.1 839.5L149.4 845.3L131.6 850.9M149.9 844.1L136.4 848.8M149.3 830L140.7 838.9L150.3 844.8L133.4 850.1M149.5 845L137 849.4M149.7 828.9L141 838.4L150.9 844.6L135.7 850.1M151.7 844.4L134.5 847.4M150.6 828.8L141.3 838.2L151.4 844.8L136.6 850.8M151.4 844.3L138 849.7M149.5 829L141.9 838.5L152.3 845.3L139.1 851M151.9 844.7L141.1 848.8M151.5 829.6L142.8 839.1L153.5 845.8L140 851.4M152 846.4L139.1 849.8M152.5 829.5L144.1 839.7L155.1 846.2L141.9 851.3M153.8 846.3L141.8 848.8M153.7 829.3L145.5 840L154.3 846.1L137.4 850.8M155.9 845.2L140 849.7M155.8 830.6L146.7 839.9L155.8 845.7L139.1 850.7M155.3 845.8L140.5 849.4M155.8 829.1L147.6 839.4L156.9 845.2L140.8 850M155.7 845L142.8 848.9M156.8 828.4L148.1 838.7L157.7 844.7L142.4 849.9M156.7 844.2L142.8 847.9M157 828.9L148.4 838.3L158.3 844.6L143.9 849.8M156.9 845.2L146.1 849.8M158.1 829.3L148.7 838.2L158.9 844.9L144.7 850.1M158.3 845.3L145.9 848.8M158.3 829.6L149.3 838.6L159.8 845.4L146.7 850.7M161.7 846.2L147.8 848.4M158.1 829L150.4 839.2L161.1 845.9L147.3 850.6M161.4 846.4L150 848.7M159.8 829.9L151.7 839.8L162.8 846.2L149.5 850.2M161.8 846.2L149.7 848M161.8 829.5L153.1 840L161.9 846.1L146 849.9M161.8 846L147.1 848.6M163.3 829.9L154.3 839.8L163.4 845.6L147.9 850.3M163.1 845.7L150.1 849.7M163.2 829.7L155 839.2L164.4 845L148.5 850.1M165.5 845L154.2 850.7M164.4 829.7L155.4 838.6L165.1 844.7L149.5 849.9M166.5 844.3L151.8 848.3M164.1 830L155.7 838.2L165.7 844.6L150.5 849.3M166.1 844.8L151.4 849.1M164.5 829.1L156.1 838.3L166.4 845L152.6 849.1M166 844.9L153.1 847.6M165.9 828.2L156.8 838.8L167.4 845.6L154.4 849.3M166.7 845.5L154.9 849.3M166.8 829.5L158 839.4L168.8 846L155 849.8M170.2 846.2L156 847.4M167 829.2L159.4 839.9L168 846.2L152.1 850.5M167.8 846.9L155.4 847.2M169.5 829.5L160.7 840L169.6 846L152.7 850M170.1 847L156.4 848.8M170.5 829.8L161.8 839.6L171 845.4L153.9 850.1M168.7 845.1L159.4 848.5M171.1 830.7L162.4 839L171.9 844.9L156.7 849.9M170.8 844.4L160.2 849.5M170.9 829.5L162.8 838.4L172.5 844.6L157.2 849.5M171.7 845.9L158.1 848.5M171.4 830.9L163 838.2L173.1 844.7L159.4 848.8M171.6 845.1L161.6 848.8M172.1 829.8L163.5 838.4L173.9 845.1L159.2 849.3M173.3 845.1L161.5 848.2M172.6 829.8L164.4 838.9L175 845.7L159.7 850.1M175.9 845L162.1 848.7M175.1 829.1L165.6 839.6L176.5 846.1L163.5 849.4M175.1 846.3L165.5 848.2M174.6 829.5L167 840L175.7 846.2L158.6 850M175 845.7L162.3 847.8M176.7 829.9L168.3 839.9L177.3 845.8L160.1 849.1M177.4 845.1L162.1 848M177.6 829.7L169.2 839.5L178.5 845.3L163.1 849.6M176.9 845.8L165.4 847.3M179 829.8L169.8 838.9L179.4 844.8L164.8 848.8M178.4 845.2L165.8 849.3M178.9 829.7L170.1 838.3L179.9 844.6L166 848.6M178.9 844.3L166.3 846.3" stroke="#b8282e" stroke-width="0.62" fill="none" stroke-linejoin="round"/>
<rect x="91.8" y="862" width="93.2" height="5.2" fill="#b4b4b4" stroke="#3c3f48" stroke-width="0.7"/>
<path d="M91.8 861.2C93 861.2 96.6 861 99 860.9C101.4 860.8 103.7 860.7 106.1 860.7C108.5 860.7 110.9 861 113.3 861C115.7 861 118.1 860.8 120.5 860.7C122.9 860.7 125.3 860.9 127.6 860.9C130 860.9 132.4 860.8 134.8 860.9C137.2 861 139.6 861.4 142 861.5C144.4 861.6 146.8 861.5 149.2 861.5C151.5 861.5 153.9 861.6 156.3 861.5C158.7 861.4 161.1 861 163.5 861C165.9 861 168.3 861.3 170.7 861.3C173.1 861.3 175.4 860.9 177.8 860.9C180.2 860.9 183.8 861.3 185 861.3" fill="none" stroke="#2d3345" stroke-width="0.8"/>
<path d="M92.6 878.3 93.7 877.9 94.8 877.6 95.9 877.9 97.1 877.5 98.2 877.6 99.3 877.5 100.4 878 101.5 878 102.6 877.9 103.7 877.3 104.8 877.6 106 877 107.1 877.4 108.2 876.9 109.3 877 110.4 876.6 111.5 876.5 112.6 876.7 113.8 876.7 114.9 877 116 876.6 117.1 876.5 118.2 876 119.3 876.4 120.4 876 121.5 876.3 122.7 876.4 123.8 876.7 124.9 877.1 126 877.3 127.1 877.9 128.2 878 129.3 877.8 130.5 877.5 131.6 877.3 132.7 877.6 133.8 877.9 134.9 877.8 136 877.6 137.1 877.3 138.2 877.3 139.4 877.4 140.5 877.5 141.6 878 142.7 877.9 143.8 877.9 144.9 877.5 146 877.4 147.1 877.4 148.3 877.3 149.4 877.6 150.5 877.4 151.6 877.6 152.7 877.4 153.8 877.7 154.9 877.6 156.1 877.7 157.2 877.9 158.3 877.8 159.4 877.7 160.5 877.5 161.6 877.3 162.7 877.6 163.8 877.4 165 877.3 166.1 877.5 167.2 877.6 168.3 877.7 169.4 877.6 170.5 877.6 171.6 878 172.8 877.5 173.9 877.6 175 877.1 176.1 876.9 177.2 876.7 178.3 877 179.4 877.4 180.5 878 181.7 877.8 182.8 878.1 183.9 878 185 878.6" fill="none" stroke="#111" stroke-width="0.9" stroke-linejoin="round"/>
<path d="M91 893.51v0.82M91.4 893.34v0.60M91.7 893.35v0.87M92.1 893.45v0.60M92.4 893.47v0.60M92.8 893.54v0.60M93.2 893.46v0.60M93.5 893.50v0.60M93.9 893.11v1.23M94.2 893.56v0.60M94.6 893.44v1.41M95 893.48v0.76M95.3 893.49v0.73M95.7 893.50v0.60M96 893.47v0.62M96.4 893.45v0.60M96.8 893.48v0.60M97.1 893.04v1.54M97.5 893.47v0.60M97.8 893.30v0.93M98.2 893.50v0.60M98.6 893.43v0.60M98.9 893.25v1.32M99.3 893.31v1.07M99.6 892.78v2.38M100 892.80v2.13M100.4 893.54v0.61M100.7 893.27v1.02M101.1 893.40v0.72M101.4 890.93v5.13M101.8 893.22v1.41M102.2 891.06v4.75M102.5 891.58v3.02M102.9 893.37v0.75M103.2 892.15v3.31M103.6 892.29v1.95M104 892.98v1.29M104.3 893.12v1.37M104.7 892.92v1.83M105 892.39v2.24M105.4 893.03v1.51M105.8 893.51v0.60M106.1 893.30v1.03M106.5 892.83v1.67M106.8 893.46v0.60M107.2 893.48v0.60M107.6 893.51v0.60M107.9 893.54v0.60M108.3 893.51v0.87M108.6 893.52v0.70M109 893.20v1.09M109.4 893.50v0.60M109.7 893.60v0.60M110.1 893.60v1.27M110.4 893.30v1.52M110.8 893.45v0.60M111.2 893.48v0.60M111.5 893.44v0.70M111.9 893.50v0.60M112.2 893.51v0.67M112.6 893.58v0.60M113 893.51v0.60M113.3 893.36v1.09M113.7 893.11v1.41M114 893.03v1.71M114.4 893.13v1.03M114.8 893.33v0.68M115.1 893.30v0.81M115.5 893.25v0.98M115.8 893.52v0.60M116.2 893.41v0.60M116.6 893.18v1.14M116.9 892.51v2.47M117.3 893.45v0.67M117.6 893.01v2.27M118 893.37v1.09M118.4 893.25v0.94M118.7 892.81v1.70M119.1 893.31v0.76M119.4 893.53v0.60M119.8 893.41v0.60M120.2 893.14v1.37M120.5 892.50v2.14M120.9 893.20v1.08M121.2 893.46v0.88M121.6 893.50v0.60M122 893.13v1.97M122.3 893.32v1.42M122.7 892.82v2.87M123 893.22v1.00M123.4 893.00v1.65M123.8 892.89v2.21M124.1 893.25v1.03M124.5 893.26v0.87M124.8 893.22v0.98M125.2 893.53v0.60M125.6 893.17v0.92M125.9 892.79v2.01M126.3 893.39v0.71M126.6 893.43v0.70M127 892.54v2.01M127.4 893.44v0.70M127.7 893.21v1.05M128.1 893.18v1.51M128.4 893.51v0.63M128.8 893.09v1.05M129.2 893.36v0.85M129.5 893.53v0.60M129.9 893.42v0.72M130.2 893.14v1.33M130.6 893.47v0.60M131 893.44v0.71M131.3 893.52v0.60M131.7 893.00v1.70M132 893.42v0.60M132.4 893.50v0.60M132.8 893.49v0.60M133.1 893.44v0.60M133.5 893.49v0.79M133.8 893.22v0.90M134.2 893.37v0.89M134.6 893.44v0.74M134.9 893.40v0.98M135.3 893.05v1.15M135.6 892.92v1.94M136 893.38v0.73M136.4 893.40v0.71M136.7 893.41v0.60M137.1 893.35v1.11M137.4 893.37v0.64M137.8 893.12v1.43M138.2 893.62v0.60M138.5 893.53v0.60M138.9 893.39v0.81M139.2 893.52v0.69M139.6 893.49v0.75M140 893.37v0.70M140.3 893.56v0.60M140.7 893.19v0.90M141 892.66v2.05M141.4 892.64v2.13M141.8 893.40v0.94M142.1 892.85v2.42M142.5 893.20v1.33M142.8 892.17v3.20M143.2 893.38v1.20M143.6 892.78v1.93M143.9 893.06v1.44M144.3 893.56v0.61M144.6 893.07v1.10M145 892.96v1.70M145.4 893.14v1.22M145.7 893.48v0.63M146.1 893.41v0.75M146.4 893.13v1.46M146.8 893.52v0.63M147.2 893.46v0.84M147.5 893.56v0.61M147.9 893.56v0.60M148.2 893.39v0.60M148.6 893.44v0.60M149 893.37v0.83M149.3 893.53v0.60M149.7 893.25v1.01M150 893.54v0.60M150.4 893.42v0.72M150.8 892.50v2.30M151.1 892.93v1.62M151.5 893.23v1.31M151.8 893.41v0.60M152.2 893.56v0.60M152.6 893.38v0.78M152.9 893.32v0.86M153.3 893.38v0.80M153.6 893.44v0.74M154 893.49v0.72M154.4 893.56v0.60M154.7 893.46v0.60M155.1 893.53v0.60M155.4 893.51v0.65M155.8 893.35v0.96M156.2 893.51v0.60M156.5 893.51v0.60M156.9 893.19v1.08M157.2 893.44v0.88M157.6 893.16v1.26M158 893.46v0.60M158.3 893.46v0.60M158.7 892.90v1.90M159 893.42v0.73M159.4 893.28v1.47M159.8 893.36v0.76M160.1 893.09v1.43M160.5 892.77v1.79M160.8 893.17v1.19M161.2 893.36v0.79M161.6 893.36v0.97M161.9 893.12v1.48M162.3 893.38v1.00M162.6 893.39v1.22M163 893.23v1.02M163.4 893.55v0.60M163.7 893.44v0.60M164.1 893.56v0.60M164.4 893.43v0.77M164.8 892.66v2.28M165.2 893.44v0.60M165.5 892.98v1.72M165.9 893.14v1.05M166.2 893.58v0.60M166.6 892.93v1.77M167 893.31v1.02M167.3 893.55v0.99M167.7 893.27v1.24M168 893.42v0.60M168.4 893.41v0.67M168.8 893.55v0.60M169.1 893.38v0.60M169.5 893.57v0.60M169.8 893.54v0.74M170.2 893.33v1.02M170.6 893.44v0.60M170.9 893.37v0.64M171.3 893.35v0.94M171.6 893.47v0.60M172 893.39v0.76M172.4 893.44v0.60M172.7 893.47v0.60M173.1 893.48v0.60M173.4 893.60v0.60M173.8 893.18v1.00M174.2 893.54v0.70M174.5 893.02v1.28M174.9 893.39v0.60M175.2 893.44v0.60M175.6 893.39v0.64M176 893.35v1.10M176.3 893.44v0.60M176.7 893.37v1.08M177 893.57v0.60M177.4 893.54v0.60M177.8 893.55v0.60M178.1 893.42v0.60M178.5 893.38v0.91M178.8 893.48v0.68M179.2 892.28v2.81M179.6 893.39v1.17M179.9 893.41v0.70M180.3 893.55v0.67M180.6 890.76v4.79M181 891.80v2.88M181.4 893.39v1.17M181.7 892.71v1.51M182.1 893.28v1.63M182.4 893.52v0.72M182.8 893.52v0.60M183.2 893.46v0.60M183.5 893.46v1.26M183.9 893.10v1.17M184.2 893.19v1.06M184.6 893.53v0.60M185 893.52v0.60M185.3 893.29v0.99" stroke="#0a0a0a" stroke-width="0.6" fill="none"/>
<line x1="91" y1="893.8" x2="185.4" y2="893.8" stroke="#0a0a0a" stroke-width="0.6"/>
<path d="M91 910.59v0.60M91.4 910.69v0.60M91.7 910.67v0.60M92.1 910.65v0.60M92.4 910.45v1.21M92.8 910.70v0.60M93.2 910.52v1.23M93.5 910.81v0.60M93.9 910.77v0.60M94.2 910.74v0.82M94.6 910.66v0.60M95 910.36v0.86M95.3 910.23v1.34M95.7 910.25v1.52M96 910.74v0.68M96.4 910.66v0.60M96.8 910.39v0.91M97.1 910.57v0.60M97.5 910.47v0.80M97.8 910.76v0.60M98.2 910.69v0.60M98.6 910.17v1.52M98.9 910.57v1.04M99.3 910.66v0.72M99.6 910.36v1.33M100 910.77v0.60M100.4 910.71v0.60M100.7 910.84v0.60M101.1 910.82v0.60M101.4 910.65v0.60M101.8 910.65v0.62M102.2 910.70v0.60M102.5 910.55v1.40M102.9 910.12v2.13M103.2 910.70v0.60M103.6 910.03v1.61M104 910.62v0.64M104.3 910.69v0.63M104.7 910.78v0.60M105 910.06v2.36M105.4 910.27v1.04M105.8 910.80v0.60M106.1 910.68v0.60M106.5 910.49v0.92M106.8 910.70v0.60M107.2 910.76v0.60M107.6 910.66v0.60M107.9 910.17v1.36M108.3 910.62v0.60M108.6 910.64v0.60M109 910.73v0.60M109.4 910.49v0.87M109.7 910.60v0.60M110.1 910.65v0.60M110.4 910.75v0.60M110.8 910.76v0.60M111.2 910.54v0.92M111.5 910.41v0.97M111.9 910.68v0.67M112.2 910.70v0.60M112.6 910.50v0.99M113 910.81v0.60M113.3 910.76v0.60M113.7 910.88v0.60M114 910.75v0.78M114.4 910.41v1.03M114.8 910.54v0.94M115.1 910.54v1.00M115.5 910.64v0.70M115.8 910.47v1.75M116.2 910.27v1.46M116.6 910.43v1.21M116.9 910.53v1.15M117.3 910.27v1.59M117.6 910.33v1.85M118 910.34v1.19M118.4 910.28v2.72M118.7 910.53v0.88M119.1 910.15v1.75M119.4 910.62v0.94M119.8 910.34v1.09M120.2 910.23v1.37M120.5 910.34v1.54M120.9 910.65v1.01M121.2 910.40v1.24M121.6 910.73v0.60M122 910.57v0.90M122.3 910.76v0.60M122.7 910.62v0.60M123 910.62v0.60M123.4 910.69v0.60M123.8 910.09v1.78M124.1 910.11v1.63M124.5 910.55v0.83M124.8 910.25v1.55M125.2 910.47v1.37M125.6 910.73v0.60M125.9 910.73v0.60M126.3 910.73v0.60M126.6 910.60v0.81M127 910.55v0.78M127.4 910.64v0.67M127.7 910.09v1.45M128.1 910.77v0.60M128.4 910.73v0.60M128.8 910.67v0.60M129.2 910.69v0.60M129.5 910.42v1.23M129.9 910.65v0.63M130.2 910.61v0.60M130.6 910.55v0.70M131 910.62v0.71M131.3 909.91v1.55M131.7 910.69v0.77M132 910.80v0.60M132.4 910.61v0.68M132.8 910.68v0.60M133.1 909.96v1.99M133.5 910.78v0.60M133.8 909.96v1.63M134.2 910.41v1.31M134.6 910.57v0.81M134.9 910.71v0.74M135.3 910.05v1.70M135.6 910.34v1.28M136 910.26v1.31M136.4 910.40v1.54M136.7 910.71v0.60M137.1 910.18v1.45M137.4 910.53v1.12M137.8 910.42v0.92M138.2 910.10v1.61M138.5 910.75v0.87M138.9 910.67v0.60M139.2 910.09v2.13M139.6 910.45v1.27M140 910.29v1.68M140.3 910.44v1.54M140.7 910.23v1.45M141 910.44v1.29M141.4 910.73v0.60M141.8 910.66v0.60M142.1 910.42v1.25M142.5 910.44v1.00M142.8 909.69v1.76M143.2 910.69v0.69M143.6 910.49v1.02M143.9 910.69v0.65M144.3 910.54v1.10M144.6 910.62v0.60M145 910.45v1.15M145.4 910.70v0.60M145.7 910.66v0.60M146.1 910.18v1.51M146.4 910.35v1.12M146.8 910.80v0.60M147.2 910.77v0.60M147.5 910.46v1.69M147.9 910.35v1.16M148.2 910.54v1.36M148.6 910.70v0.63M149 910.34v1.09M149.3 910.75v0.75M149.7 910.32v0.97M150 910.63v0.68M150.4 910.52v0.79M150.8 910.27v1.10M151.1 909.91v1.49M151.5 910.35v1.08M151.8 910.15v1.50M152.2 910.61v0.60M152.6 910.52v1.07M152.9 910.55v0.99M153.3 910.72v0.60M153.6 910.75v0.60M154 909.82v3.10M154.4 909.98v1.54M154.7 910.72v0.60M155.1 909.84v2.04M155.4 910.04v1.79M155.8 909.77v2.04M156.2 910.56v0.83M156.5 910.44v1.21M156.9 910.67v0.60M157.2 910.48v0.97M157.6 909.78v1.80M158 910.24v1.32M158.3 910.71v0.64M158.7 909.97v1.58M159 910.49v0.85M159.4 910.65v0.60M159.8 910.36v1.37M160.1 910.08v2.54M160.5 909.65v2.46M160.8 910.23v1.39M161.2 910.70v0.60M161.6 910.30v1.51M161.9 909.90v1.81M162.3 910.19v1.70M162.6 910.71v0.60M163 910.77v0.60M163.4 910.48v1.23M163.7 910.28v1.48M164.1 909.77v1.80M164.4 910.75v0.60M164.8 910.59v0.80M165.2 910.77v0.60M165.5 910.50v1.12M165.9 910.67v0.60M166.2 910.77v0.60M166.6 910.61v0.60M167 910.63v0.60M167.3 910.24v1.23M167.7 910.56v0.96M168 910.68v0.60M168.4 910.66v0.60M168.8 910.79v0.60M169.1 910.68v0.60M169.5 910.73v0.60M169.8 910.68v0.60M170.2 910.66v0.60M170.6 910.64v0.81M170.9 910.54v0.87M171.3 910.64v0.60M171.6 910.78v0.65M172 910.50v0.90M172.4 910.51v1.08M172.7 910.37v1.09M173.1 910.62v0.60M173.4 910.41v1.11M173.8 910.72v0.60M174.2 910.54v1.01M174.5 910.58v0.94M174.9 910.70v0.60M175.2 910.69v0.60M175.6 910.48v0.65M176 910.54v0.93M176.3 910.70v0.60M176.7 910.46v0.90M177 909.97v1.93M177.4 909.48v2.62M177.8 909.89v2.24M178.1 910.32v2.41M178.5 907.15v6.24M178.8 910.05v1.73M179.2 908.00v5.83M179.6 909.15v2.89M179.9 909.67v1.99M180.3 910.69v0.97M180.6 909.64v2.90M181 909.88v2.24M181.4 910.68v0.69M181.7 909.79v2.26M182.1 910.27v1.38M182.4 910.58v1.29M182.8 910.67v0.62M183.2 910.69v0.60M183.5 910.28v0.99M183.9 910.65v0.86M184.2 910.70v0.64M184.6 910.75v0.60M185 910.68v0.60M185.3 910.64v0.60" stroke="#0a0a0a" stroke-width="0.6" fill="none"/>
<line x1="91" y1="911" x2="185.4" y2="911" stroke="#0a0a0a" stroke-width="0.6"/>
<path d="M244.2 846.9L249.7 829.7M246.1 846.1L248.7 829.5M246 845.2L250.5 829.2M246.7 845.3L252.2 828.7M246.9 845.2L251.3 828.3M247.9 843.6L252.9 828.4M248 843.1L253.1 828.7M249 841.7L253.1 828.1M249.4 840.8L254 827M250.8 840.8L255.2 827M250.4 840.7L256.4 827M251.8 840.5L256.7 825.7M251.9 839.4L256.8 825.3M253.9 839.2L258 825.7M253 839.4L256.9 824.6M254.1 837.1L258.1 824.7M254.1 837.3L259.1 823.5M255.1 837.5L259.8 823.1M255.3 837.4L260.7 823.3M255.8 835.6L260.8 822.9M247.2 835.8L252.5 840.7M248.1 835.1L254.2 839.6M249.5 834.8L255.9 838.9M250.8 833.2L256.5 837.3M251.4 832.6L258.2 835.4M251.7 831.9L258.8 835M253.1 831.2L260.2 833.4M254.6 829.4L260.9 832.1M255.4 829L262 831.1M245.8 839.2L247.5 851.8M246.8 841.1L247.4 852.5M247.7 840.9L248.4 852M249.8 841.4L248.9 852.5M249.9 842.9L250.6 851.4M251.4 842.8L252.1 851.7M253.5 844.2L252.3 851.1M253.5 842.5L252.9 851.3M276.1 846L280.2 830.3M276.9 844.9L281.1 829.6M276.7 845L282.3 828.6M277 843.6L283.1 828.8M278.3 843.5L282.3 827.5M279 843.5L282.4 827.6M279.1 842.9L284.2 828.3M280.7 842.9L285.3 826.8M280.4 842.4L285.4 827M280.2 840.4L286.3 826.7M281.6 840.6L285.7 826.4M282.9 841.2L287.2 825.7M282.4 840.4L288.6 825.1M283.6 839.4L288.1 823.7M283.9 839.1L288.3 824.2M283 838.9L289.9 824.2M285.1 837.5L290.3 823.6M285.7 837.3L291 824.2M285.6 836.9L291.2 822.4M285.7 836.6L291.7 822.2M278.4 835.7L284.3 840.6M279.7 835.8L285 839.9M280.3 834.4L286.4 838.6M280.8 833.4L288.2 836.9M283.6 832L288.8 835.6M283.3 830.8L289.5 834.6M284.3 830.8L291.6 832.7M286.2 829.5L292.1 833.5M287.5 828.6L293.1 829.9M277.2 840.2L278.3 852.1M278.5 842.3L279.6 852.8M279 841.7L280.4 851.1M281.6 841.4L280 852.9M282.8 841.7L281.3 853.7M282.8 841.3L282.2 853M284.4 843.4L284.2 852.2M285 842.3L284.6 851M307.1 845.3L311 830M308.4 845.6L310.8 830M308.2 844.8L312.1 829.6M308.9 844.6L312.5 828.8M308.4 843.1L313.3 828M309.5 844.6L314.4 827.7M309.2 842.4L314.1 826.6M311.2 842.1L315.6 828.9M311.5 841.9L316.2 826.8M311.6 841.2L317.3 826.4M311.9 840.2L316.8 826.1M313.4 840.5L318.5 825.6M314.1 839.9L318.9 824.4M314.9 838.5L318.7 825.4M314.7 839.7L319.9 824.1M315.5 838.1L321.3 825M316.4 837.6L321.2 824.3M316.2 836.9L322.2 823.8M317.1 836.6L321.4 823.6M317.7 835.6L322.4 822.2M309.8 836.6L314.5 841.6M310.8 834.8L314.9 839.9M310.9 834.2L317.1 838.9M313 833.7L318.3 837.2M313.7 831.5L320.1 835.7M314.6 831.4L321.1 835.2M316.7 830.2L321.3 833.5M316.3 829.8L322.4 832.3M318.2 828.9L324 831.7M308.4 839.7L309.2 852.2M308.6 840.7L309.9 852.2M310.2 842.2L311.4 851.6M310.8 842.3L311.2 852M312.7 842.8L312.8 852.7M313.4 843L313 851.9M314.9 842.4L312.7 852.3M316.2 843.4L314.7 851.5" stroke="#a2a2a2" stroke-width="0.5" fill="none" stroke-linejoin="round"/>
<path d="M226.1 822L228.1 836.5M227.8 823.1L228.4 836M228.3 824.3L229.2 835.9M228.2 824.7L229.6 835.8M229.4 823.7L229.6 836.5M229.8 825L230.3 836.6M231.1 825.5L229.9 836.9M231.1 825.4L230.5 837.2M232.3 825.8L231 837.1M232.5 825.7L232.1 836.9M234.4 827.1L231.4 837.7M234 827.2L232.8 836.7M226 824.8L234.5 826.9M226.9 825.9L234.3 828.6M227.7 828.4L236.1 830.8M227.9 830.1L235 831.9M228.6 831.1L235.9 833.3M228.6 832.7L236.1 834.9M228.8 834.1L237.1 835.6M226.4 835.6L227.7 848.7M227.9 836.6L228.2 849.1M229.1 838.3L228.2 850.1M231 838.7L229.6 851.7M251.3 840.1L254.3 846.3M254.7 838.7L257.2 845.1M255.9 836.6L257.9 841.8M256.2 834.1L258.4 839.9M257.6 832.6L260.3 837.2M257.4 823.5L259.3 836.9M258.8 823.7L260 835.7M258.8 823.3L259.3 836.3M259.1 823L260.6 836.6M260.1 823.8L260.6 836.6M261 824.7L261.1 837.1M262.1 825.3L261.4 836.7M262.8 825.4L262.1 835.9M262 826.1L262.7 838M264.4 826.5L263 836.7M265.3 826.5L263.6 837.7M265.7 827.6L263.6 837.5M256.7 824.7L265.9 827.3M258.2 826.9L265.8 829.4M257.5 828.3L266.7 830.1M258.4 829.4L266.5 831.4M259.7 831.1L266 834.3M259.8 833.2L267.5 834.6M259.7 834.9L268.1 836.7M258.1 836L258.1 849.4M260.1 837L258.8 850.2M261.1 838.4L259.2 850.1M261.8 839L259.8 851.6M283 840.8L287.2 847.2M284.5 838.5L288.4 844.1M286 837.3L289.3 842.1M286.9 833.3L289.3 841.3M288.6 832.3L290.4 838M288.3 822.4L289.7 836.6M289.8 822.7L290.2 837M289.1 823.1L290.7 836.6M290.4 823.4L291.5 836.1M290.4 823.3L292.1 835.9M292.2 825L292.6 836.8M292.4 825.1L292.3 836.4M294.1 825.1L293.9 837.4M294 826.1L294 836.6M294.5 825.8L293.9 837.6M295.7 826.4L294 838.1M296.9 827.2L294 838M288.1 825L296.7 827.9M287.9 826L297 829.1M289.3 828.1L296.3 830.6M290.1 829.9L296.6 831.8M289.5 831.4L298.2 834.4M290.3 832.8L298.1 834.9M290.4 834.6L298.5 835.7M289.2 836.1L288.6 849.2M290 838.1L290.1 849.7M291.2 837.9L291.1 850M293.3 837.9L291.6 851.4M314.2 839.8L318.5 847.2M314.8 838.4L318.4 845M315.6 836.1L320 842.2M318.1 834.9L320.7 841.4M319.4 832.7L321.5 836.9M316.8 822.9L319.2 837M318.3 823L320.3 836.6M319.9 822.9L320.4 836.9M320.1 824.4L321.1 836.7M320.3 824.8L321 837.3M321.9 824.8L321 836.8M322.4 825L322.4 837.1M322.8 825.2L322.2 837.8M323.3 825.8L322.3 837.7M323.5 826.1L323.6 838.2M324.8 827.3L322.5 838M325.8 826.6L323 837.5M317.4 825.1L325.2 827.9M318 825.8L325.4 828.8M318.6 827.9L326.5 830.5M319.7 829.7L326.5 831.9M319.1 832.6L326.6 832.9M319.3 833.3L326.8 835.2M320.3 834.5L327.6 835.9M318 835.9L318.9 849.7M319.3 837.2L318.2 849.3M321 838.2L320 850.7M322.2 838.7L321.6 850.1M314.9 830.7L325.6 840.3M316.3 830L326 840.7M317.3 829.8L325.6 839.7M318 829.5L326.3 840.5M319.5 829L325.8 840.4M320.2 828.8L326.5 839.7M320.7 827.2L325.4 839.2M321.6 826.9L326 839.2M323.4 825.5L326.8 838.6M315.4 840L316.8 850.9M316.2 840.7L317.3 851.7M318.4 840.5L318 851.3M318.4 840.4L318.8 851.5M321.3 840.8L319.9 850.9M322 841.4L320.3 851.9" stroke="#23233f" stroke-width="0.5" fill="none" stroke-linejoin="round"/>
<path d="M235.3 827.6L239.6 838.8M236.4 829.2L241.2 839.2M237.3 829.6L242.5 839.9M238.7 831.6L243.6 839.9M240.5 831.6L243.8 841.7M240.7 831.9L244.9 841.3M241.7 833.6L246 842.6M243.6 833.3L247.2 842.8M243.2 834.2L248.1 843.7M244.5 835.5L249.4 844.3M246.2 836.5L250.2 845.6M236.1 839L237.4 850.8M236.8 839.8L238.3 852.4M238.3 838.8L240.1 852.2M238.9 840.9L239.9 850.6M240.5 840.1L241.8 851.3M241.9 840.6L241.5 851.3M243.4 841.8L243.1 851.4M243.8 841.6L243.2 851.7M266.8 828.4L270.9 838.9M268.3 828.2L272.6 839.8M268.3 830.2L273.2 840.7M269.9 830.7L275.3 841.1M271.3 830.8L275 841.6M272.1 832.2L276.6 841.3M272.8 832.5L277.4 842.1M273.4 833.9L279 842.4M274.4 835.2L278.9 844.4M275.9 835.5L280.2 845M277.1 836.5L281.1 843.9M266.2 839.8L268.5 851.6M268.4 839L269.2 850.9M269.5 839.2L269.8 851.8M270.3 840.4L271.1 851.9M272.6 839.5L270.8 852.1M273.6 842L273.2 852.3M273.8 841.6L274.1 851.3M275 841.5L274.8 850.3M297.6 828.3L302.9 838.5M298 829.1L303.9 839.7M299.4 830L304.5 839.5M299.1 830.2L304.5 840.4M300.9 831L306.4 841.3M302.5 833.1L306.9 841.6M304.2 832.5L307.2 843.1M304.8 834.2L309.3 843.5M305.4 834.7L309.4 843.7M306.7 835.3L311.2 845.6M307.1 836.8L312.3 845.3M297.2 839.7L299.3 851.3M298.7 839.5L300.4 852.1M301.6 839.5L301.2 851.4M301.9 840.2L301.4 850.9M302.2 840.6L303.6 852.3M303.2 840.6L303.7 851.9M305.2 841.7L304.7 851.6M305.3 841.4L304.5 852" stroke="#d8403c" stroke-width="0.45" fill="none" stroke-linejoin="round"/>
<rect x="226.4" y="861.8" width="98.8" height="5.2" fill="#b4b4b4" stroke="#3c3f48" stroke-width="0.7"/>
<path d="M226.4 861.5C227.7 861.5 231.5 861.7 234 861.7C236.5 861.6 239.1 861.5 241.6 861.2C244.1 861 246.7 860.4 249.2 860.3C251.7 860.2 254.3 860.4 256.8 860.6C259.3 860.8 261.9 861.4 264.4 861.6C266.9 861.9 269.5 862.2 272 862.1C274.5 862.1 277.1 861.6 279.6 861.2C282.1 860.9 284.7 860.1 287.2 860C289.7 859.9 292.3 860.4 294.8 860.6C297.3 860.8 299.9 861.2 302.4 861.3C304.9 861.3 307.5 861.1 310 860.9C312.5 860.7 315.1 860.4 317.6 860.1C320.1 859.9 323.9 859.6 325.2 859.5" fill="none" stroke="#2d3345" stroke-width="0.8"/>
<path d="M226.4 875.9 227.5 876 228.6 876 229.7 876 230.9 876.1 232 876.3 233.1 876.5 234.2 876.4 235.3 876.3 236.4 876.5 237.6 876.7 238.7 876.7 239.8 876.7 240.9 876.6 242 876.2 243.1 875.8 244.3 875.5 245.4 875.2 246.5 874.8 247.6 874.9 248.7 875 249.8 875.2 251 875.2 252.1 875.3 253.2 875.4 254.3 875.6 255.4 875.6 256.5 875.8 257.7 876 258.8 876.1 259.9 876.1 261 876.2 262.1 876.2 263.2 876.2 264.4 876.4 265.5 876.4 266.6 876.7 267.7 876.8 268.8 876.8 269.9 876.8 271.1 876.4 272.2 876.2 273.3 875.8 274.4 875.5 275.5 875.1 276.6 874.8 277.8 874.8 278.9 874.8 280 875 281.1 874.9 282.2 875.1 283.3 875.1 284.5 875.3 285.6 875.4 286.7 875.7 287.8 875.8 288.9 875.9 290 875.9 291.2 876 292.3 876 293.4 876.2 294.5 876.3 295.6 876.4 296.7 876.4 297.9 876.6 299 876.7 300.1 876.8 301.2 877 302.3 877.2 303.4 877.4 304.6 877.6 305.7 877.8 306.8 877.8 307.9 876.5 309 875.4 310.1 874.7 311.3 874.7 312.4 874.5 313.5 874.5 314.6 874.4 315.7 874.4 316.8 874.3 318 874.3 319.1 874.3 320.2 874.3 321.3 874.9 322.4 875.4 323.5 876 324.7 876.6 325.8 877 326.9 877.3 328 877.8" fill="none" stroke="#111" stroke-width="0.9" stroke-linejoin="round"/>
<path d="M226.4 885.04v12.65M226.8 890.22v3.68M227.1 891.02v3.59M227.5 890.29v3.76M227.8 891.86v1.74M228.2 890.73v3.74M228.6 891.23v2.71M228.9 891.17v2.83M229.3 891.70v2.30M229.6 891.50v2.12M230 891.41v2.93M230.4 892.28v0.79M230.7 892.25v0.61M231.1 891.55v1.66M231.4 892.16v1.12M231.8 891.27v1.70M232.2 891.97v1.95M232.5 891.90v1.11M232.9 892.02v1.55M233.2 891.46v1.83M233.6 891.75v1.71M234 891.96v0.97M234.3 891.16v2.96M234.7 891.62v2.53M235 892.21v0.80M235.4 892.47v0.61M235.8 891.99v1.68M236.1 891.04v2.27M236.5 891.89v2.02M236.8 892.04v0.99M237.2 891.92v1.43M237.6 891.29v2.34M237.9 892.14v0.97M238.3 891.28v2.69M238.6 891.78v1.61M239 892.19v0.79M239.4 892.17v1.05M239.7 892.00v1.52M240.1 890.05v3.56M240.4 890.14v3.96M240.8 892.02v1.20M241.2 891.96v2.44M241.5 892.23v0.89M241.9 892.12v1.09M242.2 891.76v2.37M242.6 892.24v0.60M243 892.21v0.76M243.3 891.61v1.53M243.7 892.15v1.05M244 891.79v1.63M244.4 892.07v0.90M244.8 891.73v1.32M245.1 891.44v2.39M245.5 891.55v1.78M245.8 891.64v1.95M246.2 892.25v0.70M246.6 892.32v0.90M246.9 892.13v1.25M247.3 892.18v0.70M247.6 892.20v0.76M248 891.45v1.95M248.4 892.00v1.42M248.7 891.88v2.35M249.1 891.35v2.55M249.4 892.37v0.66M249.8 890.18v3.69M250.2 891.95v1.41M250.5 891.36v2.23M250.9 892.16v0.97M251.2 890.65v3.59M251.6 890.46v4.81M252 891.95v2.09M252.3 891.79v1.84M252.7 890.86v3.84M253 890.84v3.17M253.4 891.89v1.40M253.8 891.06v3.07M254.1 890.32v4.67M254.5 891.21v3.52M254.8 891.62v1.83M255.2 891.02v3.60M255.6 889.26v5.00M255.9 891.30v2.31M256.3 891.59v2.17M256.6 889.66v6.20M257 891.14v2.34M257.4 890.66v3.12M257.7 891.07v2.81M258.1 890.53v4.14M258.4 891.79v1.49M258.8 891.91v1.29M259.2 891.40v2.65M259.5 891.40v2.28M259.9 891.51v2.92M260.2 891.49v1.85M260.6 891.28v2.17M261 891.75v2.22M261.3 891.07v2.37M261.7 890.91v3.63M262 892.10v0.89M262.4 891.43v1.82M262.8 892.25v0.75M263.1 891.41v2.04M263.5 892.05v0.95M263.8 892.41v0.62M264.2 890.93v3.11M264.6 890.80v3.03M264.9 892.06v0.78M265.3 892.04v1.24M265.6 892.09v1.46M266 892.15v1.22M266.4 891.86v1.77M266.7 891.79v1.64M267.1 891.90v1.29M267.4 892.10v0.90M267.8 892.31v0.60M268.2 892.21v1.10M268.5 891.11v2.27M268.9 891.09v2.62M269.2 892.29v0.80M269.6 890.88v3.93M270 892.14v0.87M270.3 892.15v0.79M270.7 890.94v3.05M271 891.64v2.32M271.4 892.00v1.38M271.8 891.80v1.76M272.1 891.93v1.91M272.5 892.42v0.60M272.8 889.80v5.18M273.2 890.95v2.53M273.6 890.90v2.68M273.9 891.18v2.70M274.3 891.58v2.30M274.6 891.97v1.08M275 892.40v0.79M275.4 891.43v3.34M275.7 892.08v1.05M276.1 890.96v3.58M276.4 891.72v1.90M276.8 891.50v2.62M277.2 891.60v1.86M277.5 891.89v1.49M277.9 891.78v1.48M278.2 890.84v2.77M278.6 891.06v2.86M279 891.57v2.55M279.3 890.62v3.33M279.7 890.93v3.57M280 891.80v1.47M280.4 891.96v1.36M280.8 891.25v2.74M281.1 891.66v1.48M281.5 891.51v3.53M281.8 891.00v3.43M282.2 890.59v4.47M282.6 890.27v3.47M282.9 890.82v3.41M283.3 891.19v3.11M283.6 891.22v2.18M284 888.54v8.61M284.4 888.61v8.80M284.7 892.04v1.39M285.1 890.83v3.31M285.4 891.97v1.15M285.8 890.94v2.73M286.2 892.09v1.10M286.5 892.27v0.69M286.9 890.58v2.87M287.2 890.35v4.08M287.6 891.85v1.57M288 891.73v2.09M288.3 890.98v2.93M288.7 892.09v0.94M289 890.33v4.31M289.4 892.11v0.79M289.8 891.52v2.04M290.1 891.68v1.72M290.5 891.78v1.56M290.8 892.11v0.76M291.2 892.28v0.78M291.6 891.74v1.49M291.9 892.17v1.43M292.3 890.37v4.27M292.6 891.12v4.32M293 890.63v4.17M293.4 891.95v1.73M293.7 891.93v1.25M294.1 889.05v5.84M294.4 892.09v1.26M294.8 889.90v6.57M295.2 890.53v3.12M295.5 891.63v2.13M295.9 890.55v4.81M296.2 891.04v3.42M296.6 892.19v0.84M297 890.92v2.83M297.3 891.55v2.29M297.7 889.73v5.72M298 890.57v3.23M298.4 891.57v2.27M298.8 890.31v3.92M299.1 890.98v2.71M299.5 891.62v1.99M299.8 891.24v3.74M300.2 891.14v2.71M300.6 891.31v2.52M300.9 891.48v2.71M301.3 890.04v4.00M301.6 890.01v5.36M302 891.18v3.33M302.4 890.30v4.60M302.7 891.60v2.74M303.1 887.60v8.57M303.4 891.82v1.27M303.8 891.22v2.58M304.2 891.87v1.31M304.5 891.31v1.88M304.9 891.63v1.42M305.2 891.93v1.76M305.6 892.15v1.06M306 889.87v5.61M306.3 891.00v2.67M306.7 891.48v1.56M307 891.61v1.70M307.4 892.13v0.89M307.8 891.76v2.15M308.1 890.52v3.10M308.5 891.99v1.23M308.8 891.40v2.28M309.2 892.14v0.81M309.6 892.20v0.95M309.9 891.94v1.25M310.3 891.76v1.43M310.6 892.13v1.08M311 892.19v0.65M311.4 892.29v0.63M311.7 892.20v0.82M312.1 891.99v1.05M312.4 891.79v1.55M312.8 891.11v2.53M313.2 892.33v0.73M313.5 889.49v5.08M313.9 892.13v1.59M314.2 891.05v2.89M314.6 892.09v0.79M315 890.93v3.51M315.3 891.05v2.33M315.7 890.03v5.70M316 891.21v3.29M316.4 891.41v2.39M316.8 892.26v1.18M317.1 891.11v3.46M317.5 891.40v2.79M317.8 890.31v3.91M318.2 891.55v2.14M318.6 891.55v1.88M318.9 891.58v2.17M319.3 891.36v2.44M319.6 892.17v0.77M320 891.30v2.52M320.4 892.18v0.90M320.7 891.06v2.63M321.1 890.77v2.95M321.4 891.52v1.77M321.8 890.09v4.13M322.2 890.48v3.80M322.5 891.64v1.87M322.9 891.36v2.87M323.2 890.99v5.52M323.6 891.59v2.12M324 891.75v1.62M324.3 891.72v2.42M324.7 891.76v2.59M325 892.27v0.65M325.4 891.88v1.53M325.8 892.17v0.99M326.1 891.20v2.79M326.5 891.14v2.14M326.8 892.40v0.68M327.2 892.08v0.85M327.6 892.10v0.72M327.9 892.30v1.20M328.3 891.75v1.75" stroke="#0a0a0a" stroke-width="0.7" fill="none"/>
<line x1="226.4" y1="892.6" x2="328.6" y2="892.6" stroke="#0a0a0a" stroke-width="0.6"/>
<path d="M226.4 909.63v1.30M226.8 909.24v2.82M227.1 910.24v0.74M227.5 909.51v2.50M227.8 909.35v2.35M228.2 909.74v1.96M228.6 909.53v2.08M228.9 908.59v2.83M229.3 907.85v3.90M229.6 908.80v2.41M230 909.16v2.52M230.4 908.54v3.31M230.7 908.58v4.06M231.1 910.31v0.73M231.4 910.02v0.86M231.8 909.87v1.34M232.2 910.25v0.64M232.5 910.31v0.60M232.9 909.29v2.16M233.2 910.15v1.18M233.6 910.32v0.63M234 909.99v1.71M234.3 910.26v0.60M234.7 909.97v1.19M235 909.87v1.67M235.4 910.23v0.72M235.8 910.35v0.60M236.1 910.31v0.60M236.5 908.85v2.73M236.8 910.00v1.06M237.2 909.95v1.17M237.6 910.35v0.83M237.9 910.22v0.71M238.3 909.93v1.37M238.6 909.52v2.57M239 910.05v1.50M239.4 910.04v1.96M239.7 910.00v0.88M240.1 908.49v3.83M240.4 910.02v2.07M240.8 910.02v1.18M241.2 910.32v0.60M241.5 909.45v1.76M241.9 909.66v2.31M242.2 910.31v0.69M242.6 910.22v0.97M243 909.94v1.67M243.3 910.21v0.79M243.7 909.90v1.34M244 909.99v0.97M244.4 909.86v1.85M244.8 909.81v1.72M245.1 910.05v0.75M245.5 910.40v0.60M245.8 910.27v0.95M246.2 909.22v1.88M246.6 910.02v0.97M246.9 909.62v1.82M247.3 910.01v1.01M247.6 909.34v1.78M248 909.51v1.90M248.4 910.32v0.62M248.7 909.34v2.14M249.1 909.87v1.17M249.4 908.76v3.59M249.8 909.90v1.74M250.2 910.37v0.60M250.5 909.69v1.33M250.9 910.15v0.83M251.2 910.05v1.10M251.6 910.31v0.60M252 910.16v0.89M252.3 910.32v0.81M252.7 910.32v0.61M253 910.25v0.93M253.4 910.01v1.26M253.8 909.77v1.79M254.1 910.02v1.17M254.5 909.81v1.58M254.8 909.85v1.51M255.2 910.24v0.74M255.6 910.40v0.92M255.9 909.58v2.17M256.3 910.25v0.86M256.6 909.78v1.55M257 909.64v1.82M257.4 909.98v1.04M257.7 909.44v1.91M258.1 909.70v2.38M258.4 908.60v3.66M258.8 908.58v3.65M259.2 909.37v2.46M259.5 909.65v1.66M259.9 908.98v3.33M260.2 908.68v3.66M260.6 907.59v6.88M261 909.47v3.31M261.3 909.16v4.56M261.7 909.76v2.31M262 907.42v6.78M262.4 908.77v2.81M262.8 909.62v2.47M263.1 910.00v1.50M263.5 910.07v1.33M263.8 909.85v1.24M264.2 910.17v0.90M264.6 909.42v2.57M264.9 910.29v0.60M265.3 908.73v3.07M265.6 910.16v0.79M266 910.18v0.71M266.4 909.77v1.98M266.7 910.24v0.67M267.1 909.70v1.32M267.4 909.99v1.10M267.8 908.98v2.85M268.2 910.26v0.60M268.5 910.29v1.32M268.9 909.92v1.15M269.2 909.94v1.40M269.6 909.79v2.01M270 909.72v2.18M270.3 910.19v0.74M270.7 909.49v1.96M271 908.87v3.09M271.4 910.06v0.86M271.8 909.84v1.24M272.1 909.82v1.53M272.5 909.39v1.63M272.8 909.21v1.95M273.2 909.69v1.39M273.6 909.27v2.56M273.9 910.13v1.05M274.3 909.88v1.63M274.6 908.69v4.56M275 909.58v2.04M275.4 907.74v4.15M275.7 909.84v1.36M276.1 910.11v0.91M276.4 910.06v1.05M276.8 909.81v1.36M277.2 910.01v1.39M277.5 910.31v0.60M277.9 908.77v2.74M278.2 910.06v1.18M278.6 910.05v0.98M279 909.32v2.53M279.3 910.32v0.67M279.7 909.85v1.54M280 909.01v2.29M280.4 909.64v1.75M280.8 910.20v0.89M281.1 910.37v0.60M281.5 909.66v1.74M281.8 910.23v0.60M282.2 910.33v0.61M282.6 910.14v0.85M282.9 909.90v1.35M283.3 909.33v2.44M283.6 909.87v1.24M284 909.58v2.16M284.4 910.21v1.14M284.7 908.46v5.59M285.1 909.05v2.52M285.4 909.82v2.27M285.8 907.92v5.97M286.2 907.76v4.65M286.5 908.92v2.71M286.9 909.53v2.15M287.2 909.65v1.95M287.6 909.68v1.90M288 908.74v5.14M288.3 910.10v1.42M288.7 908.20v5.70M289 909.24v2.90M289.4 907.28v6.53M289.8 908.26v3.97M290.1 909.46v2.16M290.5 907.87v5.95M290.8 909.66v2.09M291.2 908.78v3.38M291.6 910.14v0.86M291.9 910.06v1.35M292.3 909.72v1.86M292.6 909.91v1.31M293 910.02v1.32M293.4 909.96v1.05M293.7 909.28v2.67M294.1 909.19v2.51M294.4 910.14v0.91M294.8 910.21v0.93M295.2 910.27v1.05M295.5 908.43v4.03M295.9 910.15v0.60M296.2 910.15v1.38M296.6 910.12v1.05M297 910.10v0.72M297.3 910.11v1.12M297.7 909.82v2.35M298 909.80v1.75M298.4 909.68v1.72M298.8 908.89v3.64M299.1 909.78v1.76M299.5 910.33v0.60M299.8 910.19v0.65M300.2 909.72v1.60M300.6 909.10v3.64M300.9 910.31v0.60M301.3 909.43v2.36M301.6 910.30v0.60M302 909.81v1.81M302.4 910.05v1.03M302.7 910.18v0.63M303.1 909.78v1.53M303.4 909.08v3.21M303.8 910.36v0.69M304.2 910.20v0.63M304.5 910.03v1.51M304.9 910.13v0.81M305.2 910.12v1.47M305.6 909.94v1.30M306 909.94v1.12M306.3 909.66v1.93M306.7 910.15v1.54M307 909.23v1.92M307.4 909.71v1.40M307.8 909.83v1.42M308.1 909.94v1.71M308.5 909.95v1.31M308.8 909.70v2.12M309.2 909.55v2.43M309.6 909.76v2.46M309.9 908.81v3.04M310.3 908.13v4.01M310.6 909.15v2.73M311 909.28v2.09M311.4 910.04v1.48M311.7 908.57v4.01M312.1 909.64v3.32M312.4 909.75v2.00M312.8 909.50v2.23M313.2 910.04v1.05M313.5 909.91v1.69M313.9 910.30v0.64M314.2 910.17v0.99M314.6 908.92v3.01M315 910.19v0.80M315.3 910.06v1.34M315.7 909.29v2.92M316 909.57v1.70M316.4 909.86v2.20M316.8 910.05v1.04M317.1 908.96v3.50M317.5 909.49v2.23M317.8 909.58v1.53M318.2 910.31v0.99M318.6 909.66v1.54M318.9 909.91v1.84M319.3 910.15v1.09M319.6 909.42v2.25M320 908.26v4.18M320.4 909.74v1.88M320.7 909.98v1.33M321.1 908.48v3.39M321.4 909.82v1.35M321.8 910.21v1.12M322.2 909.95v1.19M322.5 910.06v1.05M322.9 909.97v1.22M323.2 910.21v0.60M323.6 908.74v2.58M324 910.02v0.77M324.3 909.62v1.72M324.7 910.07v1.11M325 909.18v2.40M325.4 910.01v1.21M325.8 909.87v1.62M326.1 909.89v1.37M326.5 910.11v0.86M326.8 909.77v1.38M327.2 910.27v0.60M327.6 909.13v2.13M327.9 910.32v0.60M328.3 909.80v1.54" stroke="#0a0a0a" stroke-width="0.7" fill="none"/>
<line x1="226.4" y1="910.6" x2="328.6" y2="910.6" stroke="#0a0a0a" stroke-width="0.6"/>
<path d="M372.2 835.5L378.3 819.7M373.4 834.9L380.9 820.4M374.3 834.1L381.6 818.9M374.9 833.7L382.2 819.9M377.2 834.1L383.5 819.8M377.3 832.4L384.5 819.1M378.2 831.6L385.7 818.3M380.8 832.3L386.6 818.7M381.9 831.7L388 818.1M382.5 831.1L388.7 818.2M383.4 832.1L389.2 818M385.3 831.6L390.3 818.2M386.3 829.7L391.8 818.2M387.4 830L391.6 816.8M388.5 830L393.1 817.5M390.4 829.4L394.6 817.9M390.5 829.4L394.4 817.2M392.5 828.4L395.8 816.8M369.4 836.6L372.9 849.8M371.8 836.5L375.7 850.5M374.4 836.7L379.3 849.1M377.6 837.5L380.4 850.4M380.8 837.7L383.5 850.7M383.6 838.9L384.6 848.7M386.7 838.1L387.4 850.4M390.8 838.5L389.8 851.7M391.6 837.1L392 849.3M413 833.9L416.4 845.4M418.7 834.9L421.3 847.3M421.1 832.4L423.7 847.5M424.2 832.3L427.7 849M427.9 830.7L428.7 849M429.4 831.6L433.7 849.2M433.5 831.1L437.1 848.6M444 838.6L447.5 850.2M447.3 838.6L449.6 849.9M449.4 838L452.1 849.5M452.8 840.4L454.2 849.2M459.2 838L458.4 849.8M460.8 837.4L459.4 849.1M464.9 836.8L463.6 848.4M469 838.6L465.6 848.4M419 823.4L424.4 832.8M420.6 822.4L424.5 832.5M422.3 821.5L425.6 831.8M424.1 820.9L428.3 831.8M425.1 821L428.5 831.5M427.6 819.4L430.6 830.9M428.9 819.1L432.3 830.5M429.9 817.6L433.6 829.6M430.6 817.7L434.9 829.5M432.1 816.4L436 829.4" stroke="#8f8f8f" stroke-width="0.5" fill="none" stroke-linejoin="round"/>
<path d="M357.6 846.2L365.6 829.6M358 844.9L365.5 829.1M357.9 845.4L366.4 829.7M357.9 846.6L366.2 829.4M359 846.2L365.5 829.4M360 847L367.3 829.8M360 847.1L367.9 830.2M360.3 847.9L368.1 830.7M361 847.3L369.3 831.6M361.8 847.3L369.8 832.2M363.1 848.6L368.5 831M363.4 848.4L370.1 831.7M363.3 849.1L370.2 832.2M364.3 849.2L371.5 833.1M364.1 849.2L371 833.1M364.8 850L372.2 833.3M365.4 849.8L371.7 833.4M366.9 849.4L372.3 833.4M366.8 851.2L373.2 833.9M367 851.5L373.8 834.4M368.2 850L373.4 833.7M369 851.1L374.8 834.7M361 835L368.8 839.3M361.4 835L368.9 840.6M363.4 833.4L370.3 839M363.8 832.9L370.2 839.4M364 832.6L371.7 839.3M364.8 832.9L373.5 839.3M365.6 831.5L373.4 838.9M366.8 830.6L373.2 838.3M368.1 831.1L373.3 839M369.1 831.4L373.8 838.6M369.8 830.7L375.8 837.5M370 829.8L377 838.5M371 829.9L376.9 837.7M371.9 829.4L378 838.5M373 828.2L378.9 837.2M373.2 827.5L380.3 838M357.1 845L369.2 847.2M358.6 844.7L369.4 846.7M359.3 842.1L369.2 844.9M359.2 842.2L369.9 844.1M359.7 840.7L371.2 843.8M360 840L371.5 842.5M360 840L373.6 842.7M360.2 838.3L373.2 840.5M361.2 837.2L372.7 840M362.4 836.3L373.6 840.4M387.1 829.9L407.4 831.4M387.9 830.4L406.9 829.9M388.8 830.5L407.9 829.6M388 829.2L407.4 829.8M388.5 829.1L408.4 829.4M389.2 829.2L408.4 828M389.5 828.5L408.5 828.5M389.7 828.8L408.8 828.1M390.4 827.9L409.3 827.9M390.9 827.4L409 827M390.9 826.6L409.2 826.4M391 826.6L410.1 826.7M392 826.3L409.7 826M392.7 827L410 826M393.2 825.6L410.4 825.9M393 825.3L411.4 825.4M393.3 824.9L410.9 825.2M393.6 825.4L411.1 824.9M393.7 825.1L411.6 823.5M394.7 823.9L411.4 823.6M393.9 823.3L411.9 823M394.7 823.9L413.1 822.6M396.1 823.5L412.4 821.3M394.9 823.2L412.9 821.7M396 823.1L412.7 821M395.8 822.3L413.3 821.6M396.2 822.1L413.3 820.9M397.3 822.3L413.5 820.3M397 821.2L413.7 820.1M397.4 820.7L413.7 819.8M398.9 821L414.6 819.6M398.2 821.2L414.5 818.7M398.2 820.2L414.4 818.3M398.6 819.2L415.2 817.7M400.3 818.3L414.8 818M399.9 819L415.7 817.7M400.1 819L415.9 817.2M400.4 818.8L416 817.1M401.4 818.3L416.8 816.3M401.2 818L416.6 816.3M402 817.4L416.5 815.9M401.2 817.1L417.5 815.4M402.4 817L417.8 815.2M402.6 815.2L417.3 814.9M402.8 815.9L418.1 813.9M403.1 816.1L417.8 813.9M388.4 842L399 831.4M388.7 842.9L399.5 831.4M389 842.4L400.4 831.6M390.4 842.8L399.9 831.5M390.9 842L400.7 831.5M391.6 842.6L400.7 832.5M391.4 842.8L400.9 832.3M392.7 843L401.4 832.1M393.2 842.8L401.7 832.4M393 842.5L402 832.4M394.6 842.1L402.3 832.9M394.7 843.4L402.6 832.6M395.6 842.6L401.9 832.9M395.8 843.3L403.3 833M396.2 843.5L403.6 832.4M396.9 843.4L403.4 833.4M397.4 843.7L404.6 832.4M397.5 843.7L404.3 833.3M399.3 843.3L405 833.1M399 843.8L405 833.7M399.9 844L405.4 832.7M400.2 843.6L405.9 833.1M401 843.6L405.1 833.5M401.7 843.7L406.5 833.8M402.2 843.7L406.4 833.9M402.6 843.4L406.7 834M403.6 844.3L406.6 834.2M403.1 843.8L407 834.6M404.6 844.2L407.4 834.6M404.8 844.4L408.4 834.1M405.7 843.5L408.5 833.6M406.2 844.4L408.7 835.3M405.6 844.5L408.7 834.8M407.3 844.5L408.9 834.3M389.6 832L392.8 842.2M390.4 831.9L393.4 842.2M391.4 832.7L393.9 842.2M392 832.6L394.5 842.2M392.7 831.3L395.8 841.6M394 831.2L397.2 841.5M394.7 830.7L397.4 841.6M394.9 830.5L398.6 841.7M396.1 830.9L399.6 841M397.3 831.2L399.8 841.5M398 830.6L401.5 841.5M399.3 831L402 841.3M398.7 830.5L403.3 841M399.9 830.5L404.4 840.5M400.5 829.8L404.4 839.7M401.6 830.4L405 840M402.8 829.7L406.1 839.6M403.9 829.2L407.9 839.3M404.3 829.2L408.3 839.2M405.2 827.9L408.8 839.8M403.7 817L415.4 833.8M403.8 817.3L416.7 834.7M404.5 816.3L416.7 835M405.3 816.9L417.3 835.1M406.5 816.7L417.3 833.7M406.8 816.5L418.2 834.8M408.7 816.2L417.1 833.6M409.4 817.3L418.1 834.1M409.4 815.7L419.1 833.4M410.6 815.6L420 833M412 816L419.9 834.5M413 816.8L421 834M414.4 816L421.8 833.7M414.1 817.1L421.9 833.6M416 816.1L421.3 833.3M417 817L422.6 833.2M417.3 817.4L422.9 833.1M418.4 817.1L423.7 834.1M419.2 816.3L423.1 833.9M419.9 817L424.9 833.9M421.4 817.3L425.4 833.1M421.9 816.4L425.9 833.7M423 816.9L425.8 832.6M423.2 816.6L427 833.3M424.7 817.3L426.8 832.8M425.6 817.2L427.5 832.5M426.8 817.2L428.5 832.7M426.6 816.8L429 833M428.4 816.9L429.9 832.5M429 816.9L428.9 831.9M424.7 838.6L436.9 818.3M425.3 838.5L437.2 817.5M425.6 838.4L437.5 817.8M426 839.7L438.3 819.2M426.6 839L437.9 818.3M426.3 839.2L438.3 818M426.6 839L438.7 818.6M427.1 839.4L439.4 819.6M428.3 840L439.4 818.9M428.3 839.4L440.2 819M429.6 839.9L440.5 818.7M429 840.3L440.5 819.8M429.5 839.8L441.9 818.8M430 840.5L441.7 819.1M431.5 840.2L441.1 820.1M430.9 840.6L442.5 819.5M431.2 840.7L442.9 819.5M432.5 841L442.5 820.2M432.5 841.5L443.7 820.7M432.7 841.4L442.6 820.8M433.1 841.9L443.8 820.4M433.6 841.7L444.5 821.1M434 841.9L445.9 821.3M434.6 841.1L445.4 821.4M434.7 842.2L444.6 820.8M434.8 842.2L445.6 820.9M436.2 841.5L446.5 821.8M435.9 841.9L446.5 821.3M436.1 842.4L447 822.9M437.4 842.6L447.6 822.5M437.7 842.7L447.4 822.7M437.7 842.9L448.6 822.2M438.6 842.8L448.5 822.1M439.4 842.5L448.7 822M438.6 842.7L448.9 823M439.9 843.1L449.1 822.4M440.4 843.4L449.1 823.1M440.1 843.8L450.4 822.4M441 844L450.4 822.1M440.5 843.4L451.3 822.9M441.2 844L451.2 823.5M441.9 844.5L451.2 823.6M442.1 845.1L452.7 823.4M443 843.7L452.1 823.6M428.9 830.2L442.6 837M428.9 829.8L442.4 836.9M429.8 830L443.3 836.2M430.8 830L444.3 836.8M431.3 829.7L444.7 835.7M432.7 830.1L444.9 836.9M433.1 829.1L444.8 835.8M433.8 828.8L446.6 835.6M434.7 828.4L446.5 835.6M435.5 828.7L447.5 835.1M436 828.1L447.5 835.5M436.6 827.5L448.4 835.4M438 827L448.9 835.3M438.6 827.6L449.2 834.8M438.8 826.9L449.7 834.3M440.6 827L450.6 835M440.3 826.7L451.3 834.3M440.8 826.9L452 834.1M442.3 826.2L451.7 834.7M442.7 826.2L452.4 834.7M443.4 826L453.5 834.3M444.8 825.4L454 834.5M444.9 825.1L454.4 833.8M444.7 825.1L455.4 833.9M446.5 825.1L455.3 833.9M446.1 825.2L455.9 834.2M446.9 824L456.4 833.3M447.5 823.7L457.3 833M449.2 824.6L457.1 833M450.3 824.1L457.7 833.2M451 822.6L458.9 833.4M450.9 823L459.6 832.2M452 823.5L459.9 832.1M453.1 822.7L460.6 832.2M448.5 827.1L469.2 812.4M448 827.1L470.2 813M449.3 827.1L471 813.4M449.7 827.2L471.1 814.6M449.4 827.8L470.5 814.5M450.4 827.9L470.2 815.2M451 828.4L470.8 815.8M451 828.2L470.6 816.7M450.9 829.1L471.5 817.2M451.4 828.8L471.2 817.3M451.5 829.5L471.2 818.6M452.6 828.8L472.3 818.6M452.3 829.5L471.9 818.7M452.9 829.7L472 819.5M453.6 829.8L472.2 819.5M453.6 829.9L472.4 820.8M454.3 830.3L472.5 821.1M454.4 830.6L472.3 821.6M454.2 830.9L473.2 822.1M455.4 831L473.4 822.2M455.3 831.1L473.5 823M454.7 831.7L473.9 822.7M456.1 832L474.1 824.3M456.2 831.7L474.7 824.7M457.3 832.1L474.5 825.4M457.3 831.8L475.3 825.7M457.2 832.7L473.8 826.6M457.5 832.9L474.8 825.9M457.9 833.5L474.6 827.2M458.8 833.9L474.7 828M459 833.7L475.6 828.4M458.7 833.9L475.2 828.8M459.2 834.5L476 829.3M459.5 834.3L475.4 829.3M459.4 834.7L475.8 830.5M460.9 835L476 831.2M443.1 840L460.6 844.1M443.3 840.9L461.1 845.3M444.2 840.6L462.2 845.4M445 840.7L462.7 844.5M444.9 840.1L463.2 845M445.3 839.9L463.1 846.1M445.7 840.2L464.2 844.6M446.9 839.6L464.6 845.9M448.2 839.7L464.8 846.7M448.7 839.2L465.8 846.2M449.1 839.2L465.6 846.1M449.4 838.5L467 846.8M450.5 838.7L467.1 847.5M450.9 839.4L468.1 847.3M451.7 838.9L468.5 846.9M453.1 838.5L469.2 848.2M453.8 838.5L469.9 848.1M453 839.5L470.5 847.8M454.4 837.6L471.2 848.8M455.1 839.1L471.8 847.8M456 837.5L471.3 848.8M456.7 838.2L472.6 848.1M457.5 838.1L473.2 850.4M457.9 838L474.6 849.3M458.2 838.5L474.4 849M459 837.8L475.4 850.1M459.3 838.2L475.3 849.6M459.4 838.2L476.4 849.9M424.9 838L442.7 837.4M425.4 837.9L443 838.8M426 837.9L444.2 839M425.8 838.6L442.8 839.1M426.1 838.5L444.1 839.4M426.4 839L444.2 840.4M427.1 839.5L444.6 839.2M427.5 840.2L444.8 840M427.5 840.2L445.5 841.1M428.7 840.3L445 840.2M429.6 840.3L445.4 839.8M428.9 841.1L446.1 840.9M429.5 841.4L445.9 841.5M429.8 841.4L446 841M429.9 841.5L447 840.9M430.5 842.5L446.8 841.3M429.9 842.8L447.1 841.4M431.3 844L448.1 842M432.3 843.3L447.7 842.1M432.4 844.1L448.8 842.1M433 843.9L448.5 841.9M433.3 844.2L449.1 841.7M457.2 826.7L474.4 827.8M456.3 826.9L474.1 828.1M456.8 827.4L474.5 829M458.1 827.6L474.9 829.6M458.6 828.4L474.3 829.1M459.4 828.6L473.8 830.1M459 829.5L474.7 830.6M459.5 829.7L474.7 831.2M460.8 830.3L474.9 830.9M460.9 830.6L475.9 831.5M460 830.9L475.2 832.7M462.2 831.9L475 832.1M462 832.1L475.6 832.8M462.3 832.3L475.7 832.3M462.7 833.6L475.9 832.8M463.3 833.5L475.9 834.1M463.6 833.6L476.6 833.8M464.5 834.7L476 834.8M407.3 834.6L411.5 845M408.4 834.3L412.4 846M408.4 835.9L412.4 845.3M409.3 835L413.6 844.9M411 834.9L414.6 844.6M410.9 835.5L415.4 844.9M412.3 835.9L415.8 845.1M412.6 835.2L416.7 844.9M414.5 836.3L417.9 843.9M414.3 836.5L419 845M415 835.4L418.7 845M416.6 837.5L420 845M416.9 836.7L421.3 844.6M418.8 836.5L422.5 844.7M418.7 837.7L422.6 844.9M419.8 837.7L423.2 844.8M420.9 837.3L424.1 844.1M421.5 837.4L425.7 844.6M422.2 837.9L426.3 844.6M423.5 838.7L427.4 844.8M424.8 839.1L428.1 844M425.5 838.1L428.5 844M416.9 815.7L428.6 827.3M419.4 817.2L430 827.3M418.8 816.6L430.5 827.5M420.2 817.4L431.1 827M421 817.8L432.2 827.1M422.4 817.7L433.1 828.2M424.2 817.5L433.4 827.2M424.7 818.2L433.2 827.5M426.1 817L435.5 828.2M426.2 817.3L436.3 827.5M426.8 818L435.5 827.3M429.4 817.8L436.8 827M429.1 818.6L437.8 828.5M431 818.3L438.1 827M432.1 818.4L440.3 828.1M432.5 818.2L439.1 828.3M433.8 818.6L440.3 828M435.2 819.1L440.9 827.8M435.4 818.4L442.4 828.1M436.9 818.3L442.6 830M389.1 829L414.8 817.6M389.9 829.3L415.7 818.2M390.3 829.3L414.1 819.3M389.5 831.6L415.3 819.1M389.9 830.5L414.6 820.3M390.1 831.2L414.1 820.4M390.8 831.5L413.9 821.6M390.8 832.3L413.3 822.5M391.5 833.7L412.7 823.5M392.2 834L412.1 824.8M391.9 833.8L413.1 824.8M391.6 835.6L411.7 824.9M391.2 836.9L411.8 826.3M392.6 835.2L412 826.3M393.4 836.7L412.1 828.7M393 838.6L412.2 828.7M393 837.8L412.3 830M393.7 838.3L411.6 829.9M393.7 840.1L411.4 830.8M393.4 840.9L410.6 831.4M395.4 841.9L409.3 831.2M393.2 841.6L410.3 834.4M394.7 842.1L409.9 834.1M394.3 843.2L408.4 834.7M395.3 843.6L409.6 836.4M395.7 844.8L409.5 836.4M433.4 824.9L467.7 821.3M432.9 823.4L469.3 821.4M432.7 826.2L468.5 822.1M434.3 827L468.2 822.1M432.7 827.1L468.4 823.7M433.7 827.8L469.2 823.4M433.2 827.9L467.6 824.1M433.8 829.2L468.2 825.5M433.9 828.8L468.1 825.3M433.9 828.7L467.6 826.4M434.5 830.8L469.2 825.8M435.7 830.1L467.4 826.3M434.4 829.4L468.6 827.3M435.2 831.6L468.5 828.5M435.3 831L469.3 828.4M435.2 832.8L467.9 828.9M434.2 833.3L468.7 829.5M434.9 831.8L468.6 829.7M435.2 833.6L468.1 830.9M436 834.4L467.6 831.3M435.8 834.3L468.1 832.4M436.4 835.7L468.6 831.4M436.3 836.8L468.1 832.9M435.9 836.6L468.3 833M436.5 836.9L468.5 834.4M436.2 837.7L468.3 834.7M436.6 838L468 834.6M437.6 837.7L468.4 836.3M437.2 838.7L468.2 835.5M437.4 838.9L468.2 836.4M437.8 839.7L468.2 838.3M436.9 840.2L467 837.8M437.4 840.5L468.6 839.4M438.2 841.8L468.9 838.8M437.5 842.1L469.3 839.4M437.3 842.4L468.9 840.6M438.5 842.9L468.7 840.6M439.1 844.2L468.8 842.5M440 843.5L468.2 841.4M437.8 843.8L468.2 842.8M360.1 839.3L373.6 832M360.5 840.8L374.3 834.4M361.4 841.9L374.1 834.3M360.8 843.6L373.2 835M361.1 843.3L373.7 836.8M361.3 844.1L373.7 837.1M362.1 844.9L375.1 837.9M361.6 845.8L374.3 838.2M362.5 847L375.7 838.9M363.1 847.6L375.1 841M363.2 848.3L375.5 841.6M364.1 848.8L375.9 842.4M363.5 849.5L375.6 844.2M363.1 850.9L375.3 845.5" stroke="#14142e" stroke-width="0.75" fill="none" stroke-linejoin="round"/>
<path d="M363.6 840.5L369.7 838.5L368.9 851M364.7 839.7L370.4 838L369.5 850M379.5 825L392.4 820.3M380.3 824.7L393.3 820.6M381.4 824.2L393.5 820.2M405.5 846.8L410.2 834.4L429.2 832.5M405.8 846.9L411.2 835L429.4 833.8M419 824.9L430.4 816.5M419.7 825.4L432 816.3M437 849.2L442.5 840.8L457.4 839.3M437.5 848.9L442.7 839.9L458.1 839.9M448.7 830.9L456.6 828.4L466.5 816.7M449.6 831.6L457.5 828.9L467.1 817.9" stroke="#d8322f" stroke-width="0.45" fill="none" stroke-linejoin="round"/>
<rect x="361.4" y="861.8" width="114.6" height="5.2" fill="#b4b4b4" stroke="#3c3f48" stroke-width="0.7"/>
<path d="M361.4 860.2C362.9 860.5 367.3 861.5 370.2 861.8C373.2 862.2 376.1 862.1 379 862.2C382 862.3 384.9 862.4 387.8 862.4C390.8 862.3 393.7 862 396.7 861.9C399.6 861.9 402.5 862 405.5 861.9C408.4 861.8 411.4 861.5 414.3 861.3C417.2 861.1 420.2 860.9 423.1 860.8C426 860.6 429 860.2 431.9 860.2C434.9 860.1 437.8 860.2 440.7 860.2C443.7 860.3 446.6 860.3 449.6 860.5C452.5 860.6 455.4 861.1 458.4 861.4C461.3 861.6 464.2 861.5 467.2 861.7C470.1 862 474.5 862.6 476 862.7" fill="none" stroke="#2d3345" stroke-width="0.8"/>
<path d="M361.4 873.3 362.5 873.6 363.6 873.7 364.7 873.8 365.8 873.8 367 873.9 368.1 873.9 369.2 874 370.3 874.2 371.4 874.4 372.5 874.6 373.6 875 374.7 875.2 375.8 875.1 377 874.2 378.1 873.5 379.2 872.6 380.3 872.6 381.4 872.6 382.5 872.7 383.6 872.8 384.7 872.8 385.9 872.9 387 873 388.1 873.3 389.2 873.4 390.3 873.6 391.4 873.9 392.5 874.3 393.6 874.6 394.7 874.9 395.9 875.2 397 875.5 398.1 875.7 399.2 876.1 400.3 876.2 401.4 874.8 402.5 873.5 403.6 872.8 404.8 872.8 405.9 872.6 407 872.7 408.1 872.6 409.2 872.5 410.3 872.4 411.4 872.4 412.5 872.5 413.6 872.6 414.8 872.8 415.9 872.8 417 872.8 418.1 872.8 419.2 872.9 420.3 873.1 421.4 873.3 422.5 873.4 423.6 873.5 424.8 873.7 425.9 873.8 427 874 428.1 874.1 429.2 874.2 430.3 874.2 431.4 874.4 432.5 874.5 433.6 874.8 434.8 874.8 435.9 875 437 875.4 438.1 875.8 439.2 876.1 440.3 876.5 441.4 876.8 442.5 877.1 443.7 876 444.8 874.4 445.9 872.8 447 872.7 448.1 872.6 449.2 872.5 450.3 872.4 451.4 872.2 452.5 872.2 453.7 872.2 454.8 872 455.9 872 457 871.9 458.1 872 459.2 871.9 460.3 871.9 461.4 871.7 462.6 871.7 463.7 871.6 464.8 871.6 465.9 871.6 467 871.6 468.1 871.6 469.2 871.6 470.3 871.6 471.4 871.6 472.6 871.4 473.7 871.3 474.8 871.2 475.9 871.2 477 871.1" fill="none" stroke="#111" stroke-width="0.9" stroke-linejoin="round"/>
<path d="M361.4 890.19v5.55M361.8 889.49v7.05M362.1 890.97v4.25M362.5 889.71v5.76M362.8 887.58v11.18M363.2 886.97v11.07M363.6 889.10v7.79M363.9 890.86v3.48M364.3 888.73v7.82M364.6 889.11v6.03M365 891.51v2.50M365.4 882.81v17.86M365.7 886.65v10.76M366.1 890.15v4.16M366.4 889.85v4.31M366.8 890.58v4.32M367.2 890.93v4.63M367.5 891.58v3.00M367.9 890.69v3.61M368.2 891.78v1.37M368.6 890.53v3.52M369 890.12v6.11M369.3 891.57v1.84M369.7 890.99v1.89M370 891.94v0.99M370.4 891.43v1.60M370.8 891.54v2.64M371.1 891.03v3.13M371.5 891.69v1.68M371.8 891.11v3.04M372.2 891.21v2.54M372.6 891.20v2.27M372.9 890.73v3.03M373.3 891.83v1.59M373.6 891.76v1.51M374 891.44v1.57M374.4 891.97v0.81M374.7 889.84v4.14M375.1 891.59v2.31M375.4 891.43v1.93M375.8 891.71v1.47M376.2 891.96v1.33M376.5 887.97v5.98M376.9 890.59v4.07M377.2 890.58v3.71M377.6 891.53v2.82M378 890.24v6.73M378.3 891.23v2.87M378.7 890.10v3.78M379 890.65v3.69M379.4 891.36v2.13M379.8 890.13v3.20M380.1 891.17v1.97M380.5 890.96v2.11M380.8 889.93v5.60M381.2 891.46v1.85M381.6 891.18v1.99M381.9 891.43v1.55M382.3 891.68v1.00M382.6 891.88v1.27M383 891.08v3.42M383.4 890.57v3.06M383.7 890.85v3.46M384.1 891.18v1.97M384.4 891.97v1.19M384.8 891.34v2.03M385.2 891.33v2.13M385.5 891.70v1.67M385.9 891.25v2.33M386.2 891.16v2.14M386.6 891.14v2.80M387 891.60v1.79M387.3 890.41v5.23M387.7 892.05v1.06M388 886.21v9.28M388.4 889.14v6.72M388.8 891.07v2.72M389.1 891.85v1.23M389.5 889.18v6.24M389.8 890.57v3.80M390.2 890.88v3.11M390.6 887.84v8.79M390.9 891.09v2.91M391.3 888.66v10.61M391.6 890.28v4.56M392 883.81v12.47M392.4 890.13v5.01M392.7 889.18v5.52M393.1 888.48v10.44M393.4 891.20v2.20M393.8 890.21v6.37M394.2 887.42v10.09M394.5 888.03v7.01M394.9 889.79v4.94M395.2 889.71v4.41M395.6 891.24v2.61M396 890.07v8.66M396.3 891.59v1.81M396.7 890.05v3.93M397 890.30v5.14M397.4 888.33v10.66M397.8 891.35v2.42M398.1 890.21v4.64M398.5 891.69v1.62M398.8 889.41v6.91M399.2 890.73v3.17M399.6 891.34v2.14M399.9 891.49v2.61M400.3 891.85v1.18M400.6 891.14v1.88M401 891.65v1.62M401.4 891.53v1.70M401.7 889.55v5.82M402.1 890.38v4.06M402.4 890.92v3.29M402.8 891.66v1.57M403.2 891.74v3.22M403.5 891.29v1.84M403.9 891.40v2.87M404.2 890.86v3.38M404.6 889.69v4.91M405 890.22v5.66M405.3 891.90v1.66M405.7 891.15v2.38M406 888.03v6.20M406.4 890.03v4.42M406.8 890.57v4.71M407.1 891.11v1.92M407.5 890.59v2.99M407.8 889.99v4.47M408.2 891.46v3.02M408.6 891.76v1.50M408.9 890.91v3.03M409.3 891.99v0.84M409.6 891.39v1.89M410 887.04v9.57M410.4 891.37v1.95M410.7 889.91v6.25M411.1 890.89v2.38M411.4 891.03v2.09M411.8 891.31v3.20M412.2 888.87v5.64M412.5 888.67v8.40M412.9 887.72v9.52M413.2 890.42v3.11M413.6 891.78v1.38M414 890.91v2.86M414.3 889.68v4.87M414.7 890.35v4.86M415 891.05v2.27M415.4 891.24v2.10M415.8 890.27v4.28M416.1 890.02v4.14M416.5 891.58v1.64M416.8 886.80v11.15M417.2 890.74v5.70M417.6 887.22v15.57M417.9 889.77v7.33M418.3 891.50v2.03M418.6 890.80v3.14M419 890.33v3.69M419.4 889.38v4.97M419.7 890.13v4.13M420.1 891.67v1.93M420.4 890.37v3.47M420.8 889.34v5.68M421.2 890.03v4.14M421.5 891.38v1.83M421.9 891.49v1.29M422.2 891.38v2.50M422.6 888.74v7.22M423 890.34v5.17M423.3 891.13v6.07M423.7 890.92v2.52M424 890.04v3.78M424.4 891.35v2.25M424.8 889.41v6.52M425.1 891.42v2.66M425.5 890.41v4.79M425.8 889.44v5.09M426.2 891.09v2.44M426.6 889.32v8.16M426.9 891.91v1.19M427.3 891.15v3.61M427.6 891.04v2.97M428 890.37v4.20M428.4 885.78v9.85M428.7 891.34v2.26M429.1 888.31v6.77M429.4 890.90v3.12M429.8 885.50v11.88M430.2 891.93v1.12M430.5 891.16v2.74M430.9 890.55v3.50M431.2 891.64v2.38M431.6 891.34v1.99M432 891.27v2.41M432.3 889.93v5.18M432.7 891.88v2.31M433 890.23v3.63M433.4 891.54v1.67M433.8 891.60v2.17M434.1 891.56v1.64M434.5 891.09v2.96M434.8 892.01v0.71M435.2 891.02v2.70M435.6 890.50v4.50M435.9 891.40v1.84M436.3 891.00v2.46M436.6 891.76v1.08M437 890.09v5.00M437.4 888.32v7.05M437.7 890.97v3.71M438.1 888.86v5.92M438.4 891.02v4.20M438.8 891.72v1.38M439.2 891.14v2.92M439.5 890.57v3.58M439.9 890.10v4.96M440.2 890.88v4.17M440.6 890.42v3.79M441 891.22v2.97M441.3 888.64v7.85M441.7 889.91v4.47M442 891.10v2.83M442.4 883.46v17.51M442.8 890.72v2.68M443.1 890.18v4.05M443.5 890.99v3.93M443.8 888.58v8.71M444.2 890.08v4.36M444.6 889.73v4.18M444.9 891.53v2.97M445.3 890.78v3.32M445.6 890.77v3.71M446 889.34v7.59M446.4 888.90v6.30M446.7 890.42v3.43M447.1 891.30v3.19M447.4 890.08v3.61M447.8 890.75v3.58M448.2 890.04v4.22M448.5 890.25v5.66M448.9 888.72v7.09M449.2 890.20v5.33M449.6 889.52v4.21M450 889.66v4.33M450.3 891.22v3.04M450.7 889.55v5.90M451 888.63v9.44M451.4 889.96v4.09M451.8 888.22v9.11M452.1 888.91v5.04M452.5 889.77v8.18M452.8 890.93v2.82M453.2 891.06v3.48M453.6 889.47v6.37M453.9 886.08v13.19M454.3 887.34v10.31M454.6 891.75v1.62M455 891.62v1.62M455.4 890.30v3.42M455.7 891.38v2.41M456.1 890.36v4.09M456.4 891.06v2.28M456.8 891.35v2.07M457.2 891.60v1.63M457.5 891.86v1.46M457.9 891.00v3.16M458.2 889.20v5.58M458.6 891.94v0.96M459 890.28v3.17M459.3 891.44v2.00M459.7 891.51v1.56M460 891.22v2.32M460.4 891.30v1.59M460.8 890.83v4.61M461.1 891.05v2.38M461.5 890.95v2.33M461.8 890.64v5.05M462.2 891.12v3.45M462.6 891.65v2.07M462.9 891.75v1.86M463.3 891.76v1.29M463.6 891.40v1.86M464 890.15v6.28M464.4 891.01v3.33M464.7 891.37v2.21M465.1 890.42v3.17M465.4 891.30v1.64M465.8 891.19v2.32M466.2 891.14v2.12M466.5 890.32v5.30M466.9 890.78v2.64M467.2 891.54v2.17M467.6 890.15v5.48M468 891.72v1.28M468.3 890.08v4.76M468.7 891.53v2.37M469 890.31v6.31M469.4 890.41v3.48M469.8 891.25v7.11M470.1 891.00v2.45M470.5 890.81v3.40M470.8 891.84v1.02M471.2 892.05v0.63M471.6 890.65v3.51M471.9 891.71v0.97M472.3 890.78v2.55M472.6 891.44v1.95M473 888.66v7.13M473.4 891.42v2.25M473.7 891.13v3.29M474.1 891.35v2.38M474.4 890.86v3.34M474.8 891.84v1.19M475.2 891.83v1.46M475.5 891.24v2.27M475.9 889.74v5.33M476.2 891.55v1.46M476.6 891.84v1.14M477 890.99v2.76M477.3 891.20v2.31" stroke="#0a0a0a" stroke-width="0.75" fill="none"/>
<line x1="361.4" y1="892.4" x2="477.4" y2="892.4" stroke="#0a0a0a" stroke-width="0.6"/>
<path d="M361.4 910.32v1.72M361.8 908.70v5.26M362.1 910.30v1.65M362.5 904.71v12.58M362.8 909.17v3.61M363.2 905.58v15.38M363.6 908.90v4.77M363.9 902.91v18.00M364.3 906.96v6.95M364.6 908.52v5.36M365 909.07v5.31M365.4 910.23v2.24M365.7 909.65v3.69M366.1 910.44v1.57M366.4 909.55v4.46M366.8 908.61v4.18M367.2 909.15v2.28M367.5 910.12v2.37M367.9 909.53v2.43M368.2 906.50v8.01M368.6 909.57v2.18M369 910.52v1.28M369.3 910.00v1.66M369.7 910.68v0.84M370 909.10v4.54M370.4 909.63v3.16M370.8 910.40v1.51M371.1 910.12v1.65M371.5 909.99v1.71M371.8 910.21v1.31M372.2 910.18v1.91M372.6 910.51v1.24M372.9 910.44v1.33M373.3 909.48v3.32M373.6 909.18v4.44M374 909.75v3.58M374.4 909.58v3.22M374.7 910.42v1.11M375.1 909.92v2.23M375.4 910.66v1.11M375.8 909.07v3.57M376.2 910.11v1.52M376.5 910.31v1.21M376.9 907.82v5.15M377.2 910.46v1.12M377.6 909.69v2.22M378 910.38v1.29M378.3 910.23v1.39M378.7 910.54v0.97M379 907.95v4.94M379.4 910.17v2.44M379.8 909.41v4.52M380.1 908.71v4.67M380.5 910.11v2.56M380.8 910.41v1.25M381.2 908.96v3.64M381.6 910.52v0.96M381.9 908.86v4.16M382.3 909.78v3.03M382.6 909.86v2.53M383 910.52v0.85M383.4 910.55v1.33M383.7 910.19v1.68M384.1 910.26v1.40M384.4 909.68v2.46M384.8 910.37v0.97M385.2 908.25v4.14M385.5 910.48v1.19M385.9 909.10v3.13M386.2 909.13v3.45M386.6 909.79v2.03M387 909.91v3.95M387.3 910.54v0.81M387.7 910.22v1.89M388 909.57v3.03M388.4 908.79v5.49M388.8 909.46v3.64M389.1 909.81v2.41M389.5 909.62v2.61M389.8 909.20v3.29M390.2 910.28v1.32M390.6 910.13v1.60M390.9 909.94v3.08M391.3 909.27v2.87M391.6 908.69v4.35M392 910.50v1.04M392.4 908.47v4.31M392.7 909.28v4.10M393.1 907.87v6.08M393.4 909.72v2.76M393.8 910.52v0.83M394.2 910.20v1.71M394.5 910.54v0.90M394.9 908.14v6.40M395.2 908.18v5.78M395.6 910.04v1.61M396 909.73v2.17M396.3 906.60v9.45M396.7 909.67v3.04M397 909.51v2.66M397.4 910.35v1.41M397.8 909.61v3.78M398.1 908.44v4.61M398.5 909.94v1.66M398.8 909.26v3.94M399.2 906.94v9.01M399.6 906.44v8.04M399.9 909.20v3.43M400.3 909.42v2.35M400.6 908.76v3.22M401 909.96v1.83M401.4 909.25v2.57M401.7 908.80v4.18M402.1 906.24v13.96M402.4 909.63v2.37M402.8 908.46v6.88M403.2 906.50v8.44M403.5 909.16v3.68M403.9 909.64v2.57M404.2 909.68v1.76M404.6 910.36v1.77M405 910.65v0.90M405.3 908.06v6.19M405.7 910.20v1.73M406 910.44v2.03M406.4 910.33v1.50M406.8 909.69v3.70M407.1 908.42v4.28M407.5 910.68v0.71M407.8 909.49v2.38M408.2 909.72v2.98M408.6 910.47v0.99M408.9 909.71v2.09M409.3 909.54v3.00M409.6 910.64v0.89M410 908.71v3.40M410.4 910.01v1.66M410.7 910.49v1.02M411.1 908.30v4.09M411.4 910.44v0.72M411.8 909.42v2.30M412.2 910.15v1.77M412.5 910.57v0.92M412.9 910.57v0.67M413.2 909.61v2.81M413.6 909.88v2.14M414 910.58v1.02M414.3 909.73v2.62M414.7 909.90v1.84M415 910.01v2.51M415.4 910.40v1.20M415.8 910.25v1.30M416.1 910.01v1.64M416.5 909.88v2.68M416.8 909.59v2.77M417.2 909.44v2.49M417.6 910.25v1.61M417.9 908.35v4.86M418.3 910.64v0.60M418.6 907.68v4.98M419 910.03v2.86M419.4 909.82v1.84M419.7 909.12v2.94M420.1 909.80v2.37M420.4 909.99v1.91M420.8 908.14v5.46M421.2 910.37v2.06M421.5 910.02v1.80M421.9 909.48v3.07M422.2 906.60v7.51M422.6 908.80v3.90M423 909.94v1.59M423.3 909.93v2.84M423.7 909.59v2.45M424 910.61v0.87M424.4 909.25v4.68M424.8 908.42v4.51M425.1 909.40v2.98M425.5 910.49v1.88M425.8 910.50v1.21M426.2 910.18v1.63M426.6 908.54v4.02M426.9 910.27v2.49M427.3 905.09v10.69M427.6 907.56v5.48M428 909.10v3.77M428.4 910.57v1.09M428.7 909.73v2.69M429.1 905.44v9.76M429.4 909.33v2.25M429.8 910.03v2.35M430.2 909.91v2.27M430.5 910.10v1.44M430.9 910.00v1.78M431.2 910.08v1.85M431.6 910.13v1.37M432 910.26v2.27M432.3 907.66v6.35M432.7 910.00v2.47M433 909.40v2.34M433.4 910.36v1.91M433.8 907.64v6.74M434.1 909.68v2.58M434.5 909.41v2.68M434.8 905.42v10.56M435.2 910.21v1.52M435.6 908.57v4.26M435.9 906.05v7.96M436.3 909.13v2.96M436.6 909.81v2.45M437 909.52v3.04M437.4 910.30v1.48M437.7 910.23v1.51M438.1 910.40v1.57M438.4 910.05v1.84M438.8 908.90v3.76M439.2 909.03v3.41M439.5 910.64v1.23M439.9 909.94v2.03M440.2 909.15v2.43M440.6 909.81v1.97M441 909.43v3.58M441.3 909.68v2.96M441.7 910.09v2.80M442 909.46v3.50M442.4 910.24v2.32M442.8 910.20v2.07M443.1 910.34v1.24M443.5 909.81v2.04M443.8 909.68v2.75M444.2 909.49v3.34M444.6 910.35v1.21M444.9 910.63v0.87M445.3 909.69v2.14M445.6 909.89v2.29M446 908.89v4.31M446.4 909.14v4.29M446.7 910.67v0.72M447.1 908.79v3.78M447.4 909.41v2.45M447.8 910.42v1.10M448.2 910.65v0.60M448.5 910.21v1.69M448.9 910.36v2.46M449.2 910.63v0.75M449.6 909.84v3.52M450 910.45v1.29M450.3 909.77v2.32M450.7 910.12v1.94M451 910.66v0.83M451.4 910.51v1.24M451.8 910.28v1.66M452.1 910.66v0.92M452.5 910.66v0.69M452.8 910.56v1.10M453.2 910.62v0.73M453.6 908.68v4.04M453.9 909.94v3.05M454.3 909.82v2.90M454.6 910.53v0.99M455 910.00v1.60M455.4 910.22v1.63M455.7 908.84v4.16M456.1 909.19v3.68M456.4 909.48v3.11M456.8 909.21v3.21M457.2 910.11v1.70M457.5 909.91v3.84M457.9 909.63v3.28M458.2 910.30v1.32M458.6 910.39v1.18M459 910.53v1.11M459.3 909.48v3.26M459.7 910.54v1.05M460 910.40v1.87M460.4 909.95v1.64M460.8 910.20v1.70M461.1 910.28v1.49M461.5 908.95v3.52M461.8 909.80v1.87M462.2 910.14v1.61M462.6 910.07v1.55M462.9 908.33v5.67M463.3 909.17v3.69M463.6 910.58v0.68M464 910.66v0.94M464.4 908.58v5.88M464.7 909.85v3.16M465.1 909.67v2.46M465.4 910.68v0.93M465.8 909.71v3.30M466.2 909.86v2.25M466.5 909.12v2.82M466.9 910.09v1.47M467.2 910.51v1.08M467.6 909.13v3.91M468 910.26v1.32M468.3 910.73v0.68M468.7 910.69v0.89M469 909.09v3.04M469.4 908.57v3.81M469.8 910.10v1.78M470.1 909.92v2.01M470.5 909.69v3.51M470.8 909.49v3.31M471.2 909.38v3.98M471.6 910.55v1.21M471.9 909.41v3.48M472.3 910.16v1.66M472.6 909.69v3.11M473 910.09v2.00M473.4 910.04v2.05M473.7 909.65v3.43M474.1 909.41v2.90M474.4 910.09v1.61M474.8 909.48v2.04M475.2 909.03v3.24M475.5 910.49v1.14M475.9 910.62v0.73M476.2 910.74v0.64M476.6 909.57v3.11M477 910.65v0.86M477.3 910.61v0.75" stroke="#0a0a0a" stroke-width="0.75" fill="none"/>
<line x1="361.4" y1="911" x2="477.4" y2="911" stroke="#0a0a0a" stroke-width="0.6"/>
<line x1="483.4" y1="872.8" x2="483.4" y2="883.2" stroke="#0c0c0c" stroke-width="1.1"/>
<text x="486.6" y="880" font-size="8" text-anchor="middle" transform="rotate(90 486.6 880)">50 deg</text>
<line x1="483.4" y1="904" x2="483.4" y2="914.4" stroke="#0c0c0c" stroke-width="1.1"/>
<text x="486.6" y="911.7" font-size="8" text-anchor="middle" transform="rotate(90 486.6 911.7)">0.4 mV</text>
<line x1="452" y1="922.6" x2="476.4" y2="922.6" stroke="#0c0c0c" stroke-width="1.1"/>
<text x="466" y="932.2" font-size="7.8" text-anchor="middle">0.5 s</text>
<rect x="575.2" y="653.7" width="6.8" height="6.6" fill="#686868"/>
<text x="587.4" y="660.2" font-size="8.7">Before stimulation</text>
<rect x="575.2" y="664.4" width="6.8" height="6.6" fill="#1b86a3"/>
<text x="587.4" y="670.8" font-size="8.7">During stimulation</text>
<text x="518.6" y="667.6" font-size="14">o</text>
<rect x="573.4" y="739.3" width="9" height="44.3" fill="#686868" stroke="#000" stroke-width="1.1"/>
<rect x="586.9" y="733.6" width="9" height="50" fill="#1b86a3" stroke="#000" stroke-width="1.1"/>
<rect x="609.3" y="733.3" width="9" height="50.3" fill="#686868" stroke="#000" stroke-width="1.1"/>
<rect x="622.4" y="716.2" width="9.2" height="67.4" fill="#1b86a3" stroke="#000" stroke-width="1.1"/>
<rect x="644.9" y="721.5" width="9" height="62.1" fill="#686868" stroke="#000" stroke-width="1.1"/>
<rect x="658.2" y="696.7" width="9.3" height="86.9" fill="#1b86a3" stroke="#000" stroke-width="1.1"/>
<line x1="577.9" y1="738.1" x2="577.9" y2="740.5" stroke="#000" stroke-width="1"/>
<line x1="575.7" y1="738.1" x2="580.1" y2="738.1" stroke="#000" stroke-width="1"/>
<line x1="575.7" y1="740.5" x2="580.1" y2="740.5" stroke="#000" stroke-width="1"/>
<line x1="591.4" y1="732.6" x2="591.4" y2="734.6" stroke="#000" stroke-width="1"/>
<line x1="589.2" y1="732.6" x2="593.6" y2="732.6" stroke="#000" stroke-width="1"/>
<line x1="589.2" y1="734.6" x2="593.6" y2="734.6" stroke="#000" stroke-width="1"/>
<line x1="613.8" y1="731.7" x2="613.8" y2="734.9" stroke="#000" stroke-width="1"/>
<line x1="611.6" y1="731.7" x2="616" y2="731.7" stroke="#000" stroke-width="1"/>
<line x1="611.6" y1="734.9" x2="616" y2="734.9" stroke="#000" stroke-width="1"/>
<line x1="627" y1="714.4" x2="627" y2="718" stroke="#000" stroke-width="1"/>
<line x1="624.8" y1="714.4" x2="629.2" y2="714.4" stroke="#000" stroke-width="1"/>
<line x1="624.8" y1="718" x2="629.2" y2="718" stroke="#000" stroke-width="1"/>
<line x1="649.4" y1="720.1" x2="649.4" y2="722.9" stroke="#000" stroke-width="1"/>
<line x1="647.2" y1="720.1" x2="651.6" y2="720.1" stroke="#000" stroke-width="1"/>
<line x1="647.2" y1="722.9" x2="651.6" y2="722.9" stroke="#000" stroke-width="1"/>
<line x1="662.9" y1="695.1" x2="662.9" y2="698.3" stroke="#000" stroke-width="1"/>
<line x1="660.6" y1="695.1" x2="665.1" y2="695.1" stroke="#000" stroke-width="1"/>
<line x1="660.6" y1="698.3" x2="665.1" y2="698.3" stroke="#000" stroke-width="1"/>
<circle cx="574.9" cy="738.7" r="1.6" fill="#fff" stroke="#000" stroke-width="1.05"/>
<circle cx="580.9" cy="734.8" r="1.6" fill="#fff" stroke="#000" stroke-width="1.05"/>
<circle cx="577.6" cy="740.2" r="1.6" fill="#fff" stroke="#000" stroke-width="1.05"/>
<circle cx="575.2" cy="746.8" r="1.6" fill="#fff" stroke="#000" stroke-width="1.05"/>
<circle cx="579.7" cy="742.6" r="1.6" fill="#fff" stroke="#000" stroke-width="1.05"/>
<circle cx="577.3" cy="736.6" r="1.6" fill="#fff" stroke="#000" stroke-width="1.05"/>
<circle cx="587.8" cy="733.3" r="1.6" fill="#fff" stroke="#000" stroke-width="1.05"/>
<circle cx="591.3" cy="730.3" r="1.6" fill="#fff" stroke="#000" stroke-width="1.05"/>
<circle cx="594.6" cy="733.3" r="1.6" fill="#fff" stroke="#000" stroke-width="1.05"/>
<circle cx="589.2" cy="736.6" r="1.6" fill="#fff" stroke="#000" stroke-width="1.05"/>
<circle cx="593.1" cy="736.6" r="1.6" fill="#fff" stroke="#000" stroke-width="1.05"/>
<circle cx="591.3" cy="733.9" r="1.6" fill="#fff" stroke="#000" stroke-width="1.05"/>
<circle cx="610.8" cy="725.2" r="1.6" fill="#fff" stroke="#000" stroke-width="1.05"/>
<circle cx="617.1" cy="728.2" r="1.6" fill="#fff" stroke="#000" stroke-width="1.05"/>
<circle cx="611.7" cy="732.4" r="1.6" fill="#fff" stroke="#000" stroke-width="1.05"/>
<circle cx="615.3" cy="733.6" r="1.6" fill="#fff" stroke="#000" stroke-width="1.05"/>
<circle cx="610.8" cy="739.3" r="1.6" fill="#fff" stroke="#000" stroke-width="1.05"/>
<circle cx="616.2" cy="738.4" r="1.6" fill="#fff" stroke="#000" stroke-width="1.05"/>
<circle cx="626.7" cy="705.5" r="1.6" fill="#fff" stroke="#000" stroke-width="1.05"/>
<circle cx="625.2" cy="712.4" r="1.6" fill="#fff" stroke="#000" stroke-width="1.05"/>
<circle cx="628.8" cy="713.3" r="1.6" fill="#fff" stroke="#000" stroke-width="1.05"/>
<circle cx="626.1" cy="718.4" r="1.6" fill="#fff" stroke="#000" stroke-width="1.05"/>
<circle cx="626.7" cy="724.7" r="1.6" fill="#fff" stroke="#000" stroke-width="1.05"/>
<circle cx="627.9" cy="721.4" r="1.6" fill="#fff" stroke="#000" stroke-width="1.05"/>
<circle cx="649.1" cy="711.5" r="1.6" fill="#fff" stroke="#000" stroke-width="1.05"/>
<circle cx="647.6" cy="718.4" r="1.6" fill="#fff" stroke="#000" stroke-width="1.05"/>
<circle cx="651.2" cy="718.4" r="1.6" fill="#fff" stroke="#000" stroke-width="1.05"/>
<circle cx="647.6" cy="722.3" r="1.6" fill="#fff" stroke="#000" stroke-width="1.05"/>
<circle cx="650.6" cy="723.8" r="1.6" fill="#fff" stroke="#000" stroke-width="1.05"/>
<circle cx="649.1" cy="729.4" r="1.6" fill="#fff" stroke="#000" stroke-width="1.05"/>
<circle cx="659.6" cy="689.3" r="1.6" fill="#fff" stroke="#000" stroke-width="1.05"/>
<circle cx="666.2" cy="691.4" r="1.6" fill="#fff" stroke="#000" stroke-width="1.05"/>
<circle cx="661.1" cy="695.3" r="1.6" fill="#fff" stroke="#000" stroke-width="1.05"/>
<circle cx="664.1" cy="697.4" r="1.6" fill="#fff" stroke="#000" stroke-width="1.05"/>
<circle cx="660.5" cy="700.4" r="1.6" fill="#fff" stroke="#000" stroke-width="1.05"/>
<circle cx="663.2" cy="704.9" r="1.6" fill="#fff" stroke="#000" stroke-width="1.05"/>
<line x1="567.7" y1="673.1" x2="567.7" y2="784.1" stroke="#0c0c0c" stroke-width="1.1"/>
<line x1="567.7" y1="783.6" x2="677.5" y2="783.6" stroke="#0c0c0c" stroke-width="1.1"/>
<line x1="564.5" y1="783.6" x2="567.7" y2="783.6" stroke="#0c0c0c" stroke-width="1"/>
<text x="563.3" y="786.6" font-size="8.2" text-anchor="end">0</text>
<line x1="564.5" y1="756.1" x2="567.7" y2="756.1" stroke="#0c0c0c" stroke-width="1"/>
<text x="563.3" y="759.1" font-size="8.2" text-anchor="end">5</text>
<line x1="564.5" y1="728.6" x2="567.7" y2="728.6" stroke="#0c0c0c" stroke-width="1"/>
<text x="563.3" y="731.6" font-size="8.2" text-anchor="end">10</text>
<line x1="564.5" y1="701.1" x2="567.7" y2="701.1" stroke="#0c0c0c" stroke-width="1"/>
<text x="563.3" y="704.1" font-size="8.2" text-anchor="end">15</text>
<line x1="564.5" y1="673.6" x2="567.7" y2="673.6" stroke="#0c0c0c" stroke-width="1"/>
<text x="563.3" y="676.6" font-size="8.2" text-anchor="end">20</text>
<text x="584.3" y="721.3" font-size="8" text-anchor="middle">ns</text>
<line x1="577.3" y1="723.6" x2="591.3" y2="723.6" stroke="#000" stroke-width="1.1"/>
<text x="619.2" y="699.1" font-size="8" text-anchor="middle">*</text>
<line x1="612.2" y1="699" x2="626.2" y2="699" stroke="#000" stroke-width="1.1"/>
<text x="655" y="682.1" font-size="8" text-anchor="middle">**</text>
<line x1="648" y1="681.9" x2="662" y2="681.9" stroke="#000" stroke-width="1.1"/>
<text x="546.6" y="725.6" font-size="10.4" text-anchor="middle" transform="rotate(-90 546.6 725.6)">Maximal crest height (mm)</text>
<text x="578.9" y="795.1" font-size="9.1" text-anchor="middle">1 week</text>
<text x="620.4" y="795.1" font-size="9.1" text-anchor="middle">4 weeks</text>
<text x="661.8" y="795.1" font-size="9.1" text-anchor="middle">10 weeks</text>
<text x="518.6" y="807.4" font-size="14">p</text>
<rect x="573.4" y="896.4" width="9" height="18.6" fill="#686868" stroke="#000" stroke-width="1.1"/>
<rect x="586.9" y="889.8" width="9" height="25.2" fill="#1b86a3" stroke="#000" stroke-width="1.1"/>
<rect x="609.3" y="892.5" width="9" height="22.5" fill="#686868" stroke="#000" stroke-width="1.1"/>
<rect x="622.4" y="866.4" width="9.2" height="48.6" fill="#1b86a3" stroke="#000" stroke-width="1.1"/>
<rect x="644.9" y="889.8" width="9" height="25.2" fill="#686868" stroke="#000" stroke-width="1.1"/>
<rect x="658.2" y="832.8" width="9.3" height="82.2" fill="#1b86a3" stroke="#000" stroke-width="1.1"/>
<line x1="577.9" y1="895" x2="577.9" y2="897.8" stroke="#000" stroke-width="1"/>
<line x1="575.7" y1="895" x2="580.1" y2="895" stroke="#000" stroke-width="1"/>
<line x1="575.7" y1="897.8" x2="580.1" y2="897.8" stroke="#000" stroke-width="1"/>
<line x1="591.4" y1="888.8" x2="591.4" y2="890.8" stroke="#000" stroke-width="1"/>
<line x1="589.2" y1="888.8" x2="593.6" y2="888.8" stroke="#000" stroke-width="1"/>
<line x1="589.2" y1="890.8" x2="593.6" y2="890.8" stroke="#000" stroke-width="1"/>
<line x1="613.8" y1="891.5" x2="613.8" y2="893.5" stroke="#000" stroke-width="1"/>
<line x1="611.6" y1="891.5" x2="616" y2="891.5" stroke="#000" stroke-width="1"/>
<line x1="611.6" y1="893.5" x2="616" y2="893.5" stroke="#000" stroke-width="1"/>
<line x1="627" y1="864.8" x2="627" y2="868" stroke="#000" stroke-width="1"/>
<line x1="624.8" y1="864.8" x2="629.2" y2="864.8" stroke="#000" stroke-width="1"/>
<line x1="624.8" y1="868" x2="629.2" y2="868" stroke="#000" stroke-width="1"/>
<line x1="649.4" y1="888.6" x2="649.4" y2="891" stroke="#000" stroke-width="1"/>
<line x1="647.2" y1="888.6" x2="651.6" y2="888.6" stroke="#000" stroke-width="1"/>
<line x1="647.2" y1="891" x2="651.6" y2="891" stroke="#000" stroke-width="1"/>
<line x1="662.9" y1="831.2" x2="662.9" y2="834.4" stroke="#000" stroke-width="1"/>
<line x1="660.6" y1="831.2" x2="665.1" y2="831.2" stroke="#000" stroke-width="1"/>
<line x1="660.6" y1="834.4" x2="665.1" y2="834.4" stroke="#000" stroke-width="1"/>
<circle cx="575.2" cy="889.9" r="1.6" fill="#fff" stroke="#000" stroke-width="1.05"/>
<circle cx="580.9" cy="890.5" r="1.6" fill="#fff" stroke="#000" stroke-width="1.05"/>
<circle cx="576.4" cy="895" r="1.6" fill="#fff" stroke="#000" stroke-width="1.05"/>
<circle cx="579.4" cy="896.5" r="1.6" fill="#fff" stroke="#000" stroke-width="1.05"/>
<circle cx="575.8" cy="899.4" r="1.6" fill="#fff" stroke="#000" stroke-width="1.05"/>
<circle cx="579.7" cy="899.7" r="1.6" fill="#fff" stroke="#000" stroke-width="1.05"/>
<circle cx="589.2" cy="886.9" r="1.6" fill="#fff" stroke="#000" stroke-width="1.05"/>
<circle cx="593.1" cy="888.1" r="1.6" fill="#fff" stroke="#000" stroke-width="1.05"/>
<circle cx="588.4" cy="890.5" r="1.6" fill="#fff" stroke="#000" stroke-width="1.05"/>
<circle cx="591.3" cy="891.4" r="1.6" fill="#fff" stroke="#000" stroke-width="1.05"/>
<circle cx="594.3" cy="890.5" r="1.6" fill="#fff" stroke="#000" stroke-width="1.05"/>
<circle cx="591.3" cy="893.5" r="1.6" fill="#fff" stroke="#000" stroke-width="1.05"/>
<circle cx="613.2" cy="883.9" r="1.6" fill="#fff" stroke="#000" stroke-width="1.05"/>
<circle cx="610.8" cy="892" r="1.6" fill="#fff" stroke="#000" stroke-width="1.05"/>
<circle cx="614.1" cy="891.1" r="1.6" fill="#fff" stroke="#000" stroke-width="1.05"/>
<circle cx="617.1" cy="892" r="1.6" fill="#fff" stroke="#000" stroke-width="1.05"/>
<circle cx="611.7" cy="896.5" r="1.6" fill="#fff" stroke="#000" stroke-width="1.05"/>
<circle cx="615.3" cy="895.3" r="1.6" fill="#fff" stroke="#000" stroke-width="1.05"/>
<circle cx="626.7" cy="856.6" r="1.6" fill="#fff" stroke="#000" stroke-width="1.05"/>
<circle cx="626.7" cy="863.5" r="1.6" fill="#fff" stroke="#000" stroke-width="1.05"/>
<circle cx="624.6" cy="868" r="1.6" fill="#fff" stroke="#000" stroke-width="1.05"/>
<circle cx="628.8" cy="868" r="1.6" fill="#fff" stroke="#000" stroke-width="1.05"/>
<circle cx="625.8" cy="871.3" r="1.6" fill="#fff" stroke="#000" stroke-width="1.05"/>
<circle cx="628.2" cy="871.9" r="1.6" fill="#fff" stroke="#000" stroke-width="1.05"/>
<circle cx="649.1" cy="884.5" r="1.6" fill="#fff" stroke="#000" stroke-width="1.05"/>
<circle cx="647" cy="889" r="1.6" fill="#fff" stroke="#000" stroke-width="1.05"/>
<circle cx="651.2" cy="888.1" r="1.6" fill="#fff" stroke="#000" stroke-width="1.05"/>
<circle cx="648.5" cy="892" r="1.6" fill="#fff" stroke="#000" stroke-width="1.05"/>
<circle cx="650.6" cy="894.4" r="1.6" fill="#fff" stroke="#000" stroke-width="1.05"/>
<circle cx="649.1" cy="896.8" r="1.6" fill="#fff" stroke="#000" stroke-width="1.05"/>
<circle cx="661.1" cy="825.2" r="1.6" fill="#fff" stroke="#000" stroke-width="1.05"/>
<circle cx="664.1" cy="827.6" r="1.6" fill="#fff" stroke="#000" stroke-width="1.05"/>
<circle cx="659.6" cy="833" r="1.6" fill="#fff" stroke="#000" stroke-width="1.05"/>
<circle cx="665.6" cy="833" r="1.6" fill="#fff" stroke="#000" stroke-width="1.05"/>
<circle cx="661.1" cy="836.9" r="1.6" fill="#fff" stroke="#000" stroke-width="1.05"/>
<circle cx="664.1" cy="836.9" r="1.6" fill="#fff" stroke="#000" stroke-width="1.05"/>
<line x1="567.7" y1="804" x2="567.7" y2="915.5" stroke="#0c0c0c" stroke-width="1.1"/>
<line x1="567.7" y1="915" x2="677.5" y2="915" stroke="#0c0c0c" stroke-width="1.1"/>
<line x1="564.5" y1="915" x2="567.7" y2="915" stroke="#0c0c0c" stroke-width="1"/>
<text x="563.3" y="918" font-size="8.2" text-anchor="end">0</text>
<line x1="564.5" y1="892.9" x2="567.7" y2="892.9" stroke="#0c0c0c" stroke-width="1"/>
<text x="563.3" y="895.9" font-size="8.2" text-anchor="end">5</text>
<line x1="564.5" y1="870.8" x2="567.7" y2="870.8" stroke="#0c0c0c" stroke-width="1"/>
<text x="563.3" y="873.8" font-size="8.2" text-anchor="end">10</text>
<line x1="564.5" y1="848.7" x2="567.7" y2="848.7" stroke="#0c0c0c" stroke-width="1"/>
<text x="563.3" y="851.7" font-size="8.2" text-anchor="end">15</text>
<line x1="564.5" y1="826.6" x2="567.7" y2="826.6" stroke="#0c0c0c" stroke-width="1"/>
<text x="563.3" y="829.6" font-size="8.2" text-anchor="end">20</text>
<line x1="564.5" y1="804.5" x2="567.7" y2="804.5" stroke="#0c0c0c" stroke-width="1"/>
<text x="563.3" y="807.5" font-size="8.2" text-anchor="end">25</text>
<text x="585.6" y="876.9" font-size="8" text-anchor="middle">ns</text>
<line x1="578.6" y1="879.2" x2="592.6" y2="879.2" stroke="#000" stroke-width="1.1"/>
<text x="619.6" y="845.1" font-size="8" text-anchor="middle">***</text>
<line x1="612.6" y1="844.5" x2="626.6" y2="844.5" stroke="#000" stroke-width="1.1"/>
<text x="655.6" y="818.5" font-size="8" text-anchor="middle">****</text>
<line x1="648.6" y1="817.8" x2="662.6" y2="817.8" stroke="#000" stroke-width="1.1"/>
<text x="546.6" y="858.5" font-size="10.4" text-anchor="middle" transform="rotate(-90 546.6 858.5)">Stride length (mm)</text>
<text x="578.9" y="928.3" font-size="9.1" text-anchor="middle">1 week</text>
<text x="620.4" y="928.3" font-size="9.1" text-anchor="middle">4 weeks</text>
<text x="661.8" y="928.3" font-size="9.1" text-anchor="middle">10 weeks</text>
</svg>
</body></html>
